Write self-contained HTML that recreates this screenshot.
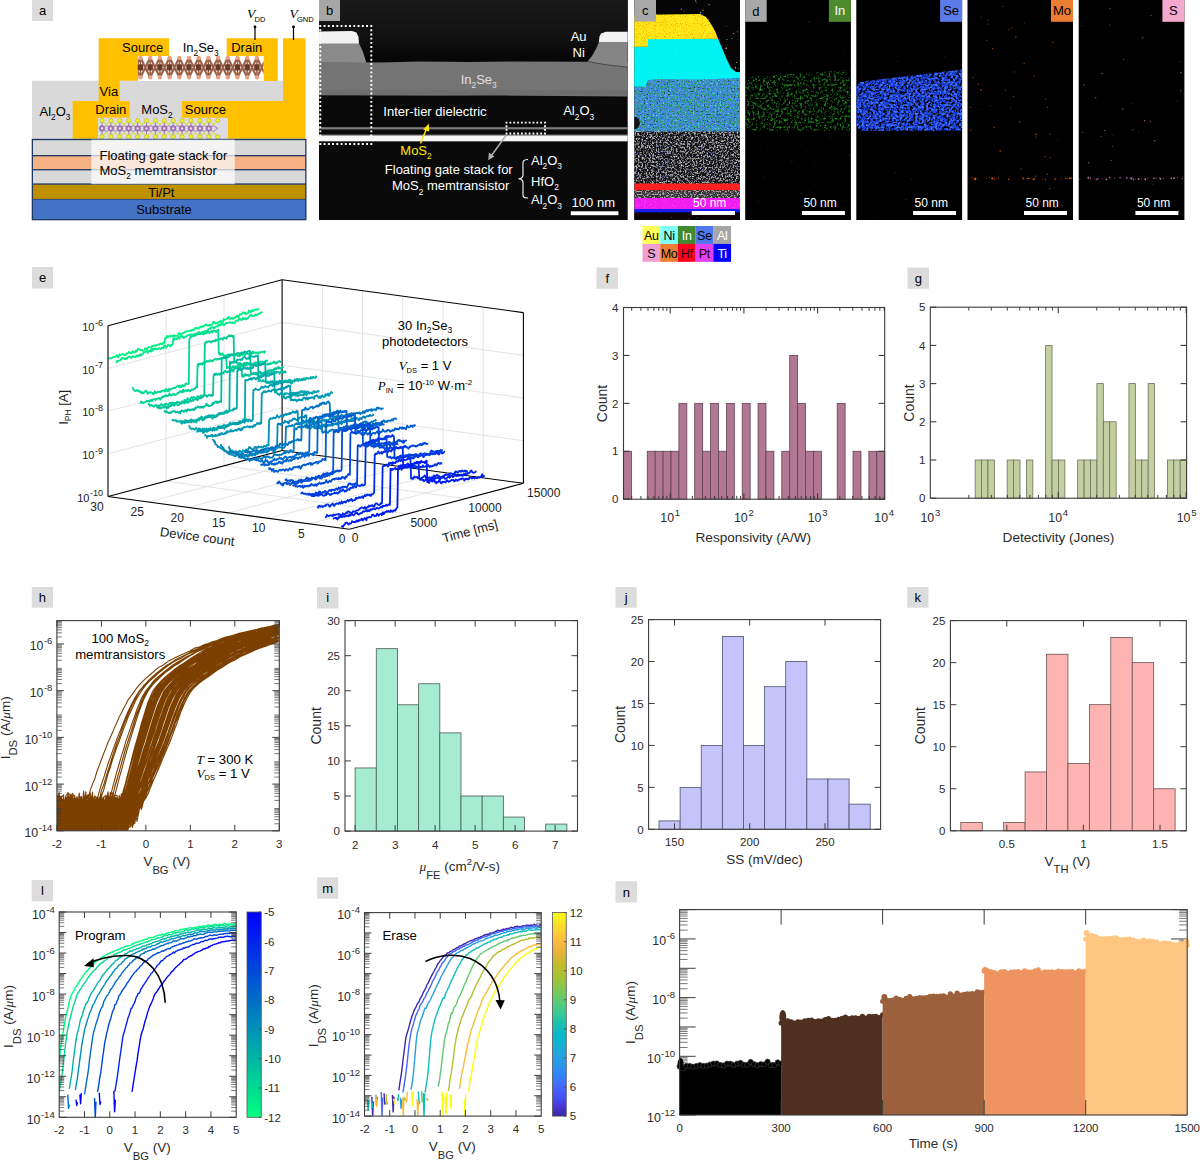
<!DOCTYPE html>
<html><head><meta charset="utf-8"><style>
html,body{margin:0;padding:0;background:#fff;width:1200px;height:1160px;overflow:hidden}
svg{display:block}
</style></head><body>
<svg width="1200" height="1160" viewBox="0 0 1200 1160" font-family="Liberation Sans, sans-serif">
<defs><filter id="nf1" x="0" y="0" width="1" height="1" color-interpolation-filters="sRGB"><feTurbulence type="fractalNoise" baseFrequency="0.5" numOctaves="1" seed="12"/><feColorMatrix type="matrix" values="0 0 0 0 0.533 0 0 0 0 0.533 0 0 0 0 0.533 2.5 0 0 0 -1.3"/></filter><filter id="nf2" x="0" y="0" width="1" height="1" color-interpolation-filters="sRGB"><feTurbulence type="fractalNoise" baseFrequency="0.6" numOctaves="1" seed="21"/><feColorMatrix type="matrix" values="0 0 0 0 0.188 0 0 0 0 0.627 0 0 0 0 0.314 5 0 0 0 -2.2"/><feGaussianBlur stdDeviation="0.3"/></filter><filter id="nf3" x="0" y="0" width="1" height="1" color-interpolation-filters="sRGB"><feTurbulence type="fractalNoise" baseFrequency="0.6" numOctaves="1" seed="22"/><feColorMatrix type="matrix" values="0 0 0 0 0.353 0 0 0 0 0.565 0 0 0 0 1.000 5 0 0 0 -2.5"/><feGaussianBlur stdDeviation="0.3"/></filter><filter id="nf4" x="0" y="0" width="1" height="1" color-interpolation-filters="sRGB"><feTurbulence type="fractalNoise" baseFrequency="0.6" numOctaves="1" seed="23"/><feColorMatrix type="matrix" values="0 0 0 0 0.314 0 0 0 0 0.847 0 0 0 0 0.878 5 0 0 0 -2.9"/><feGaussianBlur stdDeviation="0.3"/></filter><filter id="nf5" x="0" y="0" width="1" height="1" color-interpolation-filters="sRGB"><feTurbulence type="fractalNoise" baseFrequency="0.8" numOctaves="1" seed="24"/><feColorMatrix type="matrix" values="0 0 0 0 1.000 0 0 0 0 0.251 0 0 0 0 0.439 6 0 0 0 -4.3"/><feGaussianBlur stdDeviation="0.3"/></filter><filter id="nf6" x="0" y="0" width="1" height="1" color-interpolation-filters="sRGB"><feTurbulence type="fractalNoise" baseFrequency="0.7" numOctaves="1" seed="25"/><feColorMatrix type="matrix" values="0 0 0 0 0.094 0 0 0 0 0.188 0 0 0 0 0.282 5 0 0 0 -3.0"/><feGaussianBlur stdDeviation="0.3"/></filter><filter id="nf7" x="0" y="0" width="1" height="1" color-interpolation-filters="sRGB"><feTurbulence type="fractalNoise" baseFrequency="0.9" numOctaves="1" seed="26"/><feColorMatrix type="matrix" values="0 0 0 0 0.502 0 0 0 0 1.000 0 0 0 0 1.000 5 0 0 0 -3.5"/></filter><filter id="nf8" x="0" y="0" width="1" height="1" color-interpolation-filters="sRGB"><feTurbulence type="fractalNoise" baseFrequency="0.9" numOctaves="1" seed="27"/><feColorMatrix type="matrix" values="0 0 0 0 1.000 0 0 0 0 0.604 0 0 0 0 0.000 5 0 0 0 -2.8"/></filter><filter id="nf9" x="0" y="0" width="1" height="1" color-interpolation-filters="sRGB"><feTurbulence type="fractalNoise" baseFrequency="0.55" numOctaves="2" seed="31"/><feColorMatrix type="matrix" values="0 0 0 0 0.627 0 0 0 0 0.627 0 0 0 0 0.627 5 0 0 0 -2.35"/><feGaussianBlur stdDeviation="0.4"/></filter><filter id="nf10" x="0" y="0" width="1" height="1" color-interpolation-filters="sRGB"><feTurbulence type="fractalNoise" baseFrequency="0.8" numOctaves="1" seed="36"/><feColorMatrix type="matrix" values="0 0 0 0 0.816 0 0 0 0 0.816 0 0 0 0 0.816 6 0 0 0 -3.6"/><feGaussianBlur stdDeviation="0.3"/></filter><filter id="nf11" x="0" y="0" width="1" height="1" color-interpolation-filters="sRGB"><feTurbulence type="fractalNoise" baseFrequency="0.8" numOctaves="1" seed="32"/><feColorMatrix type="matrix" values="0 0 0 0 0.188 0 0 0 0 0.251 0 0 0 0 0.816 6 0 0 0 -3.9"/><feGaussianBlur stdDeviation="0.3"/></filter><filter id="nf12" x="0" y="0" width="1" height="1" color-interpolation-filters="sRGB"><feTurbulence type="fractalNoise" baseFrequency="1.0" numOctaves="1" seed="33"/><feColorMatrix type="matrix" values="0 0 0 0 0.502 0 0 0 0 0.125 0 0 0 0 0.125 5 0 0 0 -3.2"/></filter><filter id="nf13" x="0" y="0" width="1" height="1" color-interpolation-filters="sRGB"><feTurbulence type="fractalNoise" baseFrequency="0.7" numOctaves="1" seed="34"/><feColorMatrix type="matrix" values="0 0 0 0 0.690 0 0 0 0 0.690 0 0 0 0 0.690 5 0 0 0 -2.3"/><feGaussianBlur stdDeviation="0.35"/></filter><filter id="nf14" x="0" y="0" width="1" height="1" color-interpolation-filters="sRGB"><feTurbulence type="fractalNoise" baseFrequency="0.9" numOctaves="1" seed="35"/><feColorMatrix type="matrix" values="0 0 0 0 1.000 0 0 0 0 0.376 0 0 0 0 1.000 5 0 0 0 -3"/></filter><filter id="nf15" x="0" y="0" width="1" height="1" color-interpolation-filters="sRGB"><feTurbulence type="fractalNoise" baseFrequency="0.38" numOctaves="2" seed="41"/><feColorMatrix type="matrix" values="0 0 0 0 0.086 0 0 0 0 0.408 0 0 0 0 0.086 5 0 0 0 -2.6"/><feGaussianBlur stdDeviation="0.4"/></filter><filter id="nf16" x="0" y="0" width="1" height="1" color-interpolation-filters="sRGB"><feTurbulence type="fractalNoise" baseFrequency="0.45" numOctaves="1" seed="42"/><feColorMatrix type="matrix" values="0 0 0 0 0.165 0 0 0 0 0.604 0 0 0 0 0.165 6 0 0 0 -3.7"/><feGaussianBlur stdDeviation="0.4"/></filter><filter id="nf17" x="0" y="0" width="1" height="1" color-interpolation-filters="sRGB"><feTurbulence type="fractalNoise" baseFrequency="0.38" numOctaves="2" seed="51"/><feColorMatrix type="matrix" values="0 0 0 0 0.110 0 0 0 0 0.251 0 0 0 0 0.878 5 0 0 0 -1.8"/><feGaussianBlur stdDeviation="0.4"/></filter><filter id="nf18" x="0" y="0" width="1" height="1" color-interpolation-filters="sRGB"><feTurbulence type="fractalNoise" baseFrequency="0.45" numOctaves="1" seed="52"/><feColorMatrix type="matrix" values="0 0 0 0 0.235 0 0 0 0 0.439 0 0 0 0 1.000 6 0 0 0 -3.0"/><feGaussianBlur stdDeviation="0.4"/></filter></defs>
<rect x="32" y="0" width="21" height="21" fill="#dcdcdc" />
<text x="42.5" y="15.18" font-size="13" fill="#000" text-anchor="middle" font-family='"Liberation Sans", sans-serif' >a</text>
<rect x="32" y="80.7" width="251" height="58.1" fill="#D9D9D9" />
<polygon points="98.7,38.2 169,38.2 169,56 138,56 138,80.7 119.7,80.7 119.7,101.2 98.7,101.2" fill="#FFC000" />
<polygon points="72.7,101 129.7,101 129.7,117.8 98.2,117.8 98.2,138.8 72.7,138.8" fill="#FFC000" />
<polygon points="226.7,38.2 277.7,38.2 277.7,81 263.5,81 263.5,56 226.7,56" fill="#FFC000" />
<polygon points="283,38.2 305.6,38.2 305.6,138.8 228,138.8 228,118 181.9,118 181.9,101 283,101" fill="#FFC000" />
<rect x="138" y="56" width="125.5" height="25" fill="#ffffff" />
<clipPath id="clipIn"><rect x="138" y="56" width="125.5" height="25"/></clipPath>
<path d="M130.8 57.5L140.5 77.5M140.5 57.5L130.8 77.5 M140.5 57.5L150.2 77.5M150.2 57.5L140.5 77.5 M150.2 57.5L159.9 77.5M159.9 57.5L150.2 77.5 M159.9 57.5L169.6 77.5M169.6 57.5L159.9 77.5 M169.6 57.5L179.3 77.5M179.3 57.5L169.6 77.5 M179.3 57.5L189 77.5M189 57.5L179.3 77.5 M189 57.5L198.7 77.5M198.7 57.5L189 77.5 M198.7 57.5L208.4 77.5M208.4 57.5L198.7 77.5 M208.4 57.5L218.1 77.5M218.1 57.5L208.4 77.5 M218.1 57.5L227.8 77.5M227.8 57.5L218.1 77.5 M227.8 57.5L237.5 77.5M237.5 57.5L227.8 77.5 M237.5 57.5L247.2 77.5M247.2 57.5L237.5 77.5 M247.2 57.5L256.9 77.5M256.9 57.5L247.2 77.5 M256.9 57.5L266.6 77.5M266.6 57.5L256.9 77.5" stroke="#C08068" stroke-width="2.4" fill="none" clip-path="url(#clipIn)"/>
<path d="M130.8 57.5L140.5 77.5M140.5 57.5L130.8 77.5 M140.5 57.5L150.2 77.5M150.2 57.5L140.5 77.5 M150.2 57.5L159.9 77.5M159.9 57.5L150.2 77.5 M159.9 57.5L169.6 77.5M169.6 57.5L159.9 77.5 M169.6 57.5L179.3 77.5M179.3 57.5L169.6 77.5 M179.3 57.5L189 77.5M189 57.5L179.3 77.5 M189 57.5L198.7 77.5M198.7 57.5L189 77.5 M198.7 57.5L208.4 77.5M208.4 57.5L198.7 77.5 M208.4 57.5L218.1 77.5M218.1 57.5L208.4 77.5 M218.1 57.5L227.8 77.5M227.8 57.5L218.1 77.5 M227.8 57.5L237.5 77.5M237.5 57.5L227.8 77.5 M237.5 57.5L247.2 77.5M247.2 57.5L237.5 77.5 M247.2 57.5L256.9 77.5M256.9 57.5L247.2 77.5 M256.9 57.5L266.6 77.5M266.6 57.5L256.9 77.5" stroke="#8E5A44" stroke-width="1.2" fill="none" clip-path="url(#clipIn)"/>
<path d="M140.5 57.5L140.5 77.5 M150.2 57.5L150.2 77.5 M159.9 57.5L159.9 77.5 M169.6 57.5L169.6 77.5 M179.3 57.5L179.3 77.5 M189 57.5L189 77.5 M198.7 57.5L198.7 77.5 M208.4 57.5L208.4 77.5 M218.1 57.5L218.1 77.5 M227.8 57.5L227.8 77.5 M237.5 57.5L237.5 77.5 M247.2 57.5L247.2 77.5 M256.9 57.5L256.9 77.5" stroke="#6a5040" stroke-width="1.2" fill="none"/>
<rect x="137.8" y="64.3" width="5.4" height="6.2" rx="1" fill="#6A3A28"/>
<circle cx="140.5" cy="57.9" r="2.2" fill="#E8A080"/>
<circle cx="140.5" cy="77.2" r="2.2" fill="#E8A080"/>
<circle cx="140.5" cy="62" r="1.1" fill="#b07050"/>
<circle cx="140.5" cy="72.5" r="1.1" fill="#b07050"/>
<rect x="147.5" y="64.3" width="5.4" height="6.2" rx="1" fill="#6A3A28"/>
<circle cx="150.2" cy="57.9" r="2.2" fill="#E8A080"/>
<circle cx="150.2" cy="77.2" r="2.2" fill="#E8A080"/>
<circle cx="150.2" cy="62" r="1.1" fill="#b07050"/>
<circle cx="150.2" cy="72.5" r="1.1" fill="#b07050"/>
<rect x="157.2" y="64.3" width="5.4" height="6.2" rx="1" fill="#6A3A28"/>
<circle cx="159.9" cy="57.9" r="2.2" fill="#E8A080"/>
<circle cx="159.9" cy="77.2" r="2.2" fill="#E8A080"/>
<circle cx="159.9" cy="62" r="1.1" fill="#b07050"/>
<circle cx="159.9" cy="72.5" r="1.1" fill="#b07050"/>
<rect x="166.9" y="64.3" width="5.4" height="6.2" rx="1" fill="#6A3A28"/>
<circle cx="169.6" cy="57.9" r="2.2" fill="#E8A080"/>
<circle cx="169.6" cy="77.2" r="2.2" fill="#E8A080"/>
<circle cx="169.6" cy="62" r="1.1" fill="#b07050"/>
<circle cx="169.6" cy="72.5" r="1.1" fill="#b07050"/>
<rect x="176.6" y="64.3" width="5.4" height="6.2" rx="1" fill="#6A3A28"/>
<circle cx="179.3" cy="57.9" r="2.2" fill="#E8A080"/>
<circle cx="179.3" cy="77.2" r="2.2" fill="#E8A080"/>
<circle cx="179.3" cy="62" r="1.1" fill="#b07050"/>
<circle cx="179.3" cy="72.5" r="1.1" fill="#b07050"/>
<rect x="186.3" y="64.3" width="5.4" height="6.2" rx="1" fill="#6A3A28"/>
<circle cx="189" cy="57.9" r="2.2" fill="#E8A080"/>
<circle cx="189" cy="77.2" r="2.2" fill="#E8A080"/>
<circle cx="189" cy="62" r="1.1" fill="#b07050"/>
<circle cx="189" cy="72.5" r="1.1" fill="#b07050"/>
<rect x="196" y="64.3" width="5.4" height="6.2" rx="1" fill="#6A3A28"/>
<circle cx="198.7" cy="57.9" r="2.2" fill="#E8A080"/>
<circle cx="198.7" cy="77.2" r="2.2" fill="#E8A080"/>
<circle cx="198.7" cy="62" r="1.1" fill="#b07050"/>
<circle cx="198.7" cy="72.5" r="1.1" fill="#b07050"/>
<rect x="205.7" y="64.3" width="5.4" height="6.2" rx="1" fill="#6A3A28"/>
<circle cx="208.4" cy="57.9" r="2.2" fill="#E8A080"/>
<circle cx="208.4" cy="77.2" r="2.2" fill="#E8A080"/>
<circle cx="208.4" cy="62" r="1.1" fill="#b07050"/>
<circle cx="208.4" cy="72.5" r="1.1" fill="#b07050"/>
<rect x="215.4" y="64.3" width="5.4" height="6.2" rx="1" fill="#6A3A28"/>
<circle cx="218.1" cy="57.9" r="2.2" fill="#E8A080"/>
<circle cx="218.1" cy="77.2" r="2.2" fill="#E8A080"/>
<circle cx="218.1" cy="62" r="1.1" fill="#b07050"/>
<circle cx="218.1" cy="72.5" r="1.1" fill="#b07050"/>
<rect x="225.1" y="64.3" width="5.4" height="6.2" rx="1" fill="#6A3A28"/>
<circle cx="227.8" cy="57.9" r="2.2" fill="#E8A080"/>
<circle cx="227.8" cy="77.2" r="2.2" fill="#E8A080"/>
<circle cx="227.8" cy="62" r="1.1" fill="#b07050"/>
<circle cx="227.8" cy="72.5" r="1.1" fill="#b07050"/>
<rect x="234.8" y="64.3" width="5.4" height="6.2" rx="1" fill="#6A3A28"/>
<circle cx="237.5" cy="57.9" r="2.2" fill="#E8A080"/>
<circle cx="237.5" cy="77.2" r="2.2" fill="#E8A080"/>
<circle cx="237.5" cy="62" r="1.1" fill="#b07050"/>
<circle cx="237.5" cy="72.5" r="1.1" fill="#b07050"/>
<rect x="244.5" y="64.3" width="5.4" height="6.2" rx="1" fill="#6A3A28"/>
<circle cx="247.2" cy="57.9" r="2.2" fill="#E8A080"/>
<circle cx="247.2" cy="77.2" r="2.2" fill="#E8A080"/>
<circle cx="247.2" cy="62" r="1.1" fill="#b07050"/>
<circle cx="247.2" cy="72.5" r="1.1" fill="#b07050"/>
<rect x="254.2" y="64.3" width="5.4" height="6.2" rx="1" fill="#6A3A28"/>
<circle cx="256.9" cy="57.9" r="2.2" fill="#E8A080"/>
<circle cx="256.9" cy="77.2" r="2.2" fill="#E8A080"/>
<circle cx="256.9" cy="62" r="1.1" fill="#b07050"/>
<circle cx="256.9" cy="72.5" r="1.1" fill="#b07050"/>
<rect x="98.2" y="117.8" width="129.8" height="21" fill="#dcdce2" />
<path d="M102 120.5L106.45 124.5L110.9 120.5 M102 136.7L106.45 132.5L110.9 136.7 M110.9 120.5L115.35 124.5L119.8 120.5 M110.9 136.7L115.35 132.5L119.8 136.7 M119.8 120.5L124.25 124.5L128.7 120.5 M119.8 136.7L124.25 132.5L128.7 136.7 M128.7 120.5L133.15 124.5L137.6 120.5 M128.7 136.7L133.15 132.5L137.6 136.7 M137.6 120.5L142.05 124.5L146.5 120.5 M137.6 136.7L142.05 132.5L146.5 136.7 M146.5 120.5L150.95 124.5L155.4 120.5 M146.5 136.7L150.95 132.5L155.4 136.7 M155.4 120.5L159.85 124.5L164.3 120.5 M155.4 136.7L159.85 132.5L164.3 136.7 M164.3 120.5L168.75 124.5L173.2 120.5 M164.3 136.7L168.75 132.5L173.2 136.7 M173.2 120.5L177.65 124.5L182.1 120.5 M173.2 136.7L177.65 132.5L182.1 136.7 M182.1 120.5L186.55 124.5L191 120.5 M182.1 136.7L186.55 132.5L191 136.7 M191 120.5L195.45 124.5L199.9 120.5 M191 136.7L195.45 132.5L199.9 136.7 M199.9 120.5L204.35 124.5L208.8 120.5 M199.9 136.7L204.35 132.5L208.8 136.7 M208.8 120.5L213.25 124.5L217.7 120.5 M208.8 136.7L213.25 132.5L217.7 136.7" stroke="#E0E040" stroke-width="1.1" fill="none"/>
<path d="M102 120.5L102 136.7M102 128.4L106.45 125.5M102 128.4L106.45 131.5M110.9 128.4L106.45 125.5M110.9 128.4L106.45 131.5 M110.9 120.5L110.9 136.7M110.9 128.4L115.35 125.5M110.9 128.4L115.35 131.5M119.8 128.4L115.35 125.5M119.8 128.4L115.35 131.5 M119.8 120.5L119.8 136.7M119.8 128.4L124.25 125.5M119.8 128.4L124.25 131.5M128.7 128.4L124.25 125.5M128.7 128.4L124.25 131.5 M128.7 120.5L128.7 136.7M128.7 128.4L133.15 125.5M128.7 128.4L133.15 131.5M137.6 128.4L133.15 125.5M137.6 128.4L133.15 131.5 M137.6 120.5L137.6 136.7M137.6 128.4L142.05 125.5M137.6 128.4L142.05 131.5M146.5 128.4L142.05 125.5M146.5 128.4L142.05 131.5 M146.5 120.5L146.5 136.7M146.5 128.4L150.95 125.5M146.5 128.4L150.95 131.5M155.4 128.4L150.95 125.5M155.4 128.4L150.95 131.5 M155.4 120.5L155.4 136.7M155.4 128.4L159.85 125.5M155.4 128.4L159.85 131.5M164.3 128.4L159.85 125.5M164.3 128.4L159.85 131.5 M164.3 120.5L164.3 136.7M164.3 128.4L168.75 125.5M164.3 128.4L168.75 131.5M173.2 128.4L168.75 125.5M173.2 128.4L168.75 131.5 M173.2 120.5L173.2 136.7M173.2 128.4L177.65 125.5M173.2 128.4L177.65 131.5M182.1 128.4L177.65 125.5M182.1 128.4L177.65 131.5 M182.1 120.5L182.1 136.7M182.1 128.4L186.55 125.5M182.1 128.4L186.55 131.5M191 128.4L186.55 125.5M191 128.4L186.55 131.5 M191 120.5L191 136.7M191 128.4L195.45 125.5M191 128.4L195.45 131.5M199.9 128.4L195.45 125.5M199.9 128.4L195.45 131.5 M199.9 120.5L199.9 136.7M199.9 128.4L204.35 125.5M199.9 128.4L204.35 131.5M208.8 128.4L204.35 125.5M208.8 128.4L204.35 131.5 M208.8 120.5L208.8 136.7M208.8 128.4L213.25 125.5M208.8 128.4L213.25 131.5M217.7 128.4L213.25 125.5M217.7 128.4L213.25 131.5" stroke="#9870a8" stroke-width="0.9" fill="none"/>
<circle cx="102" cy="120.5" r="2.1" fill="#F0F030" stroke="#a8a820" stroke-width="0.5"/>
<circle cx="102" cy="136.7" r="2.1" fill="#F0F030" stroke="#a8a820" stroke-width="0.5"/>
<circle cx="110.9" cy="120.5" r="2.1" fill="#F0F030" stroke="#a8a820" stroke-width="0.5"/>
<circle cx="110.9" cy="136.7" r="2.1" fill="#F0F030" stroke="#a8a820" stroke-width="0.5"/>
<circle cx="119.8" cy="120.5" r="2.1" fill="#F0F030" stroke="#a8a820" stroke-width="0.5"/>
<circle cx="119.8" cy="136.7" r="2.1" fill="#F0F030" stroke="#a8a820" stroke-width="0.5"/>
<circle cx="128.7" cy="120.5" r="2.1" fill="#F0F030" stroke="#a8a820" stroke-width="0.5"/>
<circle cx="128.7" cy="136.7" r="2.1" fill="#F0F030" stroke="#a8a820" stroke-width="0.5"/>
<circle cx="137.6" cy="120.5" r="2.1" fill="#F0F030" stroke="#a8a820" stroke-width="0.5"/>
<circle cx="137.6" cy="136.7" r="2.1" fill="#F0F030" stroke="#a8a820" stroke-width="0.5"/>
<circle cx="146.5" cy="120.5" r="2.1" fill="#F0F030" stroke="#a8a820" stroke-width="0.5"/>
<circle cx="146.5" cy="136.7" r="2.1" fill="#F0F030" stroke="#a8a820" stroke-width="0.5"/>
<circle cx="155.4" cy="120.5" r="2.1" fill="#F0F030" stroke="#a8a820" stroke-width="0.5"/>
<circle cx="155.4" cy="136.7" r="2.1" fill="#F0F030" stroke="#a8a820" stroke-width="0.5"/>
<circle cx="164.3" cy="120.5" r="2.1" fill="#F0F030" stroke="#a8a820" stroke-width="0.5"/>
<circle cx="164.3" cy="136.7" r="2.1" fill="#F0F030" stroke="#a8a820" stroke-width="0.5"/>
<circle cx="173.2" cy="120.5" r="2.1" fill="#F0F030" stroke="#a8a820" stroke-width="0.5"/>
<circle cx="173.2" cy="136.7" r="2.1" fill="#F0F030" stroke="#a8a820" stroke-width="0.5"/>
<circle cx="182.1" cy="120.5" r="2.1" fill="#F0F030" stroke="#a8a820" stroke-width="0.5"/>
<circle cx="182.1" cy="136.7" r="2.1" fill="#F0F030" stroke="#a8a820" stroke-width="0.5"/>
<circle cx="191" cy="120.5" r="2.1" fill="#F0F030" stroke="#a8a820" stroke-width="0.5"/>
<circle cx="191" cy="136.7" r="2.1" fill="#F0F030" stroke="#a8a820" stroke-width="0.5"/>
<circle cx="199.9" cy="120.5" r="2.1" fill="#F0F030" stroke="#a8a820" stroke-width="0.5"/>
<circle cx="199.9" cy="136.7" r="2.1" fill="#F0F030" stroke="#a8a820" stroke-width="0.5"/>
<circle cx="208.8" cy="120.5" r="2.1" fill="#F0F030" stroke="#a8a820" stroke-width="0.5"/>
<circle cx="208.8" cy="136.7" r="2.1" fill="#F0F030" stroke="#a8a820" stroke-width="0.5"/>
<circle cx="217.7" cy="120.5" r="2.1" fill="#F0F030" stroke="#a8a820" stroke-width="0.5"/>
<circle cx="217.7" cy="136.7" r="2.1" fill="#F0F030" stroke="#a8a820" stroke-width="0.5"/>
<circle cx="102" cy="128.4" r="2.8" fill="#A878B8" stroke="#8a5a9a" stroke-width="0.5"/>
<circle cx="102" cy="128.4" r="1.1" fill="#f4e4f4"/>
<circle cx="110.9" cy="128.4" r="2.8" fill="#A878B8" stroke="#8a5a9a" stroke-width="0.5"/>
<circle cx="110.9" cy="128.4" r="1.1" fill="#f4e4f4"/>
<circle cx="119.8" cy="128.4" r="2.8" fill="#A878B8" stroke="#8a5a9a" stroke-width="0.5"/>
<circle cx="119.8" cy="128.4" r="1.1" fill="#f4e4f4"/>
<circle cx="128.7" cy="128.4" r="2.8" fill="#A878B8" stroke="#8a5a9a" stroke-width="0.5"/>
<circle cx="128.7" cy="128.4" r="1.1" fill="#f4e4f4"/>
<circle cx="137.6" cy="128.4" r="2.8" fill="#A878B8" stroke="#8a5a9a" stroke-width="0.5"/>
<circle cx="137.6" cy="128.4" r="1.1" fill="#f4e4f4"/>
<circle cx="146.5" cy="128.4" r="2.8" fill="#A878B8" stroke="#8a5a9a" stroke-width="0.5"/>
<circle cx="146.5" cy="128.4" r="1.1" fill="#f4e4f4"/>
<circle cx="155.4" cy="128.4" r="2.8" fill="#A878B8" stroke="#8a5a9a" stroke-width="0.5"/>
<circle cx="155.4" cy="128.4" r="1.1" fill="#f4e4f4"/>
<circle cx="164.3" cy="128.4" r="2.8" fill="#A878B8" stroke="#8a5a9a" stroke-width="0.5"/>
<circle cx="164.3" cy="128.4" r="1.1" fill="#f4e4f4"/>
<circle cx="173.2" cy="128.4" r="2.8" fill="#A878B8" stroke="#8a5a9a" stroke-width="0.5"/>
<circle cx="173.2" cy="128.4" r="1.1" fill="#f4e4f4"/>
<circle cx="182.1" cy="128.4" r="2.8" fill="#A878B8" stroke="#8a5a9a" stroke-width="0.5"/>
<circle cx="182.1" cy="128.4" r="1.1" fill="#f4e4f4"/>
<circle cx="191" cy="128.4" r="2.8" fill="#A878B8" stroke="#8a5a9a" stroke-width="0.5"/>
<circle cx="191" cy="128.4" r="1.1" fill="#f4e4f4"/>
<circle cx="199.9" cy="128.4" r="2.8" fill="#A878B8" stroke="#8a5a9a" stroke-width="0.5"/>
<circle cx="199.9" cy="128.4" r="1.1" fill="#f4e4f4"/>
<circle cx="208.8" cy="128.4" r="2.8" fill="#A878B8" stroke="#8a5a9a" stroke-width="0.5"/>
<circle cx="208.8" cy="128.4" r="1.1" fill="#f4e4f4"/>
<rect x="31.7" y="138.8" width="274.8" height="81.5" fill="#1F3864" />
<rect x="33" y="140.2" width="272.2" height="14.8" fill="#D9D9D9" />
<rect x="33" y="156.3" width="272.2" height="12.8" fill="#F4B183" />
<rect x="33" y="170.4" width="272.2" height="13" fill="#D9D9D9" />
<rect x="33" y="184.7" width="272.2" height="14.2" fill="#BF9000" />
<rect x="33" y="199.6" width="272.2" height="19.4" fill="#4472C4" />
<rect x="91.3" y="139.6" width="143.45" height="44.6" fill="#ffffff" opacity="0.7"/>
<text x="122" y="51.75" font-size="13" fill="#000" text-anchor="start" font-family='"Liberation Sans", sans-serif' >Source</text>
<text x="182.7" y="51.5" font-size="13" fill="#000" text-anchor="start" font-family='"Liberation Sans", sans-serif' >In<tspan font-size="8.3" dy="4.3">2</tspan><tspan dy="-4.3">Se</tspan><tspan font-size="8.3" dy="4.3">3</tspan></text>
<text x="231.2" y="51.75" font-size="13" fill="#000" text-anchor="start" font-family='"Liberation Sans", sans-serif' >Drain</text>
<text x="99.6" y="95.7" font-size="13" fill="#000" text-anchor="start" font-family='"Liberation Sans", sans-serif' >Via</text>
<text x="39.5" y="115.5" font-size="13" fill="#000" text-anchor="start" font-family='"Liberation Sans", sans-serif' >Al<tspan font-size="8.3" dy="4.3">2</tspan><tspan dy="-4.3">O</tspan><tspan font-size="8.3" dy="4.3">3</tspan></text>
<text x="95.25" y="113.75" font-size="13" fill="#000" text-anchor="start" font-family='"Liberation Sans", sans-serif' >Drain</text>
<text x="141.3" y="113.75" font-size="13" fill="#000" text-anchor="start" font-family='"Liberation Sans", sans-serif' >MoS<tspan font-size="8.3" dy="4.3">2</tspan></text>
<text x="184.8" y="113.75" font-size="13" fill="#000" text-anchor="start" font-family='"Liberation Sans", sans-serif' >Source</text>
<text x="99.5" y="159.6" font-size="13" fill="#000" text-anchor="start" font-family='"Liberation Sans", sans-serif' >Floating gate stack for</text>
<text x="99.5" y="175" font-size="13" fill="#000" text-anchor="start" font-family='"Liberation Sans", sans-serif' >MoS<tspan font-size="8.3" dy="4.3">2</tspan><tspan dy="-4.3"> memtransistor</tspan></text>
<text x="161.3" y="197" font-size="13" fill="#000" text-anchor="middle" font-family='"Liberation Sans", sans-serif' >Ti/Pt</text>
<text x="164" y="214.3" font-size="13" fill="#000" text-anchor="middle" font-family='"Liberation Sans", sans-serif' >Substrate</text>
<line x1="255" y1="27" x2="255" y2="40" stroke="#000" stroke-width="1.2" />
<circle cx="255" cy="27" r="1.4" fill="#000"/>
<line x1="293.5" y1="27" x2="293.5" y2="40" stroke="#000" stroke-width="1.2" />
<circle cx="293.5" cy="27" r="1.4" fill="#000"/>
<text x="247" y="17.5" font-size="13.5" fill="#000" text-anchor="start" font-family='"Liberation Serif", serif' font-style="italic">V</text>
<text x="254.5" y="21.5" font-size="7.5" fill="#000" text-anchor="start" font-family='"Liberation Sans", sans-serif' >DD</text>
<text x="289.5" y="17.5" font-size="13.5" fill="#000" text-anchor="start" font-family='"Liberation Serif", serif' font-style="italic">V</text>
<text x="297" y="21.5" font-size="7.5" fill="#000" text-anchor="start" font-family='"Liberation Sans", sans-serif' >GND</text>
<rect x="319" y="0" width="308.7" height="220" fill="#0a0a0a" />
<linearGradient id="gbtop" x1="0" y1="0" x2="0" y2="1"><stop offset="0" stop-color="#1a1a1a"/><stop offset="0.6" stop-color="#111"/><stop offset="1" stop-color="#050505"/></linearGradient>
<rect x="319" y="0" width="308.7" height="62" fill="url(#gbtop)" />
<path d="M319 31.5L352 31L356.5 32.5L358.5 37L359 44L319 44Z" fill="#f2f2f2"/>
<path d="M319 43.5L359 43.5L363 52L365.5 60L366.5 63L319 63Z" fill="#8a8a8a"/>
<path d="M627.7 31.8L606 31.8L601 33.5L599.5 36.5L598.8 42.5L627.7 42.5Z" fill="#f2f2f2"/>
<path d="M319 62L380 62.5L420 61.5L470 62L520 61.5L590 61.8L627.7 62.5L627.7 96.5L560 96L500 95.3L440 95.5L380 95.3L319 95Z" fill="#747474"/>
<rect x="319" y="62" width="308.7" height="34" fill="#000" filter="url(#nf1)"  opacity="0.35"/>
<rect x="319" y="90" width="308.7" height="5.5" fill="#6a6a6a" opacity="0.6"/>
<path d="M598.8 42.3L627.7 42.3L627.7 67.5L605 65L590 62L587.5 61.5L592 56L596.5 48Z" fill="#858585"/>
<path d="M588 61.6L605 64.6L627.7 67.2" fill="none" stroke="#3a3a3a" stroke-width="0.8"/>
<rect x="319" y="127.2" width="308.7" height="2.2" fill="#7e7e7e" />
<rect x="319" y="135.3" width="308.7" height="5.7" fill="#f6f6f6" />
<rect x="319" y="134.6" width="308.7" height="0.7" fill="#888" />
<rect x="319" y="141" width="308.7" height="0.7" fill="#777" />
<path d="M319.35 25.05h1.9v1.9h-1.9ZM319.35 29.26h1.9v1.9h-1.9ZM319.35 33.48h1.9v1.9h-1.9ZM319.35 37.69h1.9v1.9h-1.9ZM319.35 41.91h1.9v1.9h-1.9ZM319.35 46.12h1.9v1.9h-1.9ZM319.35 50.34h1.9v1.9h-1.9ZM319.35 54.55h1.9v1.9h-1.9ZM319.35 58.76h1.9v1.9h-1.9ZM319.35 62.98h1.9v1.9h-1.9ZM319.35 67.19h1.9v1.9h-1.9ZM319.35 71.41h1.9v1.9h-1.9ZM319.35 75.62h1.9v1.9h-1.9ZM319.35 79.84h1.9v1.9h-1.9ZM319.35 84.05h1.9v1.9h-1.9ZM319.35 88.26h1.9v1.9h-1.9ZM319.35 92.48h1.9v1.9h-1.9ZM319.35 96.69h1.9v1.9h-1.9ZM319.35 100.91h1.9v1.9h-1.9ZM319.35 105.12h1.9v1.9h-1.9ZM319.35 109.34h1.9v1.9h-1.9ZM319.35 113.55h1.9v1.9h-1.9ZM319.35 117.76h1.9v1.9h-1.9ZM319.35 121.98h1.9v1.9h-1.9ZM319.35 126.19h1.9v1.9h-1.9ZM319.35 130.41h1.9v1.9h-1.9ZM319.35 134.62h1.9v1.9h-1.9ZM319.35 138.84h1.9v1.9h-1.9ZM319.35 143.05h1.9v1.9h-1.9ZM323.6 25.05h1.9v1.9h-1.9ZM323.6 143.05h1.9v1.9h-1.9ZM327.85 25.05h1.9v1.9h-1.9ZM327.85 143.05h1.9v1.9h-1.9ZM332.1 25.05h1.9v1.9h-1.9ZM332.1 143.05h1.9v1.9h-1.9ZM336.35 25.05h1.9v1.9h-1.9ZM336.35 143.05h1.9v1.9h-1.9ZM340.6 25.05h1.9v1.9h-1.9ZM340.6 143.05h1.9v1.9h-1.9ZM344.85 25.05h1.9v1.9h-1.9ZM344.85 143.05h1.9v1.9h-1.9ZM349.1 25.05h1.9v1.9h-1.9ZM349.1 143.05h1.9v1.9h-1.9ZM353.35 25.05h1.9v1.9h-1.9ZM353.35 143.05h1.9v1.9h-1.9ZM357.6 25.05h1.9v1.9h-1.9ZM357.6 143.05h1.9v1.9h-1.9ZM361.85 25.05h1.9v1.9h-1.9ZM361.85 143.05h1.9v1.9h-1.9ZM366.1 25.05h1.9v1.9h-1.9ZM366.1 143.05h1.9v1.9h-1.9ZM370.35 25.05h1.9v1.9h-1.9ZM370.35 29.26h1.9v1.9h-1.9ZM370.35 33.48h1.9v1.9h-1.9ZM370.35 37.69h1.9v1.9h-1.9ZM370.35 41.91h1.9v1.9h-1.9ZM370.35 46.12h1.9v1.9h-1.9ZM370.35 50.34h1.9v1.9h-1.9ZM370.35 54.55h1.9v1.9h-1.9ZM370.35 58.76h1.9v1.9h-1.9ZM370.35 62.98h1.9v1.9h-1.9ZM370.35 67.19h1.9v1.9h-1.9ZM370.35 71.41h1.9v1.9h-1.9ZM370.35 75.62h1.9v1.9h-1.9ZM370.35 79.84h1.9v1.9h-1.9ZM370.35 84.05h1.9v1.9h-1.9ZM370.35 88.26h1.9v1.9h-1.9ZM370.35 92.48h1.9v1.9h-1.9ZM370.35 96.69h1.9v1.9h-1.9ZM370.35 100.91h1.9v1.9h-1.9ZM370.35 105.12h1.9v1.9h-1.9ZM370.35 109.34h1.9v1.9h-1.9ZM370.35 113.55h1.9v1.9h-1.9ZM370.35 117.76h1.9v1.9h-1.9ZM370.35 121.98h1.9v1.9h-1.9ZM370.35 126.19h1.9v1.9h-1.9ZM370.35 130.41h1.9v1.9h-1.9ZM370.35 134.62h1.9v1.9h-1.9ZM370.35 138.84h1.9v1.9h-1.9ZM370.35 143.05h1.9v1.9h-1.9Z" fill="#fff"/>
<path d="M505.6 121.7h1.8v1.8h-1.8ZM505.6 125.33h1.8v1.8h-1.8ZM505.6 128.97h1.8v1.8h-1.8ZM505.6 132.6h1.8v1.8h-1.8ZM509.45 121.7h1.8v1.8h-1.8ZM509.45 132.6h1.8v1.8h-1.8ZM513.3 121.7h1.8v1.8h-1.8ZM513.3 132.6h1.8v1.8h-1.8ZM517.15 121.7h1.8v1.8h-1.8ZM517.15 132.6h1.8v1.8h-1.8ZM521 121.7h1.8v1.8h-1.8ZM521 132.6h1.8v1.8h-1.8ZM524.85 121.7h1.8v1.8h-1.8ZM524.85 132.6h1.8v1.8h-1.8ZM528.7 121.7h1.8v1.8h-1.8ZM528.7 132.6h1.8v1.8h-1.8ZM532.55 121.7h1.8v1.8h-1.8ZM532.55 132.6h1.8v1.8h-1.8ZM536.4 121.7h1.8v1.8h-1.8ZM536.4 132.6h1.8v1.8h-1.8ZM540.25 121.7h1.8v1.8h-1.8ZM540.25 132.6h1.8v1.8h-1.8ZM544.1 121.7h1.8v1.8h-1.8ZM544.1 125.33h1.8v1.8h-1.8ZM544.1 128.97h1.8v1.8h-1.8ZM544.1 132.6h1.8v1.8h-1.8Z" fill="#fff"/>
<text x="460.7" y="83.9" font-size="13" fill="#e0e0e0" text-anchor="start" font-family='"Liberation Sans", sans-serif' >In<tspan font-size="8.3" dy="4.3">2</tspan><tspan dy="-4.3">Se</tspan><tspan font-size="8.3" dy="4.3">3</tspan></text>
<text x="383.3" y="116" font-size="13" fill="#ffffff" text-anchor="start" font-family='"Liberation Sans", sans-serif' >Inter-tier dielectric</text>
<text x="563.2" y="115.3" font-size="13" fill="#ffffff" text-anchor="start" font-family='"Liberation Sans", sans-serif' >Al<tspan font-size="8.3" dy="4.3">2</tspan><tspan dy="-4.3">O</tspan><tspan font-size="8.3" dy="4.3">3</tspan></text>
<text x="570.7" y="40.7" font-size="13" fill="#ffffff" text-anchor="start" font-family='"Liberation Sans", sans-serif' >Au</text>
<text x="572.6" y="56.6" font-size="13" fill="#ffffff" text-anchor="start" font-family='"Liberation Sans", sans-serif' >Ni</text>
<text x="400.3" y="154.7" font-size="13" fill="#FFE800" text-anchor="start" font-family='"Liberation Sans", sans-serif' >MoS<tspan font-size="8.3" dy="4.3">2</tspan></text>
<line x1="420.5" y1="143.5" x2="426.2" y2="129.5" stroke="#FFE800" stroke-width="1.5" />
<polygon points="428.8,123.5 423.2,129.8 429.2,131.6" fill="#FFE800" />
<line x1="506" y1="135.5" x2="491.5" y2="155.5" stroke="#b0b0b0" stroke-width="1.4" />
<polygon points="488.3,160.2 488.9,152.6 494.4,156.6" fill="#b0b0b0" />
<text x="384.8" y="174" font-size="13" fill="#ffffff" text-anchor="start" font-family='"Liberation Sans", sans-serif' >Floating gate stack for</text>
<text x="392" y="190.4" font-size="13" fill="#ffffff" text-anchor="start" font-family='"Liberation Sans", sans-serif' >MoS<tspan font-size="8.3" dy="4.3">2</tspan><tspan dy="-4.3"> memtransistor</tspan></text>
<path d="M528 159.5C522 159.5 523 162 523 166L523 175C523 177.5 522 178.5 518.5 178.8C522 179.1 523 180 523 182.5L523 191.5C523 196 522 198 528 198" fill="none" stroke="#fff" stroke-width="1.1"/>
<text x="531" y="164.6" font-size="13" fill="#ffffff" text-anchor="start" font-family='"Liberation Sans", sans-serif' >Al<tspan font-size="8.3" dy="4.3">2</tspan><tspan dy="-4.3">O</tspan><tspan font-size="8.3" dy="4.3">3</tspan></text>
<text x="531" y="185.5" font-size="13" fill="#ffffff" text-anchor="start" font-family='"Liberation Sans", sans-serif' >HfO<tspan font-size="8.3" dy="4.3">2</tspan></text>
<text x="531" y="204.3" font-size="13" fill="#ffffff" text-anchor="start" font-family='"Liberation Sans", sans-serif' >Al<tspan font-size="8.3" dy="4.3">2</tspan><tspan dy="-4.3">O</tspan><tspan font-size="8.3" dy="4.3">3</tspan></text>
<text x="571.6" y="207.3" font-size="13" fill="#ffffff" text-anchor="start" font-family='"Liberation Sans", sans-serif' >100 nm</text>
<rect x="570.8" y="211.3" width="47.6" height="3.9" fill="#ffffff" />
<rect x="319" y="0" width="21" height="21" fill="#a6a6a6" />
<text x="329.5" y="15.18" font-size="13" fill="#000" text-anchor="middle" font-family='"Liberation Sans", sans-serif' >b</text>
<clipPath id="clipC"><rect x="634.3" y="0" width="105.70000000000005" height="220"/></clipPath>
<rect x="634.3" y="0" width="105.7" height="220" fill="#050505" />
<circle cx="700.14" cy="51.93" r="0.72" fill="#ff8040" opacity="0.8"/>
<circle cx="703.22" cy="37.1" r="0.74" fill="#40ffff" opacity="0.8"/>
<circle cx="702.9" cy="63.06" r="0.45" fill="#ff4040" opacity="0.8"/>
<circle cx="726.09" cy="26.65" r="0.44" fill="#40ffff" opacity="0.8"/>
<circle cx="635.69" cy="15.17" r="0.51" fill="#ff4040" opacity="0.8"/>
<circle cx="651.17" cy="55.8" r="0.46" fill="#4060ff" opacity="0.8"/>
<circle cx="681.32" cy="9.26" r="0.79" fill="#ff40ff" opacity="0.8"/>
<circle cx="656.44" cy="15.08" r="0.79" fill="#40ffff" opacity="0.8"/>
<circle cx="664.88" cy="67.3" r="0.62" fill="#ff8040" opacity="0.8"/>
<circle cx="700.44" cy="12.72" r="0.79" fill="#40ffff" opacity="0.8"/>
<circle cx="736.47" cy="62.56" r="0.52" fill="#ffff40" opacity="0.8"/>
<circle cx="678.16" cy="65.51" r="0.51" fill="#ffff40" opacity="0.8"/>
<circle cx="666.15" cy="42.22" r="0.4" fill="#ff8040" opacity="0.8"/>
<circle cx="709.1" cy="4.62" r="0.54" fill="#ffff40" opacity="0.8"/>
<circle cx="685.11" cy="22.11" r="0.59" fill="#ff8040" opacity="0.8"/>
<circle cx="652.92" cy="17.93" r="0.78" fill="#ff8040" opacity="0.8"/>
<circle cx="672.1" cy="28.3" r="0.62" fill="#ff4040" opacity="0.8"/>
<circle cx="673.01" cy="40.5" r="0.4" fill="#ff40ff" opacity="0.8"/>
<circle cx="709.11" cy="43.66" r="0.78" fill="#ff40ff" opacity="0.8"/>
<circle cx="714.18" cy="65.08" r="0.78" fill="#ffff40" opacity="0.8"/>
<circle cx="688.47" cy="62.49" r="0.5" fill="#ff4040" opacity="0.8"/>
<circle cx="645.72" cy="52.39" r="0.72" fill="#ffff40" opacity="0.8"/>
<circle cx="638.17" cy="66.21" r="0.44" fill="#ffff40" opacity="0.8"/>
<circle cx="688.51" cy="25.38" r="0.46" fill="#ffff40" opacity="0.8"/>
<circle cx="731.99" cy="38.16" r="0.52" fill="#ffff40" opacity="0.8"/>
<circle cx="666.66" cy="55.91" r="0.65" fill="#ff8040" opacity="0.8"/>
<circle cx="707.15" cy="69.77" r="0.46" fill="#ff40ff" opacity="0.8"/>
<circle cx="642.86" cy="42.05" r="0.77" fill="#ff40ff" opacity="0.8"/>
<circle cx="659.39" cy="41.58" r="0.73" fill="#ff4040" opacity="0.8"/>
<circle cx="703.11" cy="10.19" r="0.79" fill="#ff8040" opacity="0.8"/>
<circle cx="637.76" cy="34.55" r="0.74" fill="#40ffff" opacity="0.8"/>
<circle cx="738.02" cy="39.48" r="0.45" fill="#ff4040" opacity="0.8"/>
<circle cx="645.57" cy="30.42" r="0.46" fill="#ff4040" opacity="0.8"/>
<circle cx="665.46" cy="31.72" r="0.8" fill="#40ffff" opacity="0.8"/>
<circle cx="737.46" cy="31.75" r="0.6" fill="#ff8040" opacity="0.8"/>
<circle cx="667.88" cy="19.18" r="0.59" fill="#40ffff" opacity="0.8"/>
<circle cx="646.2" cy="57.54" r="0.61" fill="#40ffff" opacity="0.8"/>
<circle cx="700.57" cy="34.95" r="0.54" fill="#ff40ff" opacity="0.8"/>
<circle cx="686.29" cy="36.06" r="0.62" fill="#4060ff" opacity="0.8"/>
<circle cx="672.49" cy="55.02" r="0.71" fill="#ff8040" opacity="0.8"/>
<circle cx="696.4" cy="2.4" r="0.52" fill="#4060ff" opacity="0.8"/>
<circle cx="708.76" cy="19.66" r="0.59" fill="#ff8040" opacity="0.8"/>
<circle cx="709.98" cy="66.98" r="0.54" fill="#40ffff" opacity="0.8"/>
<circle cx="695.68" cy="0.81" r="0.62" fill="#ffff40" opacity="0.8"/>
<circle cx="668.75" cy="19.16" r="0.52" fill="#4060ff" opacity="0.8"/>
<circle cx="702.73" cy="55.83" r="0.54" fill="#ff8040" opacity="0.8"/>
<circle cx="670.83" cy="65.63" r="0.56" fill="#40ffff" opacity="0.8"/>
<circle cx="726.25" cy="48.18" r="0.79" fill="#ffff40" opacity="0.8"/>
<circle cx="689.07" cy="37.05" r="0.47" fill="#ffff40" opacity="0.8"/>
<circle cx="733.38" cy="33.41" r="0.68" fill="#ff8040" opacity="0.8"/>
<circle cx="705.21" cy="29.16" r="0.65" fill="#4060ff" opacity="0.8"/>
<circle cx="688.89" cy="65.55" r="0.52" fill="#4060ff" opacity="0.8"/>
<circle cx="716.19" cy="44.58" r="0.69" fill="#ff40ff" opacity="0.8"/>
<circle cx="654.97" cy="41.05" r="0.65" fill="#40ffff" opacity="0.8"/>
<circle cx="657.45" cy="48.02" r="0.65" fill="#ff40ff" opacity="0.8"/>
<circle cx="738.57" cy="68.58" r="0.47" fill="#40ffff" opacity="0.8"/>
<circle cx="646.01" cy="67.76" r="0.59" fill="#4060ff" opacity="0.8"/>
<circle cx="638.07" cy="32.57" r="0.55" fill="#4060ff" opacity="0.8"/>
<circle cx="641.91" cy="14.31" r="0.69" fill="#ffff40" opacity="0.8"/>
<circle cx="634.37" cy="28.38" r="0.51" fill="#ff4040" opacity="0.8"/>
<circle cx="725.88" cy="48.22" r="0.62" fill="#ff40ff" opacity="0.8"/>
<circle cx="692.43" cy="21.1" r="0.52" fill="#4060ff" opacity="0.8"/>
<circle cx="670.17" cy="40.66" r="0.78" fill="#40ffff" opacity="0.8"/>
<circle cx="678.6" cy="56.91" r="0.66" fill="#ffff40" opacity="0.8"/>
<circle cx="683.71" cy="10.97" r="0.55" fill="#ff4040" opacity="0.8"/>
<circle cx="735.48" cy="67.76" r="0.64" fill="#ffff40" opacity="0.8"/>
<circle cx="721.1" cy="46.32" r="0.55" fill="#ffff40" opacity="0.8"/>
<circle cx="694.11" cy="43.06" r="0.46" fill="#ff8040" opacity="0.8"/>
<circle cx="726.95" cy="39.5" r="0.57" fill="#40ffff" opacity="0.8"/>
<circle cx="686.45" cy="33.57" r="0.68" fill="#ff4040" opacity="0.8"/>
<g clip-path="url(#clipC)">
<rect x="634.3" y="72" width="105.7" height="60" fill="#3c86e8" />
<rect x="634.3" y="72" width="105.7" height="60" fill="#000" filter="url(#nf2)"  />
<rect x="634.3" y="72" width="105.7" height="60" fill="#000" filter="url(#nf3)"  />
<rect x="634.3" y="72" width="105.7" height="60" fill="#000" filter="url(#nf4)"  />
<rect x="634.3" y="72" width="105.7" height="60" fill="#000" filter="url(#nf5)"  />
<rect x="634.3" y="72" width="105.7" height="60" fill="#000" filter="url(#nf6)"  />
</g>
<path d="M634.3 117L636.5 117L639 119.5L640 123.5L638.5 127L636 129L634.3 129Z" fill="#141414"/>
<path d="M634.3 46.5L648 46.5L648 39L718 38.5L722 48L727 60L731 68L736 72L740 72L740 78L700 79.5L660 79L648 80L645 86.5L634.3 86.5Z" fill="#00f2f2"/>
<rect x="634.3" y="40" width="105.7" height="46" fill="#000" filter="url(#nf7)" clip-path="url(#clipNi)" />
<clipPath id="clipNi"><path d="M634.3 46.5L648 46.5L648 39L718 38.5L722 48L727 60L731 68L736 72L740 72L740 78L700 79.5L660 79L648 80L645 86.5L634.3 86.5Z"/></clipPath>
<clipPath id="clipAu"><path d="M634.3 15L700 14L706 17L711 24L715 31L718 38.8L648 39.2L648 46.8L634.3 46.8Z"/></clipPath>
<path d="M634.3 15L700 14L706 17L711 24L715 31L718 38.8L648 39.2L648 46.8L634.3 46.8Z" fill="#ffe818"/>
<rect x="634.3" y="14" width="83.7" height="33" fill="#000" filter="url(#nf8)" clip-path="url(#clipAu)" />
<g clip-path="url(#clipC)">
<rect x="634.3" y="131.5" width="105.7" height="52" fill="#101014" />
<rect x="634.3" y="131.5" width="105.7" height="52" fill="#000" filter="url(#nf9)"  />
<rect x="634.3" y="131.5" width="105.7" height="52" fill="#000" filter="url(#nf10)"  />
<rect x="634.3" y="131.5" width="105.7" height="52" fill="#000" filter="url(#nf11)"  />
<rect x="634.3" y="183.5" width="105.7" height="7" fill="#ff2020" />
<rect x="634.3" y="183" width="105.7" height="8" fill="#000" filter="url(#nf12)"  />
<rect x="634.3" y="190.5" width="105.7" height="7.5" fill="#303034" />
<rect x="634.3" y="190.5" width="105.7" height="7.5" fill="#000" filter="url(#nf13)"  />
<rect x="634.3" y="198" width="105.7" height="11" fill="#f01cf0" />
<rect x="634.3" y="198" width="105.7" height="11" fill="#000" filter="url(#nf14)"  />
<rect x="634.3" y="209" width="105.7" height="3.5" fill="#1a1aff" />
<rect x="634.3" y="212.5" width="105.7" height="7.5" fill="#0a0406" />
<circle cx="735.89" cy="219.31" r="0.48" fill="#2020ff" opacity="0.8"/>
<circle cx="712.63" cy="214.41" r="0.38" fill="#ff2020" opacity="0.8"/>
<circle cx="668.03" cy="219.87" r="0.45" fill="#2020ff" opacity="0.8"/>
<circle cx="649.45" cy="212.19" r="0.5" fill="#2020ff" opacity="0.8"/>
<circle cx="660.25" cy="212.32" r="0.34" fill="#2020ff" opacity="0.8"/>
<circle cx="635.7" cy="216.26" r="0.38" fill="#2020ff" opacity="0.8"/>
<circle cx="716.95" cy="213.97" r="0.38" fill="#ff2020" opacity="0.8"/>
<circle cx="710.56" cy="214.29" r="0.45" fill="#2020ff" opacity="0.8"/>
<circle cx="689.08" cy="218.91" r="0.56" fill="#ff2020" opacity="0.8"/>
<circle cx="636.01" cy="213.01" r="0.38" fill="#20a020" opacity="0.8"/>
<circle cx="669.83" cy="214.37" r="0.46" fill="#2020ff" opacity="0.8"/>
<circle cx="671.27" cy="217.45" r="0.54" fill="#ff2020" opacity="0.8"/>
<circle cx="638.15" cy="214.02" r="0.44" fill="#ff2020" opacity="0.8"/>
<circle cx="728.16" cy="216.36" r="0.3" fill="#2020ff" opacity="0.8"/>
<circle cx="697.18" cy="217.51" r="0.59" fill="#20a020" opacity="0.8"/>
</g>
<rect x="691.7" y="211" width="43.3" height="4" fill="#ffffff" />
<text x="693" y="206.8" font-size="12" fill="#ffffff" text-anchor="start" font-family='"Liberation Sans", sans-serif' >50 nm</text>
<rect x="634.3" y="0" width="21.7" height="21.6" fill="#a8a8a8" />
<text x="645.15" y="15.48" font-size="13" fill="#000" text-anchor="middle" font-family='"Liberation Sans", sans-serif' >c</text>
<rect x="642.5" y="226" width="17.75" height="17.95" fill="#FFFF55" />
<rect x="660.2" y="226" width="17.75" height="17.95" fill="#80FFFF" />
<rect x="677.9" y="226" width="17.75" height="17.95" fill="#3F8A2F" />
<rect x="695.6" y="226" width="17.75" height="17.95" fill="#4F78F0" />
<rect x="713.3" y="226" width="17.75" height="17.95" fill="#A6A6A6" />
<rect x="642.5" y="243.9" width="17.75" height="17.95" fill="#F0A0D0" />
<rect x="660.2" y="243.9" width="17.75" height="17.95" fill="#ED7D31" />
<rect x="677.9" y="243.9" width="17.75" height="17.95" fill="#FF0020" />
<rect x="695.6" y="243.9" width="17.75" height="17.95" fill="#E040F0" />
<rect x="713.3" y="243.9" width="17.75" height="17.95" fill="#0000FF" />
<text x="651.35" y="239.6" font-size="12.5" fill="#000" text-anchor="middle" font-family='"Liberation Sans", sans-serif' letter-spacing="-0.3">Au</text>
<text x="669.05" y="239.6" font-size="12.5" fill="#000" text-anchor="middle" font-family='"Liberation Sans", sans-serif' letter-spacing="-0.3">Ni</text>
<text x="686.75" y="239.6" font-size="12.5" fill="#fff" text-anchor="middle" font-family='"Liberation Sans", sans-serif' letter-spacing="-0.3">In</text>
<text x="704.45" y="239.6" font-size="12.5" fill="#000" text-anchor="middle" font-family='"Liberation Sans", sans-serif' letter-spacing="-0.3">Se</text>
<text x="722.15" y="239.6" font-size="12.5" fill="#fff" text-anchor="middle" font-family='"Liberation Sans", sans-serif' letter-spacing="-0.3">Al</text>
<text x="651.35" y="257.5" font-size="12.5" fill="#000" text-anchor="middle" font-family='"Liberation Sans", sans-serif' letter-spacing="-0.3">S</text>
<text x="669.05" y="257.5" font-size="12.5" fill="#000" text-anchor="middle" font-family='"Liberation Sans", sans-serif' letter-spacing="-0.3">Mo</text>
<text x="686.75" y="257.5" font-size="12.5" fill="#300" text-anchor="middle" font-family='"Liberation Sans", sans-serif' letter-spacing="-0.3">Hf</text>
<text x="704.45" y="257.5" font-size="12.5" fill="#200" text-anchor="middle" font-family='"Liberation Sans", sans-serif' letter-spacing="-0.3">Pt</text>
<text x="722.15" y="257.5" font-size="12.5" fill="#fff" text-anchor="middle" font-family='"Liberation Sans", sans-serif' letter-spacing="-0.3">Ti</text>
<rect x="745.2" y="0" width="105.7" height="220" fill="#000000" />
<clipPath id="clipband41"><path d="M745.2 84.5Q745.2 76.5 755.2 76.5L850.9 70L850.9 130.8L753.2 131.3Q745.2 130.8 745.2 122.80000000000001Z"/></clipPath>
<rect x="745.2" y="68" width="105.7" height="64.8" fill="#000" filter="url(#nf15)" clip-path="url(#clipband41)" />
<rect x="745.2" y="68" width="105.7" height="64.8" fill="#000" filter="url(#nf16)" clip-path="url(#clipband41)" />
<circle cx="785.47" cy="50.76" r="0.35" fill="#2a9a2a" opacity="0.5"/>
<circle cx="806.29" cy="151.83" r="0.47" fill="#2a9a2a" opacity="0.5"/>
<circle cx="835.25" cy="167.92" r="0.3" fill="#2a9a2a" opacity="0.5"/>
<circle cx="815.13" cy="184.65" r="0.43" fill="#2a9a2a" opacity="0.5"/>
<circle cx="849.49" cy="215.59" r="0.4" fill="#2a9a2a" opacity="0.5"/>
<circle cx="814.4" cy="136.57" r="0.32" fill="#2a9a2a" opacity="0.5"/>
<circle cx="790.93" cy="62" r="0.52" fill="#2a9a2a" opacity="0.5"/>
<circle cx="821.96" cy="161.11" r="0.34" fill="#2a9a2a" opacity="0.5"/>
<circle cx="758.28" cy="200.91" r="0.51" fill="#2a9a2a" opacity="0.5"/>
<circle cx="750.86" cy="69.92" r="0.49" fill="#2a9a2a" opacity="0.5"/>
<circle cx="791.17" cy="175.25" r="0.32" fill="#2a9a2a" opacity="0.5"/>
<circle cx="760.62" cy="146.89" r="0.42" fill="#2a9a2a" opacity="0.5"/>
<circle cx="836.05" cy="50.69" r="0.33" fill="#2a9a2a" opacity="0.5"/>
<circle cx="793.65" cy="160.21" r="0.43" fill="#2a9a2a" opacity="0.5"/>
<circle cx="802.26" cy="193.68" r="0.5" fill="#2a9a2a" opacity="0.5"/>
<circle cx="763.84" cy="177.57" r="0.51" fill="#2a9a2a" opacity="0.5"/>
<circle cx="849.48" cy="155.14" r="0.57" fill="#2a9a2a" opacity="0.5"/>
<circle cx="814.48" cy="164.92" r="0.48" fill="#2a9a2a" opacity="0.5"/>
<circle cx="808.75" cy="21.89" r="0.58" fill="#2a9a2a" opacity="0.5"/>
<circle cx="791.43" cy="161.35" r="0.5" fill="#2a9a2a" opacity="0.5"/>
<circle cx="828.59" cy="18.26" r="0.5" fill="#2a9a2a" opacity="0.5"/>
<circle cx="843.4" cy="54.75" r="0.41" fill="#2a9a2a" opacity="0.5"/>
<circle cx="830.6" cy="136.99" r="0.54" fill="#2a9a2a" opacity="0.5"/>
<circle cx="824.59" cy="161.04" r="0.36" fill="#2a9a2a" opacity="0.5"/>
<circle cx="767.8" cy="49.62" r="0.44" fill="#2a9a2a" opacity="0.5"/>
<rect x="801.9" y="211" width="43" height="4" fill="#ffffff" />
<text x="803.4" y="207" font-size="12" fill="#ffffff" text-anchor="start" font-family='"Liberation Sans", sans-serif' >50 nm</text>
<rect x="828.9" y="0" width="22" height="21.8" fill="#4E8B2E"/>
<text x="839.9" y="15.3" font-size="13" fill="#fff" text-anchor="middle" font-family='"Liberation Sans", sans-serif' >In</text>
<rect x="745.2" y="0" width="21.5" height="21.8" fill="#a8a8a8" />
<text x="755.95" y="15.58" font-size="13" fill="#000" text-anchor="middle" font-family='"Liberation Sans", sans-serif' >d</text>
<rect x="856.3" y="0" width="105.8" height="220" fill="#000000" />
<clipPath id="clipband51"><path d="M856.3 89Q856.3 81 866.3 81L962.1 69.5L962.1 130.5L864.3 131.0Q856.3 130.5 856.3 122.5Z"/></clipPath>
<rect x="856.3" y="67.5" width="105.8" height="65" fill="#000" filter="url(#nf17)" clip-path="url(#clipband51)" />
<rect x="856.3" y="67.5" width="105.8" height="65" fill="#000" filter="url(#nf18)" clip-path="url(#clipband51)" />
<circle cx="882.06" cy="110.49" r="0.35" fill="#3050ff" opacity="0.5"/>
<circle cx="944.39" cy="56.28" r="0.56" fill="#3050ff" opacity="0.5"/>
<circle cx="933.69" cy="120.59" r="0.49" fill="#3050ff" opacity="0.5"/>
<circle cx="897.22" cy="61.09" r="0.51" fill="#3050ff" opacity="0.5"/>
<circle cx="946.5" cy="6.24" r="0.38" fill="#3050ff" opacity="0.5"/>
<circle cx="927.82" cy="207.56" r="0.4" fill="#3050ff" opacity="0.5"/>
<circle cx="895.15" cy="172.85" r="0.58" fill="#3050ff" opacity="0.5"/>
<circle cx="937.16" cy="6.48" r="0.59" fill="#3050ff" opacity="0.5"/>
<circle cx="906.04" cy="199.46" r="0.6" fill="#3050ff" opacity="0.5"/>
<circle cx="874.8" cy="216.96" r="0.44" fill="#3050ff" opacity="0.5"/>
<circle cx="928.6" cy="205.08" r="0.57" fill="#3050ff" opacity="0.5"/>
<circle cx="868.15" cy="198.91" r="0.46" fill="#3050ff" opacity="0.5"/>
<circle cx="918.66" cy="217.77" r="0.45" fill="#3050ff" opacity="0.5"/>
<circle cx="925.24" cy="216.11" r="0.55" fill="#3050ff" opacity="0.5"/>
<circle cx="961.77" cy="205.02" r="0.49" fill="#3050ff" opacity="0.5"/>
<circle cx="911.71" cy="179.05" r="0.58" fill="#3050ff" opacity="0.5"/>
<circle cx="945.08" cy="6.02" r="0.43" fill="#3050ff" opacity="0.5"/>
<circle cx="949.33" cy="189.88" r="0.42" fill="#3050ff" opacity="0.5"/>
<circle cx="880.1" cy="160.35" r="0.48" fill="#3050ff" opacity="0.5"/>
<circle cx="942.09" cy="118.88" r="0.4" fill="#3050ff" opacity="0.5"/>
<circle cx="912.96" cy="131.02" r="0.59" fill="#3050ff" opacity="0.5"/>
<circle cx="950.1" cy="64.78" r="0.44" fill="#3050ff" opacity="0.5"/>
<circle cx="914.49" cy="194.55" r="0.57" fill="#3050ff" opacity="0.5"/>
<circle cx="868.2" cy="102.15" r="0.59" fill="#3050ff" opacity="0.5"/>
<circle cx="927.1" cy="34.49" r="0.43" fill="#3050ff" opacity="0.5"/>
<rect x="913.1" y="211" width="43" height="4" fill="#ffffff" />
<text x="914.6" y="207" font-size="12" fill="#ffffff" text-anchor="start" font-family='"Liberation Sans", sans-serif' >50 nm</text>
<rect x="940.1" y="0" width="22" height="21.8" fill="#5B7CE8"/>
<text x="951.1" y="15.3" font-size="13" fill="#000" text-anchor="middle" font-family='"Liberation Sans", sans-serif' >Se</text>
<rect x="967.5" y="0" width="105.5" height="220" fill="#000000" />
<circle cx="1019.67" cy="121.91" r="0.8" fill="#ff6a10" opacity="0.55"/>
<circle cx="998.45" cy="173.84" r="0.41" fill="#ff6a10" opacity="0.55"/>
<circle cx="1005.41" cy="90.16" r="0.56" fill="#ff6a10" opacity="0.55"/>
<circle cx="1002.81" cy="6.33" r="0.65" fill="#ff6a10" opacity="0.55"/>
<circle cx="1034.47" cy="75.88" r="0.62" fill="#ff6a10" opacity="0.55"/>
<circle cx="980.99" cy="89.66" r="0.85" fill="#ff6a10" opacity="0.55"/>
<circle cx="1013.99" cy="71.88" r="0.59" fill="#ff6a10" opacity="0.55"/>
<circle cx="1049.99" cy="134.14" r="0.61" fill="#ff6a10" opacity="0.55"/>
<circle cx="981.26" cy="17.27" r="0.58" fill="#ff6a10" opacity="0.55"/>
<circle cx="1024.41" cy="23.01" r="0.55" fill="#ff6a10" opacity="0.55"/>
<circle cx="1012.12" cy="27.66" r="0.57" fill="#ff6a10" opacity="0.55"/>
<circle cx="1009.03" cy="29.13" r="0.58" fill="#ff6a10" opacity="0.55"/>
<circle cx="970.81" cy="107.39" r="0.61" fill="#ff6a10" opacity="0.55"/>
<circle cx="988.07" cy="20.04" r="0.65" fill="#ff6a10" opacity="0.55"/>
<circle cx="1036.02" cy="137.04" r="0.6" fill="#ff6a10" opacity="0.55"/>
<circle cx="1045.23" cy="156.55" r="0.81" fill="#ff6a10" opacity="0.55"/>
<circle cx="1055.66" cy="207.01" r="0.89" fill="#ff6a10" opacity="0.55"/>
<circle cx="1067.13" cy="21.08" r="0.45" fill="#ff6a10" opacity="0.55"/>
<circle cx="1052.62" cy="42.45" r="0.7" fill="#ff6a10" opacity="0.55"/>
<circle cx="992.63" cy="48.54" r="0.82" fill="#ff6a10" opacity="0.55"/>
<circle cx="1010.73" cy="107.04" r="0.53" fill="#ff6a10" opacity="0.55"/>
<circle cx="986.72" cy="40.29" r="0.63" fill="#ff6a10" opacity="0.55"/>
<circle cx="1062.11" cy="205.74" r="0.7" fill="#ff6a10" opacity="0.55"/>
<circle cx="1057.26" cy="140.74" r="0.47" fill="#ff6a10" opacity="0.55"/>
<circle cx="981.01" cy="109.46" r="0.44" fill="#ff6a10" opacity="0.55"/>
<circle cx="1013.42" cy="96.54" r="0.72" fill="#ff6a10" opacity="0.55"/>
<circle cx="1050.05" cy="157.32" r="0.67" fill="#ff6a10" opacity="0.55"/>
<circle cx="1047.06" cy="174.28" r="0.83" fill="#ff6a10" opacity="0.55"/>
<circle cx="1047.61" cy="107.36" r="0.65" fill="#ff6a10" opacity="0.55"/>
<circle cx="973.1" cy="77.27" r="0.62" fill="#ff6a10" opacity="0.55"/>
<circle cx="1049.69" cy="188.43" r="0.67" fill="#ff6a10" opacity="0.55"/>
<circle cx="1040.45" cy="201.32" r="0.68" fill="#ff6a10" opacity="0.55"/>
<circle cx="1036.11" cy="134.48" r="0.89" fill="#ff6a10" opacity="0.55"/>
<circle cx="1000.23" cy="150.93" r="0.86" fill="#ff6a10" opacity="0.55"/>
<circle cx="994.13" cy="127.22" r="0.78" fill="#ff6a10" opacity="0.55"/>
<circle cx="1021.1" cy="168.99" r="0.65" fill="#ff6a10" opacity="0.55"/>
<circle cx="1045.62" cy="99.11" r="0.68" fill="#ff6a10" opacity="0.55"/>
<circle cx="978.48" cy="84.47" r="0.64" fill="#ff6a10" opacity="0.55"/>
<circle cx="989.17" cy="177.3" r="0.63" fill="#ff6a10" opacity="0.55"/>
<circle cx="1035.64" cy="176.29" r="0.82" fill="#ff6a10" opacity="0.55"/>
<circle cx="1015.85" cy="36.97" r="0.78" fill="#ff6a10" opacity="0.55"/>
<circle cx="987.56" cy="24.12" r="0.67" fill="#ff6a10" opacity="0.55"/>
<circle cx="1024.17" cy="63.5" r="0.63" fill="#ff6a10" opacity="0.55"/>
<circle cx="970.76" cy="129.73" r="0.79" fill="#ff6a10" opacity="0.55"/>
<circle cx="990.12" cy="105.69" r="0.56" fill="#ff6a10" opacity="0.55"/>
<circle cx="967.84" cy="178.5" r="0.5" fill="#ff6a10" opacity="0.81"/>
<circle cx="1028.97" cy="178.38" r="0.77" fill="#ff6a10" opacity="0.66"/>
<circle cx="989.39" cy="179.33" r="0.43" fill="#ff6a10" opacity="0.42"/>
<circle cx="998.48" cy="177.78" r="0.62" fill="#ff6a10" opacity="0.71"/>
<circle cx="1008.67" cy="179.44" r="0.6" fill="#ff6a10" opacity="0.87"/>
<circle cx="1070.92" cy="178.6" r="0.88" fill="#ff6a10" opacity="0.44"/>
<circle cx="1065.99" cy="178.38" r="0.6" fill="#ff6a10" opacity="0.86"/>
<circle cx="1009.82" cy="177.68" r="0.42" fill="#ff6a10" opacity="0.8"/>
<circle cx="986.51" cy="178.77" r="0.45" fill="#ff6a10" opacity="0.81"/>
<circle cx="1069.76" cy="178.24" r="0.88" fill="#ff6a10" opacity="0.85"/>
<circle cx="992.14" cy="178.45" r="1" fill="#ff6a10" opacity="0.88"/>
<circle cx="1026.92" cy="178.6" r="0.41" fill="#ff6a10" opacity="0.82"/>
<circle cx="1067.36" cy="178.63" r="0.54" fill="#ff6a10" opacity="0.46"/>
<circle cx="1034.49" cy="178.89" r="0.76" fill="#ff6a10" opacity="0.82"/>
<circle cx="971.23" cy="177.51" r="0.46" fill="#ff6a10" opacity="0.56"/>
<circle cx="972.69" cy="177.98" r="0.52" fill="#ff6a10" opacity="0.81"/>
<circle cx="1023.12" cy="177.9" r="0.7" fill="#ff6a10" opacity="0.48"/>
<circle cx="1071.72" cy="177.68" r="0.54" fill="#ff6a10" opacity="0.69"/>
<circle cx="1061.81" cy="178.81" r="0.48" fill="#ff6a10" opacity="0.7"/>
<circle cx="1045.51" cy="179.37" r="0.78" fill="#ff6a10" opacity="0.53"/>
<circle cx="1054.85" cy="178.9" r="0.94" fill="#ff6a10" opacity="0.5"/>
<circle cx="1055.81" cy="178.46" r="0.53" fill="#ff6a10" opacity="0.53"/>
<circle cx="977.97" cy="179.29" r="0.49" fill="#ff6a10" opacity="0.72"/>
<circle cx="994.1" cy="178" r="0.61" fill="#ff6a10" opacity="0.82"/>
<circle cx="974.5" cy="178.28" r="0.6" fill="#ff6a10" opacity="0.64"/>
<circle cx="1033.27" cy="179.23" r="0.78" fill="#ff6a10" opacity="0.83"/>
<circle cx="1060.57" cy="179.13" r="0.42" fill="#ff6a10" opacity="0.43"/>
<circle cx="1022.76" cy="177.89" r="0.62" fill="#ff6a10" opacity="0.66"/>
<circle cx="1023.57" cy="179.03" r="0.86" fill="#ff6a10" opacity="0.51"/>
<circle cx="1027.88" cy="178.45" r="0.67" fill="#ff6a10" opacity="0.76"/>
<circle cx="1042.87" cy="178.91" r="0.63" fill="#ff6a10" opacity="0.44"/>
<circle cx="1029.18" cy="178.01" r="0.59" fill="#ff6a10" opacity="0.45"/>
<circle cx="975.46" cy="178.39" r="0.98" fill="#ff6a10" opacity="0.71"/>
<circle cx="994.25" cy="179.4" r="0.52" fill="#ff6a10" opacity="0.74"/>
<circle cx="975.04" cy="179.41" r="0.95" fill="#ff6a10" opacity="0.82"/>
<rect x="1024" y="211" width="43" height="4" fill="#ffffff" />
<text x="1025.5" y="207" font-size="12" fill="#ffffff" text-anchor="start" font-family='"Liberation Sans", sans-serif' >50 nm</text>
<rect x="1051" y="0" width="22" height="21.8" fill="#ED7D31"/>
<text x="1062" y="15.3" font-size="13" fill="#000" text-anchor="middle" font-family='"Liberation Sans", sans-serif' >Mo</text>
<rect x="1078.7" y="0" width="105.7" height="220" fill="#000000" />
<circle cx="1112.92" cy="135.21" r="0.4" fill="#f090d0" opacity="0.55"/>
<circle cx="1165.6" cy="214.79" r="0.53" fill="#f090d0" opacity="0.55"/>
<circle cx="1132.84" cy="129.84" r="0.65" fill="#f090d0" opacity="0.55"/>
<circle cx="1177.11" cy="100.99" r="0.47" fill="#f090d0" opacity="0.55"/>
<circle cx="1082.6" cy="132.36" r="0.59" fill="#f090d0" opacity="0.55"/>
<circle cx="1180.77" cy="72.47" r="0.82" fill="#f090d0" opacity="0.55"/>
<circle cx="1178.7" cy="210.86" r="0.73" fill="#f090d0" opacity="0.55"/>
<circle cx="1142.55" cy="37.76" r="0.8" fill="#f090d0" opacity="0.55"/>
<circle cx="1110.19" cy="8.66" r="0.58" fill="#f090d0" opacity="0.55"/>
<circle cx="1081.79" cy="25.49" r="0.45" fill="#f090d0" opacity="0.55"/>
<circle cx="1122.67" cy="108.72" r="0.68" fill="#f090d0" opacity="0.55"/>
<circle cx="1109.87" cy="24.93" r="0.55" fill="#f090d0" opacity="0.55"/>
<circle cx="1095.68" cy="97.68" r="0.67" fill="#f090d0" opacity="0.55"/>
<circle cx="1088.72" cy="162.72" r="0.71" fill="#f090d0" opacity="0.55"/>
<circle cx="1153" cy="184.53" r="0.42" fill="#f090d0" opacity="0.55"/>
<circle cx="1102.09" cy="73.46" r="0.82" fill="#f090d0" opacity="0.55"/>
<circle cx="1179.31" cy="61.69" r="0.47" fill="#f090d0" opacity="0.55"/>
<circle cx="1131.52" cy="103.16" r="0.46" fill="#f090d0" opacity="0.55"/>
<circle cx="1101.08" cy="136.36" r="0.54" fill="#f090d0" opacity="0.55"/>
<circle cx="1123.65" cy="59.33" r="0.59" fill="#f090d0" opacity="0.55"/>
<circle cx="1144.59" cy="120.59" r="0.85" fill="#f090d0" opacity="0.55"/>
<circle cx="1180.66" cy="90.65" r="0.63" fill="#f090d0" opacity="0.55"/>
<circle cx="1151.06" cy="15.54" r="0.61" fill="#f090d0" opacity="0.55"/>
<circle cx="1104.93" cy="130.56" r="0.75" fill="#f090d0" opacity="0.55"/>
<circle cx="1150.41" cy="121.61" r="0.57" fill="#f090d0" opacity="0.55"/>
<circle cx="1083.94" cy="85.02" r="0.68" fill="#f090d0" opacity="0.55"/>
<circle cx="1111.19" cy="160.34" r="0.66" fill="#f090d0" opacity="0.55"/>
<circle cx="1154.69" cy="140.7" r="0.81" fill="#f090d0" opacity="0.55"/>
<circle cx="1112.63" cy="146.28" r="0.53" fill="#f090d0" opacity="0.55"/>
<circle cx="1138.46" cy="132.32" r="0.44" fill="#f090d0" opacity="0.55"/>
<circle cx="1131.3" cy="178.46" r="0.95" fill="#f090d0" opacity="0.74"/>
<circle cx="1163.39" cy="178.37" r="0.51" fill="#f090d0" opacity="0.73"/>
<circle cx="1126.37" cy="178.73" r="0.48" fill="#f090d0" opacity="0.68"/>
<circle cx="1135.21" cy="178.98" r="0.54" fill="#f090d0" opacity="0.72"/>
<circle cx="1096.65" cy="179.46" r="0.85" fill="#f090d0" opacity="0.58"/>
<circle cx="1079.86" cy="179.3" r="0.48" fill="#f090d0" opacity="0.76"/>
<circle cx="1095.03" cy="179" r="0.41" fill="#f090d0" opacity="0.89"/>
<circle cx="1131.96" cy="177.55" r="0.62" fill="#f090d0" opacity="0.6"/>
<circle cx="1145.27" cy="179.25" r="0.92" fill="#f090d0" opacity="0.88"/>
<circle cx="1106.45" cy="179.37" r="0.89" fill="#f090d0" opacity="0.79"/>
<circle cx="1153.66" cy="178.23" r="0.57" fill="#f090d0" opacity="0.84"/>
<circle cx="1160.48" cy="179.03" r="0.92" fill="#f090d0" opacity="0.67"/>
<circle cx="1109.51" cy="177.63" r="0.91" fill="#f090d0" opacity="0.59"/>
<circle cx="1138.28" cy="178.79" r="0.81" fill="#f090d0" opacity="0.69"/>
<circle cx="1159.78" cy="177.61" r="0.56" fill="#f090d0" opacity="0.75"/>
<circle cx="1114.59" cy="178.36" r="0.58" fill="#f090d0" opacity="0.57"/>
<circle cx="1141.67" cy="178.78" r="0.56" fill="#f090d0" opacity="0.52"/>
<circle cx="1126.82" cy="177.93" r="0.81" fill="#f090d0" opacity="0.68"/>
<circle cx="1090.44" cy="178.08" r="0.67" fill="#f090d0" opacity="0.84"/>
<circle cx="1138.85" cy="179.22" r="0.78" fill="#f090d0" opacity="0.64"/>
<circle cx="1133.37" cy="179.39" r="0.84" fill="#f090d0" opacity="0.61"/>
<circle cx="1154.65" cy="178.05" r="0.84" fill="#f090d0" opacity="0.48"/>
<circle cx="1120.05" cy="177.67" r="0.91" fill="#f090d0" opacity="0.5"/>
<circle cx="1088.36" cy="177.73" r="0.96" fill="#f090d0" opacity="0.74"/>
<circle cx="1177.5" cy="177.77" r="0.5" fill="#f090d0" opacity="0.79"/>
<circle cx="1097.98" cy="178.71" r="0.77" fill="#f090d0" opacity="0.5"/>
<circle cx="1130.42" cy="177.92" r="0.78" fill="#f090d0" opacity="0.42"/>
<circle cx="1098.29" cy="179.08" r="0.44" fill="#f090d0" opacity="0.6"/>
<circle cx="1102.69" cy="178.7" r="0.55" fill="#f090d0" opacity="0.51"/>
<circle cx="1156.36" cy="178.46" r="0.58" fill="#f090d0" opacity="0.5"/>
<circle cx="1147.91" cy="177.9" r="0.5" fill="#f090d0" opacity="0.74"/>
<circle cx="1182.1" cy="178.79" r="0.82" fill="#f090d0" opacity="0.55"/>
<circle cx="1174.16" cy="178.16" r="0.89" fill="#f090d0" opacity="0.82"/>
<circle cx="1171.38" cy="178.52" r="0.7" fill="#f090d0" opacity="0.88"/>
<circle cx="1171.15" cy="177.83" r="0.56" fill="#f090d0" opacity="0.56"/>
<rect x="1135.4" y="211" width="43" height="4" fill="#ffffff" />
<text x="1136.9" y="207" font-size="12" fill="#ffffff" text-anchor="start" font-family='"Liberation Sans", sans-serif' >50 nm</text>
<rect x="1162.4" y="0" width="22" height="21.8" fill="#F4A7CF"/>
<text x="1173.4" y="15.3" font-size="13" fill="#000" text-anchor="middle" font-family='"Liberation Sans", sans-serif' >S</text>
<rect x="32" y="267" width="21" height="21.5" fill="#dcdcdc" />
<text x="42.5" y="282.43" font-size="13" fill="#000" text-anchor="middle" font-family='"Liberation Sans", sans-serif' >e</text>
<line x1="166.03" y1="481.17" x2="166.03" y2="310.47" stroke="#d9d9d9" stroke-width="0.7" />
<line x1="224.07" y1="465.83" x2="224.07" y2="295.13" stroke="#d9d9d9" stroke-width="0.7" />
<line x1="108" y1="453.82" x2="282.1" y2="407.82" stroke="#d9d9d9" stroke-width="0.7" />
<line x1="108" y1="411.15" x2="282.1" y2="365.15" stroke="#d9d9d9" stroke-width="0.7" />
<line x1="108" y1="368.48" x2="282.1" y2="322.48" stroke="#d9d9d9" stroke-width="0.7" />
<line x1="483.18" y1="477.83" x2="483.18" y2="307.13" stroke="#d9d9d9" stroke-width="0.7" />
<line x1="442.97" y1="472.37" x2="442.97" y2="301.67" stroke="#d9d9d9" stroke-width="0.7" />
<line x1="402.75" y1="466.9" x2="402.75" y2="296.2" stroke="#d9d9d9" stroke-width="0.7" />
<line x1="362.53" y1="461.43" x2="362.53" y2="290.73" stroke="#d9d9d9" stroke-width="0.7" />
<line x1="322.32" y1="455.97" x2="322.32" y2="285.27" stroke="#d9d9d9" stroke-width="0.7" />
<line x1="282.1" y1="407.82" x2="523.4" y2="440.62" stroke="#d9d9d9" stroke-width="0.7" />
<line x1="282.1" y1="365.15" x2="523.4" y2="397.95" stroke="#d9d9d9" stroke-width="0.7" />
<line x1="282.1" y1="322.48" x2="523.4" y2="355.27" stroke="#d9d9d9" stroke-width="0.7" />
<line x1="309.08" y1="523.83" x2="483.18" y2="477.83" stroke="#d9d9d9" stroke-width="0.7" />
<line x1="268.87" y1="518.37" x2="442.97" y2="472.37" stroke="#d9d9d9" stroke-width="0.7" />
<line x1="228.65" y1="512.9" x2="402.75" y2="466.9" stroke="#d9d9d9" stroke-width="0.7" />
<line x1="188.43" y1="507.43" x2="362.53" y2="461.43" stroke="#d9d9d9" stroke-width="0.7" />
<line x1="148.22" y1="501.97" x2="322.32" y2="455.97" stroke="#d9d9d9" stroke-width="0.7" />
<line x1="166.03" y1="481.17" x2="407.33" y2="513.97" stroke="#d9d9d9" stroke-width="0.7" />
<line x1="224.07" y1="465.83" x2="465.37" y2="498.63" stroke="#d9d9d9" stroke-width="0.7" />
<line x1="108" y1="325.8" x2="282.1" y2="279.8" stroke="#000" stroke-width="1.1" />
<line x1="282.1" y1="279.8" x2="523.4" y2="312.6" stroke="#000" stroke-width="1.1" />
<line x1="282.1" y1="450.5" x2="282.1" y2="279.8" stroke="#000" stroke-width="1.1" />
<line x1="523.4" y1="483.3" x2="523.4" y2="312.6" stroke="#000" stroke-width="1.1" />
<line x1="108" y1="496.5" x2="282.1" y2="450.5" stroke="#000" stroke-width="1.1" />
<line x1="282.1" y1="450.5" x2="523.4" y2="483.3" stroke="#000" stroke-width="1.1" />
<path d="M108 358.33L108.63 358.15L109.26 358.51L109.89 358.26L110.51 358.41L111.14 358.22L111.77 358.26L112.4 357.85L113.03 357.05L113.66 356.78L114.29 356.78L114.92 357.17L115.54 356.8L116.17 355.74L116.8 355.21L117.43 356L118.06 357.5L118.69 355.54L119.32 354.31L119.95 354.51L120.57 355L121.2 354.7L121.83 354.39L122.46 354.18L123.09 354.21L123.72 354.7L124.35 355.31L124.97 355.16L125.6 355.11L126.23 353.78L126.86 353.42L127.49 353.28L128.12 352.93L128.75 351.96L129.38 352.91L130 352.5L130.63 353.11L131.26 353.06L131.89 352.94L132.52 351.26L133.15 351.64L133.78 352.07L134.41 352.45L135.03 352.19L135.66 350.81L136.29 351.59L136.92 351.56L137.55 349.14L138.18 349.18L138.81 349.15L139.43 349.51L140.06 350.01L140.69 349.97L141.32 349.66L141.95 349.99L142.58 350.51L143.21 350.92L143.84 350.4L144.46 349.84L145.09 348.1L145.72 348.85L146.35 348.89L146.98 349.58L147.61 348.22L148.24 347.07L148.87 347.4L149.49 347.34L150.12 347.3L150.75 347.28L151.38 347.82L152.01 345.8L152.64 346.02L153.27 346.13L153.89 345.29L154.52 345.51L155.15 345.59L155.78 345.81L156.41 345.33L157.04 344.92L157.67 344.65L158.3 344.54L158.92 344.79L159.55 344.46L160.18 343.53L160.81 343.47L161.44 343.74L162.07 344.4L162.7 343.55L163.33 342.37L163.95 343.48L164.58 342.73L165.21 337.91L165.84 338.13L166.47 337.27L167.1 335.81L167.73 337.41L168.35 336.75L168.98 336.23L169.61 336.18L170.24 335.63L170.87 336.68L171.5 336.12L172.13 335.85L172.76 335.57L173.38 335.98L174.01 335.21L174.64 336.6L175.27 336.36L175.9 335.77L176.53 335.86L177.16 335.81L177.79 335.64L178.41 333.39L179.04 333.08L179.67 333.07L180.3 334.61L180.93 333.73L181.56 334.06L182.19 333.74L182.81 333.06L183.44 332.99L184.07 332.89L184.7 332.14L185.33 331.92L185.96 331.6L186.59 331.15L187.22 331.35L187.84 331.38L188.47 331.14L189.1 330.86L189.73 330.99L190.36 330.76L190.99 330.01L191.62 330.89L192.25 330.26L192.87 329.76L193.5 330.21L194.13 329.41L194.76 328.49L195.39 327.95L196.02 327.75L196.65 328.34L197.27 328.78L197.9 328.59L198.53 327.92L199.16 327.6L199.79 327.84L200.42 326.46L201.05 326.86L201.68 326.92L202.3 326.17L202.93 326.75L203.56 326.16L204.19 325.6L204.82 325.08L205.45 325.39L206.08 324.24L206.71 325.1L207.33 325.42L207.96 325.8L208.59 325.66L209.22 324.91L209.85 324.62L210.48 325.32L211.11 324.63L211.73 324.89L212.36 324.11L212.99 322.59L213.62 321.63L214.25 322.51L214.88 322.28L215.51 323.68L216.14 323.13L216.76 323.21L217.39 323.29L218.02 322.67L218.65 322.02L219.28 321.73L219.91 321.61L220.54 320.82L221.17 321.46L221.79 322.66L222.42 323.09L223.05 321.15L223.68 318.91L224.31 319.51L224.94 319.9L225.57 319.31L226.19 319.21L226.82 318.68L227.45 318.48L228.08 317.64L228.71 316.97L229.34 318.36L229.97 319.17L230.6 318.36L231.22 317.9L231.85 317.92L232.48 318.36L233.11 318.94L233.74 317.63L234.37 318.22L235 317.72L235.62 316.89L236.25 316.28L236.88 316.62L237.51 315.51L238.14 317.16L238.77 316.71L239.4 315.4L240.03 314.04L240.65 314.65L241.28 314.32L241.91 313.91L242.54 313.05L243.17 312.18L243.8 312.71L244.43 313.37L245.06 312.35L245.68 314.32L246.31 313.86L246.94 313.7L247.57 313.34L248.2 312.82L248.83 310.54L249.46 310.94L250.08 311.7L250.71 312.15L251.34 310.94L251.97 311.19L252.6 310.03L253.23 311.16L253.86 310.57L254.49 309.8L255.11 309.95L255.74 309.3L256.37 309.81L257 309.79L257.63 309.71L258.26 309.08L258.89 308.3" fill="none" stroke="#00f285" stroke-width="1.8" stroke-linejoin="round"/>
<path d="M116.04 361.38L116.65 362.37L117.26 360.71L117.87 361.36L118.48 360.77L119.09 360.51L119.7 360.18L120.31 360.31L120.92 359.73L121.53 358.29L122.14 358.67L122.75 358.44L123.36 357.92L123.96 358.39L124.57 359.26L125.18 359.13L125.79 357.87L126.4 359L127.01 358.77L127.62 357.47L128.23 356.88L128.84 357.03L129.45 356.48L130.06 356.55L130.67 357.42L131.28 358.02L131.89 357.61L132.5 356.25L133.11 356.5L133.71 356.77L134.32 356.72L134.93 357.13L135.54 356.28L136.15 356.5L136.76 355.46L137.37 356.72L137.98 355.43L138.59 355.35L139.2 356.12L139.81 354.59L140.42 354.42L141.03 355.59L141.64 355.16L142.25 354.06L142.85 353.93L143.46 352.94L144.07 352.38L144.68 352.06L145.29 352.05L145.9 351.27L146.51 351.25L147.12 351.3L147.73 352.97L148.34 351.68L148.95 350.66L149.56 351.17L150.17 351.45L150.78 349.86L151.39 351.5L151.99 350.71L152.6 348.9L153.21 350.19L153.82 349.65L154.43 348.47L155.04 349.16L155.65 348.96L156.26 348.54L156.87 349.47L157.48 349.3L158.09 348.86L158.7 348.19L159.31 348.36L159.92 348.46L160.53 348.99L161.14 348.71L161.74 347.64L162.35 347.55L162.96 348.07L163.57 348.24L164.18 345.84L164.79 345.59L165.4 345.73L166.01 347.91L166.62 346.72L167.23 346.14L167.84 344.93L168.45 345.1L169.06 345.44L169.67 345.12L170.28 346.55L170.88 345.15L171.49 344.85L172.1 345.31L172.71 344.07L173.32 337.89L173.93 339.49L174.54 339.71L175.15 339.08L175.76 338.76L176.37 338.92L176.98 339.31L177.59 337.31L178.2 336.97L178.81 338.25L179.42 338.9L180.03 337.07L180.63 336.56L181.24 335.66L181.85 335.82L182.46 336.97L183.07 336.69L183.68 338.12L184.29 337.79L184.9 337.07L185.51 336.24L186.12 336.59L186.73 336.28L187.34 335.64L187.95 335.3L188.56 334.87L189.17 334.87L189.77 335.15L190.38 334.45L190.99 334.53L191.6 335.08L192.21 335.14L192.82 334.66L193.43 334.42L194.04 334.03L194.65 333.87L195.26 333.58L195.87 333.57L196.48 334.26L197.09 333.37L197.7 332.41L198.31 332.28L198.91 332.56L199.52 332.18L200.13 332.88L200.74 333.78L201.35 332.81L201.96 332.92L202.57 331.72L203.18 332.26L203.79 333.49L204.4 332.92L205.01 330.75L205.62 330.9L206.23 331.55L206.84 331.37L207.45 330.3L208.06 329.68L208.66 329.49L209.27 328.4L209.88 328.29L210.49 328.64L211.1 328.29L211.71 327.29L212.32 327.16L212.93 326.96L213.54 328.2L214.15 328.08L214.76 327.32L215.37 327.54L215.98 326.62L216.59 326.39L217.2 325.96L217.8 326.41L218.41 324.65L219.02 324.56L219.63 325.42L220.24 325.53L220.85 323.78L221.46 324.81L222.07 324.4L222.68 324.02L223.29 324.4L223.9 325.29L224.51 324.71L225.12 324.2L225.73 323.33L226.34 323.02L226.95 323.29L227.55 322.76L228.16 322.61L228.77 322.66L229.38 322.69L229.99 322.81L230.6 322.14L231.21 322.89L231.82 322.88L232.43 322.34L233.04 322.97L233.65 322.49L234.26 323.22L234.87 322.59L235.48 321.31L236.09 320.58L236.69 320.54L237.3 320.54L237.91 321.25L238.52 319.29L239.13 319.1L239.74 318.52L240.35 319.48L240.96 319.38L241.57 320.35L242.18 318.96L242.79 318.06L243.4 319.44L244.01 318.78L244.62 317.88L245.23 318.96L245.83 319.45L246.44 319.08L247.05 318.49L247.66 318.63L248.27 317.62L248.88 316.87L249.49 316.13L250.1 315.61L250.71 314.71L251.32 314.39L251.93 315.82L252.54 315.89L253.15 316.2L253.76 316.27L254.37 315.52L254.98 314.99L255.58 314.3L256.19 315.27L256.8 315.42L257.41 314.56L258.02 314.16L258.63 313.93L259.24 313.55L259.85 313.73L260.46 312.73L261.07 312.37L261.68 312.39L262.29 312.7" fill="none" stroke="#00ea89" stroke-width="1.8" stroke-linejoin="round"/>
<path d="M132.13 388.12L132.69 387.81L133.24 388.87L133.8 390.2L134.35 390.71L134.91 391.07L135.46 390.41L136.02 390.39L136.57 390.73L137.13 389.87L137.68 390.97L138.24 390.5L138.79 390.95L139.35 391.49L139.9 391.97L140.46 391.15L141.01 392.17L141.57 393.34L142.12 393.22L142.68 392.19L143.24 393.26L143.79 392.9L144.35 391.85L144.9 391.43L145.46 391.62L146.01 390.52L146.57 391.65L147.12 392.38L147.68 393.92L148.23 393.13L148.79 392.32L149.34 392.77L149.9 392.89L150.45 392.4L151.01 392.16L151.56 392.61L152.12 392.97L152.68 392.98L153.23 394.43L153.79 393.7L154.34 392.19L154.9 391.31L155.45 393.19L156.01 392.73L156.56 392.52L157.12 392.7L157.67 391.63L158.23 392.15L158.78 391.82L159.34 391.66L159.89 392.27L160.45 391.73L161 391.57L161.56 390.95L162.11 391.26L162.67 390.54L163.23 390.58L163.78 390.6L164.34 390.5L164.89 391.7L165.45 389.79L166 388.84L166.56 389.7L167.11 391.15L167.67 390.55L168.22 389.37L168.78 391.31L169.33 388.69L169.89 389.42L170.44 389.51L171 389.63L171.55 388.89L172.11 388.38L172.67 388.26L173.22 387.94L173.78 388.47L174.33 387.71L174.89 387.93L175.44 387.85L176 386.83L176.55 386.82L177.11 386.37L177.66 385.32L178.22 386.47L178.77 386.22L179.33 387.27L179.88 385.44L180.44 386.68L180.99 387.42L181.55 387.01L182.1 385.34L182.66 385.14L183.22 386.4L183.77 385.51L184.33 385.68L184.88 385.79L185.44 383.83L185.99 383.79L186.55 383.63L187.1 383.46L187.66 384.16L188.21 383.64L188.77 383.91L189.32 339.22L189.88 338.25L190.43 336.63L190.99 337.01L191.54 336.03L192.1 336.62L192.65 336.26L193.21 336.02L193.77 335.67L194.32 335.16L194.88 335.94L195.43 335.53L195.99 334.07L196.54 333.98L197.1 334.63L197.65 334.57L198.21 334.42L198.76 334.08L199.32 334.03L199.87 333.84L200.43 333.83L200.98 334.07L201.54 333.18L202.09 332.69L202.65 333.97L203.21 334.4L203.76 333.57L204.32 334.11L204.87 333.75L205.43 333.52L205.98 333L206.54 333.18L207.09 331.13L207.65 331.22L208.2 331.19L208.76 332.61L209.31 333.3L209.87 332.47L210.42 331.56L210.98 331.56L211.53 330.8L212.09 332.64L212.64 331.32L213.2 330.35L213.76 331.72L214.31 331.03L214.87 330.76L215.42 330.95L215.98 332L216.53 331.95L217.09 330.8L217.64 329.63L218.2 329.64L218.75 352.78L219.31 354.03L219.86 352.99L220.42 355.07L220.97 354.7L221.53 354.21L222.08 353.86L222.64 353.49L223.2 354.68L223.75 356.11L224.31 355.53L224.86 356.06L225.42 355.3L225.97 355.76L226.53 355.43L227.08 355.16L227.64 354.87L228.19 355.33L228.75 354.21L229.3 355L229.86 355.04L230.41 354.62L230.97 354.75L231.52 353.84L232.08 354.46L232.63 354.98L233.19 354.17L233.75 354.16L234.3 355.1L234.86 355.31L235.41 354.92L235.97 353.95L236.52 353.8L237.08 354.25L237.63 356.18L238.19 355.04L238.74 355.75L239.3 356.33L239.85 355.99L240.41 355.23L240.96 354.88L241.52 352.98L242.07 353.91L242.63 354.76L243.18 353.8L243.74 353.99L244.3 354.49L244.85 355.03L245.41 354.69L245.96 353.43L246.52 353.36L247.07 353.95L247.63 353.39L248.18 353.56L248.74 354.65L249.29 353.76L249.85 353.39L250.4 352.41L250.96 353.1L251.51 354.16L252.07 353.35L252.62 351.68L253.18 353.02L253.74 352L254.29 352.57L254.85 352.4L255.4 352.71L255.96 353.44L256.51 352.43L257.07 352.89L257.62 352.65L258.18 352.23L258.73 353.3L259.29 352.41L259.84 352.07L260.4 352.33L260.95 352.67L261.51 352.13L262.06 351.74L262.62 351.93L263.17 351.68L263.73 351.67L264.29 352.83L264.84 351.31L265.4 350.59" fill="none" stroke="#00db91" stroke-width="1.8" stroke-linejoin="round"/>
<path d="M140.17 403.89L140.7 402.78L141.24 401.32L141.77 402.02L142.3 402.47L142.83 402.81L143.36 403.15L143.89 403.11L144.42 402.17L144.96 402.04L145.49 401.9L146.02 401.92L146.55 401.13L147.08 400.95L147.61 401.24L148.14 400.76L148.68 401.01L149.21 401.75L149.74 400.28L150.27 400.15L150.8 400.98L151.33 399.94L151.86 399.86L152.4 401.05L152.93 399.4L153.46 399.38L153.99 398.92L154.52 399.09L155.05 399.35L155.58 400.36L156.11 399.07L156.65 399L157.18 399.11L157.71 398.65L158.24 398.54L158.77 398L159.3 398.38L159.83 398.26L160.37 399.57L160.9 398.97L161.43 397.86L161.96 396.77L162.49 397.32L163.02 397.35L163.55 396.13L164.09 396.75L164.62 396.26L165.15 395.3L165.68 395.86L166.21 395.26L166.74 396.2L167.27 395.97L167.81 395.98L168.34 395.78L168.87 394.91L169.4 393.54L169.93 394.87L170.46 395.39L170.99 394.85L171.52 395.56L172.06 394.78L172.59 394.27L173.12 394.51L173.65 394.01L174.18 395.1L174.71 394L175.24 394.94L175.78 394.76L176.31 394.5L176.84 394.19L177.37 393.1L177.9 393.01L178.43 393.21L178.96 392.6L179.5 391.51L180.03 391.96L180.56 391.87L181.09 391.15L181.62 391.37L182.15 392.47L182.68 390.37L183.22 389.43L183.75 391.75L184.28 391.51L184.81 391L185.34 390.29L185.87 390.07L186.4 390.52L186.93 391.21L187.47 390.68L188 389.71L188.53 390.6L189.06 390.92L189.59 390.33L190.12 391.26L190.65 390.5L191.19 390.17L191.72 389.32L192.25 389.61L192.78 389.8L193.31 389.48L193.84 389.02L194.37 389.13L194.91 388.64L195.44 387.82L195.97 387.04L196.5 386.21L197.03 387.43L197.56 364.65L198.09 366.14L198.62 363.82L199.16 364.38L199.69 364.12L200.22 363.54L200.75 364.46L201.28 363.61L201.81 363.45L202.34 364.53L202.88 363.55L203.41 362.37L203.94 363.81L204.47 362.63L205 362.37L205.53 362L206.06 361.76L206.6 360.98L207.13 361.57L207.66 361.04L208.19 361.58L208.72 361.01L209.25 361.7L209.78 361.5L210.32 360.07L210.85 360.16L211.38 360.55L211.91 361.35L212.44 361.43L212.97 360.74L213.5 359.81L214.03 359.62L214.57 359.39L215.1 359.6L215.63 358.67L216.16 359.33L216.69 359.7L217.22 358.83L217.75 358.89L218.29 359.08L218.82 359.31L219.35 359.14L219.88 358.38L220.41 358.12L220.94 358.98L221.47 358.23L222.01 357.95L222.54 358.54L223.07 357.56L223.6 357.72L224.13 357.76L224.66 356.95L225.19 356.11L225.73 356.99L226.26 356.59L226.79 368.53L227.32 366.67L227.85 367.62L228.38 366.91L228.91 367.78L229.44 367.17L229.98 365.88L230.51 368.44L231.04 368.24L231.57 367.47L232.1 367.44L232.63 367.78L233.16 365.99L233.7 366.46L234.23 367.84L234.76 366.77L235.29 367.96L235.82 366.54L236.35 366.97L236.88 366.65L237.42 365.68L237.95 365.93L238.48 367.04L239.01 367.75L239.54 366.1L240.07 365.52L240.6 366.25L241.14 365.42L241.67 365.21L242.2 364.94L242.73 366.75L243.26 366.26L243.79 365.15L244.32 364.65L244.85 364.25L245.39 366.28L245.92 365.45L246.45 364.76L246.98 362.95L247.51 364.39L248.04 364.62L248.57 364.44L249.11 363.71L249.64 364.2L250.17 363.3L250.7 364.11L251.23 363.75L251.76 364.05L252.29 363.67L252.83 364L253.36 364.73L253.89 363.2L254.42 362.91L254.95 363.3L255.48 362.92L256.01 362.12L256.55 363.01L257.08 362.8L257.61 362.19L258.14 361.84L258.67 362.19L259.2 363.51L259.73 361.82L260.26 361.54L260.8 361.55L261.33 361.69L261.86 361.33L262.39 361.55L262.92 362.01L263.45 361.98L263.98 361.81L264.52 361.66L265.05 361.9L265.58 360.73L266.11 361.4L266.64 360.33L267.17 360.87L267.7 360.14" fill="none" stroke="#00d494" stroke-width="1.8" stroke-linejoin="round"/>
<path d="M148.22 404.99L148.77 404.06L149.33 404.68L149.88 405.93L150.44 405.54L150.99 405.02L151.54 405.22L152.1 405.41L152.65 406.03L153.21 405.97L153.76 406.84L154.32 406.24L154.87 405.29L155.43 405.52L155.98 404.91L156.54 405.02L157.09 405.47L157.65 406.63L158.2 405.63L158.75 405.6L159.31 407.04L159.86 405.37L160.42 404.78L160.97 404.32L161.53 403.97L162.08 404.89L162.64 405.11L163.19 405.77L163.75 404.86L164.3 405.24L164.86 403.83L165.41 404.95L165.96 404.44L166.52 403.71L167.07 404.1L167.63 404.57L168.18 405.33L168.74 404.05L169.29 403.48L169.85 402.71L170.4 403.68L170.96 402.67L171.51 402.84L172.07 402.74L172.62 402.84L173.18 403.46L173.73 403.55L174.28 402.65L174.84 403.03L175.39 402.9L175.95 402.77L176.5 402.43L177.06 401.62L177.61 402.49L178.17 402.12L178.72 402.45L179.28 402.22L179.83 402.44L180.39 403.1L180.94 402.59L181.49 402.96L182.05 401.12L182.6 402.04L183.16 401.88L183.71 401.19L184.27 401.22L184.82 399.99L185.38 400.3L185.93 401.3L186.49 400.01L187.04 400.24L187.6 398.01L188.15 399.46L188.7 399.84L189.26 399.59L189.81 400.19L190.37 399.17L190.92 398.08L191.48 397.26L192.03 397.6L192.59 398.1L193.14 397.27L193.7 396.85L194.25 397.56L194.81 398.05L195.36 398.42L195.91 397.84L196.47 397.65L197.02 396.92L197.58 396.27L198.13 397.38L198.69 396.77L199.24 396.44L199.8 396.71L200.35 396.4L200.91 395.32L201.46 395.64L202.02 395.76L202.57 395.95L203.13 395.51L203.68 395.77L204.23 395.14L204.79 343.42L205.34 343.41L205.9 342.6L206.45 341.48L207.01 342.13L207.56 341.95L208.12 341.38L208.67 341.69L209.23 341.39L209.78 341.11L210.34 342.03L210.89 342.58L211.44 341.59L212 341.84L212.55 341.22L213.11 340.72L213.66 341.04L214.22 341.28L214.77 341.22L215.33 339.74L215.88 341.23L216.44 339.83L216.99 339.67L217.55 339.98L218.1 339.38L218.65 339.29L219.21 339.74L219.76 339.34L220.32 338.92L220.87 338.41L221.43 338.3L221.98 338.3L222.54 339.66L223.09 339.24L223.65 338.16L224.2 337.48L224.76 338.05L225.31 338.14L225.86 338.39L226.42 338.62L226.97 337.43L227.53 336.5L228.08 336.56L228.64 336.24L229.19 335.29L229.75 336.43L230.3 336.18L230.86 336.04L231.41 335.19L231.97 336.25L232.52 336.88L233.08 335.77L233.63 335.86L234.18 362.72L234.74 362.34L235.29 362.28L235.85 362.01L236.4 362.37L236.96 362.75L237.51 364.03L238.07 363.05L238.62 364.1L239.18 363.86L239.73 362.83L240.29 364.32L240.84 363.51L241.39 364.15L241.95 364.04L242.5 365.05L243.06 365.84L243.61 364.6L244.17 362.92L244.72 362.94L245.28 363.46L245.83 363.68L246.39 362.79L246.94 362.42L247.5 363.7L248.05 364.62L248.6 363.19L249.16 363.97L249.71 363.69L250.27 363.19L250.82 364.29L251.38 364.66L251.93 365.45L252.49 364.14L253.04 364.34L253.6 363.78L254.15 364.96L254.71 364.19L255.26 364.84L255.81 364.72L256.37 365.4L256.92 365.02L257.48 364.21L258.03 364.44L258.59 364.54L259.14 364.06L259.7 364.33L260.25 363.94L260.81 363.99L261.36 363.49L261.92 364.06L262.47 363.95L263.03 363.86L263.58 362.9L264.13 363.15L264.69 364.23L265.24 364.83L265.8 364.34L266.35 364.3L266.91 364.55L267.46 364.45L268.02 363.51L268.57 364.68L269.13 363.89L269.68 363.83L270.24 362.58L270.79 364.07L271.34 363.36L271.9 363.39L272.45 363.17L273.01 362.79L273.56 361.6L274.12 361.98L274.67 362.05L275.23 363.31L275.78 362.57L276.34 363.46L276.89 363.08L277.45 362.47L278 361.49L278.55 361.24L279.11 361.57L279.66 361.28L280.22 361.8L280.77 361.82L281.33 361.88" fill="none" stroke="#00cc98" stroke-width="1.8" stroke-linejoin="round"/>
<path d="M156.26 407.34L156.79 406.83L157.32 407.53L157.85 407.12L158.38 408.23L158.91 407.31L159.44 407.38L159.97 408.62L160.5 407.67L161.03 408.23L161.56 406.99L162.09 407.68L162.62 407.64L163.15 407.27L163.68 407.47L164.21 407.12L164.74 407.46L165.27 406.75L165.8 406.8L166.33 406.64L166.86 408.53L167.39 406.76L167.92 406.59L168.45 407.69L168.98 406.91L169.51 406.2L170.04 405.38L170.57 406.39L171.1 405.04L171.63 405.47L172.16 403.88L172.69 404.76L173.23 404.57L173.76 405.13L174.29 405.86L174.82 404.65L175.35 404.11L175.88 403.35L176.41 403.36L176.94 404.28L177.47 405.42L178 405.23L178.53 405.09L179.06 405.04L179.59 404L180.12 403.58L180.65 403.71L181.18 403.41L181.71 403.4L182.24 403.08L182.77 402.49L183.3 401.98L183.83 402.77L184.36 403.66L184.89 402.03L185.42 402.04L185.95 401.3L186.48 402.73L187.01 402.48L187.54 402.04L188.07 402.75L188.6 402.4L189.13 401.3L189.66 400.44L190.19 399.59L190.72 400.76L191.25 401.65L191.78 400.7L192.31 399.87L192.84 399.89L193.37 400.85L193.9 399.83L194.43 399.24L194.96 399.03L195.49 399.56L196.02 399.22L196.55 398.64L197.08 399.19L197.61 400.27L198.14 399.26L198.67 398.57L199.2 398.47L199.73 397.75L200.26 398.32L200.79 398.19L201.32 398.2L201.85 397.53L202.38 396.42L202.91 397.05L203.44 395.72L203.97 395.34L204.5 395.57L205.03 395.76L205.56 394.96L206.09 395.83L206.63 396.13L207.16 396.86L207.69 396.1L208.22 395.05L208.75 395.01L209.28 394.98L209.81 395.32L210.34 395.16L210.87 396.09L211.4 394.8L211.93 395.07L212.46 395.6L212.99 395.55L213.52 375.87L214.05 374.63L214.58 373.8L215.11 374.97L215.64 373.92L216.17 373.36L216.7 374.01L217.23 374.88L217.76 374.74L218.29 374.52L218.82 373.68L219.35 373.66L219.88 374.73L220.41 373.65L220.94 374.24L221.47 372.8L222 373.46L222.53 373.36L223.06 373.36L223.59 373.07L224.12 371.6L224.65 371.1L225.18 370.95L225.71 371L226.24 372.23L226.77 372.07L227.3 371.94L227.83 372.1L228.36 371.09L228.89 371.37L229.42 371.42L229.95 371.6L230.48 372.32L231.01 370.79L231.54 369.46L232.07 369.51L232.6 370.25L233.13 371.73L233.66 370.44L234.19 369.01L234.72 368.85L235.25 368.27L235.78 367.54L236.31 367.34L236.84 368.24L237.37 367.6L237.9 367.4L238.43 368.81L238.96 368.67L239.49 369.23L240.02 368.54L240.56 367.65L241.09 368.27L241.62 369.18L242.15 376.67L242.68 376.33L243.21 375.37L243.74 376.75L244.27 375.77L244.8 374.54L245.33 373.92L245.86 375.08L246.39 375.29L246.92 375.63L247.45 374.97L247.98 374.56L248.51 374.96L249.04 376.09L249.57 375.18L250.1 375.49L250.63 374.85L251.16 374.73L251.69 373.69L252.22 373.44L252.75 374.35L253.28 374.21L253.81 373.12L254.34 374.09L254.87 373.86L255.4 373.17L255.93 372.73L256.46 372.95L256.99 374.27L257.52 374.83L258.05 374.02L258.58 373.46L259.11 371.65L259.64 373.02L260.17 372.28L260.7 372.1L261.23 373.62L261.76 373.74L262.29 373.06L262.82 373.12L263.35 372.85L263.88 372.23L264.41 372.74L264.94 372.06L265.47 372.41L266 372.46L266.53 371.68L267.06 371.99L267.59 371.5L268.12 370.29L268.65 370.7L269.18 370.95L269.71 370.42L270.24 370.84L270.77 369.99L271.3 371.12L271.83 370.33L272.36 370.63L272.89 370.92L273.42 369.24L273.96 370.12L274.49 368.72L275.02 368.7L275.55 368.08L276.08 369.37L276.61 368.46L277.14 367.76L277.67 368.42L278.2 368.69L278.73 366.99L279.26 367.63L279.79 368.29L280.32 368.69L280.85 368.09L281.38 367.8L281.91 367.69L282.44 366.51L282.97 367.25L283.5 367" fill="none" stroke="#00c59c" stroke-width="1.8" stroke-linejoin="round"/>
<path d="M164.3 410.4L164.81 411.51L165.32 411.34L165.83 412.51L166.34 411.2L166.84 412.29L167.35 411.88L167.86 412.34L168.37 412.51L168.88 413.11L169.38 412.69L169.89 413.18L170.4 412.07L170.91 412.75L171.41 412.55L171.92 411.91L172.43 411.57L172.94 411.3L173.45 411.05L173.95 411.35L174.46 411.27L174.97 411.08L175.48 412.43L175.99 412.23L176.49 412.06L177 412.06L177.51 411.56L178.02 412.33L178.53 412.97L179.03 412.71L179.54 411.8L180.05 412.22L180.56 413.35L181.07 411.5L181.57 410.52L182.08 410.41L182.59 410.85L183.1 411.05L183.61 411.77L184.11 411.94L184.62 410.76L185.13 410.93L185.64 409.89L186.15 410.23L186.65 411.7L187.16 410.78L187.67 409.35L188.18 409.41L188.69 410.05L189.19 410.31L189.7 409.52L190.21 409.98L190.72 410.48L191.23 409.71L191.73 409.34L192.24 409.61L192.75 409.88L193.26 409.01L193.77 410L194.27 409.65L194.78 409.33L195.29 407.53L195.8 408.46L196.31 407.74L196.81 407.88L197.32 406.97L197.83 406.27L198.34 406.99L198.85 406.97L199.35 407.64L199.86 407.55L200.37 406.68L200.88 407.53L201.39 407.56L201.89 406.96L202.4 406.83L202.91 406.74L203.42 407.79L203.93 407.05L204.43 406.47L204.94 406.07L205.45 405.7L205.96 404.95L206.47 403.65L206.97 405.13L207.48 405.66L207.99 404.85L208.5 406.2L209 406.07L209.51 405.82L210.02 405.76L210.53 405.67L211.04 405.65L211.54 405.3L212.05 404.24L212.56 402.89L213.07 404.24L213.58 403.43L214.08 402.9L214.59 402.66L215.1 401.58L215.61 401.84L216.12 401.32L216.62 402.35L217.13 403.15L217.64 401.68L218.15 401.6L218.66 402.55L219.16 402.12L219.67 401.23L220.18 401.82L220.69 401.23L221.2 402.04L221.7 358.4L222.21 358.06L222.72 358.12L223.23 358.17L223.74 358.03L224.24 356.9L224.75 356.33L225.26 358.19L225.77 358.39L226.28 357.83L226.78 357.34L227.29 357.76L227.8 356.61L228.31 354.79L228.82 356.32L229.32 356.98L229.83 356.44L230.34 355.43L230.85 355.05L231.36 355.29L231.86 355.06L232.37 355.19L232.88 355.24L233.39 355.35L233.9 355.52L234.4 354.93L234.91 354.91L235.42 354.53L235.93 354.78L236.44 353.5L236.94 353.75L237.45 353.87L237.96 352.81L238.47 353.24L238.98 353.27L239.48 353.26L239.99 354.41L240.5 353.18L241.01 354.04L241.52 352.71L242.02 352.32L242.53 352.73L243.04 353.42L243.55 352.48L244.06 352.64L244.56 351.37L245.07 351.98L245.58 351.85L246.09 351.83L246.59 352.5L247.1 353.05L247.61 351.72L248.12 351.22L248.63 351.24L249.13 351.54L249.64 350.71L250.15 351.33L250.66 372.54L251.17 372.54L251.67 373.45L252.18 373.6L252.69 373.53L253.2 373.69L253.71 373.25L254.21 373.85L254.72 374.13L255.23 374.46L255.74 374.46L256.25 373.54L256.75 373.06L257.26 374.79L257.77 373.88L258.28 374.47L258.79 373.98L259.29 373.44L259.8 372.35L260.31 373.03L260.82 372.91L261.33 373.68L261.83 375L262.34 375.33L262.85 373.88L263.36 374.41L263.87 374.12L264.37 373.04L264.88 372.65L265.39 373.39L265.9 373.69L266.41 374.3L266.91 372.77L267.42 373.72L267.93 373.44L268.44 373.24L268.95 373.22L269.45 372.43L269.96 373.8L270.47 374.04L270.98 373.34L271.49 373.26L271.99 372.44L272.5 373.72L273.01 372.65L273.52 373.36L274.03 373.23L274.53 371.62L275.04 371.75L275.55 373.12L276.06 372.27L276.57 372.68L277.07 371.79L277.58 371.62L278.09 371.82L278.6 372.45L279.11 372.31L279.61 373.78L280.12 372.82L280.63 371.47L281.14 372.02L281.64 372.62L282.15 372.06L282.66 371.38L283.17 371.5L283.68 372.74L284.18 372.4L284.69 371.84L285.2 371.19L285.71 372.33L286.22 371.67" fill="none" stroke="#00bda0" stroke-width="1.8" stroke-linejoin="round"/>
<path d="M172.35 419L172.91 420.61L173.47 420.49L174.02 420.5L174.58 420.35L175.14 420.32L175.7 419.86L176.26 421.23L176.82 420.73L177.38 421.88L177.94 421.34L178.5 421.47L179.06 421.51L179.62 421.07L180.18 421.54L180.74 421.01L181.3 420.92L181.86 421.39L182.41 422.1L182.97 422.58L183.53 422.66L184.09 422.46L184.65 422.23L185.21 420.04L185.77 420.53L186.33 420.65L186.89 421.8L187.45 422.25L188.01 422.17L188.57 421.74L189.13 422.33L189.69 420.78L190.25 421.44L190.8 420.61L191.36 422.48L191.92 421.78L192.48 421.18L193.04 420.89L193.6 420.41L194.16 420.34L194.72 420.33L195.28 421.67L195.84 421.48L196.4 422.44L196.96 420.82L197.52 420.18L198.08 420.14L198.63 420.48L199.19 420.42L199.75 418.67L200.31 417.81L200.87 418.53L201.43 417.91L201.99 419.49L202.55 420.45L203.11 419.87L203.67 419.78L204.23 419.45L204.79 418.7L205.35 416.32L205.91 417.58L206.47 417.65L207.02 417.46L207.58 417.5L208.14 416.79L208.7 415.78L209.26 417.27L209.82 416.98L210.38 417.05L210.94 416.58L211.5 417.57L212.06 418.14L212.62 418.73L213.18 417.01L213.74 416.3L214.3 415.95L214.86 417.36L215.41 416.63L215.97 416.45L216.53 416.73L217.09 416.46L217.65 415.14L218.21 414.51L218.77 414.5L219.33 414.05L219.89 414.52L220.45 414.21L221.01 414L221.57 413.46L222.13 413.54L222.69 413.56L223.25 413.48L223.8 413.71L224.36 411.78L224.92 411.91L225.48 411.96L226.04 410.63L226.6 410.49L227.16 412.36L227.72 411.68L228.28 411.17L228.84 410.12L229.4 409.9L229.96 361.46L230.52 362.81L231.08 363.21L231.64 362.55L232.19 361.99L232.75 362.67L233.31 362.51L233.87 362.36L234.43 361.9L234.99 361.41L235.55 361.51L236.11 362.14L236.67 360.69L237.23 359.65L237.79 360.21L238.35 359.65L238.91 359.69L239.47 359.49L240.02 359.44L240.58 360.19L241.14 359.58L241.7 358.9L242.26 359.79L242.82 358.21L243.38 357.26L243.94 356.89L244.5 356.52L245.06 357.11L245.62 358.07L246.18 358.65L246.74 359.02L247.3 358.49L247.86 358.26L248.41 357.59L248.97 359.01L249.53 356.69L250.09 355.49L250.65 356.38L251.21 356.27L251.77 356.28L252.33 356.35L252.89 356.64L253.45 356.65L254.01 357.07L254.57 356.51L255.13 356.3L255.69 355.89L256.25 356.41L256.8 355.98L257.36 355.69L257.92 355.09L258.48 381.21L259.04 380.74L259.6 380.16L260.16 380.17L260.72 380.88L261.28 381.35L261.84 381.44L262.4 380.86L262.96 380.04L263.52 380.82L264.08 381.57L264.64 381.28L265.19 381.27L265.75 382.05L266.31 382.34L266.87 382.07L267.43 381.42L267.99 382.39L268.55 382.77L269.11 381.94L269.67 382.71L270.23 382.19L270.79 381.78L271.35 381.9L271.91 382.58L272.47 382.27L273.03 382.31L273.58 381.87L274.14 382.46L274.7 381.43L275.26 382.81L275.82 382.47L276.38 382.17L276.94 381.36L277.5 382.03L278.06 381.56L278.62 382.08L279.18 381.44L279.74 380.43L280.3 381.37L280.86 381.25L281.41 382.12L281.97 381.23L282.53 380.62L283.09 381.09L283.65 382.11L284.21 381.55L284.77 380.75L285.33 380.36L285.89 380.34L286.45 382.11L287.01 382.18L287.57 380.76L288.13 381.83L288.69 380.73L289.25 379.64L289.8 379.84L290.36 379.66L290.92 380.53L291.48 381.55L292.04 381.26L292.6 381.15L293.16 380.96L293.72 380.32L294.28 380.54L294.84 380.39L295.4 380.12L295.96 380.24L296.52 379L297.08 379.3L297.64 379.65L298.19 379.99L298.75 380.4L299.31 379.23L299.87 379.41L300.43 380.3L300.99 380.35L301.55 380.04L302.11 380.05L302.67 378.97L303.23 379.92L303.79 379.22L304.35 379.06L304.91 379.83L305.47 379.34L306.03 379.14L306.58 378.58" fill="none" stroke="#00b6a3" stroke-width="1.8" stroke-linejoin="round"/>
<path d="M180.39 422.45L180.96 422.82L181.53 423.69L182.1 423.58L182.67 422.33L183.24 421.23L183.81 421.11L184.38 421.89L184.95 423.12L185.52 421.92L186.08 422.57L186.65 422.28L187.22 420.87L187.79 421.64L188.36 421.81L188.93 421.14L189.5 421.55L190.07 420.7L190.64 419.61L191.21 420.38L191.78 419.48L192.35 420.7L192.92 420.46L193.49 420.58L194.06 422.11L194.63 421.28L195.2 420.14L195.77 420.18L196.34 420.77L196.9 419.7L197.47 420.09L198.04 419.04L198.61 418.41L199.18 418.37L199.75 418.73L200.32 418.7L200.89 417.45L201.46 416.52L202.03 417.1L202.6 419.17L203.17 419.38L203.74 419.5L204.31 417.5L204.88 418.42L205.45 416.91L206.02 416.83L206.59 417.02L207.16 415.91L207.72 416.43L208.29 415.64L208.86 415.17L209.43 416.13L210 416.11L210.57 415.18L211.14 417L211.71 415.62L212.28 415.67L212.85 414.91L213.42 415.23L213.99 415.37L214.56 416.51L215.13 416.53L215.7 416.05L216.27 415.24L216.84 415.53L217.41 414.59L217.98 414.01L218.54 413.57L219.11 413.17L219.68 412.85L220.25 413.5L220.82 412.96L221.39 412.91L221.96 412.53L222.53 413.8L223.1 413.48L223.67 413.55L224.24 413.38L224.81 412.92L225.38 412.71L225.95 412.34L226.52 412.63L227.09 412.85L227.66 412.26L228.23 412.18L228.8 411.37L229.36 410.98L229.93 410.24L230.5 410.94L231.07 410.59L231.64 410.38L232.21 410.15L232.78 410.72L233.35 409.02L233.92 409.11L234.49 408.27L235.06 409.2L235.63 408.99L236.2 408.27L236.77 408.44L237.34 370.35L237.91 370.68L238.48 369.11L239.05 368.95L239.62 369.59L240.18 369.52L240.75 370.05L241.32 369.21L241.89 369.22L242.46 369.45L243.03 368.89L243.6 367.1L244.17 367.86L244.74 368.53L245.31 368.73L245.88 367.88L246.45 368.35L247.02 368.93L247.59 367.55L248.16 368.56L248.73 369.07L249.3 368.27L249.87 367.71L250.44 368.46L251 368.8L251.57 367.52L252.14 367.38L252.71 368.31L253.28 366.27L253.85 365.15L254.42 364.34L254.99 364.99L255.56 365.96L256.13 366.1L256.7 364.81L257.27 365.17L257.84 366.1L258.41 364.86L258.98 364.11L259.55 364.98L260.12 365.21L260.69 364.19L261.26 365.18L261.82 364.25L262.39 364.18L262.96 363.24L263.53 363.98L264.1 363.87L264.67 364.03L265.24 362.44L265.81 381.65L266.38 382.73L266.95 383.04L267.52 382.65L268.09 382.73L268.66 382.29L269.23 383.23L269.8 383.32L270.37 381.64L270.94 381.3L271.51 382.52L272.08 381.37L272.64 381.05L273.21 383.26L273.78 382.69L274.35 381.91L274.92 382.12L275.49 382.35L276.06 381.56L276.63 381.73L277.2 383.6L277.77 382.96L278.34 382.52L278.91 383.25L279.48 381.93L280.05 382.09L280.62 383.17L281.19 382.77L281.76 382.93L282.33 382.08L282.9 382.57L283.46 382.62L284.03 381.29L284.6 381.9L285.17 382.16L285.74 382L286.31 382.33L286.88 381.48L287.45 382.35L288.02 382.26L288.59 380.56L289.16 382.17L289.73 382.46L290.3 381.78L290.87 383.08L291.44 383.68L292.01 382.81L292.58 381.17L293.15 380.84L293.72 381.19L294.28 381.72L294.85 379.44L295.42 379.61L295.99 380.75L296.56 379.44L297.13 378.93L297.7 380.02L298.27 381.23L298.84 379.19L299.41 379.63L299.98 380.07L300.55 379.7L301.12 379.86L301.69 378.9L302.26 379.6L302.83 379.47L303.4 378.95L303.97 378.16L304.54 379.09L305.1 379.39L305.67 378.13L306.24 378.45L306.81 377.84L307.38 377.98L307.95 378.04L308.52 378.72L309.09 378.46L309.66 378.3L310.23 378.56L310.8 376.95L311.37 378.19L311.94 378.41L312.51 377.67L313.08 376.75L313.65 377.5L314.22 377.48L314.79 377.74L315.36 377.97L315.92 376.46L316.49 376.56L317.06 376.82" fill="none" stroke="#00aea7" stroke-width="1.8" stroke-linejoin="round"/>
<path d="M188.43 425.74L188.93 425.85L189.43 426.15L189.93 427.95L190.43 427.9L190.93 428.76L191.43 429.18L191.93 428.58L192.43 428.44L192.93 428.42L193.42 429.17L193.92 429.16L194.42 429.71L194.92 429.17L195.42 428.74L195.92 427.85L196.42 427.78L196.92 429.2L197.42 429.7L197.92 430.31L198.42 429.79L198.91 428.41L199.41 428.6L199.91 430.69L200.41 431.1L200.91 431.34L201.41 430.22L201.91 430.01L202.41 429.69L202.91 428.51L203.41 429.69L203.9 430.28L204.4 428.64L204.9 428.9L205.4 429.78L205.9 431.05L206.4 431.31L206.9 432.04L207.4 430.66L207.9 429.95L208.4 428.91L208.9 429.13L209.39 429.58L209.89 429.8L210.39 428.06L210.89 429.66L211.39 429.09L211.89 428.86L212.39 428.29L212.89 428.66L213.39 428.18L213.89 427.67L214.39 428.02L214.88 428.36L215.38 428.29L215.88 428.73L216.38 428.38L216.88 428.22L217.38 427.73L217.88 426.66L218.38 426.09L218.88 426.94L219.38 426.59L219.88 426.57L220.37 426.18L220.87 426.43L221.37 426.33L221.87 426.72L222.37 427.06L222.87 426.04L223.37 425.18L223.87 425.12L224.37 425.18L224.87 425.26L225.37 425.73L225.86 426.81L226.36 425.61L226.86 425.27L227.36 425.54L227.86 425.89L228.36 424.47L228.86 425.8L229.36 423.96L229.86 423.74L230.36 422.39L230.86 423.75L231.35 423.89L231.85 424.22L232.35 423.87L232.85 423.87L233.35 424.17L233.85 423.01L234.35 423.63L234.85 423.68L235.35 422.92L235.85 423.21L236.35 423.22L236.84 422.61L237.34 422.73L237.84 423.33L238.34 422.77L238.84 422.5L239.34 420.99L239.84 422.07L240.34 421.13L240.84 421.79L241.34 421.76L241.84 421.65L242.33 421.12L242.83 420.38L243.33 419.34L243.83 420.37L244.33 419.48L244.83 419.19L245.33 379.86L245.83 380.83L246.33 380.11L246.83 380.37L247.33 380.13L247.82 380.36L248.32 379.77L248.82 379.11L249.32 378.7L249.82 379.34L250.32 378.77L250.82 378.11L251.32 379.35L251.82 378.26L252.32 379.56L252.82 378.86L253.31 378.41L253.81 377.52L254.31 377.83L254.81 378.43L255.31 378.88L255.81 379.36L256.31 378.15L256.81 378.16L257.31 378.43L257.81 377.65L258.31 378.08L258.8 378L259.3 377.91L259.8 376.36L260.3 375.65L260.8 376.33L261.3 377.57L261.8 376.86L262.3 376.59L262.8 376.19L263.3 375.78L263.79 376.11L264.29 375.36L264.79 374.98L265.29 375.15L265.79 375.59L266.29 375.8L266.79 375.04L267.29 375.81L267.79 375.49L268.29 375.67L268.79 376.13L269.28 374.93L269.78 374.7L270.28 374.47L270.78 373.72L271.28 374.89L271.78 374.44L272.28 373.91L272.78 373.2L273.28 374.09L273.78 373.24L274.28 373.09L274.77 392.46L275.27 392.24L275.77 392.54L276.27 391.61L276.77 392.62L277.27 393.42L277.77 393.77L278.27 394.36L278.77 394.04L279.27 395.14L279.77 394.47L280.26 393.79L280.76 393.06L281.26 393.61L281.76 392.7L282.26 393.63L282.76 393.74L283.26 394.98L283.76 394.83L284.26 394.77L284.76 393.2L285.26 393.05L285.75 394.05L286.25 393.45L286.75 393.17L287.25 393.5L287.75 393.48L288.25 393.67L288.75 393.92L289.25 394.84L289.75 394.17L290.25 392.9L290.75 392.15L291.24 392.89L291.74 393.56L292.24 393.52L292.74 392.73L293.24 392.69L293.74 393.26L294.24 392.9L294.74 393.07L295.24 392.66L295.74 393.04L296.24 393.91L296.73 393.3L297.23 392.5L297.73 393.32L298.23 393.04L298.73 392.21L299.23 392.6L299.73 392.95L300.23 391.31L300.73 391.26L301.23 391.07L301.73 392.26L302.22 391.1L302.72 392.68L303.22 392.68L303.72 391.8L304.22 390.94L304.72 391.97L305.22 392.28L305.72 391.82L306.22 392.97L306.72 391.8L307.22 391.23L307.71 391.57L308.21 391.05" fill="none" stroke="#00a7ab" stroke-width="1.8" stroke-linejoin="round"/>
<path d="M196.48 431.08L196.99 431.74L197.5 430.92L198.01 430.58L198.53 431.46L199.04 431.14L199.55 430.98L200.06 430.8L200.57 428.81L201.09 429.79L201.6 430.41L202.11 430.99L202.62 431.37L203.14 433.02L203.65 432.26L204.16 431.67L204.67 431.96L205.18 431.29L205.7 430.66L206.21 429.83L206.72 428.65L207.23 429.47L207.75 430.51L208.26 431.16L208.77 429.77L209.28 430.34L209.79 430.19L210.31 429.55L210.82 429.6L211.33 429.55L211.84 429.4L212.36 430.76L212.87 430.23L213.38 429.36L213.89 430.15L214.4 430.64L214.92 429.45L215.43 429.36L215.94 428.79L216.45 429.98L216.97 429.29L217.48 429.46L217.99 428.37L218.5 427.11L219.01 427.86L219.53 427.31L220.04 428.18L220.55 428.14L221.06 427.6L221.57 427.95L222.09 426.77L222.6 426.74L223.11 427.77L223.62 428.25L224.14 427.92L224.65 428.7L225.16 426.86L225.67 426.89L226.18 426.96L226.7 426.53L227.21 426.53L227.72 425.32L228.23 424.59L228.75 424.57L229.26 424.61L229.77 424.31L230.28 424.44L230.79 424.78L231.31 424.11L231.82 424.23L232.33 424.01L232.84 423.21L233.36 422.45L233.87 423.28L234.38 422.91L234.89 424.34L235.4 424.54L235.92 423.81L236.43 424.07L236.94 424.39L237.45 424.32L237.97 423.38L238.48 424.07L238.99 423.02L239.5 422.13L240.01 423.6L240.53 422.66L241.04 421.92L241.55 422.8L242.06 422.03L242.58 422.14L243.09 421.5L243.6 420.95L244.11 420.82L244.62 422.75L245.14 421.43L245.65 420L246.16 421.1L246.67 419.12L247.19 420.05L247.7 421.08L248.21 421.46L248.72 419.78L249.23 419.43L249.75 420.01L250.26 420.15L250.77 421.3L251.28 421.01L251.8 421.05L252.31 419.89L252.82 419.55L253.33 389.92L253.84 389.82L254.36 389.93L254.87 389.42L255.38 388.54L255.89 389.25L256.41 389.17L256.92 389.51L257.43 389.82L257.94 389.97L258.45 389.7L258.97 390.02L259.48 389.41L259.99 389.14L260.5 388.47L261.01 387.66L261.53 386.5L262.04 387.46L262.55 387.66L263.06 387.25L263.58 387.72L264.09 386.79L264.6 386.48L265.11 386.74L265.62 386L266.14 386.82L266.65 386.86L267.16 386.95L267.67 386.78L268.19 387.38L268.7 386.78L269.21 385.73L269.72 385.41L270.23 384.86L270.75 384.85L271.26 384.54L271.77 385.54L272.28 385.57L272.8 386.38L273.31 384.03L273.82 382.98L274.33 383.82L274.84 384.43L275.36 384.02L275.87 384.68L276.38 383.52L276.89 382.17L277.41 384.04L277.92 384.28L278.43 383.1L278.94 382.32L279.45 382.29L279.97 382.49L280.48 382.79L280.99 382.7L281.5 383.07L282.02 397.36L282.53 397.45L283.04 396.14L283.55 397.75L284.06 396.62L284.58 397.68L285.09 398.14L285.6 398.8L286.11 398.29L286.63 397.14L287.14 397.12L287.65 396.81L288.16 397.23L288.67 396.71L289.19 397.53L289.7 396.73L290.21 396.77L290.72 397.23L291.24 395.85L291.75 394.9L292.26 395.77L292.77 394.94L293.28 395.13L293.8 394.75L294.31 394.71L294.82 395.06L295.33 395.62L295.85 394.64L296.36 395.49L296.87 395.43L297.38 394.9L297.89 396.27L298.41 395.27L298.92 395.44L299.43 395.36L299.94 394.79L300.46 394.75L300.97 394.6L301.48 395.03L301.99 395.32L302.5 395.08L303.02 394.99L303.53 395.26L304.04 393.87L304.55 392.9L305.06 394.48L305.58 394.46L306.09 393.56L306.6 395.21L307.11 393.81L307.63 393.64L308.14 393.08L308.65 392.58L309.16 392.07L309.67 393.51L310.19 392.87L310.7 392.83L311.21 392.43L311.72 393.55L312.24 393.72L312.75 392.67L313.26 391.85L313.77 391.01L314.28 392.73L314.8 391.59L315.31 392.03L315.82 392.17L316.33 392.23L316.85 391.57L317.36 390.88L317.87 391.76L318.38 391.19L318.89 391.13L319.41 391.65" fill="none" stroke="#00a0ae" stroke-width="1.8" stroke-linejoin="round"/>
<path d="M204.52 435.63L205.05 435.02L205.59 435.57L206.12 435.94L206.66 435.92L207.19 437.94L207.73 436.49L208.26 435.88L208.8 435.81L209.33 436.11L209.87 436.45L210.4 436.22L210.94 435.16L211.47 435.45L212.01 434.6L212.54 436.71L213.08 436.33L213.61 435.62L214.15 435.4L214.68 436.33L215.22 436.09L215.75 434.66L216.29 435.56L216.82 435.76L217.36 435.87L217.89 435.52L218.43 434.5L218.96 433.96L219.5 435.36L220.03 433.71L220.57 434.17L221.1 434.33L221.64 432.87L222.17 433.23L222.71 434.1L223.24 434.08L223.78 434.06L224.31 434.17L224.85 433.72L225.38 432.63L225.92 432.37L226.45 433.3L226.99 430.97L227.52 432.21L228.06 432.04L228.59 431.94L229.13 431.34L229.66 431.69L230.2 431.27L230.73 429.92L231.27 430.48L231.8 431.47L232.34 430.97L232.87 431.38L233.41 431.24L233.94 430.73L234.48 430.3L235.01 430.42L235.55 429.67L236.08 429.9L236.62 430.67L237.15 429.55L237.69 429.74L238.22 428.72L238.76 429.36L239.29 428.8L239.83 428.62L240.36 430.43L240.89 430.47L241.43 430.17L241.96 428.29L242.5 429.44L243.03 428.1L243.57 427.24L244.1 427.12L244.64 426.87L245.17 427.44L245.71 427.33L246.24 427.05L246.78 426.7L247.31 426.26L247.85 426.57L248.38 426.97L248.92 427.01L249.45 426.31L249.99 427.24L250.52 427.37L251.06 426.8L251.59 426.54L252.13 426.14L252.66 427.44L253.2 426.49L253.73 425.88L254.27 424.82L254.8 426.03L255.34 425.46L255.87 424.58L256.41 424.06L256.94 423.26L257.48 422.88L258.01 423.99L258.55 423.36L259.08 423.61L259.62 423.96L260.15 422.53L260.69 423.16L261.22 423.54L261.76 393.49L262.29 393.63L262.83 392.41L263.36 392.14L263.9 391.26L264.43 391.4L264.97 392.08L265.5 391.25L266.04 391.88L266.57 392L267.11 391.8L267.64 391.49L268.18 390.51L268.71 391.13L269.25 390.74L269.78 390.72L270.32 391.45L270.85 391.64L271.39 391.09L271.92 390.33L272.46 389.94L272.99 389.56L273.53 389.59L274.06 389.86L274.6 389.35L275.13 389.96L275.66 390.42L276.2 389.92L276.73 390.31L277.27 389.84L277.8 389.69L278.34 389.41L278.87 388.87L279.41 389.02L279.94 388.78L280.48 389.44L281.01 388.47L281.55 388.6L282.08 387.74L282.62 389.37L283.15 388.78L283.69 387.73L284.22 388.9L284.76 388.04L285.29 387.24L285.83 386.77L286.36 387.51L286.9 386.68L287.43 386.24L287.97 386.69L288.5 385.72L289.04 385.68L289.57 385.55L290.11 385.72L290.64 400.19L291.18 400.21L291.71 399.51L292.25 399.6L292.78 400.33L293.32 400.42L293.85 399.69L294.39 400.15L294.92 399.87L295.46 399.61L295.99 399.93L296.53 401.47L297.06 400.6L297.6 400.09L298.13 399.85L298.67 400.3L299.2 399.2L299.74 399.5L300.27 399.95L300.81 400.21L301.34 399.59L301.88 400.21L302.41 400.43L302.95 398.53L303.48 397.99L304.02 397.86L304.55 397.56L305.09 397.88L305.62 399.51L306.16 398.39L306.69 397.76L307.23 397.9L307.76 399.55L308.3 398.22L308.83 397.43L309.37 398.23L309.9 398.17L310.44 397.68L310.97 397.96L311.5 397.27L312.04 397.56L312.57 397.25L313.11 397.46L313.64 398.55L314.18 398.73L314.71 396.02L315.25 396.53L315.78 396.05L316.32 395.88L316.85 395.37L317.39 395.83L317.92 396.77L318.46 396.79L318.99 398.03L319.53 397.45L320.06 396.39L320.6 397.84L321.13 396.95L321.67 396.04L322.2 395.19L322.74 396.21L323.27 396.49L323.81 397.38L324.34 397.2L324.88 396.03L325.41 394.38L325.95 395.62L326.48 394.52L327.02 394.54L327.55 395.1L328.09 393.54L328.62 395.83L329.16 395.29L329.69 394.78L330.23 393.19L330.76 392.56L331.3 391.88L331.83 392.89L332.37 392.77L332.9 392.4" fill="none" stroke="#0098b2" stroke-width="1.8" stroke-linejoin="round"/>
<path d="M212.56 438.92L213.15 439.84L213.73 440.12L214.31 442.14L214.89 441.6L215.48 444.37L216.06 444.31L216.64 444.97L217.22 445.42L217.81 447.19L218.39 446.52L218.97 447.02L219.56 447.58L220.14 447.43L220.72 448.14L221.3 448.69L221.89 448.6L222.47 449.33L223.05 449.54L223.63 450.25L224.22 450.84L224.8 450.83L225.38 451.33L225.96 451.08L226.55 451.36L227.13 451.77L227.71 451.72L228.3 452.49L228.88 451.62L229.46 451.29L230.04 453.1L230.63 452.45L231.21 452.46L231.79 451.8L232.37 450.48L232.96 451.49L233.54 451.76L234.12 452.37L234.7 451.88L235.29 451.37L235.87 451.39L236.45 451.48L237.04 452.28L237.62 451.99L238.2 452.37L238.78 452.15L239.37 450.73L239.95 450.96L240.53 451.58L241.11 452.06L241.7 452.55L242.28 452.06L242.86 450.07L243.44 450.55L244.03 450.72L244.61 451.29L245.19 451.14L245.78 450.06L246.36 449.44L246.94 449.85L247.52 450.4L248.11 449.62L248.69 448.11L249.27 446.9L249.85 447.2L250.44 448.19L251.02 448.18L251.6 448.8L252.18 449.32L252.77 449.43L253.35 448.95L253.93 448.22L254.52 447.25L255.1 446.8L255.68 447.06L256.26 448.89L256.85 447.27L257.43 447.06L258.01 447.65L258.59 446.54L259.18 447.36L259.76 447.3L260.34 446.99L260.92 446.79L261.51 446.64L262.09 447.79L262.67 447.86L263.26 446.96L263.84 445.88L264.42 445.77L265 446.39L265.59 446.67L266.17 446.69L266.75 445.1L267.33 445.62L267.92 444.63L268.5 445.35L269.08 419.97L269.66 419.74L270.25 418.26L270.83 418.77L271.41 418.61L272 418.73L272.58 418.66L273.16 417.55L273.74 417.98L274.33 417.85L274.91 418.38L275.49 418.23L276.07 417.52L276.66 416.19L277.24 415.2L277.82 416.67L278.4 416.66L278.99 417.66L279.57 417.06L280.15 416.45L280.74 415.67L281.32 415.29L281.9 416.04L282.48 416.47L283.07 416.78L283.65 414.79L284.23 415.65L284.81 414.51L285.4 414.32L285.98 413.71L286.56 415.05L287.15 414.26L287.73 413.8L288.31 413.77L288.89 413.35L289.48 414.15L290.06 412.75L290.64 413.67L291.22 413.42L291.81 412.53L292.39 412.23L292.97 411.31L293.55 411.85L294.14 412.76L294.72 412.15L295.3 411.68L295.89 412.8L296.47 411.58L297.05 410.67L297.63 411.52L298.22 423.4L298.8 423.57L299.38 423.02L299.96 423.73L300.55 423.13L301.13 422.91L301.71 423.17L302.29 423.52L302.88 423.56L303.46 422.96L304.04 422.12L304.63 422.74L305.21 422.31L305.79 422.59L306.37 421.47L306.96 421.34L307.54 421.52L308.12 421.81L308.7 422.55L309.29 423.6L309.87 422.44L310.45 422.87L311.03 422.99L311.62 421.85L312.2 421.75L312.78 422.57L313.37 421.41L313.95 421.77L314.53 421.04L315.11 422.04L315.7 422.74L316.28 422.45L316.86 421.3L317.44 422.58L318.03 422.54L318.61 421.08L319.19 419.24L319.77 420.13L320.36 421L320.94 421.04L321.52 421.23L322.11 419.7L322.69 419.42L323.27 420.32L323.85 419.54L324.44 421.13L325.02 420.36L325.6 419.94L326.18 419.83L326.77 420.2L327.35 420.1L327.93 420.85L328.51 419.58L329.1 419.85L329.68 418.87L330.26 418.14L330.85 418.74L331.43 419.33L332.01 418.7L332.59 417.9L333.18 418.8L333.76 418.32L334.34 418.67L334.92 417.08L335.51 416.96L336.09 418.19L336.67 418.03L337.25 417.45L337.84 417.47L338.42 417.02L339 416.51L339.59 416.32L340.17 416.58L340.75 415.38L341.33 415.07L341.92 415.66L342.5 415.77L343.08 416.11L343.66 416.73L344.25 416.22L344.83 415.64L345.41 415.56L345.99 415.85L346.58 417.35L347.16 417.15L347.74 415.2L348.33 415.98L348.91 414.65L349.49 413.8L350.07 413.87L350.66 413.76L351.24 413.07L351.82 413.24L352.4 413.25" fill="none" stroke="#0091b6" stroke-width="1.8" stroke-linejoin="round"/>
<path d="M220.61 444.22L221.17 446.09L221.74 446.75L222.3 446.84L222.86 447.58L223.43 447.62L223.99 449.67L224.56 449.73L225.12 450.75L225.68 451.02L226.25 451.23L226.81 452.39L227.38 452.67L227.94 453.6L228.51 453.28L229.07 454.01L229.63 454.27L230.2 454.05L230.76 454.64L231.33 453.84L231.89 454.72L232.46 454.26L233.02 454.48L233.58 455.53L234.15 455.57L234.71 456.06L235.28 456.03L235.84 456L236.41 454.63L236.97 455.45L237.53 454.57L238.1 454.88L238.66 456.22L239.23 457.55L239.79 456.24L240.35 457.35L240.92 456.1L241.48 455.26L242.05 455.25L242.61 455.63L243.18 455.82L243.74 455.55L244.3 455.76L244.87 455.99L245.43 455.96L246 454.9L246.56 455.51L247.13 455.11L247.69 455.89L248.25 455.94L248.82 456.35L249.38 455.74L249.95 454.8L250.51 454.52L251.08 454.86L251.64 454.25L252.2 454.52L252.77 454.12L253.33 453.93L253.9 453.6L254.46 455.37L255.02 455.41L255.59 454L256.15 453.81L256.72 452.1L257.28 452.82L257.85 453.32L258.41 452.15L258.97 452.12L259.54 451.15L260.1 451.51L260.67 452.09L261.23 451.7L261.8 452.43L262.36 452.5L262.92 452.54L263.49 452.26L264.05 451.39L264.62 451.71L265.18 451.27L265.75 451.52L266.31 450.66L266.87 452.55L267.44 451.74L268 451.01L268.57 451.4L269.13 450.13L269.69 449.95L270.26 449.08L270.82 448.78L271.39 448.76L271.95 449.2L272.52 449.96L273.08 449.69L273.64 449.64L274.21 449.06L274.77 449.17L275.34 446.82L275.9 448.64L276.47 447.64L277.03 448.15L277.59 424.34L278.16 423.51L278.72 423.63L279.29 424.42L279.85 423.66L280.42 423.61L280.98 424.74L281.54 423.75L282.11 424L282.67 423.85L283.24 422.89L283.8 422.45L284.36 422.55L284.93 420.9L285.49 421.16L286.06 421.89L286.62 421.62L287.19 421.65L287.75 422.96L288.31 423.13L288.88 423.02L289.44 420.61L290.01 420.81L290.57 420.9L291.14 421.06L291.7 420.05L292.26 420.09L292.83 418.94L293.39 418.89L293.96 418.22L294.52 418.98L295.09 418.96L295.65 419.41L296.21 419.38L296.78 420.32L297.34 419.96L297.91 419.95L298.47 419.67L299.04 418.23L299.6 418.06L300.16 417.27L300.73 417.04L301.29 416.81L301.86 416.56L302.42 417.43L302.98 416.86L303.55 417.24L304.11 417.49L304.68 416.41L305.24 415.15L305.81 416.52L306.37 415.34L306.93 427.03L307.5 428.11L308.06 427.88L308.63 427.66L309.19 427.52L309.76 427.89L310.32 428.65L310.88 428.12L311.45 427.27L312.01 426.86L312.58 426.69L313.14 426.28L313.71 427.41L314.27 427.31L314.83 426.96L315.4 426.31L315.96 426.5L316.53 426.31L317.09 426.42L317.65 425.13L318.22 427.26L318.78 426.86L319.35 424.97L319.91 425.44L320.48 426.99L321.04 426.43L321.6 427.12L322.17 426.92L322.73 426.18L323.3 424.77L323.86 424.84L324.43 424.69L324.99 424.33L325.55 424.63L326.12 425.42L326.68 425.27L327.25 424.85L327.81 424.98L328.38 425.25L328.94 425.13L329.5 425.76L330.07 425.7L330.63 425L331.2 424.77L331.76 424.34L332.32 423.16L332.89 423.24L333.45 423.43L334.02 424.22L334.58 424.49L335.15 423.61L335.71 423.93L336.27 423.17L336.84 423.71L337.4 423.13L337.97 422.91L338.53 422.03L339.1 422.44L339.66 422.57L340.22 422.16L340.79 422.02L341.35 420.81L341.92 421.42L342.48 421.84L343.05 421.84L343.61 421.25L344.17 421.05L344.74 420.58L345.3 421.64L345.87 419.56L346.43 418.88L346.99 419.69L347.56 420.81L348.12 420.4L348.69 419.95L349.25 421.4L349.82 420.58L350.38 421.08L350.94 419.98L351.51 418.76L352.07 418.3L352.64 419.67L353.2 418.39L353.77 417.99L354.33 418.55L354.89 418.19L355.46 417.27L356.02 417.95" fill="none" stroke="#0089ba" stroke-width="1.8" stroke-linejoin="round"/>
<path d="M228.65 446.24L229.25 448.16L229.86 448.88L230.46 450.75L231.07 450.35L231.67 451.53L232.27 452.64L232.88 451.71L233.48 451.63L234.08 453.4L234.69 453.61L235.29 451.66L235.9 454.09L236.5 454.12L237.1 452.57L237.71 452.03L238.31 452.91L238.91 454.05L239.52 453.91L240.12 454.58L240.73 454.29L241.33 453.71L241.93 454.11L242.54 453.6L243.14 453.29L243.75 454.58L244.35 454.83L244.95 455.45L245.56 454.84L246.16 455.97L246.76 456.01L247.37 456.82L247.97 455.41L248.58 455.61L249.18 454.22L249.78 453.83L250.39 453.79L250.99 454.59L251.59 455.49L252.2 455.55L252.8 454.79L253.41 454.44L254.01 454.28L254.61 454.02L255.22 452.88L255.82 452.41L256.42 453.74L257.03 453.07L257.63 453.73L258.24 453.24L258.84 452.95L259.44 452.26L260.05 451.94L260.65 453.03L261.26 452.8L261.86 452.26L262.46 452.34L263.07 451.12L263.67 452.42L264.27 451.71L264.88 451.51L265.48 451.79L266.09 451.61L266.69 451.54L267.29 451.06L267.9 451.32L268.5 451.22L269.1 449.16L269.71 450.06L270.31 449.75L270.92 449.17L271.52 450.12L272.12 449.37L272.73 449.88L273.33 451.34L273.94 450.28L274.54 451.71L275.14 450.39L275.75 449.08L276.35 447.63L276.95 447.58L277.56 447.2L278.16 447.21L278.77 447.56L279.37 446.94L279.97 447.51L280.58 447.27L281.18 447.74L281.78 447.59L282.39 447L282.99 448.15L283.6 447.8L284.2 447.76L284.8 447.05L285.41 445.25L286.01 426.62L286.62 426.52L287.22 426.5L287.82 426.69L288.43 426.71L289.03 425.49L289.63 425.59L290.24 425.91L290.84 426.29L291.45 426.18L292.05 424.87L292.65 425.38L293.26 426.22L293.86 425.88L294.46 424.98L295.07 424.22L295.67 424.03L296.28 423.29L296.88 424.26L297.48 424.47L298.09 424.06L298.69 423.5L299.29 424.59L299.9 423.77L300.5 424.26L301.11 422.7L301.71 422.3L302.31 421.06L302.92 420.17L303.52 420.64L304.13 421.32L304.73 422.11L305.33 422.13L305.94 420.94L306.54 420.72L307.14 420.74L307.75 421.64L308.35 421.25L308.96 419.62L309.56 420.07L310.16 419.18L310.77 421.14L311.37 419.47L311.97 420.2L312.58 420.74L313.18 420.24L313.79 420.21L314.39 427.87L314.99 428.28L315.6 428.38L316.2 428.69L316.81 427.81L317.41 427.03L318.01 426.79L318.62 428.25L319.22 428.06L319.82 427.39L320.43 428.7L321.03 428.05L321.64 426.93L322.24 425.96L322.84 426.08L323.45 425.84L324.05 425.64L324.65 425.84L325.26 427.38L325.86 425.58L326.47 425.38L327.07 425.75L327.67 426.37L328.28 424.49L328.88 424.82L329.48 424.55L330.09 425.22L330.69 425.06L331.3 425.08L331.9 424.3L332.5 425.85L333.11 424.08L333.71 424.33L334.32 423.88L334.92 423.42L335.52 424.16L336.13 423.54L336.73 424.5L337.33 423.98L337.94 424.33L338.54 423.2L339.15 422.28L339.75 423.55L340.35 423.09L340.96 423.5L341.56 424.08L342.16 423.4L342.77 422.25L343.37 421.51L343.98 422.21L344.58 422.3L345.18 421.11L345.79 421.44L346.39 420.29L347 419.58L347.6 420.05L348.2 421.12L348.81 421.26L349.41 420.49L350.01 420.73L350.62 420.56L351.22 420.15L351.83 421.22L352.43 420.93L353.03 420.67L353.64 420.79L354.24 420.01L354.84 419.98L355.45 419.91L356.05 418.54L356.66 417.74L357.26 418.41L357.86 418.89L358.47 419.72L359.07 420.24L359.68 418.14L360.28 418.04L360.88 418.5L361.49 418.99L362.09 417.41L362.69 417.57L363.3 416.96L363.9 416.34L364.51 417.14L365.11 417.86L365.71 417.26L366.32 416.44L366.92 416.46L367.52 416.31L368.13 415.8L368.73 416.37L369.34 415.46L369.94 414.73L370.54 415.7L371.15 415.9L371.75 415.63L372.35 415.57L372.96 415.22L373.56 414.03" fill="none" stroke="#0082bd" stroke-width="1.8" stroke-linejoin="round"/>
<path d="M236.69 453.11L237.27 453.23L237.86 454.4L238.44 453.26L239.02 454.97L239.6 455.24L240.18 456.78L240.76 457.31L241.34 458.05L241.92 456.73L242.5 456.15L243.08 457.06L243.67 458.26L244.25 458.11L244.83 457.85L245.41 459.08L245.99 459.53L246.57 459.13L247.15 458.45L247.73 458.59L248.31 458.46L248.9 459.57L249.48 460.98L250.06 459.85L250.64 460.13L251.22 459.76L251.8 459.75L252.38 459.18L252.96 459.74L253.54 458.53L254.12 458.87L254.71 458.69L255.29 458.52L255.87 458.14L256.45 458.35L257.03 459.87L257.61 459.85L258.19 458.15L258.77 458.19L259.35 458.12L259.94 458.1L260.52 458.79L261.1 459.12L261.68 459.21L262.26 458.01L262.84 457.88L263.42 456.83L264 457.1L264.58 456.25L265.16 456.72L265.75 458L266.33 456.62L266.91 456.81L267.49 456.28L268.07 456.6L268.65 457.05L269.23 456.89L269.81 457.6L270.39 457.94L270.97 457.83L271.56 457.47L272.14 457.77L272.72 457.02L273.3 456.3L273.88 454.71L274.46 453.97L275.04 454.79L275.62 454.5L276.2 455.03L276.79 454.8L277.37 454.9L277.95 455.21L278.53 454.88L279.11 455.68L279.69 454.72L280.27 454.65L280.85 455.07L281.43 454.72L282.01 453.85L282.6 454.17L283.18 453.47L283.76 452.98L284.34 451.99L284.92 453.2L285.5 453.06L286.08 452.5L286.66 451.47L287.24 451.71L287.83 451.42L288.41 452.69L288.99 452.65L289.57 451.04L290.15 451.46L290.73 449.94L291.31 451.05L291.89 451.22L292.47 452.1L293.05 450.97L293.64 450.57L294.22 427.82L294.8 428.26L295.38 428.69L295.96 429.6L296.54 429.09L297.12 428.06L297.7 427.61L298.28 426.98L298.86 426.84L299.45 427.3L300.03 427.01L300.61 427.09L301.19 428.06L301.77 426.42L302.35 426.42L302.93 427.31L303.51 426.71L304.09 426.4L304.68 425.68L305.26 424.95L305.84 427.53L306.42 426.32L307 424.98L307.58 425.9L308.16 426.9L308.74 425.89L309.32 425.26L309.9 424.86L310.49 425.57L311.07 425.42L311.65 424.81L312.23 424.06L312.81 422.64L313.39 423.13L313.97 423.9L314.55 425.4L315.13 423.75L315.72 423.66L316.3 423.53L316.88 423.98L317.46 422.96L318.04 424.09L318.62 423.29L319.2 422.8L319.78 422.36L320.36 421.38L320.94 421.77L321.53 421.75L322.11 431.46L322.69 432.78L323.27 432.55L323.85 432.15L324.43 431.3L325.01 432.02L325.59 431.24L326.17 431.1L326.75 432.24L327.34 432.76L327.92 432.94L328.5 431.92L329.08 431.31L329.66 430.61L330.24 430.14L330.82 430.78L331.4 429.95L331.98 429.65L332.57 429.69L333.15 429.64L333.73 430.77L334.31 430.15L334.89 430.74L335.47 431.08L336.05 430.63L336.63 430.01L337.21 429.78L337.79 429.79L338.38 430.19L338.96 429.53L339.54 429.76L340.12 430.28L340.7 429.45L341.28 428.06L341.86 428.56L342.44 429.19L343.02 427.79L343.61 426.8L344.19 427.61L344.77 427.89L345.35 427.68L345.93 425.65L346.51 426.48L347.09 426.25L347.67 426.44L348.25 428.01L348.83 428.24L349.42 428.38L350 427.25L350.58 426.83L351.16 425.42L351.74 426.04L352.32 425.89L352.9 425.9L353.48 425.8L354.06 424.2L354.64 424.71L355.23 424.08L355.81 423.82L356.39 424.91L356.97 424.51L357.55 424.96L358.13 424.78L358.71 424.59L359.29 424.51L359.87 424.73L360.46 423.39L361.04 423.89L361.62 423.41L362.2 422.43L362.78 422.58L363.36 422.31L363.94 421.85L364.52 421.75L365.1 421.2L365.68 422.99L366.27 421.5L366.85 422L367.43 423.38L368.01 423.24L368.59 423.61L369.17 422.78L369.75 423.29L370.33 423.14L370.91 422.09L371.5 421.59L372.08 421.91L372.66 421.61L373.24 421.29L373.82 420.93L374.4 420.73L374.98 420.7L375.56 419.85L376.14 421.04" fill="none" stroke="#007ac1" stroke-width="1.8" stroke-linejoin="round"/>
<path d="M244.74 453.02L245.31 452.36L245.89 451.27L246.47 450.93L247.05 452.52L247.63 452.86L248.2 451.88L248.78 451.65L249.36 451.33L249.94 452.97L250.52 452.14L251.09 451.81L251.67 452.36L252.25 451.11L252.83 450.96L253.41 450.64L253.98 450.01L254.56 450.95L255.14 450.93L255.72 451.12L256.3 450.37L256.87 450.03L257.45 451.16L258.03 451.46L258.61 451.74L259.18 450.95L259.76 451.43L260.34 451.48L260.92 449.84L261.5 450.46L262.07 449.71L262.65 451.14L263.23 449.78L263.81 450.51L264.39 448.86L264.96 448.78L265.54 448.44L266.12 449.2L266.7 448.61L267.28 448.85L267.85 447.9L268.43 448.3L269.01 448.31L269.59 448.59L270.17 448.35L270.74 447.36L271.32 447.52L271.9 447.11L272.48 448.9L273.05 447.24L273.63 447.91L274.21 448.57L274.79 447.41L275.37 448.15L275.94 446.01L276.52 446.03L277.1 446.01L277.68 445.32L278.26 445.53L278.83 445.36L279.41 445.1L279.99 443.64L280.57 443.71L281.15 444.49L281.72 444.36L282.3 445.53L282.88 443.93L283.46 444.76L284.04 444.64L284.61 444.24L285.19 443.63L285.77 444.04L286.35 444.09L286.93 444.04L287.5 445.2L288.08 444.38L288.66 443.03L289.24 442.01L289.81 442.62L290.39 443.04L290.97 441.83L291.55 442.06L292.13 440.93L292.7 441.71L293.28 441.2L293.86 441.21L294.44 440.94L295.02 440.3L295.59 440.36L296.17 440.46L296.75 440.44L297.33 439.19L297.91 439.14L298.48 439.49L299.06 440.51L299.64 439.59L300.22 439.85L300.8 440.54L301.37 439.73L301.95 410.75L302.53 410.19L303.11 409.67L303.68 409.66L304.26 409.85L304.84 409.53L305.42 407.44L306 408.64L306.57 409.31L307.15 409.37L307.73 409.57L308.31 409.03L308.89 409.03L309.46 408.18L310.04 407.81L310.62 407L311.2 407.11L311.78 406.93L312.35 406.72L312.93 408.6L313.51 407.59L314.09 407.29L314.67 407.35L315.24 406.76L315.82 406.86L316.4 405.94L316.98 405.53L317.56 406.47L318.13 405.42L318.71 406.42L319.29 405.43L319.87 403.92L320.44 403.52L321.02 404.83L321.6 403.63L322.18 402.77L322.76 403.28L323.33 403.5L323.91 402.41L324.49 402.78L325.07 404.19L325.65 403.87L326.22 403.52L326.8 402.82L327.38 401.56L327.96 401.68L328.54 401.38L329.11 402.84L329.69 403.17L330.27 417.13L330.85 416.69L331.43 415.2L332 414.92L332.58 416.6L333.16 416.02L333.74 416.81L334.31 416.95L334.89 416.68L335.47 416.58L336.05 416.33L336.63 416.68L337.2 415.91L337.78 416.28L338.36 416.34L338.94 416.65L339.52 416.28L340.09 416.68L340.67 416.9L341.25 415.81L341.83 415.44L342.41 415.29L342.98 415.35L343.56 416.03L344.14 416.65L344.72 415.28L345.3 415.27L345.87 414.86L346.45 414.92L347.03 414.38L347.61 415.37L348.19 414.45L348.76 416.03L349.34 415.17L349.92 413.98L350.5 413.98L351.07 413.99L351.65 414.64L352.23 413.76L352.81 413.86L353.39 413.43L353.96 413.22L354.54 413.65L355.12 414.03L355.7 413.3L356.28 412.93L356.85 412.99L357.43 412.75L358.01 413.34L358.59 413.13L359.17 412.51L359.74 412.47L360.32 414.23L360.9 413.17L361.48 413.14L362.06 412.91L362.63 412.45L363.21 411.24L363.79 412.97L364.37 413.03L364.94 411.15L365.52 411.78L366.1 410.46L366.68 409.95L367.26 411.18L367.83 411.31L368.41 410.58L368.99 409.61L369.57 410.19L370.15 410.21L370.72 410.58L371.3 409L371.88 410.77L372.46 410.24L373.04 409.51L373.61 409.41L374.19 409.83L374.77 409.35L375.35 409.8L375.93 410.18L376.5 408.31L377.08 407.4L377.66 408.65L378.24 408.72L378.81 407.75L379.39 408.12L379.97 408.45L380.55 408.41L381.13 409.4L381.7 408.52L382.28 408.7L382.86 408.35L383.44 408.92" fill="none" stroke="#0073c5" stroke-width="1.8" stroke-linejoin="round"/>
<path d="M252.78 458.56L253.38 457.86L253.98 459.09L254.58 459.05L255.18 460.08L255.78 459.83L256.38 460.41L256.98 460.41L257.58 459.71L258.18 460.11L258.78 460.77L259.38 460.95L259.98 460.94L260.58 461.5L261.18 461.32L261.78 460.99L262.38 460.19L262.98 462.27L263.58 462.72L264.18 462.98L264.78 461.67L265.38 459.94L265.98 460.6L266.58 460.95L267.18 460.42L267.79 462.56L268.39 462.07L268.99 463.79L269.59 462.39L270.19 462.11L270.79 461.91L271.39 461.21L271.99 461.44L272.59 460.36L273.19 460.53L273.79 460.3L274.39 458.67L274.99 459.83L275.59 459.42L276.19 460.34L276.79 459.34L277.39 458.97L277.99 459.28L278.59 458.79L279.19 458.07L279.79 457.79L280.39 458.52L280.99 458.86L281.59 458.17L282.19 459.5L282.79 459.5L283.39 458.7L283.99 458.17L284.59 456.95L285.19 456.34L285.79 456.93L286.39 457.07L286.99 458.26L287.59 458.01L288.19 457.5L288.79 457.5L289.39 457.23L289.99 456.64L290.59 457.33L291.19 457.33L291.79 458.07L292.39 456.38L292.99 456.95L293.59 457.59L294.19 456.15L294.79 456.02L295.39 455.08L295.99 455.42L296.59 453.83L297.2 453.9L297.8 454.24L298.4 454.35L299 454.54L299.6 453.86L300.2 452.64L300.8 453.58L301.4 454.42L302 453.61L302.6 452.81L303.2 454.05L303.8 454.05L304.4 454.17L305 453.09L305.6 452.51L306.2 452.97L306.8 453.38L307.4 452.28L308 453.49L308.6 452.19L309.2 452L309.8 418L310.4 417.76L311 418.62L311.6 418.77L312.2 418.76L312.8 418.99L313.4 418.47L314 417.54L314.6 418.66L315.2 418.28L315.8 416.85L316.4 416.56L317 417.39L317.6 417.72L318.2 417.83L318.8 418.32L319.4 416.63L320 416.43L320.6 416.77L321.2 417.35L321.8 416.86L322.4 416.62L323 414.92L323.6 415.45L324.2 415.26L324.8 414.44L325.4 414.22L326.01 414.6L326.61 416.06L327.21 414.3L327.81 413.88L328.41 414.28L329.01 414.17L329.61 414.62L330.21 414.73L330.81 415.1L331.41 413.87L332.01 413.16L332.61 412.96L333.21 412.37L333.81 412.17L334.41 412.26L335.01 412.9L335.61 412.15L336.21 411.3L336.81 411.17L337.41 410.61L338.01 411.41L338.61 428.58L339.21 427.48L339.81 428.15L340.41 427.92L341.01 428.08L341.61 428L342.21 428.15L342.81 428.38L343.41 429.32L344.01 427.29L344.61 427.4L345.21 428.86L345.81 428.89L346.41 429.03L347.01 428.81L347.61 429.89L348.21 428.31L348.81 426.78L349.41 427.25L350.01 426.79L350.61 426.63L351.21 427.76L351.81 426.64L352.41 427.99L353.01 427.89L353.61 427.66L354.21 426.42L354.81 426.53L355.42 426.71L356.02 427.22L356.62 426.83L357.22 426.63L357.82 426.03L358.42 425.25L359.02 425.25L359.62 425.69L360.22 425.98L360.82 424.91L361.42 425.26L362.02 425.54L362.62 424.42L363.22 423.96L363.82 424.36L364.42 424.96L365.02 425.56L365.62 424.67L366.22 425.19L366.82 424.46L367.42 425.2L368.02 424.93L368.62 424.54L369.22 424.46L369.82 424.31L370.42 424.08L371.02 424.91L371.62 425.26L372.22 424.74L372.82 423.12L373.42 423.53L374.02 424.22L374.62 424.32L375.22 423.85L375.82 422.79L376.42 423.37L377.02 422.84L377.62 422.76L378.22 423.03L378.82 423.49L379.42 423.13L380.02 423.26L380.62 422.42L381.22 423.47L381.82 422.01L382.42 421.45L383.02 421.23L383.62 420.44L384.22 420.57L384.83 422.11L385.43 421.64L386.03 421.07L386.63 421.48L387.23 421.91L387.83 421.01L388.43 420.44L389.03 420.71L389.63 420.65L390.23 420.73L390.83 420.73L391.43 420.32L392.03 419.29L392.63 420.49L393.23 420.18L393.83 418.64L394.43 418.66L395.03 418.71L395.63 418.21L396.23 419.1L396.83 419.62" fill="none" stroke="#006bc9" stroke-width="1.8" stroke-linejoin="round"/>
<path d="M260.82 465.59L261.34 464.48L261.85 464.89L262.36 464.67L262.88 464.77L263.39 463.83L263.9 464L264.42 465.53L264.93 464.15L265.44 464.92L265.96 465.19L266.47 464.53L266.98 464.76L267.5 465.04L268.01 465.14L268.52 465.12L269.04 464.1L269.55 464.09L270.06 463.37L270.58 462.6L271.09 462.92L271.6 464.11L272.12 464.01L272.63 463.71L273.14 464.66L273.66 464.29L274.17 464.73L274.68 463.37L275.2 464.61L275.71 464.24L276.22 463.58L276.74 463.24L277.25 463.76L277.76 462.86L278.28 462.88L278.79 461.8L279.3 462.11L279.82 461.73L280.33 463.13L280.84 462.54L281.36 462.26L281.87 462.79L282.38 463.82L282.9 462.28L283.41 461.09L283.92 461.68L284.44 460.94L284.95 460.63L285.46 461.23L285.98 461.53L286.49 459.32L287 459.57L287.51 459.77L288.03 460.3L288.54 461.24L289.05 460.5L289.57 460.35L290.08 459.88L290.59 459.82L291.11 460.9L291.62 460.46L292.13 459.79L292.65 459.74L293.16 459.22L293.67 458.86L294.19 458.88L294.7 459.04L295.21 457.64L295.73 457.79L296.24 457.77L296.75 457.56L297.27 457.58L297.78 458.96L298.29 458.56L298.81 457.84L299.32 457.24L299.83 457.17L300.35 457.84L300.86 457.58L301.37 456.89L301.89 456.69L302.4 454.78L302.91 455.18L303.43 455.35L303.94 455.8L304.45 457.31L304.97 455.91L305.48 456.22L305.99 454.97L306.51 455.41L307.02 455.5L307.53 454.54L308.05 454.97L308.56 455.96L309.07 454.99L309.59 454.41L310.1 454.06L310.61 454.21L311.13 453.89L311.64 454.47L312.15 454.11L312.67 453.34L313.18 455.45L313.69 453.98L314.21 452.78L314.72 451.83L315.23 452.54L315.75 452.26L316.26 452.44L316.77 453.07L317.29 452.41L317.8 417.48L318.31 417.08L318.83 418.64L319.34 418.21L319.85 417.89L320.37 417.53L320.88 418.3L321.39 416.32L321.91 417.62L322.42 417.82L322.93 416.07L323.45 416.07L323.96 416.72L324.47 416.92L324.99 416.03L325.5 416.4L326.01 415.59L326.53 415.27L327.04 415.11L327.55 414.68L328.07 415.37L328.58 416.21L329.09 416.69L329.61 415.78L330.12 415.78L330.63 414.12L331.15 414.9L331.66 413.53L332.17 413.94L332.69 413.97L333.2 415.21L333.71 414.53L334.23 413.1L334.74 414.28L335.25 412.95L335.77 412.54L336.28 412.2L336.79 413.25L337.31 411.97L337.82 413.09L338.33 411.75L338.85 411.29L339.36 412.95L339.87 411.53L340.38 410.55L340.9 411.27L341.41 412.55L341.92 412.22L342.44 412.04L342.95 411.11L343.46 411.8L343.98 412.05L344.49 411.33L345 410.83L345.52 411.93L346.03 410.92L346.54 411.01L347.06 428.31L347.57 427.62L348.08 427.22L348.6 427.14L349.11 426.26L349.62 426.81L350.14 427.25L350.65 427.23L351.16 426.45L351.68 426.61L352.19 426.9L352.7 426.56L353.22 428.1L353.73 427.14L354.24 426.79L354.76 427.34L355.27 428.4L355.78 429.01L356.3 429.67L356.81 428.27L357.32 427.88L357.84 428.19L358.35 427.12L358.86 427.82L359.38 426.8L359.89 426.42L360.4 426.37L360.92 427.44L361.43 427.93L361.94 427.37L362.46 426.4L362.97 427.32L363.48 426.89L364 426.19L364.51 427.56L365.02 425.79L365.54 426.29L366.05 426.73L366.56 426.42L367.08 426.49L367.59 427.01L368.1 427.01L368.62 426.74L369.13 427.13L369.64 425.88L370.16 425.46L370.67 425.16L371.18 426.57L371.7 426.45L372.21 425.67L372.72 425.66L373.24 426.81L373.75 425.84L374.26 424.2L374.78 424L375.29 424.62L375.8 425.64L376.32 424.59L376.83 424.34L377.34 424.78L377.86 424.95L378.37 424.23L378.88 424.44L379.4 424.89L379.91 425.41L380.42 425.08L380.94 424.82L381.45 424.79L381.96 421.44L382.48 423.5L382.99 424.78L383.5 424.7L384.02 423.55" fill="none" stroke="#0064cc" stroke-width="1.8" stroke-linejoin="round"/>
<path d="M268.87 467.49L269.48 469.39L270.09 468.24L270.7 468.88L271.31 469.17L271.91 470.97L272.52 470.48L273.13 468.88L273.74 470.48L274.35 471.9L274.96 471.15L275.57 471.04L276.18 470.78L276.79 471.35L277.4 471.7L278.01 471.78L278.62 470.57L279.23 470.4L279.84 469.72L280.45 470.62L281.06 469.93L281.67 470.24L282.28 470.01L282.89 469.3L283.5 469.5L284.11 469.82L284.72 470.8L285.33 470.1L285.94 469.22L286.55 469.67L287.16 469.46L287.76 470.44L288.37 470.58L288.98 469.43L289.59 468.2L290.2 468.6L290.81 469.64L291.42 469.23L292.03 469.75L292.64 469.09L293.25 467.21L293.86 467.29L294.47 467.57L295.08 466.83L295.69 467.34L296.3 467.05L296.91 466.92L297.52 466.61L298.13 467.66L298.74 466.66L299.35 465.96L299.96 467.65L300.57 468.71L301.18 467.94L301.79 465.88L302.4 465.76L303 465.17L303.61 464.89L304.22 464.44L304.83 465.15L305.44 465.4L306.05 464.79L306.66 464.25L307.27 463.92L307.88 463.83L308.49 464.25L309.1 463.32L309.71 463.19L310.32 462.65L310.93 464.71L311.54 463.27L312.15 464.79L312.76 463.68L313.37 463.63L313.98 462.99L314.59 462.99L315.2 462.79L315.81 462.27L316.42 461.82L317.03 462.28L317.64 463.59L318.25 462.98L318.85 461.7L319.46 461.91L320.07 461.07L320.68 461.1L321.29 461.42L321.9 460.07L322.51 458.98L323.12 459.53L323.73 459.69L324.34 459L324.95 460.11L325.56 460.27L326.17 421.8L326.78 421.2L327.39 421.77L328 422.16L328.61 421.51L329.22 422.29L329.83 421.99L330.44 421.58L331.05 422.8L331.66 421.27L332.27 420.3L332.88 419.54L333.49 420.76L334.1 421.19L334.7 421.01L335.31 421.17L335.92 418.9L336.53 419.73L337.14 419.62L337.75 419.13L338.36 418.64L338.97 417.64L339.58 418.77L340.19 417.93L340.8 417.92L341.41 418.73L342.02 418.16L342.63 418.85L343.24 417.06L343.85 417.68L344.46 416.73L345.07 415.98L345.68 416.82L346.29 417.35L346.9 416.84L347.51 417.3L348.12 416.13L348.73 415.96L349.34 416.43L349.95 416.53L350.55 415.54L351.16 416.44L351.77 414.69L352.38 415.4L352.99 415.28L353.6 415.64L354.21 414L354.82 413.65L355.43 432.24L356.04 432.48L356.65 432.99L357.26 432.16L357.87 432.44L358.48 432.74L359.09 432.79L359.7 432.71L360.31 432.97L360.92 433.4L361.53 434.58L362.14 432.67L362.75 434L363.36 435.23L363.97 434.85L364.58 432.85L365.19 432.32L365.79 433.27L366.4 433.15L367.01 433.26L367.62 434.63L368.23 434.17L368.84 433.5L369.45 432.54L370.06 433.65L370.67 434.9L371.28 435.03L371.89 433.77L372.5 433.28L373.11 432.96L373.72 432.78L374.33 433L374.94 433.76L375.55 432.87L376.16 432.43L376.77 432.05L377.38 431.37L377.99 432.68L378.6 434.05L379.21 434.32L379.82 431.74L380.43 432.49L381.04 431.93L381.64 431.88L382.25 431.31L382.86 429.29L383.47 430.78L384.08 431.24L384.69 431.72L385.3 431.33L385.91 430.9L386.52 431.66L387.13 430.43L387.74 429.88L388.35 430.03L388.96 430.43L389.57 430.67L390.18 431.69L390.79 430.58L391.4 431.09L392.01 430.96L392.62 429.82L393.23 430.5L393.84 430.52L394.45 429.52L395.06 428.29L395.67 429.35L396.28 428.6L396.89 429.36L397.49 428.97L398.1 428.65L398.71 429.54L399.32 428.44L399.93 427.3L400.54 427.86L401.15 427.93L401.76 428.89L402.37 427.28L402.98 427.59L403.59 428.59L404.2 427.63L404.81 428.61L405.42 428.5L406.03 429.36L406.64 427.34L407.25 425.68L407.86 426.73L408.47 427.2L409.08 427.31L409.69 427.29L410.3 426.44L410.91 425.33L411.52 426.39L412.13 425.86L412.74 427.05L413.34 425.31L413.95 425.46L414.56 425.88L415.17 424.5" fill="none" stroke="#005cd0" stroke-width="1.8" stroke-linejoin="round"/>
<path d="M276.91 482.26L277.42 483.31L277.92 483.53L278.43 481.94L278.94 481.36L279.44 481.71L279.95 482.7L280.46 483.64L280.96 483.7L281.47 484.71L281.98 483.6L282.48 484.32L282.99 485.62L283.5 484.16L284 483.13L284.51 483.02L285.02 483.14L285.52 483.3L286.03 482.67L286.54 482.48L287.04 484.31L287.55 483.79L288.06 483.95L288.56 482.86L289.07 483.58L289.58 483.98L290.08 485L290.59 484.35L291.09 483.81L291.6 482.76L292.11 483.28L292.61 482.75L293.12 481.65L293.63 483.29L294.13 482.56L294.64 482.88L295.15 484.1L295.65 484.09L296.16 483.46L296.67 483.88L297.17 482.84L297.68 483.25L298.19 482.14L298.69 482.51L299.2 481.57L299.71 481.11L300.21 480.96L300.72 480.65L301.23 479.33L301.73 479.86L302.24 481.82L302.75 481.95L303.25 481L303.76 480.42L304.27 481.15L304.77 480.72L305.28 480.73L305.79 480.91L306.29 481.07L306.8 480.75L307.31 479.71L307.81 481.15L308.32 479.89L308.83 479.78L309.33 480.89L309.84 480.11L310.35 479.94L310.85 480.33L311.36 479.43L311.87 479.5L312.37 478.47L312.88 477.75L313.39 477.96L313.89 478.01L314.4 478.89L314.91 478.64L315.41 477.64L315.92 476.53L316.42 478.44L316.93 477.95L317.44 477.83L317.94 476.19L318.45 476.54L318.96 475.45L319.46 477.68L319.97 478.53L320.48 477.57L320.98 478.11L321.49 478.66L322 477.83L322.5 477.36L323.01 476.66L323.52 475.28L324.02 476.22L324.53 476.45L325.04 477.05L325.54 476.17L326.05 474.99L326.56 474.31L327.06 476.24L327.57 475.2L328.08 475.16L328.58 475.23L329.09 475.64L329.6 475.32L330.1 474.52L330.61 473.77L331.12 473.25L331.62 474.03L332.13 473.79L332.64 474.21L333.14 473.12L333.65 431.68L334.16 432.58L334.66 431.3L335.17 430.13L335.68 431.86L336.18 430.21L336.69 430.22L337.2 430.58L337.7 432.2L338.21 432.27L338.72 432L339.22 430.59L339.73 430.45L340.24 430.1L340.74 429.91L341.25 429.51L341.75 429.78L342.26 428.71L342.77 430.58L343.27 430.55L343.78 430.09L344.29 430.13L344.79 428.56L345.3 428.94L345.81 430.07L346.31 429.62L346.82 429.27L347.33 429.29L347.83 429.12L348.34 428.87L348.85 427.82L349.35 427.83L349.86 427.42L350.37 427.44L350.87 426.47L351.38 426.73L351.89 426.63L352.39 425.95L352.9 425.37L353.41 425.09L353.91 426.27L354.42 427.19L354.93 424.77L355.43 426.35L355.94 426.59L356.45 427.15L356.95 426.17L357.46 425.83L357.97 427.21L358.47 425.42L358.98 425.6L359.49 424.46L359.99 423.94L360.5 424.28L361.01 423.67L361.51 424.57L362.02 424.38L362.53 424.37L363.03 445.51L363.54 445.18L364.05 445.29L364.55 445.79L365.06 445.29L365.57 445.76L366.07 445.19L366.58 446.07L367.08 446.76L367.59 444.72L368.1 446.18L368.6 445.44L369.11 444.5L369.62 444.68L370.12 444.97L370.63 445.49L371.14 445.72L371.64 446.36L372.15 445.75L372.66 445.32L373.16 446.5L373.67 447.64L374.18 444.6L374.68 445.32L375.19 446.31L375.7 446.77L376.2 445.72L376.71 444.84L377.22 445.93L377.72 446.05L378.23 445.48L378.74 445.91L379.24 445.55L379.75 445.29L380.26 444.92L380.76 444.53L381.27 444.92L381.78 445.61L382.28 446.44L382.79 445.96L383.3 446.34L383.8 446.12L384.31 445.83L384.82 445.59L385.32 444.74L385.83 444.71L386.34 444.83L386.84 443.81L387.35 444.36L387.86 443.4L388.36 444.14L388.87 444.21L389.38 445.18L389.88 444.87L390.39 445.37L390.9 444L391.4 444.11L391.91 443.31L392.41 443.49L392.92 444.58L393.43 445.99L393.93 445.14L394.44 445L394.95 444.81L395.45 444.16L395.96 443.94L396.47 444.05L396.97 443.67L397.48 444.12L397.99 444.46L398.49 444.31" fill="none" stroke="#0055d4" stroke-width="1.8" stroke-linejoin="round"/>
<path d="M284.95 479.25L285.46 479.99L285.97 479.66L286.47 479.21L286.98 480.52L287.48 481.01L287.99 480.75L288.5 480.5L289 480.64L289.51 480.27L290.01 481.48L290.52 480.76L291.03 480.15L291.53 479.89L292.04 480.23L292.54 480.85L293.05 480.73L293.56 480.98L294.06 482.13L294.57 482.03L295.07 481.57L295.58 481.65L296.09 481.96L296.59 481.61L297.1 481.5L297.6 481.12L298.11 480.98L298.62 480.73L299.12 480.01L299.63 480.2L300.13 480.07L300.64 481.08L301.15 482.72L301.65 481.76L302.16 480.51L302.67 480.53L303.17 480.68L303.68 481.14L304.18 479.86L304.69 480.14L305.2 479.7L305.7 478.83L306.21 478.74L306.71 477.48L307.22 478.42L307.73 478.09L308.23 478.04L308.74 478.89L309.24 478.77L309.75 479.07L310.26 479.48L310.76 478.72L311.27 479.01L311.77 477.42L312.28 478.22L312.79 478.42L313.29 478.02L313.8 478.18L314.3 477.8L314.81 478L315.32 478.59L315.82 479.5L316.33 479.12L316.83 476.95L317.34 476.53L317.85 476.46L318.35 476.77L318.86 476.65L319.37 476.22L319.87 477.09L320.38 477.05L320.88 477.03L321.39 475.48L321.9 476.22L322.4 475L322.91 475.44L323.41 473.41L323.92 474.24L324.43 474.51L324.93 473.68L325.44 473.52L325.94 473.33L326.45 474.53L326.96 473.56L327.46 472.63L327.97 473.31L328.47 473.84L328.98 474.45L329.49 473.25L329.99 473.07L330.5 473.11L331 473.9L331.51 472.28L332.02 471.91L332.52 472.26L333.03 471.34L333.53 472.47L334.04 471.71L334.55 472.55L335.05 471.25L335.56 471.68L336.06 470.8L336.57 471.41L337.08 471.08L337.58 470.34L338.09 471.3L338.6 471.02L339.1 471.45L339.61 470.44L340.11 470.85L340.62 470.83L341.13 470.63L341.63 469.53L342.14 431.16L342.64 430.84L343.15 430.83L343.66 430.9L344.16 431.04L344.67 430.61L345.17 430.08L345.68 430.95L346.19 430.09L346.69 430.57L347.2 429.92L347.7 427.98L348.21 429.16L348.72 429.07L349.22 429.09L349.73 428.19L350.23 428.66L350.74 429.73L351.25 430.08L351.75 428.96L352.26 428.29L352.76 427.32L353.27 427.87L353.78 427.26L354.28 428.07L354.79 426.79L355.3 427.02L355.8 427.48L356.31 427.06L356.81 425.72L357.32 426.75L357.83 427.46L358.33 427.6L358.84 427.7L359.34 426.92L359.85 426.2L360.36 426.12L360.86 425.77L361.37 424.85L361.87 425.33L362.38 426.16L362.89 427.21L363.39 425.95L363.9 425.88L364.4 425.48L364.91 424.77L365.42 424.31L365.92 425.4L366.43 425.46L366.93 424.72L367.44 424.43L367.95 423.34L368.45 423.85L368.96 425.11L369.46 423.46L369.97 424.48L370.48 444.65L370.98 443.81L371.49 444.4L371.99 442.27L372.5 442.76L373.01 442.81L373.51 443.5L374.02 442.04L374.53 442.46L375.03 443.53L375.54 442.72L376.04 444.33L376.55 444.38L377.06 443.81L377.56 443.63L378.07 444.28L378.57 442.87L379.08 442.23L379.59 443.55L380.09 443.31L380.6 443.87L381.1 444.01L381.61 443.1L382.12 443.22L382.62 443.43L383.13 443.38L383.63 444.21L384.14 442.98L384.65 443.7L385.15 442.64L385.66 443.29L386.16 443.61L386.67 442.42L387.18 442.69L387.68 443.37L388.19 443.62L388.69 442.95L389.2 441.73L389.71 441.95L390.21 442.73L390.72 443.59L391.22 443.69L391.73 443.34L392.24 442.89L392.74 443.25L393.25 442.09L393.76 443L394.26 443.27L394.77 442.54L395.27 442.16L395.78 442.54L396.29 441.77L396.79 442.97L397.3 441.47L397.8 440.3L398.31 439.85L398.82 440.84L399.32 440.04L399.83 440.91L400.33 440.44L400.84 441.21L401.35 441.29L401.85 441.07L402.36 442.47L402.86 442.08L403.37 440.53L403.88 442.89L404.38 441.77L404.89 440.8L405.39 440.68L405.9 440.67L406.41 439.81" fill="none" stroke="#004dd8" stroke-width="1.8" stroke-linejoin="round"/>
<path d="M293 486.3L293.56 485.22L294.12 485.12L294.69 485.23L295.25 485.65L295.81 486.65L296.38 486.16L296.94 486.26L297.5 486.79L298.07 486.5L298.63 486.19L299.19 486.34L299.75 485.87L300.32 485.84L300.88 486.92L301.44 486.38L302.01 486.69L302.57 485.54L303.13 487.9L303.7 487.34L304.26 486.44L304.82 485.64L305.39 486.59L305.95 486.35L306.51 485.91L307.08 486.32L307.64 485.67L308.2 486.2L308.77 486.47L309.33 485.26L309.89 485.93L310.45 485.92L311.02 484.18L311.58 483.87L312.14 484.74L312.71 484.65L313.27 485.26L313.83 485.74L314.4 485.51L314.96 484.51L315.52 484.14L316.09 484.75L316.65 485.97L317.21 484.18L317.78 484.51L318.34 483.64L318.9 483.13L319.47 482.49L320.03 483.33L320.59 483.95L321.16 483.96L321.72 483.2L322.28 482.85L322.84 483.51L323.41 482.72L323.97 483.15L324.53 482.74L325.1 482.6L325.66 481.97L326.22 480.21L326.79 481.38L327.35 482.4L327.91 482.67L328.48 481.95L329.04 481.39L329.6 480.77L330.17 481.43L330.73 481.87L331.29 481.24L331.86 479.81L332.42 479.38L332.98 479L333.54 479.05L334.11 478.67L334.67 479.46L335.23 478.64L335.8 478.43L336.36 478.18L336.92 478.84L337.49 479.06L338.05 479.22L338.61 477.89L339.18 479.01L339.74 478.86L340.3 478.26L340.87 478.93L341.43 478.18L341.99 477.13L342.56 476.82L343.12 477.79L343.68 477.41L344.24 477.8L344.81 478.98L345.37 477.21L345.93 476.38L346.5 477.21L347.06 475.92L347.62 475.35L348.19 474.01L348.75 474.49L349.31 473.89L349.88 474.79L350.44 433.73L351 432.36L351.57 432.35L352.13 431.69L352.69 432.56L353.26 432.81L353.82 432.28L354.38 432.97L354.95 432.27L355.51 433.27L356.07 434.11L356.63 433.4L357.2 432.27L357.76 430.66L358.32 431.26L358.89 431.27L359.45 431.46L360.01 431.14L360.58 430.26L361.14 430.18L361.7 430.2L362.27 430.15L362.83 430.47L363.39 429.88L363.96 428.74L364.52 430.11L365.08 428.59L365.65 430.68L366.21 431.28L366.77 429.92L367.33 429.92L367.9 428.01L368.46 428.1L369.02 429.51L369.59 429.07L370.15 428.52L370.71 427.7L371.28 428.37L371.84 429.28L372.4 429.51L372.97 428.01L373.53 427.01L374.09 428.44L374.66 427.64L375.22 427.87L375.78 427.35L376.35 426.6L376.91 426.84L377.47 426.78L378.03 427.92L378.6 427.11L379.16 446.98L379.72 447.78L380.29 447.51L380.85 447.35L381.41 445.96L381.98 447.5L382.54 447.13L383.1 447.71L383.67 447.85L384.23 447.91L384.79 449.1L385.36 448.11L385.92 448.53L386.48 448.13L387.05 447.48L387.61 447.88L388.17 448.96L388.74 449.2L389.3 448.16L389.86 447.23L390.42 446.37L390.99 447.99L391.55 447.85L392.11 447.81L392.68 448.32L393.24 448.24L393.8 448.7L394.37 448.18L394.93 448.3L395.49 448.22L396.06 447.05L396.62 448.06L397.18 447.81L397.75 448.17L398.31 448.13L398.87 447.9L399.44 447.71L400 447.45L400.56 447.95L401.12 447.26L401.69 448.06L402.25 448.45L402.81 448.42L403.38 446.97L403.94 446.21L404.5 446.99L405.07 445.68L405.63 446.08L406.19 447.48L406.76 446.85L407.32 447.47L407.88 447.85L408.45 448.72L409.01 447.5L409.57 446.68L410.14 447.22L410.7 446.33L411.26 445.99L411.83 445.67L412.39 445.41L412.95 446.19L413.51 445.78L414.08 445.44L414.64 445.97L415.2 446.01L415.77 446.61L416.33 445.89L416.89 446.38L417.46 445.52L418.02 445.28L418.58 445.28L419.15 444.72L419.71 444.99L420.27 443.75L420.84 443.94L421.4 445.02L421.96 445.11L422.53 444.5L423.09 443.22L423.65 444.07L424.21 443.03L424.78 443.37L425.34 442.72L425.9 443.62L426.47 444.15L427.03 444.07L427.59 443.7L428.16 444.14" fill="none" stroke="#0046db" stroke-width="1.8" stroke-linejoin="round"/>
<path d="M301.04 494.11L301.63 492.81L302.22 492.5L302.81 493.02L303.4 493.64L303.99 493.82L304.58 493.66L305.17 493.9L305.76 493.74L306.35 494.49L306.94 494.31L307.53 494.5L308.12 493.64L308.71 494.75L309.3 493.6L309.89 493.93L310.48 494.36L311.07 494.2L311.66 494.03L312.25 494.15L312.84 493.74L313.43 494.18L314.02 495.09L314.61 493.92L315.2 493.77L315.79 492.52L316.38 492.7L316.97 494.35L317.56 492.95L318.15 493.49L318.74 492.88L319.33 491.39L319.92 491.35L320.51 492.74L321.1 492.69L321.69 493.63L322.28 492.51L322.87 491.95L323.46 492.67L324.05 491.97L324.64 491.24L325.23 490.89L325.82 491.63L326.41 491.95L327 492.31L327.59 492.55L328.18 491.52L328.77 491.11L329.36 490L329.95 490.05L330.54 490.39L331.13 491.24L331.72 489.6L332.31 489.62L332.9 489.68L333.49 490.29L334.08 490.54L334.67 489.47L335.26 489.92L335.85 489.04L336.44 488.48L337.03 488.81L337.62 489.7L338.21 488.73L338.8 487.49L339.39 488.29L339.98 488.89L340.57 487.54L341.16 487.42L341.75 487.79L342.34 486.66L342.93 487.02L343.52 486.63L344.11 486.92L344.7 487.21L345.29 486.63L345.88 486.97L346.47 487.69L347.06 487.13L347.65 485.58L348.24 484.82L348.83 483.63L349.42 483.75L350.01 483.31L350.6 483.91L351.19 484.6L351.78 484.25L352.37 484.94L352.96 484.08L353.55 484.35L354.14 483.93L354.73 484.39L355.32 484.04L355.91 483.04L356.5 483.26L357.09 483.59L357.68 445.9L358.27 445.15L358.86 445.41L359.45 446.12L360.04 446.65L360.63 446.7L361.22 445.04L361.81 444.9L362.4 444.38L362.99 443.64L363.58 443.71L364.17 443.55L364.76 444.04L365.35 444.95L365.94 443.83L366.53 443.68L367.12 443.08L367.71 443.8L368.3 443.45L368.89 441.77L369.48 442.74L370.07 442.54L370.66 441.55L371.25 442.01L371.84 441.91L372.43 443.31L373.02 441.98L373.61 442.05L374.2 440.86L374.79 441.1L375.38 441.32L375.97 440.82L376.56 440.94L377.15 441.11L377.74 439.75L378.33 439.36L378.92 439.66L379.51 439.28L380.1 439L380.69 438.94L381.28 439.18L381.87 439.22L382.46 438.93L383.05 438.61L383.64 438.5L384.23 438.98L384.82 438.82L385.41 438.31L386 438.92L386.59 438.52L387.18 456.83L387.77 456.92L388.36 457.26L388.95 457.27L389.54 457.57L390.13 456.76L390.71 457.25L391.3 458.36L391.89 458.59L392.48 457.71L393.07 457.32L393.66 457.58L394.25 458.24L394.84 457.81L395.43 458.02L396.02 458.01L396.61 457.55L397.2 457.82L397.79 457.22L398.38 457.61L398.97 457.59L399.56 457.41L400.15 456.19L400.74 455.46L401.33 455.51L401.92 456.63L402.51 456.66L403.1 456.05L403.69 455.79L404.28 457.26L404.87 456.91L405.46 457.17L406.05 456.27L406.64 455.87L407.23 456.4L407.82 454.86L408.41 455.66L409 454.23L409.59 455.2L410.18 455.61L410.77 454.47L411.36 455.47L411.95 455.87L412.54 454.75L413.13 455.15L413.72 454.98L414.31 455.98L414.9 454.43L415.49 454.15L416.08 454.39L416.67 454.23L417.26 454.9L417.85 455.16L418.44 456L419.03 455.06L419.62 453.97L420.21 453.64L420.8 453.37L421.39 453.33L421.98 454.35L422.57 455.03L423.16 454.05L423.75 453.82L424.34 453.11L424.93 453.53L425.52 454.11L426.11 453.45L426.7 453.74L427.29 454.51L427.88 454.19L428.47 454.13L429.06 454.22L429.65 453.81L430.24 452.57L430.83 450.98L431.42 450.51L432.01 451.63L432.6 451.11L433.19 451.58L433.78 451.45L434.37 452.03L434.96 451.87L435.55 452.76L436.14 450.86L436.73 451.53L437.32 450.93L437.91 451.32L438.5 450.9L439.09 451.56L439.68 451.32L440.27 450.28L440.86 449.9L441.45 451.29L442.04 450.1L442.63 450.84" fill="none" stroke="#003edf" stroke-width="1.8" stroke-linejoin="round"/>
<path d="M309.08 495.09L309.65 494.68L310.22 494.79L310.78 494.96L311.35 495.41L311.91 496.03L312.48 495.53L313.05 496.14L313.61 495.62L314.18 496.17L314.74 496.04L315.31 495.22L315.88 494.75L316.44 495.17L317.01 495.5L317.57 495.49L318.14 495.1L318.71 495.82L319.27 493.9L319.84 494.64L320.4 494.91L320.97 494.56L321.54 494.56L322.1 494.77L322.67 495.11L323.23 495.88L323.8 495.85L324.37 495.29L324.93 495.36L325.5 493.17L326.06 495.21L326.63 493.26L327.2 493.44L327.76 493.97L328.33 493.87L328.89 493.95L329.46 494.12L330.03 495.04L330.59 494.52L331.16 494.72L331.72 493.79L332.29 493.78L332.86 493.86L333.42 493.44L333.99 493.39L334.55 492.68L335.12 492.74L335.69 493.33L336.25 492.52L336.82 493.17L337.38 493.72L337.95 493.58L338.52 492.19L339.08 492.58L339.65 492.61L340.21 490.43L340.78 490.88L341.35 490.58L341.91 491.12L342.48 489.86L343.04 489.18L343.61 490.07L344.18 490.87L344.74 491.72L345.31 490.57L345.87 490.78L346.44 491.19L347.01 489.93L347.57 489.63L348.14 488.97L348.7 489.77L349.27 490.03L349.84 489.22L350.4 487.71L350.97 487.64L351.53 488.02L352.1 487.39L352.67 486.92L353.23 488.05L353.8 486.25L354.36 485.97L354.93 486.51L355.5 486.42L356.06 487.49L356.63 486.17L357.19 484.66L357.76 485.31L358.33 485.45L358.89 485.8L359.46 485.73L360.02 486.35L360.59 485.8L361.16 484.85L361.72 485.18L362.29 484.36L362.85 485.53L363.42 485.51L363.99 485.24L364.55 485.04L365.12 483.84L365.69 443.28L366.25 442.25L366.82 442.87L367.38 442.52L367.95 444.05L368.52 444.37L369.08 442.85L369.65 441.6L370.21 441.19L370.78 441.19L371.35 440.47L371.91 440.46L372.48 440.08L373.04 441.26L373.61 439.6L374.18 440.25L374.74 440.99L375.31 440.98L375.87 439.76L376.44 439.7L377.01 439.72L377.57 438.63L378.14 438.18L378.7 438.32L379.27 439.22L379.84 438.47L380.4 438.84L380.97 438.52L381.53 438.6L382.1 439.64L382.67 439.14L383.23 438.74L383.8 439.39L384.36 439.33L384.93 437.26L385.5 437.4L386.06 435.96L386.63 436.11L387.19 436.78L387.76 437.24L388.33 435.8L388.89 436.74L389.46 436.11L390.02 436.45L390.59 436.82L391.16 436.64L391.72 436.5L392.29 434.92L392.85 435.62L393.42 435.85L393.99 436.99L394.55 457.75L395.12 458.53L395.68 458.18L396.25 459.35L396.82 458.86L397.38 457.03L397.95 456.73L398.51 457.77L399.08 457.62L399.65 456.26L400.21 456.71L400.78 457.71L401.34 457.12L401.91 458.01L402.48 457.63L403.04 457.11L403.61 457L404.17 457.5L404.74 455.89L405.31 455.22L405.87 455.56L406.44 455.19L407 455.78L407.57 456.1L408.14 456.88L408.7 457.15L409.27 456.57L409.83 456.84L410.4 457.53L410.97 457.53L411.53 457.41L412.1 458.41L412.66 458.32L413.23 457.07L413.8 458.38L414.36 457.35L414.93 456L415.49 456.6L416.06 455.99L416.63 455.93L417.19 456.42L417.76 457.33L418.32 457.09L418.89 456.39L419.46 456.18L420.02 456.1L420.59 455.14L421.15 455.04L421.72 455.49L422.29 455.15L422.85 455.89L423.42 457.15L423.98 456.71L424.55 455.43L425.12 455.07L425.68 454.89L426.25 454.66L426.81 455.16L427.38 454.02L427.95 454.71L428.51 454.88L429.08 454.49L429.65 455.29L430.21 454.08L430.78 453.23L431.34 453.55L431.91 454.29L432.48 453.03L433.04 453.98L433.61 453.93L434.17 453.84L434.74 452.91L435.31 454.2L435.87 452.9L436.44 452.48L437 452.75L437.57 453.93L438.14 452.54L438.7 454.48L439.27 454.29L439.83 452.39L440.4 452.01L440.97 452.57L441.53 452.93L442.1 453.58L442.66 452.39L443.23 452.97L443.8 452.57L444.36 451.71L444.93 452.09" fill="none" stroke="#0037e3" stroke-width="1.8" stroke-linejoin="round"/>
<path d="M317.13 506.67L317.65 506.97L318.16 507.76L318.68 506.33L319.2 505.64L319.72 506.04L320.24 506.88L320.76 506.24L321.28 506.04L321.8 506.13L322.31 507.02L322.83 506.51L323.35 506.76L323.87 505.99L324.39 505.68L324.91 505.58L325.43 506.07L325.95 504.97L326.46 504.9L326.98 504.48L327.5 504.52L328.02 504.61L328.54 504.79L329.06 505.81L329.58 506.74L330.1 506.59L330.61 505.44L331.13 504.6L331.65 504.62L332.17 504.63L332.69 503.44L333.21 504.26L333.73 505.51L334.25 505.95L334.76 505.28L335.28 504.21L335.8 503.6L336.32 503.86L336.84 503.25L337.36 503.45L337.88 503.93L338.4 503.88L338.91 503.05L339.43 502.42L339.95 503.42L340.47 503.78L340.99 503.15L341.51 501.42L342.03 502.68L342.55 503.32L343.06 502.46L343.58 501.89L344.1 502.28L344.62 502.03L345.14 501.5L345.66 502.65L346.18 502L346.7 501.19L347.21 500.51L347.73 499.93L348.25 500.39L348.77 501.48L349.29 500.1L349.81 499.71L350.33 500.37L350.85 499.52L351.36 499.04L351.88 499.5L352.4 501.11L352.92 500.61L353.44 500.47L353.96 500.4L354.48 499.78L355 500.07L355.52 499.17L356.03 497.63L356.55 498.83L357.07 497.89L357.59 498.39L358.11 497.85L358.63 497.96L359.15 497L359.67 497.77L360.18 497.12L360.7 497.73L361.22 497.3L361.74 497.17L362.26 496.3L362.78 497.55L363.3 497.97L363.82 496.29L364.33 496.03L364.85 494.98L365.37 496.18L365.89 495.88L366.41 495.39L366.93 494.32L367.45 494.9L367.97 495.37L368.48 494.77L369 494.93L369.52 495.38L370.04 494.53L370.56 495.8L371.08 495.75L371.6 494.08L372.12 494.41L372.63 494.39L373.15 493.84L373.67 492.99L374.19 492.9L374.71 454.51L375.23 454.61L375.75 453.51L376.27 453.68L376.78 454.03L377.3 453.15L377.82 452.45L378.34 451.37L378.86 452.9L379.38 453.35L379.9 453.5L380.42 452.81L380.93 452.95L381.45 451.9L381.97 453.84L382.49 452.31L383.01 452.54L383.53 452.33L384.05 451.6L384.57 451.41L385.08 452.06L385.6 450.66L386.12 450.49L386.64 451.04L387.16 450.78L387.68 451.45L388.2 451.81L388.72 451.3L389.23 450.54L389.75 450.26L390.27 450.64L390.79 451.15L391.31 451.55L391.83 449.52L392.35 449.23L392.87 449.79L393.38 448.69L393.9 448.5L394.42 448.97L394.94 449.26L395.46 448.18L395.98 448.11L396.5 447.14L397.02 447.43L397.53 448.14L398.05 448.43L398.57 448.58L399.09 447.95L399.61 447.57L400.13 447.08L400.65 446.86L401.17 447.67L401.68 447.46L402.2 447.76L402.72 446.91L403.24 467.77L403.76 467.74L404.28 467.91L404.8 467.85L405.32 467.59L405.84 466.29L406.35 466.82L406.87 467.88L407.39 467.66L407.91 466.85L408.43 466.59L408.95 466.66L409.47 465.55L409.99 465.56L410.5 466.24L411.02 465.83L411.54 467.31L412.06 467.28L412.58 467.71L413.1 467.24L413.62 466.05L414.14 466.84L414.65 465.85L415.17 467.06L415.69 466.05L416.21 467.58L416.73 467.77L417.25 466.63L417.77 466.77L418.29 466.67L418.8 466.7L419.32 466.57L419.84 466.73L420.36 467.32L420.88 467.13L421.4 466.76L421.92 467.21L422.44 466.51L422.95 465.3L423.47 466.91L423.99 466.96L424.51 466.79L425.03 466.48L425.55 466.24L426.07 466.64L426.59 466.35L427.1 466.16L427.62 466.09L428.14 464.96L428.66 465.28L429.18 466.47L429.7 467.1L430.22 465.96L430.74 465.97L431.25 466.11L431.77 466.65L432.29 466.18L432.81 465.77L433.33 465.92L433.85 465.74L434.37 464.8L434.89 464.35L435.4 464.24L435.92 464.63L436.44 465.55L436.96 464.57L437.48 463.57L438 463.17L438.52 463.01L439.04 463.46L439.55 463.58L440.07 463.85L440.59 463.12L441.11 463.7L441.63 462.36" fill="none" stroke="#002fe7" stroke-width="1.8" stroke-linejoin="round"/>
<path d="M325.17 516.5L325.76 517.2L326.35 516.77L326.95 514.83L327.54 515.41L328.13 515.83L328.72 516.28L329.32 515.66L329.91 515.63L330.5 515.12L331.09 515.41L331.69 515.72L332.28 515.45L332.87 516.08L333.46 514.39L334.06 514.84L334.65 515.2L335.24 514.81L335.83 514.54L336.43 514.4L337.02 514.4L337.61 514.36L338.2 514.58L338.8 513.73L339.39 514.69L339.98 514.37L340.57 515.5L341.17 515.03L341.76 514.64L342.35 514.89L342.94 513.28L343.53 514.06L344.13 514.49L344.72 514.22L345.31 513.89L345.9 513.16L346.5 512.34L347.09 513.18L347.68 511.64L348.27 511.16L348.87 511.61L349.46 512.01L350.05 512.17L350.64 512.5L351.24 513.38L351.83 512.76L352.42 512.56L353.01 511.26L353.61 511.4L354.2 511.56L354.79 511.67L355.38 511.66L355.98 510.62L356.57 510.51L357.16 510.37L357.75 510.37L358.34 510.14L358.94 509.56L359.53 509.03L360.12 508.51L360.71 508.28L361.31 507.56L361.9 507.42L362.49 507.5L363.08 507.78L363.68 508.33L364.27 508.02L364.86 506.88L365.45 508.92L366.05 508.01L366.64 508.12L367.23 507.15L367.82 506.56L368.42 506.96L369.01 505.5L369.6 506.39L370.19 506.19L370.79 505.45L371.38 505.5L371.97 505.88L372.56 505.18L373.16 506.39L373.75 505.95L374.34 506.57L374.93 504.48L375.52 503.73L376.12 503.33L376.71 503.28L377.3 503.99L377.89 504.75L378.49 504.74L379.08 505.01L379.67 504.42L380.26 504.24L380.86 503.25L381.45 503.56L382.04 503.1L382.63 466.65L383.23 465.96L383.82 466.29L384.41 466L385 465.66L385.6 465.65L386.19 465.27L386.78 464.37L387.37 465.29L387.97 466.52L388.56 464.58L389.15 462.75L389.74 463.93L390.33 462.96L390.93 462.79L391.52 463.29L392.11 464.25L392.7 462.19L393.3 462.47L393.89 463.53L394.48 462.79L395.07 462.47L395.67 462.95L396.26 461.09L396.85 461.32L397.44 461.67L398.04 461.54L398.63 460.14L399.22 459.14L399.81 460.27L400.41 461.19L401 460.22L401.59 459.38L402.18 460.5L402.78 461.3L403.37 460.37L403.96 459.79L404.55 459.88L405.15 459.92L405.74 460.05L406.33 459.72L406.92 459.26L407.51 459.29L408.11 457.96L408.7 458.85L409.29 458.86L409.88 458.97L410.48 459.01L411.07 478.54L411.66 478.48L412.25 478.05L412.85 479.08L413.44 478.47L414.03 477.13L414.62 476.37L415.22 477.49L415.81 477.32L416.4 477.43L416.99 476.78L417.59 477.74L418.18 478.38L418.77 477.35L419.36 477.98L419.96 479.8L420.55 478.82L421.14 478.13L421.73 477.67L422.33 477.82L422.92 477.08L423.51 476.71L424.1 476.51L424.69 475.38L425.29 475.97L425.88 477.97L426.47 477.41L427.06 477.6L427.66 478.35L428.25 477.63L428.84 477.84L429.43 477.41L430.03 477.56L430.62 478.01L431.21 477.64L431.8 477.05L432.4 477.2L432.99 477.54L433.58 475.9L434.17 475.47L434.77 477.63L435.36 476.55L435.95 476L436.54 475.14L437.14 474.85L437.73 475.37L438.32 476.55L438.91 475.96L439.5 476.58L440.1 477.46L440.69 477.02L441.28 476.76L441.87 476.79L442.47 476.63L443.06 476.25L443.65 475.55L444.24 476.08L444.84 474.91L445.43 474.25L446.02 475.03L446.61 474.38L447.21 474.95L447.8 474.82L448.39 475.02L448.98 474.05L449.58 475.23L450.17 473.18L450.76 473.32L451.35 473.37L451.95 473.52L452.54 474.1L453.13 474.52L453.72 473.51L454.32 473.58L454.91 472.84L455.5 471.4L456.09 471.87L456.68 471.66L457.28 472.22L457.87 472.82L458.46 472.33L459.05 470.81L459.65 470.82L460.24 471.01L460.83 471.74L461.42 471.64L462.02 470.43L462.61 470.6L463.2 471.57L463.79 471.64L464.39 470.9L464.98 470.38L465.57 471.76L466.16 470.87L466.76 470.83L467.35 472.13" fill="none" stroke="#0028ea" stroke-width="1.8" stroke-linejoin="round"/>
<path d="M333.21 519.25L333.81 518.53L334.41 518.1L335.01 518.08L335.6 518.26L336.2 517.7L336.8 518.7L337.39 519.63L337.99 518.4L338.59 517.12L339.19 517.68L339.78 516.79L340.38 516.5L340.98 517.29L341.57 516.93L342.17 515.95L342.77 516.87L343.37 516.44L343.96 516.18L344.56 516.82L345.16 515.84L345.76 516.37L346.35 515.58L346.95 515.6L347.55 516.11L348.14 516.02L348.74 516.38L349.34 514.32L349.94 515.37L350.53 515.68L351.13 514.51L351.73 514.13L352.33 513.96L352.92 514.94L353.52 515.34L354.12 514.89L354.71 514.33L355.31 513.51L355.91 513.02L356.51 513.04L357.1 512.74L357.7 514.1L358.3 514.61L358.9 514.32L359.49 513.62L360.09 513.61L360.69 513.34L361.28 512.76L361.88 512.86L362.48 512.49L363.08 511.44L363.67 511.22L364.27 511.6L364.87 511.35L365.47 510.94L366.06 510.85L366.66 510.26L367.26 511.39L367.85 510.26L368.45 510.95L369.05 510.14L369.65 511.02L370.24 509.73L370.84 509.13L371.44 509.74L372.04 509.1L372.63 509.4L373.23 508.39L373.83 508.74L374.42 509L375.02 509.37L375.62 508.92L376.22 508.19L376.81 507.62L377.41 508.16L378.01 508.16L378.61 508.56L379.2 508.41L379.8 507.87L380.4 507.17L380.99 506.45L381.59 506.91L382.19 507.48L382.79 505.83L383.38 505.98L383.98 506.22L384.58 505.91L385.17 505.81L385.77 505.17L386.37 504.86L386.97 505.77L387.56 505.61L388.16 504.75L388.76 504.83L389.36 504.11L389.95 504.88L390.55 468.94L391.15 468.91L391.74 470.1L392.34 468.85L392.94 469.55L393.54 469L394.13 468.67L394.73 468.29L395.33 467.84L395.93 469.24L396.52 468.83L397.12 468.95L397.72 468.68L398.31 468L398.91 465.74L399.51 466.45L400.11 467.37L400.7 465.27L401.3 465.44L401.9 466.05L402.5 464.9L403.09 464.84L403.69 464.79L404.29 466.25L404.88 464.89L405.48 465.34L406.08 465.1L406.68 464.81L407.27 463.8L407.87 463.42L408.47 464.25L409.07 464.69L409.66 465.11L410.26 464.77L410.86 464.19L411.45 463.91L412.05 463.91L412.65 464.3L413.25 464.34L413.84 463.59L414.44 462.74L415.04 462.45L415.64 462.91L416.23 462.35L416.83 461.65L417.43 462.51L418.02 463.08L418.62 462.02L419.22 478.41L419.82 478.79L420.41 479.02L421.01 479.37L421.61 478.76L422.21 480.12L422.8 479.81L423.4 479.98L424 481.28L424.59 480.68L425.19 480.13L425.79 479.82L426.39 479.83L426.98 479.85L427.58 479.35L428.18 480.38L428.77 480.63L429.37 479.63L429.97 479.08L430.57 478.58L431.16 479.77L431.76 478.69L432.36 478.27L432.96 478.5L433.55 479.45L434.15 478.66L434.75 477.97L435.34 478.57L435.94 478.36L436.54 478.2L437.14 477.84L437.73 477.75L438.33 477.66L438.93 478.88L439.53 478.9L440.12 479.61L440.72 478.22L441.32 477.66L441.91 477.54L442.51 476.51L443.11 477.76L443.71 476.76L444.3 477.8L444.9 478.88L445.5 478.48L446.1 478.27L446.69 477.96L447.29 477.62L447.89 477.08L448.48 476.65L449.08 477.23L449.68 477.75L450.28 476.79L450.87 475.86L451.47 475.57L452.07 475.67L452.67 477.17L453.26 476.26L453.86 476.6L454.46 475.6L455.05 474.83L455.65 475.54L456.25 476.22L456.85 476.11L457.44 475.44L458.04 475.01L458.64 475.77L459.24 475.19L459.83 475.65L460.43 475.6L461.03 474.42L461.62 474.54L462.22 475.92L462.82 475.77L463.42 474.15L464.01 475.24L464.61 473.83L465.21 473.77L465.8 474.6L466.4 474.44L467 473.52L467.6 472.49L468.19 473.64L468.79 473.44L469.39 472.9L469.99 472.23L470.58 470.77L471.18 470.42L471.78 471.08L472.37 472.5L472.97 472.44L473.57 472.87L474.17 472.5L474.76 472.35L475.36 472.03L475.96 471.42L476.56 471.47" fill="none" stroke="#0020ee" stroke-width="1.8" stroke-linejoin="round"/>
<path d="M341.26 526L341.85 526.4L342.45 526.11L343.05 526.8L343.65 525.49L344.24 524.81L344.84 524.32L345.44 522.9L346.03 522.81L346.63 522.47L347.23 522.85L347.83 523.41L348.42 524.65L349.02 523.99L349.62 523.33L350.22 523.6L350.81 523.5L351.41 522.75L352.01 521.2L352.6 521.79L353.2 521.96L353.8 522.23L354.4 521.85L354.99 522.27L355.59 521.41L356.19 521.71L356.79 520.39L357.38 521.12L357.98 521.52L358.58 520.54L359.17 519.95L359.77 520.64L360.37 520.03L360.97 519.74L361.56 518.62L362.16 519.49L362.76 520.52L363.36 519.53L363.95 518.67L364.55 518.03L365.15 518.4L365.74 519.46L366.34 520.19L366.94 517.38L367.54 517.57L368.13 517.63L368.73 517.21L369.33 516.92L369.93 517.43L370.52 517.3L371.12 516.95L371.72 515.9L372.31 514.71L372.91 514.64L373.51 514.77L374.11 515.95L374.7 516.26L375.3 515.58L375.9 515.86L376.49 515.79L377.09 513.6L377.69 514.37L378.29 514.6L378.88 515.7L379.48 514.59L380.08 514.1L380.68 514.13L381.27 513.57L381.87 515.26L382.47 513.32L383.06 512.33L383.66 514.11L384.26 513.34L384.86 512.48L385.45 511.9L386.05 511.98L386.65 511.23L387.25 511.27L387.84 511.81L388.44 510.7L389.04 511.89L389.63 511.89L390.23 511.8L390.83 510.27L391.43 510.88L392.02 511.7L392.62 511.77L393.22 510.84L393.82 510.46L394.41 509.96L395.01 510.73L395.61 509.91L396.2 509.09L396.8 507.87L397.4 507.45L398 468.91L398.59 468.39L399.19 469.1L399.79 468.41L400.39 467.74L400.98 467.97L401.58 469.81L402.18 468.63L402.77 467.97L403.37 468L403.97 467.04L404.57 467.26L405.16 467.21L405.76 466.57L406.36 467.04L406.96 466.16L407.55 466.49L408.15 466.38L408.75 465.71L409.34 464.8L409.94 465.36L410.54 465.25L411.14 465.44L411.73 466.31L412.33 465.9L412.93 463.72L413.53 464.31L414.12 463.84L414.72 463.65L415.32 463.03L415.91 463.49L416.51 463.13L417.11 463.52L417.71 461.86L418.3 462.32L418.9 462.81L419.5 462.03L420.09 463.01L420.69 462.15L421.29 460.82L421.89 462.26L422.48 461.86L423.08 462.32L423.68 462.05L424.28 462.01L424.87 463.21L425.47 461.49L426.07 461.39L426.66 460.59L427.26 481.88L427.86 482.11L428.46 482.25L429.05 483.04L429.65 481.22L430.25 480.72L430.85 480.4L431.44 480.73L432.04 481.58L432.64 481.48L433.23 479.64L433.83 479.71L434.43 480.63L435.03 482.04L435.62 481.52L436.22 483.49L436.82 481.99L437.42 482.35L438.01 482.28L438.61 481.29L439.21 480.51L439.8 481.33L440.4 482.23L441 483.18L441.6 483.23L442.19 482.03L442.79 481.62L443.39 482.03L443.99 481.75L444.58 481.8L445.18 482.56L445.78 482.25L446.37 480.93L446.97 479.95L447.57 481.07L448.17 481.03L448.76 481.92L449.36 481.08L449.96 481.16L450.56 481.1L451.15 480.15L451.75 479.96L452.35 480.07L452.94 480.05L453.54 479.92L454.14 481.56L454.74 480.77L455.33 480.93L455.93 479.54L456.53 479.91L457.13 480.62L457.72 480.79L458.32 479.73L458.92 479.79L459.51 479.79L460.11 478.91L460.71 478.87L461.31 479.32L461.9 478.51L462.5 478.51L463.1 478.56L463.69 478.62L464.29 480.75L464.89 479.17L465.49 479.34L466.08 478.57L466.68 479.07L467.28 478.8L467.88 479.55L468.47 478.38L469.07 478.91L469.67 477.48L470.26 477.67L470.86 477.55L471.46 478.24L472.06 478.54L472.65 477.82L473.25 477.84L473.85 477.65L474.45 478.49L475.04 478.08L475.64 477.31L476.24 478L476.83 478.15L477.43 478.18L478.03 477.24L478.63 477.2L479.22 477.62L479.82 477.29L480.42 476.46L481.02 477.03L481.61 476.22L482.21 474.17L482.81 476.19L483.4 476.36L484 476.02L484.6 475.41" fill="none" stroke="#0019f2" stroke-width="1.8" stroke-linejoin="round"/>
<line x1="108" y1="496.5" x2="108" y2="325.8" stroke="#000" stroke-width="1.1" />
<line x1="108" y1="496.5" x2="349.3" y2="529.3" stroke="#000" stroke-width="1.1" />
<line x1="349.3" y1="529.3" x2="523.4" y2="483.3" stroke="#000" stroke-width="1.1" />
<text x="103" y="331.1" font-size="11" fill="#222" text-anchor="end">10<tspan font-size="9" dy="-5.5" dx="0.5">-6</tspan></text>
<text x="103" y="373.78" font-size="11" fill="#222" text-anchor="end">10<tspan font-size="9" dy="-5.5" dx="0.5">-7</tspan></text>
<text x="103" y="416.45" font-size="11" fill="#222" text-anchor="end">10<tspan font-size="9" dy="-5.5" dx="0.5">-8</tspan></text>
<text x="103" y="459.12" font-size="11" fill="#222" text-anchor="end">10<tspan font-size="9" dy="-5.5" dx="0.5">-9</tspan></text>
<text x="103" y="501.8" font-size="11" fill="#222" text-anchor="end">10<tspan font-size="9" dy="-5.5" dx="0.5">-10</tspan></text>
<text x="97" y="511" font-size="12" fill="#222" text-anchor="middle" font-family='"Liberation Sans", sans-serif' >30</text>
<text x="137.3" y="515.8" font-size="12" fill="#222" text-anchor="middle" font-family='"Liberation Sans", sans-serif' >25</text>
<text x="177.3" y="521.6" font-size="12" fill="#222" text-anchor="middle" font-family='"Liberation Sans", sans-serif' >20</text>
<text x="218.7" y="527" font-size="12" fill="#222" text-anchor="middle" font-family='"Liberation Sans", sans-serif' >15</text>
<text x="258.7" y="532.3" font-size="12" fill="#222" text-anchor="middle" font-family='"Liberation Sans", sans-serif' >10</text>
<text x="301.3" y="537.6" font-size="12" fill="#222" text-anchor="middle" font-family='"Liberation Sans", sans-serif' >5</text>
<text x="342" y="543" font-size="12" fill="#222" text-anchor="middle" font-family='"Liberation Sans", sans-serif' >0</text>
<text x="355" y="541.8" font-size="12" fill="#222" text-anchor="middle" font-family='"Liberation Sans", sans-serif' >0</text>
<text x="423.75" y="526.8" font-size="12" fill="#222" text-anchor="middle" font-family='"Liberation Sans", sans-serif' >5000</text>
<text x="485" y="511.8" font-size="12" fill="#222" text-anchor="middle" font-family='"Liberation Sans", sans-serif' >10000</text>
<text x="543.75" y="496.8" font-size="12" fill="#222" text-anchor="middle" font-family='"Liberation Sans", sans-serif' >15000</text>
<text x="197.3" y="541" font-size="13" fill="#222" text-anchor="middle" transform="rotate(7.7 197.3 536.5)">Device count</text>
<text x="470" y="535.5" font-size="13" fill="#222" text-anchor="middle" transform="rotate(-15 470 531)">Time [ms]</text>
<text x="0" y="0" font-size="13" fill="#222" text-anchor="middle" transform="translate(67.5 407.4) rotate(-90)">I<tspan font-size="8.5" dy="3">PH</tspan><tspan dy="-3"> [A]</tspan></text>
<text x="425" y="330" font-size="13" fill="#000" text-anchor="middle" font-family='"Liberation Sans", sans-serif' >30 In<tspan font-size="8.5" dy="3">2</tspan><tspan dy="-3">Se</tspan><tspan font-size="8.5" dy="3">3</tspan></text>
<text x="425" y="345.5" font-size="13" fill="#000" text-anchor="middle" font-family='"Liberation Sans", sans-serif' >photodetectors</text>
<text x="425" y="370" font-size="13" fill="#000" text-anchor="middle"><tspan font-family='"Liberation Serif", serif' font-style="italic">V</tspan><tspan font-size="7.5" dy="2.5">DS</tspan><tspan dy="-2.5"> = 1 V</tspan></text>
<text x="425" y="390" font-size="13" fill="#000" text-anchor="middle"><tspan font-family='"Liberation Serif", serif' font-style="italic">P</tspan><tspan font-size="7.5" dy="2.5">IN</tspan><tspan dy="-2.5"> = 10</tspan><tspan font-size="8" dy="-5">-10</tspan><tspan dy="5"> W·m</tspan><tspan font-size="8" dy="-5">-2</tspan></text>
<rect x="596.5" y="267.5" width="21.5" height="21.3" fill="#dcdcdc" />
<text x="607.25" y="282.83" font-size="13" fill="#000" text-anchor="middle" font-family='"Liberation Sans", sans-serif' >f</text>
<rect x="623.5" y="451.27" width="7.92" height="47.92" fill="#B27792" stroke="#5e4250" stroke-width="0.8"/>
<rect x="647.25" y="451.27" width="7.92" height="47.92" fill="#B27792" stroke="#5e4250" stroke-width="0.8"/>
<rect x="655.16" y="451.27" width="7.92" height="47.92" fill="#B27792" stroke="#5e4250" stroke-width="0.8"/>
<rect x="663.08" y="451.27" width="7.92" height="47.92" fill="#B27792" stroke="#5e4250" stroke-width="0.8"/>
<rect x="670.99" y="451.27" width="7.92" height="47.92" fill="#B27792" stroke="#5e4250" stroke-width="0.8"/>
<rect x="678.91" y="403.35" width="7.92" height="95.85" fill="#B27792" stroke="#5e4250" stroke-width="0.8"/>
<rect x="694.74" y="403.35" width="7.92" height="95.85" fill="#B27792" stroke="#5e4250" stroke-width="0.8"/>
<rect x="702.65" y="451.27" width="7.92" height="47.92" fill="#B27792" stroke="#5e4250" stroke-width="0.8"/>
<rect x="710.57" y="403.35" width="7.92" height="95.85" fill="#B27792" stroke="#5e4250" stroke-width="0.8"/>
<rect x="718.48" y="451.27" width="7.92" height="47.92" fill="#B27792" stroke="#5e4250" stroke-width="0.8"/>
<rect x="726.4" y="403.35" width="7.92" height="95.85" fill="#B27792" stroke="#5e4250" stroke-width="0.8"/>
<rect x="742.23" y="403.35" width="7.92" height="95.85" fill="#B27792" stroke="#5e4250" stroke-width="0.8"/>
<rect x="758.06" y="403.35" width="7.92" height="95.85" fill="#B27792" stroke="#5e4250" stroke-width="0.8"/>
<rect x="765.97" y="451.27" width="7.92" height="47.92" fill="#B27792" stroke="#5e4250" stroke-width="0.8"/>
<rect x="781.8" y="451.27" width="7.92" height="47.92" fill="#B27792" stroke="#5e4250" stroke-width="0.8"/>
<rect x="789.72" y="355.43" width="7.92" height="143.77" fill="#B27792" stroke="#5e4250" stroke-width="0.8"/>
<rect x="797.63" y="403.35" width="7.92" height="95.85" fill="#B27792" stroke="#5e4250" stroke-width="0.8"/>
<rect x="805.55" y="451.27" width="7.92" height="47.92" fill="#B27792" stroke="#5e4250" stroke-width="0.8"/>
<rect x="813.46" y="451.27" width="7.92" height="47.92" fill="#B27792" stroke="#5e4250" stroke-width="0.8"/>
<rect x="837.21" y="403.35" width="7.92" height="95.85" fill="#B27792" stroke="#5e4250" stroke-width="0.8"/>
<rect x="853.04" y="451.27" width="7.92" height="47.92" fill="#B27792" stroke="#5e4250" stroke-width="0.8"/>
<rect x="868.87" y="451.27" width="7.92" height="47.92" fill="#B27792" stroke="#5e4250" stroke-width="0.8"/>
<rect x="876.78" y="451.27" width="7.92" height="47.92" fill="#B27792" stroke="#5e4250" stroke-width="0.8"/>
<line x1="623.5" y1="499.2" x2="629.5" y2="499.2" stroke="#3c3c3c" stroke-width="1.1" />
<line x1="884.7" y1="499.2" x2="878.7" y2="499.2" stroke="#3c3c3c" stroke-width="1.1" />
<text x="618.5" y="503.4" font-size="11.5" fill="#2a2a2a" text-anchor="end" font-family='"Liberation Sans", sans-serif' >0</text>
<line x1="623.5" y1="451.27" x2="629.5" y2="451.27" stroke="#3c3c3c" stroke-width="1.1" />
<line x1="884.7" y1="451.27" x2="878.7" y2="451.27" stroke="#3c3c3c" stroke-width="1.1" />
<text x="618.5" y="455.47" font-size="11.5" fill="#2a2a2a" text-anchor="end" font-family='"Liberation Sans", sans-serif' >1</text>
<line x1="623.5" y1="403.35" x2="629.5" y2="403.35" stroke="#3c3c3c" stroke-width="1.1" />
<line x1="884.7" y1="403.35" x2="878.7" y2="403.35" stroke="#3c3c3c" stroke-width="1.1" />
<text x="618.5" y="407.55" font-size="11.5" fill="#2a2a2a" text-anchor="end" font-family='"Liberation Sans", sans-serif' >2</text>
<line x1="623.5" y1="355.43" x2="629.5" y2="355.43" stroke="#3c3c3c" stroke-width="1.1" />
<line x1="884.7" y1="355.43" x2="878.7" y2="355.43" stroke="#3c3c3c" stroke-width="1.1" />
<text x="618.5" y="359.62" font-size="11.5" fill="#2a2a2a" text-anchor="end" font-family='"Liberation Sans", sans-serif' >3</text>
<line x1="623.5" y1="307.5" x2="629.5" y2="307.5" stroke="#3c3c3c" stroke-width="1.1" />
<line x1="884.7" y1="307.5" x2="878.7" y2="307.5" stroke="#3c3c3c" stroke-width="1.1" />
<text x="618.5" y="311.7" font-size="11.5" fill="#2a2a2a" text-anchor="end" font-family='"Liberation Sans", sans-serif' >4</text>
<line x1="670.2" y1="307.5" x2="670.2" y2="313.5" stroke="#3c3c3c" stroke-width="1.1" />
<line x1="670.2" y1="499.2" x2="670.2" y2="493.2" stroke="#3c3c3c" stroke-width="1.1" />
<line x1="743.9" y1="307.5" x2="743.9" y2="313.5" stroke="#3c3c3c" stroke-width="1.1" />
<line x1="743.9" y1="499.2" x2="743.9" y2="493.2" stroke="#3c3c3c" stroke-width="1.1" />
<line x1="817.6" y1="307.5" x2="817.6" y2="313.5" stroke="#3c3c3c" stroke-width="1.1" />
<line x1="817.6" y1="499.2" x2="817.6" y2="493.2" stroke="#3c3c3c" stroke-width="1.1" />
<line x1="631.66" y1="307.5" x2="631.66" y2="310.8" stroke="#3c3c3c" stroke-width="0.99" />
<line x1="631.66" y1="499.2" x2="631.66" y2="495.9" stroke="#3c3c3c" stroke-width="0.99" />
<line x1="640.87" y1="307.5" x2="640.87" y2="310.8" stroke="#3c3c3c" stroke-width="0.99" />
<line x1="640.87" y1="499.2" x2="640.87" y2="495.9" stroke="#3c3c3c" stroke-width="0.99" />
<line x1="648.01" y1="307.5" x2="648.01" y2="310.8" stroke="#3c3c3c" stroke-width="0.99" />
<line x1="648.01" y1="499.2" x2="648.01" y2="495.9" stroke="#3c3c3c" stroke-width="0.99" />
<line x1="653.85" y1="307.5" x2="653.85" y2="310.8" stroke="#3c3c3c" stroke-width="0.99" />
<line x1="653.85" y1="499.2" x2="653.85" y2="495.9" stroke="#3c3c3c" stroke-width="0.99" />
<line x1="658.78" y1="307.5" x2="658.78" y2="310.8" stroke="#3c3c3c" stroke-width="0.99" />
<line x1="658.78" y1="499.2" x2="658.78" y2="495.9" stroke="#3c3c3c" stroke-width="0.99" />
<line x1="663.06" y1="307.5" x2="663.06" y2="310.8" stroke="#3c3c3c" stroke-width="0.99" />
<line x1="663.06" y1="499.2" x2="663.06" y2="495.9" stroke="#3c3c3c" stroke-width="0.99" />
<line x1="666.83" y1="307.5" x2="666.83" y2="310.8" stroke="#3c3c3c" stroke-width="0.99" />
<line x1="666.83" y1="499.2" x2="666.83" y2="495.9" stroke="#3c3c3c" stroke-width="0.99" />
<line x1="692.39" y1="307.5" x2="692.39" y2="310.8" stroke="#3c3c3c" stroke-width="0.99" />
<line x1="692.39" y1="499.2" x2="692.39" y2="495.9" stroke="#3c3c3c" stroke-width="0.99" />
<line x1="705.36" y1="307.5" x2="705.36" y2="310.8" stroke="#3c3c3c" stroke-width="0.99" />
<line x1="705.36" y1="499.2" x2="705.36" y2="495.9" stroke="#3c3c3c" stroke-width="0.99" />
<line x1="714.57" y1="307.5" x2="714.57" y2="310.8" stroke="#3c3c3c" stroke-width="0.99" />
<line x1="714.57" y1="499.2" x2="714.57" y2="495.9" stroke="#3c3c3c" stroke-width="0.99" />
<line x1="721.71" y1="307.5" x2="721.71" y2="310.8" stroke="#3c3c3c" stroke-width="0.99" />
<line x1="721.71" y1="499.2" x2="721.71" y2="495.9" stroke="#3c3c3c" stroke-width="0.99" />
<line x1="727.55" y1="307.5" x2="727.55" y2="310.8" stroke="#3c3c3c" stroke-width="0.99" />
<line x1="727.55" y1="499.2" x2="727.55" y2="495.9" stroke="#3c3c3c" stroke-width="0.99" />
<line x1="732.48" y1="307.5" x2="732.48" y2="310.8" stroke="#3c3c3c" stroke-width="0.99" />
<line x1="732.48" y1="499.2" x2="732.48" y2="495.9" stroke="#3c3c3c" stroke-width="0.99" />
<line x1="736.76" y1="307.5" x2="736.76" y2="310.8" stroke="#3c3c3c" stroke-width="0.99" />
<line x1="736.76" y1="499.2" x2="736.76" y2="495.9" stroke="#3c3c3c" stroke-width="0.99" />
<line x1="740.53" y1="307.5" x2="740.53" y2="310.8" stroke="#3c3c3c" stroke-width="0.99" />
<line x1="740.53" y1="499.2" x2="740.53" y2="495.9" stroke="#3c3c3c" stroke-width="0.99" />
<line x1="766.09" y1="307.5" x2="766.09" y2="310.8" stroke="#3c3c3c" stroke-width="0.99" />
<line x1="766.09" y1="499.2" x2="766.09" y2="495.9" stroke="#3c3c3c" stroke-width="0.99" />
<line x1="779.06" y1="307.5" x2="779.06" y2="310.8" stroke="#3c3c3c" stroke-width="0.99" />
<line x1="779.06" y1="499.2" x2="779.06" y2="495.9" stroke="#3c3c3c" stroke-width="0.99" />
<line x1="788.27" y1="307.5" x2="788.27" y2="310.8" stroke="#3c3c3c" stroke-width="0.99" />
<line x1="788.27" y1="499.2" x2="788.27" y2="495.9" stroke="#3c3c3c" stroke-width="0.99" />
<line x1="795.41" y1="307.5" x2="795.41" y2="310.8" stroke="#3c3c3c" stroke-width="0.99" />
<line x1="795.41" y1="499.2" x2="795.41" y2="495.9" stroke="#3c3c3c" stroke-width="0.99" />
<line x1="801.25" y1="307.5" x2="801.25" y2="310.8" stroke="#3c3c3c" stroke-width="0.99" />
<line x1="801.25" y1="499.2" x2="801.25" y2="495.9" stroke="#3c3c3c" stroke-width="0.99" />
<line x1="806.18" y1="307.5" x2="806.18" y2="310.8" stroke="#3c3c3c" stroke-width="0.99" />
<line x1="806.18" y1="499.2" x2="806.18" y2="495.9" stroke="#3c3c3c" stroke-width="0.99" />
<line x1="810.46" y1="307.5" x2="810.46" y2="310.8" stroke="#3c3c3c" stroke-width="0.99" />
<line x1="810.46" y1="499.2" x2="810.46" y2="495.9" stroke="#3c3c3c" stroke-width="0.99" />
<line x1="814.23" y1="307.5" x2="814.23" y2="310.8" stroke="#3c3c3c" stroke-width="0.99" />
<line x1="814.23" y1="499.2" x2="814.23" y2="495.9" stroke="#3c3c3c" stroke-width="0.99" />
<line x1="839.79" y1="307.5" x2="839.79" y2="310.8" stroke="#3c3c3c" stroke-width="0.99" />
<line x1="839.79" y1="499.2" x2="839.79" y2="495.9" stroke="#3c3c3c" stroke-width="0.99" />
<line x1="852.76" y1="307.5" x2="852.76" y2="310.8" stroke="#3c3c3c" stroke-width="0.99" />
<line x1="852.76" y1="499.2" x2="852.76" y2="495.9" stroke="#3c3c3c" stroke-width="0.99" />
<line x1="861.97" y1="307.5" x2="861.97" y2="310.8" stroke="#3c3c3c" stroke-width="0.99" />
<line x1="861.97" y1="499.2" x2="861.97" y2="495.9" stroke="#3c3c3c" stroke-width="0.99" />
<line x1="869.11" y1="307.5" x2="869.11" y2="310.8" stroke="#3c3c3c" stroke-width="0.99" />
<line x1="869.11" y1="499.2" x2="869.11" y2="495.9" stroke="#3c3c3c" stroke-width="0.99" />
<line x1="874.95" y1="307.5" x2="874.95" y2="310.8" stroke="#3c3c3c" stroke-width="0.99" />
<line x1="874.95" y1="499.2" x2="874.95" y2="495.9" stroke="#3c3c3c" stroke-width="0.99" />
<line x1="879.88" y1="307.5" x2="879.88" y2="310.8" stroke="#3c3c3c" stroke-width="0.99" />
<line x1="879.88" y1="499.2" x2="879.88" y2="495.9" stroke="#3c3c3c" stroke-width="0.99" />
<line x1="884.16" y1="307.5" x2="884.16" y2="310.8" stroke="#3c3c3c" stroke-width="0.99" />
<line x1="884.16" y1="499.2" x2="884.16" y2="495.9" stroke="#3c3c3c" stroke-width="0.99" />
<rect x="623.5" y="307.5" width="261.2" height="191.7" fill="none" stroke="#3c3c3c" stroke-width="1.1"/>
<text x="670.2" y="521.5" font-size="12.3" fill="#2a2a2a" text-anchor="middle">10<tspan font-size="9.5" dy="-6" dx="0.8">1</tspan></text>
<text x="743.9" y="521.5" font-size="12.3" fill="#2a2a2a" text-anchor="middle">10<tspan font-size="9.5" dy="-6" dx="0.8">2</tspan></text>
<text x="817.6" y="521.5" font-size="12.3" fill="#2a2a2a" text-anchor="middle">10<tspan font-size="9.5" dy="-6" dx="0.8">3</tspan></text>
<text x="884.2" y="521.5" font-size="12.3" fill="#2a2a2a" text-anchor="middle">10<tspan font-size="9.5" dy="-6" dx="0.8">4</tspan></text>
<text x="753.3" y="541.5" font-size="13.6" fill="#2a2a2a" text-anchor="middle" font-family='"Liberation Sans", sans-serif' >Responsivity (A/W)</text>
<text font-size="14" fill="#2a2a2a" text-anchor="middle" transform="translate(607 403.5) rotate(-90)">Count</text>
<rect x="907.5" y="267.5" width="21.5" height="21.3" fill="#dcdcdc" />
<text x="918.25" y="282.83" font-size="13" fill="#000" text-anchor="middle" font-family='"Liberation Sans", sans-serif' >g</text>
<rect x="975.15" y="460" width="6.41" height="38.2" fill="#C5D0A2" stroke="#6a7058" stroke-width="0.8"/>
<rect x="981.56" y="460" width="6.41" height="38.2" fill="#C5D0A2" stroke="#6a7058" stroke-width="0.8"/>
<rect x="987.97" y="460" width="6.41" height="38.2" fill="#C5D0A2" stroke="#6a7058" stroke-width="0.8"/>
<rect x="1007.19" y="460" width="6.41" height="38.2" fill="#C5D0A2" stroke="#6a7058" stroke-width="0.8"/>
<rect x="1013.6" y="460" width="6.41" height="38.2" fill="#C5D0A2" stroke="#6a7058" stroke-width="0.8"/>
<rect x="1026.41" y="460" width="6.41" height="38.2" fill="#C5D0A2" stroke="#6a7058" stroke-width="0.8"/>
<rect x="1045.63" y="345.4" width="6.41" height="152.8" fill="#C5D0A2" stroke="#6a7058" stroke-width="0.8"/>
<rect x="1052.04" y="460" width="6.41" height="38.2" fill="#C5D0A2" stroke="#6a7058" stroke-width="0.8"/>
<rect x="1058.45" y="460" width="6.41" height="38.2" fill="#C5D0A2" stroke="#6a7058" stroke-width="0.8"/>
<rect x="1077.67" y="460" width="6.41" height="38.2" fill="#C5D0A2" stroke="#6a7058" stroke-width="0.8"/>
<rect x="1084.08" y="460" width="6.41" height="38.2" fill="#C5D0A2" stroke="#6a7058" stroke-width="0.8"/>
<rect x="1090.49" y="460" width="6.41" height="38.2" fill="#C5D0A2" stroke="#6a7058" stroke-width="0.8"/>
<rect x="1096.89" y="383.6" width="6.41" height="114.6" fill="#C5D0A2" stroke="#6a7058" stroke-width="0.8"/>
<rect x="1103.3" y="421.8" width="6.41" height="76.4" fill="#C5D0A2" stroke="#6a7058" stroke-width="0.8"/>
<rect x="1109.71" y="421.8" width="6.41" height="76.4" fill="#C5D0A2" stroke="#6a7058" stroke-width="0.8"/>
<rect x="1128.93" y="383.6" width="6.41" height="114.6" fill="#C5D0A2" stroke="#6a7058" stroke-width="0.8"/>
<rect x="1135.34" y="460" width="6.41" height="38.2" fill="#C5D0A2" stroke="#6a7058" stroke-width="0.8"/>
<rect x="1141.75" y="460" width="6.41" height="38.2" fill="#C5D0A2" stroke="#6a7058" stroke-width="0.8"/>
<rect x="1148.15" y="383.6" width="6.41" height="114.6" fill="#C5D0A2" stroke="#6a7058" stroke-width="0.8"/>
<rect x="1167.38" y="460" width="6.41" height="38.2" fill="#C5D0A2" stroke="#6a7058" stroke-width="0.8"/>
<rect x="1173.78" y="460" width="6.41" height="38.2" fill="#C5D0A2" stroke="#6a7058" stroke-width="0.8"/>
<rect x="1180.19" y="460" width="6.41" height="38.2" fill="#C5D0A2" stroke="#6a7058" stroke-width="0.8"/>
<line x1="930.3" y1="498.2" x2="936.3" y2="498.2" stroke="#3c3c3c" stroke-width="1.1" />
<line x1="1186.6" y1="498.2" x2="1180.6" y2="498.2" stroke="#3c3c3c" stroke-width="1.1" />
<text x="925.3" y="502.4" font-size="11.5" fill="#2a2a2a" text-anchor="end" font-family='"Liberation Sans", sans-serif' >0</text>
<line x1="930.3" y1="460" x2="936.3" y2="460" stroke="#3c3c3c" stroke-width="1.1" />
<line x1="1186.6" y1="460" x2="1180.6" y2="460" stroke="#3c3c3c" stroke-width="1.1" />
<text x="925.3" y="464.2" font-size="11.5" fill="#2a2a2a" text-anchor="end" font-family='"Liberation Sans", sans-serif' >1</text>
<line x1="930.3" y1="421.8" x2="936.3" y2="421.8" stroke="#3c3c3c" stroke-width="1.1" />
<line x1="1186.6" y1="421.8" x2="1180.6" y2="421.8" stroke="#3c3c3c" stroke-width="1.1" />
<text x="925.3" y="426" font-size="11.5" fill="#2a2a2a" text-anchor="end" font-family='"Liberation Sans", sans-serif' >2</text>
<line x1="930.3" y1="383.6" x2="936.3" y2="383.6" stroke="#3c3c3c" stroke-width="1.1" />
<line x1="1186.6" y1="383.6" x2="1180.6" y2="383.6" stroke="#3c3c3c" stroke-width="1.1" />
<text x="925.3" y="387.8" font-size="11.5" fill="#2a2a2a" text-anchor="end" font-family='"Liberation Sans", sans-serif' >3</text>
<line x1="930.3" y1="345.4" x2="936.3" y2="345.4" stroke="#3c3c3c" stroke-width="1.1" />
<line x1="1186.6" y1="345.4" x2="1180.6" y2="345.4" stroke="#3c3c3c" stroke-width="1.1" />
<text x="925.3" y="349.6" font-size="11.5" fill="#2a2a2a" text-anchor="end" font-family='"Liberation Sans", sans-serif' >4</text>
<line x1="930.3" y1="307.2" x2="936.3" y2="307.2" stroke="#3c3c3c" stroke-width="1.1" />
<line x1="1186.6" y1="307.2" x2="1180.6" y2="307.2" stroke="#3c3c3c" stroke-width="1.1" />
<text x="925.3" y="311.4" font-size="11.5" fill="#2a2a2a" text-anchor="end" font-family='"Liberation Sans", sans-serif' >5</text>
<line x1="1058.25" y1="307.2" x2="1058.25" y2="313.2" stroke="#3c3c3c" stroke-width="1.1" />
<line x1="1058.25" y1="498.2" x2="1058.25" y2="492.2" stroke="#3c3c3c" stroke-width="1.1" />
<line x1="1186.2" y1="307.2" x2="1186.2" y2="313.2" stroke="#3c3c3c" stroke-width="1.1" />
<line x1="1186.2" y1="498.2" x2="1186.2" y2="492.2" stroke="#3c3c3c" stroke-width="1.1" />
<line x1="968.82" y1="307.2" x2="968.82" y2="310.5" stroke="#3c3c3c" stroke-width="0.99" />
<line x1="968.82" y1="498.2" x2="968.82" y2="494.9" stroke="#3c3c3c" stroke-width="0.99" />
<line x1="991.35" y1="307.2" x2="991.35" y2="310.5" stroke="#3c3c3c" stroke-width="0.99" />
<line x1="991.35" y1="498.2" x2="991.35" y2="494.9" stroke="#3c3c3c" stroke-width="0.99" />
<line x1="1007.33" y1="307.2" x2="1007.33" y2="310.5" stroke="#3c3c3c" stroke-width="0.99" />
<line x1="1007.33" y1="498.2" x2="1007.33" y2="494.9" stroke="#3c3c3c" stroke-width="0.99" />
<line x1="1019.73" y1="307.2" x2="1019.73" y2="310.5" stroke="#3c3c3c" stroke-width="0.99" />
<line x1="1019.73" y1="498.2" x2="1019.73" y2="494.9" stroke="#3c3c3c" stroke-width="0.99" />
<line x1="1029.86" y1="307.2" x2="1029.86" y2="310.5" stroke="#3c3c3c" stroke-width="0.99" />
<line x1="1029.86" y1="498.2" x2="1029.86" y2="494.9" stroke="#3c3c3c" stroke-width="0.99" />
<line x1="1038.43" y1="307.2" x2="1038.43" y2="310.5" stroke="#3c3c3c" stroke-width="0.99" />
<line x1="1038.43" y1="498.2" x2="1038.43" y2="494.9" stroke="#3c3c3c" stroke-width="0.99" />
<line x1="1045.85" y1="307.2" x2="1045.85" y2="310.5" stroke="#3c3c3c" stroke-width="0.99" />
<line x1="1045.85" y1="498.2" x2="1045.85" y2="494.9" stroke="#3c3c3c" stroke-width="0.99" />
<line x1="1052.4" y1="307.2" x2="1052.4" y2="310.5" stroke="#3c3c3c" stroke-width="0.99" />
<line x1="1052.4" y1="498.2" x2="1052.4" y2="494.9" stroke="#3c3c3c" stroke-width="0.99" />
<line x1="1096.77" y1="307.2" x2="1096.77" y2="310.5" stroke="#3c3c3c" stroke-width="0.99" />
<line x1="1096.77" y1="498.2" x2="1096.77" y2="494.9" stroke="#3c3c3c" stroke-width="0.99" />
<line x1="1119.3" y1="307.2" x2="1119.3" y2="310.5" stroke="#3c3c3c" stroke-width="0.99" />
<line x1="1119.3" y1="498.2" x2="1119.3" y2="494.9" stroke="#3c3c3c" stroke-width="0.99" />
<line x1="1135.28" y1="307.2" x2="1135.28" y2="310.5" stroke="#3c3c3c" stroke-width="0.99" />
<line x1="1135.28" y1="498.2" x2="1135.28" y2="494.9" stroke="#3c3c3c" stroke-width="0.99" />
<line x1="1147.68" y1="307.2" x2="1147.68" y2="310.5" stroke="#3c3c3c" stroke-width="0.99" />
<line x1="1147.68" y1="498.2" x2="1147.68" y2="494.9" stroke="#3c3c3c" stroke-width="0.99" />
<line x1="1157.81" y1="307.2" x2="1157.81" y2="310.5" stroke="#3c3c3c" stroke-width="0.99" />
<line x1="1157.81" y1="498.2" x2="1157.81" y2="494.9" stroke="#3c3c3c" stroke-width="0.99" />
<line x1="1166.38" y1="307.2" x2="1166.38" y2="310.5" stroke="#3c3c3c" stroke-width="0.99" />
<line x1="1166.38" y1="498.2" x2="1166.38" y2="494.9" stroke="#3c3c3c" stroke-width="0.99" />
<line x1="1173.8" y1="307.2" x2="1173.8" y2="310.5" stroke="#3c3c3c" stroke-width="0.99" />
<line x1="1173.8" y1="498.2" x2="1173.8" y2="494.9" stroke="#3c3c3c" stroke-width="0.99" />
<line x1="1180.35" y1="307.2" x2="1180.35" y2="310.5" stroke="#3c3c3c" stroke-width="0.99" />
<line x1="1180.35" y1="498.2" x2="1180.35" y2="494.9" stroke="#3c3c3c" stroke-width="0.99" />
<rect x="930.3" y="307.2" width="256.3" height="191" fill="none" stroke="#3c3c3c" stroke-width="1.1"/>
<text x="930.3" y="521.5" font-size="12.3" fill="#2a2a2a" text-anchor="middle">10<tspan font-size="9.5" dy="-6" dx="0.8">3</tspan></text>
<text x="1058.25" y="521.5" font-size="12.3" fill="#2a2a2a" text-anchor="middle">10<tspan font-size="9.5" dy="-6" dx="0.8">4</tspan></text>
<text x="1186.6" y="521.5" font-size="12.3" fill="#2a2a2a" text-anchor="middle">10<tspan font-size="9.5" dy="-6" dx="0.8">5</tspan></text>
<text x="1058.5" y="541.5" font-size="13.6" fill="#2a2a2a" text-anchor="middle" font-family='"Liberation Sans", sans-serif' >Detectivity (Jones)</text>
<text font-size="14" fill="#2a2a2a" text-anchor="middle" transform="translate(914 403) rotate(-90)">Count</text>
<rect x="31.8" y="587" width="21.2" height="20.7" fill="#dcdcdc" />
<text x="42.4" y="602.03" font-size="13" fill="#000" text-anchor="middle" font-family='"Liberation Sans", sans-serif' >h</text>
<clipPath id="cliph"><rect x="56.9" y="620.6" width="222.4" height="210.19999999999993"/></clipPath>
<path d="M56.9 807.71L59.12 827.31L61.35 820.52L63.57 821.38L65.8 800.32L68.02 812.89L70.24 807.33L72.47 799.18L74.69 805.96L76.92 825.33L79.14 816.9L81.36 819.72L83.59 801.72L85.81 795.59L88.04 798.86L90.26 790.1L92.48 784.15L94.71 779.07L96.93 771.48L99.16 765.78L101.38 759.76L103.6 753.78L105.83 748.11L108.05 742.27L110.28 737.5L112.5 732.6L114.72 727.13L116.95 722.25L119.17 717.11L121.4 712.94L123.62 708.22L125.84 704.47L128.07 699.86L132.52 693.85L136.96 687.62L141.41 682.6L145.86 678.38L150.31 674.48L154.76 670.56L159.2 667.13L163.65 664.77L168.1 661.33L172.55 658.97L177 656.75L181.44 654.73L185.89 652.68L190.34 650.81L194.79 648.09L199.24 647.04L203.68 644.9L208.13 643.57L212.58 641.78L217.03 640.48L221.48 638.51L225.92 636.98L230.37 635.95L234.82 634.89L239.27 633.27L243.72 632.36L248.16 631.3L252.61 630.29L257.06 629.36L261.51 628.08L265.96 627.17L270.4 626.23L274.85 625.05L279.3 624.55M56.9 806.93L59.12 808.23L61.35 823.12L63.57 825.62L65.8 827.41L68.02 830.4L70.24 822.69L72.47 818.61L74.69 804.01L76.92 811.18L79.14 802.97L81.36 829.32L83.59 815.24L85.81 804.49L88.04 825.64L90.26 810.67L92.48 804.67L94.71 815.07L96.93 801.91L99.16 803L101.38 796.35L103.6 790.29L105.83 782.1L108.05 773.6L110.28 767.55L112.5 759.74L114.72 753.52L116.95 746.76L119.17 741.21L121.4 735.05L123.62 728.92L125.84 723.39L128.07 717.29L130.29 712.53L132.52 707.77L134.74 702.57L136.96 698.21L141.41 690.99L145.86 684.94L150.31 680.33L154.76 676.66L159.2 672.44L163.65 669.16L168.1 665.59L172.55 662.52L177 659.98L181.44 658.14L185.89 654.96L190.34 653.05L194.79 650.94L199.24 648.65L203.68 647.24L208.13 644.89L212.58 643.09L217.03 641.43L221.48 639.88L225.92 638.51L230.37 637.08L234.82 635.42L239.27 634.43L243.72 633.01L248.16 632.35L252.61 631.05L257.06 629.76L261.51 628.62L265.96 628.11L270.4 626.53L274.85 626.05L279.3 624.74M56.9 830.12L59.12 817.74L61.35 799.82L63.57 819.51L65.8 823.43L68.02 816.36L70.24 809.42L72.47 801.53L74.69 806.91L76.92 812.85L79.14 832.17L81.36 827.29L83.59 828.77L85.81 828.08L88.04 829.45L90.26 802.82L92.48 807.53L94.71 801.25L96.93 799.69L99.16 800.72L101.38 790.83L103.6 785.25L105.83 777.38L108.05 770.48L110.28 763.24L112.5 756.18L114.72 749.47L116.95 743.03L119.17 737.49L121.4 731.18L123.62 725.24L125.84 719.64L128.07 714.28L130.29 709.19L132.52 704.28L134.74 699.87L139.19 691.84L143.64 686.17L148.08 681.07L152.53 677.31L156.98 673.15L161.43 669.35L165.88 666.25L170.32 663.08L174.77 660.63L179.22 657.65L183.67 655.79L188.12 653.47L192.56 651.43L197.01 649.08L201.46 647.28L205.91 644.83L210.36 643.71L214.8 641.68L219.25 640L223.7 638.87L228.15 637L232.6 635.95L237.04 634.63L241.49 633.21L245.94 632.4L250.39 631.59L254.84 629.95L259.28 628.81L263.73 627.66L268.18 627.39L272.63 626.14L277.08 624.91M56.9 811.48L59.12 834.9L61.35 818.12L63.57 827.78L65.8 821.44L68.02 816.07L70.24 811.83L72.47 831.09L74.69 831.53L76.92 802.15L79.14 808.55L81.36 824.17L83.59 806.72L85.81 823.83L88.04 810.37L90.26 812.76L92.48 811.93L94.71 802.12L96.93 800.41L99.16 792.2L101.38 784.4L103.6 778.21L105.83 770.77L108.05 763.7L110.28 757.34L112.5 751.14L114.72 745L116.95 738.98L119.17 733.39L121.4 728.05L123.62 722.3L125.84 716.72L128.07 711.5L130.29 706.87L132.52 702.55L134.74 698.08L139.19 691.08L143.64 685.74L148.08 680.89L152.53 676.66L156.98 672.85L161.43 669.26L165.88 665.81L170.32 663.34L174.77 660.14L179.22 657.65L183.67 655.69L188.12 653.43L192.56 650.83L197.01 649.11L201.46 647.43L205.91 645.13L210.36 643.2L214.8 641.93L219.25 640.62L223.7 638.77L228.15 637.3L232.6 636.31L237.04 634.81L241.49 633.41L245.94 632.65L250.39 631.23L254.84 629.69L259.28 629.25L263.73 628.16L268.18 627.17L272.63 625.9L277.08 625.09M56.9 802.08L59.12 809.47L61.35 806.29L63.57 801.91L65.8 808.04L68.02 817.56L70.24 831.82L72.47 827.53L74.69 810.05L76.92 815.72L79.14 823.87L81.36 818.28L83.59 828.21L85.81 803.04L88.04 821.53L90.26 815.98L92.48 834.14L94.71 826.95L96.93 818.23L99.16 826.82L101.38 819.62L103.6 825.51L105.83 822.4L108.05 812.29L110.28 808.56L112.5 802.68L114.72 795.33L116.95 787.3L119.17 778.29L121.4 770.3L123.62 762.15L125.84 754.05L128.07 746.47L130.29 739.35L132.52 732.13L134.74 725.29L136.96 718.06L139.19 711.23L141.41 705.28L143.64 699.57L148.08 690.91L152.53 684.93L156.98 680.17L161.43 676.1L165.88 672.18L170.32 668.95L174.77 665.52L179.22 663.16L183.67 659.88L188.12 656.71L192.56 654.53L197.01 651.54L201.46 649.87L205.91 647.21L210.36 645.48L214.8 643.91L219.25 641.56L223.7 640.2L228.15 638.47L232.6 637.27L237.04 635.65L241.49 634.58L245.94 633.18L250.39 631.91L254.84 631.21L259.28 629.68L263.73 628.68L268.18 627.24L272.63 626.53L277.08 625.93M56.9 828.67L59.12 812.42L61.35 809.6L63.57 823.91L65.8 809.76L68.02 811.83L70.24 798.46L72.47 824.63L74.69 804.98L76.92 811.17L79.14 825.74L81.36 826.1L83.59 828.35L85.81 831.37L88.04 801.04L90.26 829.02L92.48 803.24L94.71 810.62L96.93 801.69L99.16 818.89L101.38 822.67L103.6 801.66L105.83 810.95L108.05 801.5L110.28 796.63L112.5 787.79L114.72 779.67L116.95 771.43L119.17 763.97L121.4 755.92L123.62 749.25L125.84 741.35L128.07 735.06L130.29 728.36L132.52 721.89L134.74 715.9L136.96 709.1L139.19 703.87L141.41 698.2L145.86 690.9L150.31 685.45L154.76 679.68L159.2 675.94L163.65 672.28L168.1 668.8L172.55 665.27L177 662.57L181.44 659.94L185.89 657.11L190.34 654.96L194.79 652.28L199.24 649.74L203.68 647.79L208.13 646.15L212.58 643.72L217.03 642.26L221.48 640.73L225.92 638.81L230.37 637.25L234.82 636.09L239.27 634.53L243.72 633.54L248.16 632.09L252.61 631.12L257.06 630.03L261.51 628.95L265.96 628.63L270.4 626.86L274.85 625.89L279.3 625.08M56.9 823.36L59.12 803.92L61.35 830.48L63.57 816.97L65.8 800.05L68.02 803.69L70.24 805.45L72.47 804.36L74.69 812.69L76.92 822.22L79.14 809.49L81.36 800.59L83.59 808.7L85.81 799.48L88.04 817.44L90.26 813.79L92.48 807.99L94.71 797.22L96.93 819.02L99.16 815.21L101.38 798.09L103.6 819.41L105.83 811.16L108.05 798.65L110.28 799.39L112.5 796.21L114.72 787.59L116.95 779.76L119.17 771.57L121.4 763.68L123.62 755.5L125.84 747.77L128.07 741.28L130.29 734.56L132.52 728.02L134.74 720.79L136.96 714.18L139.19 708.87L141.41 703.15L143.64 698L148.08 690.05L152.53 684.4L156.98 680.26L161.43 675.91L165.88 671.99L170.32 668.55L174.77 665.19L179.22 662.32L183.67 659.66L188.12 656.95L192.56 654.11L197.01 651.67L201.46 649.99L205.91 648L210.36 645.66L214.8 643.91L219.25 641.95L223.7 640.41L228.15 638.87L232.6 637.21L237.04 635.9L241.49 634.42L245.94 633.61L250.39 631.73L254.84 630.31L259.28 630.26L263.73 629.25L268.18 627.41L272.63 626.88L277.08 625.84M56.9 815.73L59.12 805.27L61.35 801.77L63.57 804.73L65.8 805.02L68.02 828.57L70.24 832.59L72.47 800.17L74.69 830.43L76.92 833.95L79.14 799.71L81.36 810.43L83.59 831.18L85.81 815.51L88.04 813.4L90.26 823.06L92.48 823.18L94.71 821.69L96.93 801.61L99.16 804.14L101.38 800.1L103.6 821.93L105.83 806.98L108.05 811.53L110.28 796.17L112.5 796.59L114.72 787L116.95 778.81L119.17 771.82L121.4 763.59L123.62 756.03L125.84 748.01L128.07 740.95L130.29 734.18L132.52 726.83L134.74 719.65L136.96 713.01L139.19 707.27L141.41 701.53L145.86 692.08L150.31 685.6L154.76 681.16L159.2 677.04L163.65 672.7L168.1 669.49L172.55 666.03L177 662.91L181.44 660.39L185.89 657.21L190.34 655.31L194.79 652.07L199.24 649.79L203.68 647.78L208.13 645.98L212.58 643.99L217.03 642.17L221.48 640L225.92 638.82L230.37 637.53L234.82 635.7L239.27 634.67L243.72 633.5L248.16 632.19L252.61 631.17L257.06 629.92L261.51 628.97L265.96 628.39L270.4 626.73L274.85 626.27L279.3 624.93M56.9 800.79L59.12 830.56L61.35 825.41L63.57 814.66L65.8 823.57L68.02 815.04L70.24 826.46L72.47 828.89L74.69 814.92L76.92 806.62L79.14 801.67L81.36 826.41L83.59 831.45L85.81 826.75L88.04 803.02L90.26 800.7L92.48 829.35L94.71 826.12L96.93 827L99.16 820.07L101.38 803.71L103.6 819.46L105.83 819.86L108.05 824.18L110.28 809.17L112.5 825.32L114.72 817.63L116.95 808.73L119.17 822.95L121.4 820.82L123.62 804.75L125.84 805.33L128.07 799.94L130.29 793.06L132.52 786.57L134.74 781.41L136.96 773.27L139.19 766.5L141.41 759.53L143.64 753.08L145.86 745.27L148.08 739.18L150.31 732.33L152.53 724.77L154.76 717.78L156.98 711.65L159.2 705.02L161.43 699.65L165.88 690.94L170.32 685.17L174.77 681.16L179.22 676.96L183.67 673.81L188.12 670.26L192.56 667.37L197.01 664.27L201.46 661.61L205.91 658.62L210.36 655.63L214.8 653.3L219.25 651.08L223.7 649.02L228.15 646.9L232.6 645.3L237.04 643.47L241.49 641.66L245.94 639.9L250.39 639.17L254.84 637.33L259.28 635.9L263.73 634.49L268.18 633.22L272.63 632.25L277.08 631.3M56.9 821.97L59.12 795.26L61.35 798.15L63.57 826.33L65.8 821.88L68.02 813.77L70.24 803.07L72.47 823.99L74.69 811.95L76.92 816.73L79.14 812.12L81.36 805.7L83.59 820.76L85.81 810.71L88.04 828.15L90.26 823.82L92.48 803.22L94.71 812.09L96.93 804.3L99.16 816.73L101.38 803.65L103.6 797.51L105.83 795.43L108.05 803.87L110.28 824.46L112.5 810.68L114.72 823.89L116.95 824.53L119.17 824.15L121.4 827.45L123.62 814.78L125.84 811.6L128.07 813.23L130.29 801.18L132.52 797.96L134.74 796.82L136.96 789.56L139.19 780.82L141.41 776.21L143.64 769.42L145.86 763.87L148.08 757.05L150.31 751.24L152.53 744.47L154.76 738.27L156.98 731.42L159.2 724.96L161.43 718L163.65 711.2L165.88 705.28L168.1 699.86L172.55 690.93L177 685.91L181.44 681.91L185.89 677.66L190.34 674.48L194.79 671L199.24 668.32L203.68 664.64L208.13 661.83L212.58 659.65L217.03 657.17L221.48 654.71L225.92 651.91L230.37 650.35L234.82 648.32L239.27 646.37L243.72 644.68L248.16 643.15L252.61 641.33L257.06 639.92L261.51 638.47L265.96 636.86L270.4 635.72L274.85 634.82L279.3 633.32M56.9 840.07L59.12 807.84L61.35 825.51L63.57 826.59L65.8 823.98L68.02 829.58L70.24 814.43L72.47 831.29L74.69 827.76L76.92 806.77L79.14 823.58L81.36 838.24L83.59 831.9L85.81 831.83L88.04 833.93L90.26 822.72L92.48 831.35L94.71 828.37L96.93 825.19L99.16 813.97L101.38 827.55L103.6 832.59L105.83 832.28L108.05 817.79L110.28 814.79L112.5 823.51L114.72 826.97L116.95 833.09L119.17 826.28L121.4 808.18L123.62 832.47L125.84 814.98L128.07 805.75L130.29 808.15L132.52 824.49L134.74 817.69L136.96 804.74L139.19 805.09L141.41 798.7L143.64 791.97L145.86 786.02L148.08 779.75L150.31 773.72L152.53 768.1L154.76 762.34L156.98 756.5L159.2 751.04L161.43 745.46L163.65 739.85L165.88 733.67L168.1 727.1L170.32 721.08L172.55 714.42L174.77 708.25L177 703.21L179.22 698.1L183.67 690.45L188.12 685.24L192.56 682.03L197.01 678.46L201.46 675.17L205.91 672.09L210.36 668.35L214.8 666.18L219.25 663.02L223.7 660.9L228.15 658.08L232.6 655.82L237.04 653.46L241.49 651.36L245.94 649.72L250.39 647.56L254.84 645.83L259.28 644.4L263.73 642.56L268.18 641.6L272.63 639.63L277.08 638.18M56.9 818.2L59.12 818.04L61.35 814.08L63.57 813.49L65.8 805.8L68.02 824.34L70.24 800.51L72.47 824.73L74.69 828.12L76.92 811.92L79.14 800.14L81.36 796.54L83.59 827.12L85.81 804.41L88.04 802.99L90.26 795.87L92.48 811.65L94.71 828.04L96.93 827.86L99.16 801.77L101.38 829.86L103.6 823.48L105.83 812.97L108.05 798.02L110.28 804.8L112.5 809.14L114.72 830.32L116.95 824.11L119.17 823.2L121.4 810.27L123.62 815.18L125.84 812.45L128.07 805.23L130.29 802.7L132.52 820.6L134.74 819.28L136.96 810.33L139.19 803.51L141.41 799.2L143.64 790.67L145.86 786.94L148.08 779.56L150.31 775.28L152.53 769.62L154.76 764.88L156.98 759.5L159.2 754.48L161.43 749.3L163.65 744.08L165.88 737.89L168.1 732.19L170.32 725.67L172.55 719.3L174.77 712.98L177 707.34L179.22 702.12L183.67 693.43L188.12 687.66L192.56 683.6L197.01 680.11L201.46 676.73L205.91 673.88L210.36 670.91L214.8 668.11L219.25 665.25L223.7 662.28L228.15 659.92L232.6 657.24L237.04 655.58L241.49 652.97L245.94 650.72L250.39 649L254.84 647.35L259.28 645.62L263.73 643.66L268.18 642.25L272.63 641.12L277.08 639.95M56.9 822.96L59.12 811.39L61.35 826.47L63.57 829.66L65.8 799.43L68.02 807.22L70.24 810.05L72.47 820.99L74.69 827.38L76.92 828.35L79.14 805.62L81.36 805.08L83.59 807.63L85.81 822.39L88.04 818.78L90.26 800.89L92.48 805.76L94.71 819.2L96.93 813.9L99.16 818.73L101.38 819.24L103.6 800.76L105.83 831.65L108.05 824.82L110.28 811.7L112.5 800.69L114.72 811.09L116.95 825.49L119.17 802.63L121.4 804.91L123.62 817.01L125.84 821.3L128.07 804.24L130.29 814.23L132.52 812.2L134.74 807.11L136.96 801.21L139.19 797.15L141.41 792.01L143.64 784.28L145.86 779.42L148.08 772.18L150.31 765.61L152.53 759.34L154.76 752.58L156.98 746.81L159.2 740.49L161.43 733.7L163.65 727.09L165.88 720.52L168.1 714.05L170.32 707.49L172.55 702.19L177 692.82L181.44 687L185.89 682.12L190.34 679.03L194.79 675.7L199.24 671.91L203.68 668.92L208.13 666.42L212.58 662.92L217.03 660.48L221.48 658.32L225.92 655.18L230.37 653.01L234.82 651.16L239.27 648.39L243.72 646.74L248.16 645.21L252.61 643.64L257.06 642.1L261.51 640.51L265.96 639.22L270.4 637.69L274.85 635.58L279.3 634.96M56.9 805.78L59.12 816.66L61.35 801.13L63.57 805.09L65.8 818.08L68.02 807.98L70.24 812.96L72.47 825.71L74.69 817.03L76.92 801.62L79.14 815.09L81.36 810.04L83.59 822.88L85.81 802.17L88.04 810.83L90.26 830.19L92.48 826.58L94.71 828.75L96.93 805.21L99.16 803.28L101.38 813.17L103.6 813.08L105.83 817.69L108.05 823.82L110.28 816.43L112.5 812.37L114.72 806.63L116.95 801.52L119.17 798.98L121.4 804.37L123.62 801.13L125.84 809.94L128.07 818.33L130.29 803.08L132.52 807.38L134.74 793.13L136.96 794.63L139.19 785.19L141.41 781.53L143.64 774.16L145.86 768.09L148.08 761.03L150.31 754.8L152.53 748.32L154.76 741.89L156.98 735.44L159.2 728.23L161.43 721.51L163.65 715.43L165.88 708.73L168.1 702.72L170.32 697.68L174.77 690.2L179.22 684.94L183.67 680.87L188.12 677.19L192.56 673.5L197.01 670.22L201.46 667.56L205.91 664.61L210.36 662.18L214.8 659.36L219.25 656.69L223.7 654.02L228.15 652.32L232.6 650.2L237.04 648.24L241.49 645.75L245.94 644.24L250.39 642.74L254.84 640.82L259.28 639.87L263.73 638.12L268.18 636.96L272.63 635.59L277.08 633.8M56.9 807.94L59.12 802.51L61.35 819.56L63.57 815.49L65.8 807.03L68.02 812.39L70.24 830.27L72.47 812.11L74.69 816.1L76.92 814.64L79.14 800.29L81.36 805.38L83.59 799.2L85.81 818.45L88.04 808.33L90.26 826.67L92.48 820.51L94.71 809.96L96.93 810.84L99.16 810.93L101.38 810.11L103.6 812.28L105.83 825.61L108.05 807.83L110.28 823.8L112.5 798.29L114.72 812.27L116.95 828.25L119.17 802.76L121.4 817.73L123.62 815.24L125.84 806.82L128.07 801.16L130.29 793.51L132.52 785.87L134.74 778.57L136.96 771.98L139.19 764.36L141.41 757.91L143.64 750.92L145.86 744.3L148.08 737.32L150.31 730.6L152.53 723.8L154.76 716.45L156.98 710.14L159.2 703.72L161.43 697.85L165.88 690.37L170.32 684.99L174.77 680.4L179.22 676.51L183.67 673.37L188.12 669.52L192.56 667.28L197.01 664.37L201.46 661.07L205.91 658.48L210.36 655.74L214.8 653.78L219.25 651.18L223.7 649.01L228.15 646.78L232.6 645.05L237.04 643.48L241.49 641.3L245.94 639.83L250.39 638.97L254.84 637.28L259.28 636.08L263.73 634.56L268.18 633.16L272.63 631.68L277.08 630.72M56.9 826.17L59.12 804.34L61.35 829.49L63.57 830.56L65.8 817.46L68.02 828.18L70.24 824.89L72.47 832.93L74.69 821.18L76.92 826.8L79.14 800.83L81.36 835.17L83.59 820.38L85.81 825.76L88.04 807.8L90.26 812.52L92.48 832.67L94.71 814.68L96.93 805.94L99.16 813.92L101.38 811.23L103.6 822.53L105.83 818L108.05 826.64L110.28 804.03L112.5 832.07L114.72 829.91L116.95 820.22L119.17 818.48L121.4 807.6L123.62 816.99L125.84 811.13L128.07 803.89L130.29 795.21L132.52 789.5L134.74 782.89L136.96 775.38L139.19 768L141.41 761.31L143.64 754.05L145.86 747.74L148.08 741.19L150.31 733.92L152.53 727.07L154.76 719.93L156.98 713.12L159.2 706.16L161.43 700.77L165.88 691.59L170.32 685.58L174.77 681.56L179.22 677.64L183.67 673.94L188.12 670.99L192.56 667.62L197.01 664.95L201.46 661.64L205.91 659.1L210.36 656.46L214.8 653.84L219.25 651.46L223.7 649.41L228.15 647.26L232.6 645.64L237.04 643.55L241.49 642.11L245.94 640.5L250.39 638.37L254.84 637.53L259.28 636.14L263.73 634.68L268.18 633.47L272.63 632.73L277.08 631.48M56.9 814.35L59.12 822.64L61.35 810.95L63.57 816.26L65.8 806.72L68.02 830.55L70.24 825.3L72.47 828.34L74.69 810.61L76.92 831.58L79.14 819.6L81.36 809.14L83.59 824.76L85.81 818.69L88.04 806.08L90.26 830.79L92.48 821.91L94.71 816.44L96.93 823.81L99.16 808.02L101.38 824.01L103.6 813.02L105.83 821.49L108.05 813.62L110.28 807.53L112.5 824.44L114.72 820.95L116.95 817.74L119.17 811.41L121.4 799.79L123.62 794.24L125.84 788.97L128.07 780.35L130.29 772.31L132.52 763.77L134.74 755.65L136.96 747.32L139.19 739.98L141.41 732.17L143.64 725.06L145.86 716.89L148.08 710.34L150.31 703.74L152.53 698.26L156.98 689.28L161.43 683.8L165.88 679.58L170.32 675.67L174.77 672.04L179.22 668.35L183.67 665.33L188.12 662.39L192.56 659.74L197.01 656.93L201.46 653.85L205.91 651.7L210.36 649.3L214.8 647.33L219.25 645.13L223.7 643.45L228.15 641.65L232.6 639.9L237.04 638.5L241.49 637.08L245.94 635.09L250.39 634.15L254.84 632.82L259.28 632.19L263.73 630.74L268.18 629.59L272.63 628.42L277.08 627.18M56.9 803.08L59.12 805.41L61.35 820.68L63.57 826.81L65.8 833.82L68.02 832.33L70.24 831.66L72.47 808.2L74.69 827.18L76.92 821.61L79.14 803.89L81.36 810.49L83.59 819.66L85.81 807.5L88.04 814.72L90.26 823.49L92.48 831.28L94.71 830.36L96.93 799.46L99.16 806.87L101.38 824.26L103.6 799.51L105.83 805.61L108.05 806.4L110.28 804.97L112.5 804.78L114.72 800.34L116.95 825.18L119.17 810.06L121.4 809.36L123.62 805.82L125.84 802.7L128.07 795.23L130.29 794.11L132.52 785.18L134.74 780.17L136.96 772.52L139.19 765.47L141.41 757.88L143.64 750.88L145.86 744.34L148.08 737.28L150.31 730.77L152.53 723.38L154.76 716.27L156.98 709.68L159.2 703.14L161.43 697.83L165.88 690.11L170.32 684.45L174.77 680.13L179.22 676.3L183.67 672.87L188.12 669.44L192.56 666.6L197.01 664.01L201.46 660.53L205.91 658.01L210.36 655.65L214.8 652.69L219.25 650.82L223.7 648.24L228.15 646.81L232.6 644.83L237.04 642.62L241.49 641.39L245.94 639.43L250.39 638.61L254.84 636.89L259.28 635.9L263.73 634.64L268.18 633.34L272.63 631.93L277.08 630.75M56.9 803.12L59.12 795.66L61.35 817.18L63.57 796.95L65.8 827.94L68.02 796.58L70.24 826.76L72.47 799.24L74.69 798.25L76.92 810.31L79.14 819.57L81.36 824.96L83.59 828.78L85.81 798.77L88.04 817.88L90.26 814.43L92.48 819.58L94.71 812.26L96.93 817.97L99.16 830.1L101.38 824.08L103.6 808.27L105.83 808.32L108.05 826.6L110.28 816.61L112.5 803.72L114.72 803.55L116.95 803.72L119.17 810.28L121.4 804.25L123.62 807.33L125.84 805.15L128.07 818.12L130.29 809.72L132.52 816.93L134.74 803.33L136.96 803.54L139.19 795.82L141.41 792.88L143.64 784.78L145.86 781.26L148.08 774.16L150.31 769.04L152.53 763.15L154.76 757.65L156.98 751.75L159.2 746.14L161.43 740.88L163.65 734.26L165.88 728.04L168.1 721.09L170.32 714.53L172.55 708.88L174.77 703.3L177 698.1L181.44 690.64L185.89 685.42L190.34 681.41L194.79 678.1L199.24 675.03L203.68 671.61L208.13 669.33L212.58 665.61L217.03 663.37L221.48 660.74L225.92 657.92L230.37 655.73L234.82 653.5L239.27 651.37L243.72 649.67L248.16 647.47L252.61 645.98L257.06 644.14L261.51 642.36L265.96 640.98L270.4 639.74L274.85 638.35L279.3 636.96M56.9 795.2L59.12 824.63L61.35 797.83L63.57 801.45L65.8 817.12L68.02 818.18L70.24 814.8L72.47 810.09L74.69 809.84L76.92 814.99L79.14 810.26L81.36 825.96L83.59 823.49L85.81 799.99L88.04 808.71L90.26 800.94L92.48 819.45L94.71 821.69L96.93 808.83L99.16 804.43L101.38 820.79L103.6 822.94L105.83 798.14L108.05 811.07L110.28 812.59L112.5 796.32L114.72 822.04L116.95 810.9L119.17 809.35L121.4 820.59L123.62 819.72L125.84 821.67L128.07 820.71L130.29 801.46L132.52 806.47L134.74 808.46L136.96 821.39L139.19 810.42L141.41 801.24L143.64 800.02L145.86 797.04L148.08 794.23L150.31 787.93L152.53 782.61L154.76 777.18L156.98 772.07L159.2 766.41L161.43 760.97L163.65 756.59L165.88 751.27L168.1 746.15L170.32 740.61L172.55 735.11L174.77 728.5L177 722.94L179.22 716.06L181.44 710.56L183.67 705.3L185.89 700.49L190.34 691.67L194.79 687.08L199.24 683.11L203.68 679.77L208.13 676.72L212.58 673.48L217.03 670.22L221.48 667.68L225.92 664.85L230.37 662.1L234.82 659.92L239.27 657.25L243.72 654.88L248.16 653.28L252.61 651.28L257.06 649.07L261.51 647.73L265.96 645.92L270.4 644.41L274.85 642.87L279.3 641.31M56.9 820.26L59.12 808.52L61.35 824.84L63.57 826.53L65.8 799L68.02 823.26L70.24 816.15L72.47 815.3L74.69 814.35L76.92 831.51L79.14 825.15L81.36 827.29L83.59 822.3L85.81 824.36L88.04 808.43L90.26 829.17L92.48 808.49L94.71 828.56L96.93 808.3L99.16 822.1L101.38 811.04L103.6 798.94L105.83 828.55L108.05 825.68L110.28 814.14L112.5 816.22L114.72 817.18L116.95 807.02L119.17 802.2L121.4 799.4L123.62 800.91L125.84 791.05L128.07 785.98L130.29 777.08L132.52 770.11L134.74 762.69L136.96 755.38L139.19 748.56L141.41 741.88L143.64 734.12L145.86 727.01L148.08 719.83L150.31 712.31L152.53 706.06L154.76 700.3L159.2 691.29L163.65 685.31L168.1 680.78L172.55 677.02L177 672.94L181.44 669.57L185.89 666.8L190.34 663.89L194.79 661.49L199.24 657.95L203.68 655.68L208.13 652.53L212.58 650.64L217.03 648.65L221.48 646.63L225.92 644.68L230.37 643.06L234.82 641.16L239.27 639.59L243.72 638.12L248.16 637.2L252.61 635.25L257.06 634.12L261.51 633.04L265.96 631.64L270.4 630.89L274.85 629.5L279.3 628.58M56.9 815.77L59.12 817.22L61.35 820.64L63.57 796.93L65.8 807.07L68.02 829.97L70.24 801.45L72.47 819.54L74.69 829.75L76.92 815.5L79.14 817.68L81.36 821.69L83.59 825.06L85.81 798.64L88.04 820.47L90.26 806.81L92.48 796.67L94.71 820.18L96.93 813.91L99.16 797.53L101.38 797.77L103.6 809.06L105.83 811.41L108.05 818.25L110.28 818.72L112.5 798.48L114.72 815.3L116.95 801.19L119.17 821.19L121.4 811.57L123.62 828.9L125.84 827.83L128.07 820.15L130.29 807.75L132.52 806.91L134.74 802.56L136.96 798.4L139.19 802.35L141.41 790.92L143.64 790.91L145.86 784.77L148.08 778.66L150.31 772.83L152.53 766.73L154.76 760.85L156.98 755.51L159.2 749.56L161.43 743.79L163.65 737.64L165.88 731.37L168.1 725.14L170.32 718.67L172.55 712.26L174.77 706.54L177 701.01L181.44 692.5L185.89 686.84L190.34 682.45L194.79 679.5L199.24 675.91L203.68 672.98L208.13 669.35L212.58 666.89L217.03 664.27L221.48 660.59L225.92 658.51L230.37 656.26L234.82 654.27L239.27 651.95L243.72 650.05L248.16 648.01L252.61 646.65L257.06 644.51L261.51 642.51L265.96 641.24L270.4 640.13L274.85 638.97L279.3 637.19M56.9 809.11L59.12 829.37L61.35 801.8L63.57 802.45L65.8 802.97L68.02 829.49L70.24 797.43L72.47 817.59L74.69 816.5L76.92 804.63L79.14 811.37L81.36 828.65L83.59 802.04L85.81 811.27L88.04 819.97L90.26 820.29L92.48 816.92L94.71 809.66L96.93 820.16L99.16 800.43L101.38 819.64L103.6 821.77L105.83 823.81L108.05 821.86L110.28 815.52L112.5 827.6L114.72 818.2L116.95 827.38L119.17 803.04L121.4 824.63L123.62 802.55L125.84 812.2L128.07 800.07L130.29 811.23L132.52 802.63L134.74 798.47L136.96 793.78L139.19 784.75L141.41 780.48L143.64 774.03L145.86 767.77L148.08 762.52L150.31 755.72L152.53 750.31L154.76 744.26L156.98 738.38L159.2 732.1L161.43 725.76L163.65 718.78L165.88 712.11L168.1 706.59L170.32 700.72L174.77 692.3L179.22 686.4L183.67 682.21L188.12 678.74L192.56 675.47L197.01 672.31L201.46 668.46L205.91 665.73L210.36 662.9L214.8 660.58L219.25 658.02L223.7 655.79L228.15 653.24L232.6 651.45L237.04 649.02L241.49 647.23L245.94 645.16L250.39 643.76L254.84 642.54L259.28 640.61L263.73 639.33L268.18 637.72L272.63 636.68L277.08 635.45M56.9 827.73L59.12 835.91L61.35 813.51L63.57 807.3L65.8 823.86L68.02 819.99L70.24 825.7L72.47 832.77L74.69 819.56L76.92 834.09L79.14 805.77L81.36 813.99L83.59 815.93L85.81 824.24L88.04 831.63L90.26 835.13L92.48 831.12L94.71 834.98L96.93 806.57L99.16 805.36L101.38 803.61L103.6 814.82L105.83 825.45L108.05 823.43L110.28 832.76L112.5 834.44L114.72 803.43L116.95 833.49L119.17 814.68L121.4 806.74L123.62 801.83L125.84 803.89L128.07 807.15L130.29 803.08L132.52 795.6L134.74 788.52L136.96 781.19L139.19 774.27L141.41 767.64L143.64 760.28L145.86 754.26L148.08 747.49L150.31 740.89L152.53 733.19L154.76 726.67L156.98 719.88L159.2 713.19L161.43 706.52L163.65 700.84L168.1 691.63L172.55 685.85L177 681.11L181.44 678.01L185.89 674.42L190.34 670.9L194.79 667.9L199.24 664.63L203.68 662.07L208.13 659.12L212.58 657.12L217.03 654.37L221.48 652.16L225.92 650.01L230.37 647.7L234.82 645.77L239.27 643.57L243.72 642.55L248.16 640.66L252.61 639.17L257.06 637.53L261.51 636.49L265.96 635.37L270.4 633.73L274.85 632.66L279.3 631.37M56.9 825.05L59.12 829.16L61.35 822.22L63.57 832.63L65.8 811.33L68.02 822.9L70.24 833.8L72.47 804.67L74.69 837.38L76.92 829.81L79.14 833.52L81.36 835.38L83.59 829.6L85.81 811.14L88.04 804.99L90.26 803.52L92.48 813.2L94.71 830.95L96.93 813.92L99.16 805.78L101.38 814.41L103.6 823.09L105.83 826.53L108.05 809.02L110.28 825.63L112.5 806.14L114.72 818.02L116.95 831.78L119.17 812.18L121.4 823.84L123.62 812.43L125.84 809.62L128.07 801.11L130.29 790.34L132.52 785.41L134.74 777.87L136.96 771.7L139.19 764.92L141.41 758.64L143.64 752.16L145.86 745.66L148.08 738.44L150.31 731.81L152.53 724.74L154.76 717.98L156.98 711.38L159.2 704.87L161.43 698.97L165.88 690.78L170.32 685.48L174.77 681.5L179.22 677.59L183.67 674.01L188.12 670.45L192.56 667.15L197.01 664.7L201.46 661.63L205.91 658.92L210.36 656.01L214.8 653.89L219.25 651.55L223.7 649.46L228.15 647.35L232.6 645.41L237.04 643.49L241.49 641.77L245.94 640.58L250.39 638.63L254.84 637.4L259.28 636.29L263.73 634.65L268.18 633.47L272.63 632.73L277.08 631.47M56.9 808.18L59.12 822.79L61.35 809.36L63.57 824.24L65.8 832.42L68.02 806.67L70.24 808.6L72.47 804.46L74.69 813.14L76.92 831.41L79.14 826.68L81.36 813.01L83.59 801.12L85.81 834.39L88.04 810.37L90.26 822.51L92.48 812.19L94.71 819.54L96.93 805.85L99.16 817.18L101.38 810.02L103.6 802.03L105.83 817.31L108.05 803.07L110.28 813.06L112.5 805.12L114.72 807.35L116.95 826L119.17 817.63L121.4 831.77L123.62 826.12L125.84 804.75L128.07 801.65L130.29 817.85L132.52 809.11L134.74 801.83L136.96 793.04L139.19 786.71L141.41 781.83L143.64 775.47L145.86 768.93L148.08 763.13L150.31 757.53L152.53 751.54L154.76 746.02L156.98 739.6L159.2 733.53L161.43 726.57L163.65 720.09L165.88 713.56L168.1 707.66L170.32 702.34L174.77 693.25L179.22 687.01L183.67 682.53L188.12 679.15L192.56 675.36L197.01 673.03L201.46 669.43L205.91 666.08L210.36 663.89L214.8 661.12L219.25 658.62L223.7 655.75L228.15 653.29L232.6 651.39L237.04 649.62L241.49 647.9L245.94 645.85L250.39 643.84L254.84 642.72L259.28 640.93L263.73 639.29L268.18 638.18L272.63 636.77L277.08 635.59M56.9 801.92L59.12 812.74L61.35 796.37L63.57 820.53L65.8 798.01L68.02 796.71L70.24 803.02L72.47 816.64L74.69 830.88L76.92 829.98L79.14 815.75L81.36 811.74L83.59 828.38L85.81 809.18L88.04 802.72L90.26 814.55L92.48 807.03L94.71 799.26L96.93 807.03L99.16 814.22L101.38 797.71L103.6 808.69L105.83 804.79L108.05 829.58L110.28 813.52L112.5 806.35L114.72 814.48L116.95 809.11L119.17 796.6L121.4 802.94L123.62 799.17L125.84 798.41L128.07 811.95L130.29 808.67L132.52 799.75L134.74 791.18L136.96 787.39L139.19 779.84L141.41 774.09L143.64 767.63L145.86 760.81L148.08 755.37L150.31 749L152.53 742.61L154.76 736.35L156.98 728.95L159.2 722.32L161.43 715.28L163.65 709.81L165.88 703.71L168.1 698.29L172.55 690.52L177 685.14L181.44 680.97L185.89 677.68L190.34 674.23L194.79 670.76L199.24 667.75L203.68 665.13L208.13 662.21L212.58 659.13L217.03 656.62L221.48 654.6L225.92 652.08L230.37 649.7L234.82 647.88L239.27 646.18L243.72 643.96L248.16 643.29L252.61 641.16L257.06 639.8L261.51 638.18L265.96 636.7L270.4 635.35L274.85 634.72L279.3 633.39M56.9 816.01L59.12 822.67L61.35 821.75L63.57 815.22L65.8 809.68L68.02 805.1L70.24 827.63L72.47 822.73L74.69 830.35L76.92 804.26L79.14 811.98L81.36 805.08L83.59 821.73L85.81 809.79L88.04 825.07L90.26 801.6L92.48 802.73L94.71 818.27L96.93 813.49L99.16 817.62L101.38 819.56L103.6 826.72L105.83 815.07L108.05 820.72L110.28 820.43L112.5 811.93L114.72 812.64L116.95 801.84L119.17 822.24L121.4 812.71L123.62 813.32L125.84 815.05L128.07 805.79L130.29 793.95L132.52 792.45L134.74 784.07L136.96 779.21L139.19 772.32L141.41 765.08L143.64 759.01L145.86 753.11L148.08 746.8L150.31 740.08L152.53 733.42L154.76 726.29L156.98 719.17L159.2 713.06L161.43 706.54L163.65 700.96L168.1 692.73L172.55 686.4L177 681.79L181.44 678.34L185.89 674.43L190.34 671.12L194.79 667.98L199.24 664.99L203.68 662.63L208.13 659.6L212.58 656.82L217.03 654.59L221.48 652.18L225.92 650.25L230.37 647.96L234.82 646.4L239.27 644.35L243.72 642.87L248.16 640.57L252.61 640.02L257.06 638.09L261.51 636.84L265.96 635.37L270.4 634.11L274.85 633.18L279.3 632.3M56.9 800.68L59.12 819.35L61.35 815.77L63.57 800.26L65.8 816.81L68.02 807.35L70.24 814.44L72.47 810.54L74.69 827.29L76.92 813.02L79.14 802.27L81.36 829.07L83.59 808.02L85.81 828.38L88.04 809.46L90.26 799.81L92.48 823.95L94.71 825.76L96.93 831.04L99.16 805.88L101.38 804.24L103.6 816.73L105.83 831.6L108.05 816.54L110.28 801.53L112.5 819.2L114.72 802.19L116.95 816.83L119.17 799.55L121.4 815.6L123.62 826.4L125.84 811.41L128.07 818.22L130.29 816.65L132.52 801.23L134.74 807.57L136.96 800.1L139.19 788.97L141.41 785.21L143.64 778.73L145.86 772.69L148.08 767.43L150.31 762.6L152.53 756.7L154.76 750.91L156.98 746.03L159.2 740.3L161.43 733.77L163.65 727.49L165.88 721.35L168.1 715.29L170.32 708.86L172.55 703.38L174.77 698.09L179.22 690.83L183.67 685.73L188.12 681.52L192.56 678.68L197.01 674.88L201.46 671.95L205.91 668.63L210.36 665.66L214.8 662.95L219.25 660.87L223.7 658.11L228.15 656.11L232.6 654.2L237.04 651.19L241.49 649.4L245.94 647.77L250.39 645.78L254.84 643.82L259.28 642.71L263.73 641.1L268.18 639.89L272.63 638.35L277.08 637.3M56.9 832.71L59.12 825.91L61.35 827.15L63.57 799.31L65.8 830.51L68.02 819.57L70.24 806.76L72.47 831.64L74.69 800.65L76.92 823.77L79.14 810.4L81.36 825.47L83.59 814.1L85.81 799.57L88.04 831.25L90.26 798.04L92.48 808.43L94.71 827.1L96.93 814.48L99.16 830.94L101.38 803.52L103.6 816.46L105.83 826.15L108.05 823.75L110.28 801.5L112.5 798.82L114.72 828.95L116.95 824.19L119.17 818.81L121.4 817.79L123.62 817.27L125.84 825.51L128.07 811.91L130.29 809.35L132.52 794.76L134.74 793.44L136.96 786.2L139.19 779.91L141.41 774.17L143.64 767.58L145.86 761.88L148.08 756.39L150.31 750.38L152.53 744.99L154.76 739.02L156.98 732.21L159.2 725.57L161.43 719.19L163.65 712.18L165.88 706.2L168.1 701.3L172.55 692.07L177 686.63L181.44 682.71L185.89 678.85L190.34 675.73L194.79 671.89L199.24 668.77L203.68 665.98L208.13 663.15L212.58 660.77L217.03 658.42L221.48 655.65L225.92 653.28L230.37 651.06L234.82 649.72L239.27 647.76L243.72 645.51L248.16 644.11L252.61 642.16L257.06 640.85L261.51 638.94L265.96 637.72L270.4 636.63L274.85 635.13L279.3 633.7M56.9 823.06L59.12 798.72L61.35 805.02L63.57 819.91L65.8 796.71L68.02 801.65L70.24 816.91L72.47 812.72L74.69 808.77L76.92 827.56L79.14 814.37L81.36 796.41L83.59 809.01L85.81 796.5L88.04 802.79L90.26 806.18L92.48 812.61L94.71 797.63L96.93 809.08L99.16 816.94L101.38 804.76L103.6 828.27L105.83 824.12L108.05 802.52L110.28 795.4L112.5 804.28L114.72 828.49L116.95 825.29L119.17 795.26L121.4 819.32L123.62 796.31L125.84 807.46L128.07 802.85L130.29 800.42L132.52 789.38L134.74 782.9L136.96 777.56L139.19 771.25L141.41 765.97L143.64 759.37L145.86 753.38L148.08 747.88L150.31 741.73L152.53 735.39L154.76 728.28L156.98 721.8L159.2 715.29L161.43 708.85L163.65 702.9L165.88 697.87L170.32 689.9L174.77 684.87L179.22 681.03L183.67 677.34L188.12 673.86L192.56 670.72L197.01 668.1L201.46 664.89L205.91 661.85L210.36 659.19L214.8 656.71L219.25 654.53L223.7 652.08L228.15 649.53L232.6 647.82L237.04 646.34L241.49 644.19L245.94 642.77L250.39 641.42L254.84 639.53L259.28 638.36L263.73 636.86L268.18 635.79L272.63 634.32L277.08 633.26M56.9 822.73L59.12 823.91L61.35 818.93L63.57 804.19L65.8 826.82L68.02 825.14L70.24 806.45L72.47 816.83L74.69 801.75L76.92 809.51L79.14 804.18L81.36 821.75L83.59 799.32L85.81 809.16L88.04 804.99L90.26 811.3L92.48 808.35L94.71 800.08L96.93 811.59L99.16 820.29L101.38 811.79L103.6 822.64L105.83 800.64L108.05 822.33L110.28 805.66L112.5 802.33L114.72 828.6L116.95 815.57L119.17 818.88L121.4 807.49L123.62 804.19L125.84 800.04L128.07 802.99L130.29 791.49L132.52 789.56L134.74 782.84L136.96 774.69L139.19 768.35L141.41 761.89L143.64 755.12L145.86 748.85L148.08 742.49L150.31 735.28L152.53 728.89L154.76 721.42L156.98 715.16L159.2 708.49L161.43 702.63L163.65 697.06L168.1 689.71L172.55 684.16L177 680.26L181.44 676.39L185.89 673.4L190.34 670.1L194.79 666.59L199.24 663.55L203.68 660.94L208.13 658.31L212.58 656.07L217.03 653.3L221.48 651.11L225.92 649.44L230.37 647.29L234.82 645.04L239.27 643.37L243.72 641.9L248.16 640.41L252.61 638.79L257.06 637.24L261.51 636.09L265.96 634.57L270.4 633.3L274.85 632.77L279.3 631.13M56.9 824.52L59.12 821.44L61.35 829.17L63.57 827.36L65.8 808.62L68.02 800.42L70.24 803.75L72.47 812.51L74.69 807.39L76.92 805.8L79.14 823.95L81.36 827.47L83.59 817.68L85.81 822.48L88.04 821.44L90.26 828.79L92.48 806.07L94.71 807.26L96.93 826.95L99.16 814.75L101.38 825.74L103.6 809.29L105.83 809.4L108.05 819.17L110.28 797.63L112.5 814.87L114.72 807.03L116.95 826.98L119.17 818.41L121.4 815.66L123.62 813.53L125.84 809.22L128.07 800.61L130.29 798.79L132.52 791.72L134.74 785L136.96 777.97L139.19 770.6L141.41 764.81L143.64 758.17L145.86 751.34L148.08 745.18L150.31 738.92L152.53 732.14L154.76 725L156.98 718.08L159.2 711.46L161.43 705.44L163.65 699.82L168.1 691.1L172.55 685.79L177 682.08L181.44 678.26L185.89 674.74L190.34 671.13L194.79 667.65L199.24 665.22L203.68 661.79L208.13 659.28L212.58 656.57L217.03 654.09L221.48 651.72L225.92 649.99L230.37 648.12L234.82 646.16L239.27 644.09L243.72 642.19L248.16 640.75L252.61 639.24L257.06 637.87L261.51 636.8L265.96 635.04L270.4 634.15L274.85 632.71L279.3 632.08M56.9 809.41L59.12 810.3L61.35 825.76L63.57 829.57L65.8 799.81L68.02 801.79L70.24 812.23L72.47 801.75L74.69 799L76.92 824.43L79.14 810.9L81.36 803.45L83.59 804.68L85.81 811.24L88.04 820.7L90.26 828.96L92.48 822.69L94.71 817.49L96.93 820.7L99.16 822.03L101.38 808.34L103.6 811.13L105.83 805.65L108.05 816L110.28 803.43L112.5 822.95L114.72 807.31L116.95 803.89L119.17 818.16L121.4 814.99L123.62 798.94L125.84 801.53L128.07 795.22L130.29 784.44L132.52 779.13L134.74 770.98L136.96 762.89L139.19 754.78L141.41 747.4L143.64 740.35L145.86 732.5L148.08 725.51L150.31 718.32L152.53 711.28L154.76 704.58L156.98 698.73L161.43 690.35L165.88 684.31L170.32 680.29L174.77 676.39L179.22 672.33L183.67 669.74L188.12 666.25L192.56 663.42L197.01 660.26L201.46 657.41L205.91 654.73L210.36 652.81L214.8 650.1L219.25 647.71L223.7 645.87L228.15 643.86L232.6 642L237.04 640.53L241.49 638.76L245.94 637.47L250.39 635.94L254.84 634.76L259.28 633.62L263.73 632.14L268.18 631.33L272.63 630.19L277.08 628.84M56.9 820.26L59.12 821.47L61.35 816.61L63.57 806.96L65.8 812.16L68.02 808.9L70.24 807.8L72.47 814.77L74.69 824.33L76.92 813.6L79.14 816.92L81.36 804.57L83.59 824.79L85.81 821.31L88.04 809.35L90.26 806.51L92.48 834.07L94.71 827.25L96.93 802.98L99.16 826.96L101.38 809.38L103.6 827.28L105.83 805.79L108.05 819.41L110.28 822.49L112.5 808.11L114.72 816.55L116.95 835.64L119.17 829.76L121.4 818.93L123.62 812.2L125.84 833.52L128.07 819.21L130.29 819.14L132.52 822.98L134.74 810.98L136.96 816.1L139.19 803.82L141.41 805.62L143.64 799.28L145.86 792.91L148.08 784.59L150.31 780.27L152.53 774.99L154.76 770.24L156.98 765.19L159.2 760.02L161.43 755.21L163.65 750.07L165.88 745.06L168.1 739.41L170.32 733.72L172.55 727.59L174.77 721.34L177 715.42L179.22 709.49L181.44 704.48L183.67 699.12L188.12 691.58L192.56 686.83L197.01 682.38L201.46 679.61L205.91 676.76L210.36 672.92L214.8 670L219.25 667.12L223.7 664.15L228.15 662.01L232.6 659.62L237.04 657.19L241.49 654.63L245.94 652.94L250.39 651.05L254.84 648.78L259.28 647.67L263.73 645.73L268.18 644.14L272.63 642.38L277.08 640.95M56.9 814.08L59.12 817.66L61.35 821.69L63.57 804.98L65.8 824.55L68.02 810.55L70.24 805.01L72.47 813.91L74.69 820.05L76.92 830.78L79.14 800.39L81.36 828.6L83.59 821.13L85.81 828.82L88.04 815.95L90.26 817.75L92.48 809.24L94.71 824.51L96.93 805.93L99.16 805.72L101.38 803.88L103.6 805.52L105.83 816.22L108.05 813.39L110.28 821.5L112.5 818.06L114.72 798.98L116.95 802.74L119.17 813.87L121.4 810.88L123.62 819.21L125.84 810.87L128.07 808.59L130.29 795.77L132.52 794.07L134.74 788.68L136.96 780.7L139.19 774.53L141.41 768.6L143.64 762.07L145.86 756.13L148.08 750.02L150.31 743.52L152.53 736.96L154.76 730.6L156.98 723.43L159.2 716.9L161.43 710.29L163.65 703.97L165.88 698.82L170.32 690.52L174.77 685.52L179.22 681.44L183.67 677.52L188.12 674.37L192.56 670.77L197.01 667.84L201.46 665.06L205.91 662.02L210.36 659.68L214.8 656.96L219.25 654.51L223.7 652.42L228.15 649.62L232.6 648.1L237.04 646.07L241.49 644.32L245.94 642.5L250.39 641.3L254.84 639.75L259.28 637.99L263.73 637.11L268.18 635.61L272.63 634.1L277.08 632.89M56.9 795.75L59.12 810.68L61.35 808.92L63.57 817L65.8 821.65L68.02 815.5L70.24 795.36L72.47 803.89L74.69 821.37L76.92 818.06L79.14 812.67L81.36 816.83L83.59 816.96L85.81 805.98L88.04 829.54L90.26 814.5L92.48 820.98L94.71 809.02L96.93 797.9L99.16 799.64L101.38 808.26L103.6 809.94L105.83 802.61L108.05 819.35L110.28 795.38L112.5 818.7L114.72 796.76L116.95 801.82L119.17 802.07L121.4 829.54L123.62 817.31L125.84 828.18L128.07 813.81L130.29 799.16L132.52 812.21L134.74 813.54L136.96 809.13L139.19 798.44L141.41 791.71L143.64 789.35L145.86 783.62L148.08 775.92L150.31 770.79L152.53 765.85L154.76 760.67L156.98 754.64L159.2 749L161.43 742.69L163.65 736.74L165.88 730.93L168.1 724.19L170.32 718.14L172.55 711.76L174.77 705.92L177 700.84L181.44 692.1L185.89 687.13L190.34 682.52L194.79 679.09L199.24 675.75L203.68 672.29L208.13 669.7L212.58 666.83L217.03 663.77L221.48 660.98L225.92 658.73L230.37 655.99L234.82 654.16L239.27 651.74L243.72 650.03L248.16 648.3L252.61 646.31L257.06 644.11L261.51 642.9L265.96 641.78L270.4 640.39L274.85 638.84L279.3 637.24M56.9 824.79L59.12 821.94L61.35 806.77L63.57 815.87L65.8 823.57L68.02 823.95L70.24 817.65L72.47 833.34L74.69 808.81L76.92 807.17L79.14 816.92L81.36 834.92L83.59 815.13L85.81 822.98L88.04 803.87L90.26 817.91L92.48 803.08L94.71 804.38L96.93 832.44L99.16 805.56L101.38 814.51L103.6 804.48L105.83 812.99L108.05 804.67L110.28 810.83L112.5 802.07L114.72 831.48L116.95 808.25L119.17 825.96L121.4 811.85L123.62 808.61L125.84 814.1L128.07 806.11L130.29 797.87L132.52 791.97L134.74 785.4L136.96 778.05L139.19 770.69L141.41 763.8L143.64 757.21L145.86 749.82L148.08 743.62L150.31 736.7L152.53 729.38L154.76 722.23L156.98 715.78L159.2 709.43L161.43 703.07L163.65 697.51L168.1 689.8L172.55 684.59L177 680.15L181.44 676.72L185.89 673.23L190.34 669.63L194.79 666.86L199.24 663.96L203.68 661.43L208.13 658.15L212.58 656.06L217.03 653.28L221.48 651.14L225.92 649.48L230.37 646.92L234.82 645.33L239.27 643.07L243.72 641.35L248.16 640.27L252.61 638.61L257.06 637.28L261.51 635.5L265.96 634.12L270.4 633.65L274.85 632.19L279.3 630.93M56.9 813.71L59.12 816L61.35 810.88L63.57 820.57L65.8 815.61L68.02 809.29L70.24 802.79L72.47 820.56L74.69 813.96L76.92 796.45L79.14 805.35L81.36 809.58L83.59 801.57L85.81 825.83L88.04 820.92L90.26 818.72L92.48 810.85L94.71 818.38L96.93 804.67L99.16 810.19L101.38 807.55L103.6 797.42L105.83 806.02L108.05 813.03L110.28 809.96L112.5 808.1L114.72 796.03L116.95 801.99L119.17 801.06L121.4 796.24L123.62 809.09L125.84 805.3L128.07 810.68L130.29 802.23L132.52 795.9L134.74 802.25L136.96 804.22L139.19 799L141.41 805.21L143.64 798.95L145.86 792.26L148.08 783.61L150.31 779.84L152.53 775.58L154.76 769.96L156.98 765.48L159.2 760.1L161.43 755.45L163.65 750.69L165.88 745.18L168.1 739.45L170.32 734.16L172.55 727.73L174.77 721.77L177 715.25L179.22 709.93L181.44 704.05L183.67 699.39L188.12 691.82L192.56 686.83L197.01 682.48L201.46 679.33L205.91 676.81L210.36 673.29L214.8 670.43L219.25 667.24L223.7 664.68L228.15 662.39L232.6 659.9L237.04 657.03L241.49 655.09L245.94 653.03L250.39 650.48L254.84 649.08L259.28 647.25L263.73 645.94L268.18 644.15L272.63 642.16L277.08 640.98M56.9 820.81L59.12 812.89L61.35 797.83L63.57 794.79L65.8 822.47L68.02 792.42L70.24 803.82L72.47 811.03L74.69 795.64L76.92 820.33L79.14 804.8L81.36 796.45L83.59 823.17L85.81 791.7L88.04 816.79L90.26 792.73L92.48 821.26L94.71 809.75L96.93 798.03L99.16 808.73L101.38 796.55L103.6 812.33L105.83 810.94L108.05 813.09L110.28 792.48L112.5 794.1L114.72 795.62L116.95 795.24L119.17 809.13L121.4 805.3L123.62 796.93L125.84 789.29L128.07 781.54L130.29 773.88L132.52 765.87L134.74 758.76L136.96 750.92L139.19 744.2L141.41 737.07L143.64 728.73L145.86 721.97L148.08 714.45L150.31 707.18L152.53 702.11L156.98 691.66L161.43 686.04L165.88 681.3L170.32 676.89L174.77 673.31L179.22 670.27L183.67 667.18L188.12 664.02L192.56 660.77L197.01 658.5L201.46 656.03L205.91 652.92L210.36 650.62L214.8 648.56L219.25 646.39L223.7 644.26L228.15 642.25L232.6 641L237.04 639.39L241.49 637.51L245.94 636.55L250.39 634.99L254.84 633.72L259.28 632.43L263.73 631.61L268.18 630.74L272.63 629.19L277.08 628.44M56.9 813.06L59.12 809.51L61.35 820.91L63.57 814.1L65.8 798.8L68.02 829.89L70.24 827.89L72.47 818.5L74.69 801.44L76.92 810.74L79.14 824.01L81.36 823.96L83.59 809.61L85.81 822.87L88.04 804.96L90.26 822.31L92.48 812.74L94.71 797.58L96.93 828.58L99.16 801.51L101.38 825.13L103.6 799.58L105.83 815.55L108.05 818.6L110.28 815.6L112.5 798.87L114.72 815.77L116.95 809.55L119.17 810.85L121.4 806.52L123.62 825.22L125.84 816.41L128.07 821.84L130.29 813.33L132.52 819.98L134.74 809.9L136.96 805.57L139.19 801.96L141.41 795.27L143.64 787.33L145.86 783.04L148.08 776.39L150.31 771.04L152.53 765.53L154.76 759.89L156.98 754.52L159.2 749.05L161.43 742.91L163.65 737.05L165.88 730.96L168.1 724.25L170.32 718.02L172.55 712.14L174.77 705.97L177 700.78L181.44 692.4L185.89 687.4L190.34 682.93L194.79 679.22L199.24 675.93L203.68 672.85L208.13 669.76L212.58 666.61L217.03 663.89L221.48 661.64L225.92 658.74L230.37 656.76L234.82 654.04L239.27 651.98L243.72 650.12L248.16 648.29L252.61 646.37L257.06 644.76L261.51 643.27L265.96 641.88L270.4 639.9L274.85 638.73L279.3 637.37M56.9 820.49L59.12 821.83L61.35 813.04L63.57 827.22L65.8 796.76L68.02 815.36L70.24 819.91L72.47 829L74.69 820.81L76.92 817.7L79.14 811.19L81.36 818.65L83.59 796.66L85.81 805.95L88.04 829.44L90.26 800.42L92.48 805.9L94.71 810.09L96.93 824.74L99.16 799.69L101.38 823.51L103.6 807.98L105.83 823.2L108.05 796.19L110.28 806.28L112.5 815.26L114.72 808.43L116.95 816.89L119.17 813.11L121.4 809.29L123.62 795.63L125.84 795.98L128.07 787.11L130.29 779.05L132.52 771.17L134.74 763.8L136.96 756.68L139.19 749.49L141.41 742.98L143.64 735.26L145.86 727.61L148.08 720.75L150.31 713.78L152.53 706.66L154.76 700.97L159.2 691.63L163.65 685.37L168.1 681.12L172.55 677.23L177 673.51L181.44 669.81L185.89 667.04L190.34 664.01L194.79 660.93L199.24 658.12L203.68 655.5L208.13 653.11L212.58 650.68L217.03 648.2L221.48 646.44L225.92 644.57L230.37 642.65L234.82 641.19L239.27 639.75L243.72 637.65L248.16 636.76L252.61 635.01L257.06 634.14L261.51 632.65L265.96 631.24L270.4 630.46L274.85 629.56L279.3 628.54M56.9 799.21L59.12 806.67L61.35 815.24L63.57 827.4L65.8 814.91L68.02 821.26L70.24 812.87L72.47 810.16L74.69 802.22L76.92 809.5L79.14 825.8L81.36 808.94L83.59 818.13L85.81 804.61L88.04 802.1L90.26 825.4L92.48 826.31L94.71 817.78L96.93 823L99.16 830.7L101.38 807.35L103.6 825.96L105.83 822.97L108.05 804.8L110.28 798.65L112.5 811.94L114.72 820.32L116.95 813.36L119.17 812.11L121.4 805.09L123.62 801.8L125.84 794.31L128.07 787.13L130.29 779.43L132.52 771.06L134.74 763.64L136.96 756.08L139.19 748.44L141.41 741.02L143.64 734.56L145.86 726.46L148.08 719.02L150.31 711.87L152.53 705.32L154.76 699.99L159.2 690.73L163.65 685.3L168.1 680.36L172.55 676.44L177 672.94L181.44 669.24L185.89 666.38L190.34 663.63L194.79 660.55L199.24 658.01L203.68 655.37L208.13 652.32L212.58 650.37L217.03 648L221.48 646.34L225.92 644.32L230.37 641.95L234.82 640.65L239.27 639.32L243.72 637.57L248.16 636.33L252.61 634.91L257.06 633.41L261.51 632.64L265.96 630.98L270.4 630.55L274.85 629.32L279.3 628.21M56.9 813.01L59.12 812.77L61.35 811.03L63.57 800.09L65.8 805.92L68.02 813.74L70.24 811.5L72.47 816.49L74.69 816.17L76.92 818.18L79.14 818.12L81.36 814.72L83.59 796.36L85.81 829.63L88.04 821.13L90.26 801.45L92.48 809.8L94.71 815.46L96.93 829.78L99.16 827.83L101.38 816.88L103.6 809.25L105.83 801.1L108.05 796.79L110.28 809.35L112.5 798.13L114.72 801.9L116.95 827.48L119.17 799.01L121.4 796.09L123.62 806.45L125.84 816.45L128.07 807.83L130.29 804.35L132.52 795.21L134.74 791.98L136.96 784.98L139.19 778.02L141.41 770.88L143.64 763.82L145.86 756.91L148.08 750.46L150.31 743.61L152.53 736.91L154.76 729.2L156.98 722.72L159.2 715.92L161.43 709.46L163.65 703.48L165.88 697.81L170.32 689.87L174.77 685.12L179.22 680.03L183.67 676.54L188.12 673.29L192.56 669.89L197.01 667.09L201.46 663.48L205.91 661.57L210.36 658.52L214.8 655.89L219.25 653.45L223.7 651.08L228.15 649.21L232.6 647.33L237.04 645.39L241.49 643.52L245.94 641.93L250.39 639.92L254.84 638.49L259.28 637.26L263.73 636.27L268.18 634.79L272.63 633.26L277.08 632.23M56.9 805.14L59.12 836.92L61.35 827.1L63.57 816.28L65.8 838.13L68.02 828.15L70.24 824.51L72.47 837.44L74.69 836.36L76.92 806.1L79.14 809.73L81.36 818.8L83.59 836.42L85.81 820.93L88.04 816.43L90.26 831.41L92.48 821.45L94.71 822.47L96.93 813.14L99.16 832.21L101.38 824.64L103.6 836.78L105.83 839L108.05 816.56L110.28 819.09L112.5 828.97L114.72 814.38L116.95 806.92L119.17 809.24L121.4 815.51L123.62 806.93L125.84 833.49L128.07 828.5L130.29 825.33L132.52 806.92L134.74 810.46L136.96 803.15L139.19 794.6L141.41 789.18L143.64 783.44L145.86 776.82L148.08 770.86L150.31 765.45L152.53 760.09L154.76 754.31L156.98 748.73L159.2 742.93L161.43 736.78L163.65 730.88L165.88 724.4L168.1 717.53L170.32 711.68L172.55 705.66L174.77 700.31L179.22 691.99L183.67 686.98L188.12 682.34L192.56 678.9L197.01 675.6L201.46 673.02L205.91 669.43L210.36 667.01L214.8 663.31L219.25 661.12L223.7 658.63L228.15 656.36L232.6 654.18L237.04 651.89L241.49 649.64L245.94 647.82L250.39 646.36L254.84 644.58L259.28 643.35L263.73 640.93L268.18 639.48L272.63 638.39L277.08 637.18M56.9 809.08L59.12 813.13L61.35 803.53L63.57 801.18L65.8 826.7L68.02 802.5L70.24 829.28L72.47 798.64L74.69 814.87L76.92 820L79.14 828.21L81.36 821.01L83.59 817.17L85.81 798.61L88.04 811.37L90.26 811.32L92.48 805.47L94.71 804.51L96.93 801.18L99.16 826.32L101.38 811.97L103.6 808.05L105.83 828.72L108.05 832.42L110.28 821.69L112.5 814.96L114.72 816.87L116.95 817.26L119.17 807.02L121.4 804.06L123.62 807.73L125.84 804.66L128.07 821.23L130.29 801.69L132.52 809.18L134.74 798.23L136.96 808.52L139.19 804.27L141.41 808.92L143.64 800.28L145.86 795.43L148.08 788.78L150.31 782.76L152.53 777.4L154.76 772.2L156.98 767.38L159.2 762.06L161.43 756.77L163.65 751.45L165.88 746.3L168.1 741.04L170.32 735.04L172.55 728.6L174.77 722.5L177 716.16L179.22 710.57L181.44 705.22L183.67 700.24L188.12 692.11L192.56 686.61L197.01 682.77L201.46 679.49L205.91 676.65L210.36 673.58L214.8 669.91L219.25 667.66L223.7 664.9L228.15 661.64L232.6 659.62L237.04 657.22L241.49 654.69L245.94 652.88L250.39 650.81L254.84 649.08L259.28 647.07L263.73 645.43L268.18 644.31L272.63 642.52L277.08 641.41M56.9 809.38L59.12 803.89L61.35 796.29L63.57 814.4L65.8 795.74L68.02 815.7L70.24 812.36L72.47 798.23L74.69 799.25L76.92 797.84L79.14 822.56L81.36 819.74L83.59 805.9L85.81 799.68L88.04 794.66L90.26 825.48L92.48 804.77L94.71 803.2L96.93 806.58L99.16 801.17L101.38 809.51L103.6 803.86L105.83 805.82L108.05 824.91L110.28 821.36L112.5 818.98L114.72 828.42L116.95 826.65L119.17 807.49L121.4 815.09L123.62 795.64L125.84 797.76L128.07 798.08L130.29 791.72L132.52 784.58L134.74 777.72L136.96 770.03L139.19 764.11L141.41 758.09L143.64 751.63L145.86 745.34L148.08 738.39L150.31 731.7L152.53 725.21L154.76 718.43L156.98 711.12L159.2 705.62L161.43 699.16L165.88 691.2L170.32 685.84L174.77 681.7L179.22 677.61L183.67 674.3L188.12 670.82L192.56 667.97L197.01 664.62L201.46 662.03L205.91 659.12L210.36 656.7L214.8 653.92L219.25 651.84L223.7 649.71L228.15 647.8L232.6 645.63L237.04 644.45L241.49 642.34L245.94 640.31L250.39 639.05L254.84 638.18L259.28 636.2L263.73 635.08L268.18 633.7L272.63 632.61L277.08 631.35M56.9 819.31L59.12 802.4L61.35 823.83L63.57 808.75L65.8 828.85L68.02 813.34L70.24 823.01L72.47 824.3L74.69 802.96L76.92 808.22L79.14 825.44L81.36 824.35L83.59 802.59L85.81 804.53L88.04 805.18L90.26 804.44L92.48 806.07L94.71 805.6L96.93 828.73L99.16 813.25L101.38 829.27L103.6 806.82L105.83 820.74L108.05 823.39L110.28 825.62L112.5 825.27L114.72 815.34L116.95 815.99L119.17 816.26L121.4 823.37L123.62 816.82L125.84 800.58L128.07 801.47L130.29 797.44L132.52 791.61L134.74 785.2L136.96 777.74L139.19 771.05L141.41 763.99L143.64 757.53L145.86 751.16L148.08 744.63L150.31 737.89L152.53 730.98L154.76 724.01L156.98 717.35L159.2 710.05L161.43 703.9L163.65 698.95L168.1 690.79L172.55 685.14L177 680.98L181.44 677.16L185.89 673.84L190.34 670.62L194.79 667.38L199.24 664.44L203.68 661.96L208.13 658.96L212.58 656.34L217.03 653.51L221.48 651.31L225.92 649.59L230.37 647.28L234.82 645.93L239.27 643.75L243.72 641.98L248.16 640.21L252.61 638.82L257.06 638.08L261.51 636.32L265.96 634.69L270.4 633.6L274.85 632.58L279.3 631.21M56.9 819.78L59.12 817.37L61.35 825.55L63.57 828.39L65.8 826.43L68.02 823.92L70.24 813.85L72.47 800.95L74.69 801.14L76.92 828.33L79.14 804.89L81.36 826.03L83.59 815.09L85.81 823.83L88.04 809.41L90.26 826.26L92.48 807.82L94.71 815.39L96.93 803.67L99.16 830.94L101.38 807.95L103.6 799.46L105.83 828.58L108.05 824.71L110.28 812.3L112.5 817.89L114.72 817L116.95 817.03L119.17 803.22L121.4 813.46L123.62 797.31L125.84 791.26L128.07 789.09L130.29 780.87L132.52 774.52L134.74 766.73L136.96 759.99L139.19 753.15L141.41 746.34L143.64 738.94L145.86 731.55L148.08 724.3L150.31 717.2L152.53 710.37L154.76 704.08L156.98 698.22L161.43 690.17L165.88 684.34L170.32 680.01L174.77 676.83L179.22 673.18L183.67 669.05L188.12 666.86L192.56 663.48L197.01 660.39L201.46 657.91L205.91 655.29L210.36 652.57L214.8 650.42L219.25 648.26L223.7 645.96L228.15 644.14L232.6 642.71L237.04 641.23L241.49 639.27L245.94 637.92L250.39 636.83L254.84 634.96L259.28 634.22L263.73 632.97L268.18 631.96L272.63 630.63L277.08 629.05M56.9 811.89L59.12 808.87L61.35 802.09L63.57 828.8L65.8 812L68.02 806.85L70.24 824.22L72.47 802.37L74.69 814.46L76.92 802.43L79.14 808.61L81.36 822.29L83.59 815.82L85.81 825.01L88.04 807.02L90.26 832.73L92.48 826.22L94.71 827.62L96.93 802.96L99.16 819.9L101.38 832.06L103.6 805.32L105.83 820.2L108.05 800.54L110.28 814.89L112.5 806.33L114.72 800.28L116.95 809.66L119.17 800.64L121.4 798.66L123.62 789.08L125.84 782.41L128.07 773.42L130.29 764.56L132.52 755.71L134.74 747.26L136.96 739.57L139.19 731.79L141.41 723.41L143.64 716.04L145.86 708.95L148.08 701.97L152.53 691.6L156.98 685.55L161.43 680.62L165.88 676.42L170.32 672.98L174.77 669.21L179.22 665.94L183.67 663.16L188.12 660.1L192.56 657.14L197.01 654.38L201.46 651.62L205.91 649.32L210.36 647.35L214.8 644.92L219.25 643.2L223.7 640.99L228.15 639.45L232.6 637.98L237.04 636.72L241.49 635.41L245.94 634.25L250.39 632.78L254.84 631.08L259.28 630.21L263.73 629.78L268.18 628.15L272.63 627.41L277.08 626.05M56.9 829.5L59.12 816.92L61.35 830.91L63.57 818.89L65.8 806.16L68.02 814.41L70.24 801.84L72.47 822.97L74.69 798.85L76.92 803L79.14 815.93L81.36 803.96L83.59 809.2L85.81 800.99L88.04 817.63L90.26 811.95L92.48 798.87L94.71 825.65L96.93 825.64L99.16 830.84L101.38 833.65L103.6 800.85L105.83 828.84L108.05 828.61L110.28 830.59L112.5 812.14L114.72 825.63L116.95 812.85L119.17 802.99L121.4 810.95L123.62 817.15L125.84 798.55L128.07 802.51L130.29 806.51L132.52 802.74L134.74 791.44L136.96 788.79L139.19 782.88L141.41 776.12L143.64 769.26L145.86 763.28L148.08 757.24L150.31 750.42L152.53 744.21L154.76 738.12L156.98 730.89L159.2 724.31L161.43 717.68L163.65 711.11L165.88 705.09L168.1 699.77L172.55 691.17L177 685.89L181.44 681.55L185.89 677.83L190.34 674.43L194.79 671.1L199.24 668.39L203.68 665.21L208.13 663.12L212.58 660L217.03 657.67L221.48 654.54L225.92 652.19L230.37 650.7L234.82 648.45L239.27 646.81L243.72 644.58L248.16 643.33L252.61 641.58L257.06 639.88L261.51 638.73L265.96 636.68L270.4 635.63L274.85 634.81L279.3 633.19M56.9 813.34L59.12 813.38L61.35 819.47L63.57 799.81L65.8 818.12L68.02 830.83L70.24 806.87L72.47 809.12L74.69 804.85L76.92 802.62L79.14 799.15L81.36 820.37L83.59 802.29L85.81 813.52L88.04 818.32L90.26 828.07L92.48 824.26L94.71 815.96L96.93 823.71L99.16 800.62L101.38 801.28L103.6 808.43L105.83 811.09L108.05 802.67L110.28 805.09L112.5 816.18L114.72 800L116.95 799.58L119.17 827.63L121.4 830.95L123.62 816.07L125.84 826.22L128.07 804.07L130.29 802.79L132.52 821.64L134.74 805.12L136.96 799.94L139.19 802.05L141.41 807.74L143.64 795.2L145.86 794.36L148.08 790.03L150.31 783.95L152.53 778.11L154.76 773.23L156.98 768.43L159.2 763.23L161.43 758.06L163.65 753.13L165.88 747.92L168.1 742.64L170.32 736.56L172.55 731.03L174.77 724.51L177 719.26L179.22 712.58L181.44 707.5L183.67 701.65L188.12 693.42L192.56 687.8L197.01 683.66L201.46 680.68L205.91 677.4L210.36 674.06L214.8 671.19L219.25 668.06L223.7 665.2L228.15 662.83L232.6 660.45L237.04 657.79L241.49 656.06L245.94 653.33L250.39 651.46L254.84 649.78L259.28 647.69L263.73 645.89L268.18 644.48L272.63 643.01L277.08 641.55M56.9 794.88L59.12 807.54L61.35 801.44L63.57 810.31L65.8 820.65L68.02 816.17L70.24 797.32L72.47 793.28L74.69 797.34L76.92 815.54L79.14 804.49L81.36 813.2L83.59 808.46L85.81 796.84L88.04 825.06L90.26 825.94L92.48 797.87L94.71 815.73L96.93 821.28L99.16 810.63L101.38 824.55L103.6 811L105.83 802.61L108.05 791.9L110.28 820.24L112.5 822.21L114.72 822.96L116.95 806.5L119.17 819.6L121.4 798.93L123.62 819.12L125.84 824.82L128.07 809.67L130.29 808.87L132.52 806.21L134.74 807.21L136.96 803.07L139.19 797.94L141.41 791.24L143.64 783.19L145.86 777.33L148.08 773.24L150.31 767.42L152.53 761.42L154.76 756.53L156.98 750.68L159.2 744.58L161.43 738.82L163.65 732.55L165.88 726.12L168.1 719.74L170.32 713.35L172.55 707.63L174.77 702.09L179.22 692.69L183.67 686.82L188.12 682.98L192.56 679.37L197.01 676.18L201.46 672.85L205.91 669.54L210.36 666.61L214.8 664.27L219.25 661.39L223.7 659L228.15 656.36L232.6 653.9L237.04 652.11L241.49 649.9L245.94 648.24L250.39 645.91L254.84 644.84L259.28 642.98L263.73 641.28L268.18 640.26L272.63 638.51L277.08 636.51M56.9 819.8L59.12 820.38L61.35 798.67L63.57 806.48L65.8 800L68.02 803.62L70.24 814.13L72.47 823.65L74.69 831.81L76.92 820.4L79.14 808.35L81.36 830.44L83.59 831.92L85.81 801.03L88.04 810.24L90.26 802.9L92.48 798.35L94.71 828.07L96.93 801.14L99.16 826.32L101.38 828.31L103.6 801.41L105.83 819.54L108.05 798.68L110.28 805.73L112.5 805.87L114.72 800.7L116.95 825.51L119.17 820.22L121.4 802.04L123.62 812.39L125.84 821.08L128.07 813.82L130.29 806.82L132.52 798.97L134.74 792.32L136.96 787.19L139.19 780.26L141.41 773L143.64 766.91L145.86 760.47L148.08 754.28L150.31 747.96L152.53 741.37L154.76 734.42L156.98 728.06L159.2 721.04L161.43 714.64L163.65 708.22L165.88 702.42L168.1 697.31L172.55 689.58L177 685.1L181.44 680.53L185.89 676.92L190.34 673.8L194.79 670.71L199.24 667.27L203.68 664.34L208.13 661.46L212.58 659.32L217.03 656.12L221.48 654.16L225.92 651.71L230.37 649.56L234.82 647.96L239.27 645.77L243.72 643.99L248.16 642.5L252.61 640.57L257.06 639L261.51 637.92L265.96 636.27L270.4 635.07L274.85 633.86L279.3 633.22M56.9 823.18L59.12 816.27L61.35 831.28L63.57 818.58L65.8 802.04L68.02 815.67L70.24 820.96L72.47 819.22L74.69 816.99L76.92 823.05L79.14 826.93L81.36 835.73L83.59 822L85.81 801.71L88.04 834.24L90.26 824.44L92.48 806.36L94.71 826.68L96.93 818.81L99.16 833.2L101.38 816.94L103.6 814.25L105.83 821.51L108.05 805.96L110.28 805.4L112.5 813.99L114.72 807.64L116.95 827.68L119.17 802.9L121.4 823.43L123.62 824.18L125.84 807.59L128.07 805.81L130.29 802.29L132.52 795.66L134.74 788.42L136.96 781.24L139.19 774.54L141.41 767.08L143.64 760.66L145.86 754.1L148.08 748.2L150.31 741.14L152.53 734.57L154.76 727.49L156.98 720.93L159.2 713.38L161.43 707.53L163.65 701.78L168.1 692.49L172.55 686.59L177 681.66L181.44 678.63L185.89 674.82L190.34 671.47L194.79 668.41L199.24 665.41L203.68 662.44L208.13 659.59L212.58 657.22L217.03 654.29L221.48 652.44L225.92 650.3L230.37 648.31L234.82 646L239.27 644.22L243.72 643L248.16 640.93L252.61 639.79L257.06 637.98L261.51 636.47L265.96 635.49L270.4 633.99L274.85 632.65L279.3 632.24M56.9 825.12L59.12 824.07L61.35 798.33L63.57 815.43L65.8 830.79L68.02 814.78L70.24 821.78L72.47 812.09L74.69 818.6L76.92 805.52L79.14 818.83L81.36 813.36L83.59 817.95L85.81 798.97L88.04 821.61L90.26 817.4L92.48 800.02L94.71 820.03L96.93 830.35L99.16 821.81L101.38 799.45L103.6 810.95L105.83 821.06L108.05 832.8L110.28 808.66L112.5 829.62L114.72 813.44L116.95 800.97L119.17 798.44L121.4 798.68L123.62 798.74L125.84 810.11L128.07 822L130.29 821.03L132.52 817.36L134.74 804.28L136.96 807.27L139.19 797.56L141.41 789.76L143.64 785.83L145.86 781.94L148.08 775.68L150.31 769.77L152.53 763.41L154.76 757.99L156.98 752.35L159.2 746.59L161.43 741.46L163.65 734.32L165.88 727.61L168.1 721.59L170.32 715.22L172.55 708.82L174.77 703.28L177 698.37L181.44 691L185.89 685.45L190.34 681.4L194.79 678.32L199.24 675.01L203.68 671.57L208.13 668.43L212.58 666.04L217.03 662.93L221.48 660.95L225.92 657.89L230.37 655.91L234.82 653.59L239.27 651.12L243.72 649.48L248.16 647.39L252.61 645.67L257.06 644.45L261.51 641.87L265.96 640.73L270.4 639.63L274.85 638.18L279.3 637M56.9 802.09L59.12 813.37L61.35 827.19L63.57 830.49L65.8 830.15L68.02 815.28L70.24 818.85L72.47 798.55L74.69 803.2L76.92 818.93L79.14 806.67L81.36 829.27L83.59 822.96L85.81 801.31L88.04 820.32L90.26 830.73L92.48 823.3L94.71 819.76L96.93 805.74L99.16 815.72L101.38 818.01L103.6 798.99L105.83 823.11L108.05 796.06L110.28 798L112.5 828.85L114.72 819.28L116.95 826.51L119.17 821.6L121.4 805.94L123.62 815.88L125.84 796.88L128.07 802.43L130.29 794.99L132.52 788.61L134.74 783.33L136.96 775.94L139.19 769.63L141.41 762.49L143.64 756.3L145.86 749.14L148.08 742.78L150.31 735.78L152.53 729.22L154.76 721.97L156.98 715.28L159.2 708.46L161.43 702.76L163.65 697.74L168.1 689.75L172.55 684.5L177 680.33L181.44 676.85L185.89 672.73L190.34 669.61L194.79 667.18L199.24 663.84L203.68 661.11L208.13 658.55L212.58 655.99L217.03 653.78L221.48 651.36L225.92 649.3L230.37 646.96L234.82 645.3L239.27 643.49L243.72 641.83L248.16 640.3L252.61 638.7L257.06 637.48L261.51 636.25L265.96 634.32L270.4 633.42L274.85 632.63L279.3 631.26M56.9 807.9L59.12 819.93L61.35 803.98L63.57 816.04L65.8 821.57L68.02 830.8L70.24 800.92L72.47 813.98L74.69 829.62L76.92 816.58L79.14 829.93L81.36 834.46L83.59 804.23L85.81 814.65L88.04 822.47L90.26 801.71L92.48 821.29L94.71 804.38L96.93 824.04L99.16 805.41L101.38 830.22L103.6 825.07L105.83 812.14L108.05 804.53L110.28 816.53L112.5 830.36L114.72 803.26L116.95 824.28L119.17 803.68L121.4 801.49L123.62 805L125.84 798.36L128.07 791.95L130.29 782.6L132.52 776.56L134.74 768.95L136.96 761.8L139.19 754.68L141.41 747.7L143.64 740.44L145.86 733.25L148.08 726.67L150.31 718.99L152.53 712.16L154.76 705.71L156.98 699.97L161.43 690.97L165.88 685.01L170.32 680.74L174.77 676.68L179.22 673.8L183.67 669.81L188.12 666.77L192.56 663.62L197.01 661.08L201.46 658.24L205.91 655.45L210.36 653.33L214.8 651.07L219.25 648.78L223.7 647.07L228.15 644.52L232.6 642.51L237.04 641.38L241.49 639.5L245.94 637.94L250.39 636.53L254.84 635.16L259.28 633.93L263.73 632.75L268.18 631.54L272.63 631.01L277.08 629.56M56.9 798.72L59.12 826.59L61.35 827.12L63.57 812.81L65.8 800.28L68.02 811.5L70.24 808.21L72.47 797.43L74.69 800.07L76.92 803.18L79.14 803.35L81.36 801.11L83.59 812.14L85.81 808.3L88.04 822.73L90.26 803.09L92.48 803.91L94.71 820.08L96.93 812.69L99.16 806.97L101.38 799.86L103.6 809.86L105.83 820.13L108.05 808.7L110.28 822.68L112.5 797.54L114.72 807.1L116.95 804.96L119.17 802.61L121.4 812.53L123.62 821.71L125.84 824.52L128.07 830.31L130.29 810.05L132.52 805.3L134.74 819.56L136.96 804.58L139.19 797.69L141.41 809.4L143.64 801.23L145.86 797.96L148.08 793.85L150.31 787.33L152.53 781.3L154.76 777.41L156.98 772.3L159.2 767.41L161.43 761.86L163.65 756.19L165.88 750.95L168.1 746.23L170.32 741.14L172.55 734.84L174.77 728.74L177 723.06L179.22 716.52L181.44 710.27L183.67 704.79L185.89 700.31L190.34 692.3L194.79 686.72L199.24 682.8L203.68 679.44L208.13 676.6L212.58 673.51L217.03 670.13L221.48 667.49L225.92 664.68L230.37 662.08L234.82 659.66L239.27 657.06L243.72 655.28L248.16 653.17L252.61 650.69L257.06 649.13L261.51 647.41L265.96 646.21L270.4 644.05L274.85 642.56L279.3 640.64M56.9 802.41L59.12 801.83L61.35 799.48L63.57 810.83L65.8 817.94L68.02 829.46L70.24 823.64L72.47 815.73L74.69 799.12L76.92 827.84L79.14 807.33L81.36 829.42L83.59 821.47L85.81 806.88L88.04 809.52L90.26 807.46L92.48 801.88L94.71 825.03L96.93 821.42L99.16 809.36L101.38 810.95L103.6 803.91L105.83 806.37L108.05 831.32L110.28 825.05L112.5 826.8L114.72 830.92L116.95 829.81L119.17 815.32L121.4 805.46L123.62 796.82L125.84 808.67L128.07 795.8L130.29 796.21L132.52 789.74L134.74 781.61L136.96 775.37L139.19 767.85L141.41 760.41L143.64 753.99L145.86 747.45L148.08 740.78L150.31 733.83L152.53 726.37L154.76 719.25L156.98 713.11L159.2 706.33L161.43 700.76L165.88 691.37L170.32 685.89L174.77 681.9L179.22 677.8L183.67 673.45L188.12 670.86L192.56 667.49L197.01 664.74L201.46 661.59L205.91 658.58L210.36 656.1L214.8 653.96L219.25 651.89L223.7 649.15L228.15 647.18L232.6 645.16L237.04 643.88L241.49 642.16L245.94 640.33L250.39 638.88L254.84 637.22L259.28 636.13L263.73 634.4L268.18 633.02L272.63 631.82L277.08 631.78M56.9 825.07L59.12 799.91L61.35 820.03L63.57 809.68L65.8 797.42L68.02 820.39L70.24 794.34L72.47 799.57L74.69 812.13L76.92 802.08L79.14 810.4L81.36 823.76L83.59 791.06L85.81 809.77L88.04 801.82L90.26 809.08L92.48 792.09L94.71 821.27L96.93 816.67L99.16 818.14L101.38 825.14L103.6 805.53L105.83 817.16L108.05 810.87L110.28 806.84L112.5 792.69L114.72 806.36L116.95 820.7L119.17 807.1L121.4 808.74L123.62 793.09L125.84 798.38L128.07 793.24L130.29 785.77L132.52 778.16L134.74 770.45L136.96 763.18L139.19 755.59L141.41 748.88L143.64 742.33L145.86 734.55L148.08 726.92L150.31 720.2L152.53 713.18L154.76 706.49L156.98 700.48L161.43 691.51L165.88 686.09L170.32 680.92L174.77 677.26L179.22 673.47L183.67 670.27L188.12 666.9L192.56 664.09L197.01 661.17L201.46 658.48L205.91 655.75L210.36 652.93L214.8 651.53L219.25 648.57L223.7 646.34L228.15 644.71L232.6 642.91L237.04 641.25L241.49 639.68L245.94 638.3L250.39 636.97L254.84 635.02L259.28 634.19L263.73 632.96L268.18 631.84L272.63 631.06L277.08 629.97M56.9 828.13L59.12 802.79L61.35 829.78L63.57 811.92L65.8 798.52L68.02 817.25L70.24 811.61L72.47 831.89L74.69 830.79L76.92 809.45L79.14 810.7L81.36 805.84L83.59 803.16L85.81 810.72L88.04 822.26L90.26 807.23L92.48 810.43L94.71 805.13L96.93 827.32L99.16 805.2L101.38 801.03L103.6 828.58L105.83 819.73L108.05 822.7L110.28 818.18L112.5 817.79L114.72 827.27L116.95 798.51L119.17 822.93L121.4 821.04L123.62 808.93L125.84 800.69L128.07 812.36L130.29 795.59L132.52 802.14L134.74 794.18L136.96 787.38L139.19 781.4L141.41 775.01L143.64 768.46L145.86 761.96L148.08 755.54L150.31 749.16L152.53 742.56L154.76 736.14L156.98 729.19L159.2 722.5L161.43 715.39L163.65 708.88L165.88 703.51L168.1 698.19L172.55 690.15L177 685.12L181.44 681.11L185.89 677.35L190.34 673.76L194.79 670.97L199.24 667.57L203.68 664.67L208.13 661.67L212.58 659.1L217.03 656.32L221.48 654.13L225.92 651.67L230.37 649.81L234.82 647.41L239.27 646.14L243.72 644.25L248.16 642.35L252.61 641.05L257.06 639.78L261.51 637.92L265.96 636.67L270.4 635.06L274.85 634.3L279.3 633.38M56.9 812.83L59.12 839.04L61.35 838.22L63.57 821.19L65.8 836.18L68.02 834.85L70.24 826.35L72.47 832.32L74.69 817.49L76.92 810.08L79.14 810.11L81.36 826.93L83.59 827.34L85.81 818.25L88.04 831.32L90.26 808.87L92.48 817.42L94.71 830.28L96.93 814.77L99.16 818.88L101.38 831.72L103.6 821.73L105.83 817.34L108.05 826.78L110.28 811.6L112.5 833.75L114.72 830.28L116.95 805.66L119.17 823.8L121.4 808.98L123.62 803.48L125.84 796.86L128.07 790.26L130.29 782.95L132.52 774.9L134.74 767.59L136.96 760.36L139.19 753.03L141.41 746.38L143.64 739.37L145.86 732.08L148.08 724.38L150.31 717.2L152.53 710.61L154.76 704.42L156.98 698.87L161.43 689.91L165.88 684.77L170.32 680.01L174.77 676.74L179.22 673.21L183.67 669.63L188.12 666.5L192.56 664.03L197.01 660.71L201.46 657.89L205.91 655.87L210.36 652.52L214.8 650.61L219.25 648.55L223.7 646.39L228.15 645.15L232.6 642.81L237.04 641.11L241.49 639.51L245.94 637.99L250.39 636.99L254.84 635.45L259.28 634.18L263.73 632.56L268.18 631.95L272.63 630.29L277.08 629.45M56.9 805.62L59.12 803.99L61.35 811.8L63.57 808.78L65.8 804.89L68.02 811.42L70.24 817.12L72.47 821.05L74.69 810.53L76.92 823.98L79.14 826.6L81.36 827.51L83.59 797.46L85.81 796.89L88.04 809.54L90.26 798.86L92.48 827.18L94.71 814.02L96.93 809.56L99.16 806.52L101.38 806.3L103.6 818.91L105.83 807.2L108.05 799.93L110.28 805.72L112.5 815.49L114.72 806.21L116.95 814.11L119.17 815.01L121.4 797.53L123.62 802.94L125.84 797.27L128.07 790.42L130.29 782.43L132.52 775.08L134.74 767.06L136.96 759.92L139.19 752.12L141.41 745.35L143.64 737.9L145.86 730.74L148.08 723.45L150.31 715.73L152.53 709.22L154.76 702.81L156.98 697.39L161.43 689.66L165.88 683.62L170.32 679.07L174.77 675.94L179.22 672L183.67 668.95L188.12 665.97L192.56 662.61L197.01 660.17L201.46 657.18L205.91 654.78L210.36 652.81L214.8 649.6L219.25 647.87L223.7 645.86L228.15 644.02L232.6 642.37L237.04 640.65L241.49 638.98L245.94 637.46L250.39 636.17L254.84 634.86L259.28 633.41L263.73 632.44L268.18 631.24L272.63 630.45L277.08 629.32M56.9 835.87L59.12 835.99L61.35 813.67L63.57 822.65L65.8 825.57L68.02 807.85L70.24 810.04L72.47 834.46L74.69 834.02L76.92 820.96L79.14 834.56L81.36 828.64L83.59 838.25L85.81 807.92L88.04 807.81L90.26 837.11L92.48 807.15L94.71 807.39L96.93 833.75L99.16 820.67L101.38 811.12L103.6 828.29L105.83 836.42L108.05 831.63L110.28 814.47L112.5 828.46L114.72 825.41L116.95 836.28L119.17 820.67L121.4 819.32L123.62 827.05L125.84 803.33L128.07 823.99L130.29 821.09L132.52 827.46L134.74 818.11L136.96 809.53L139.19 802.73L141.41 803.36L143.64 796.45L145.86 795.5L148.08 789.66L150.31 783.38L152.53 778.43L154.76 772.06L156.98 767.53L159.2 762.89L161.43 758.18L163.65 753.25L165.88 747.33L168.1 741.96L170.32 736.51L172.55 730.21L174.77 724.38L177 718.08L179.22 712.06L181.44 706.96L183.67 701.49L188.12 693.14L192.56 687.77L197.01 683.54L201.46 680.08L205.91 677.45L210.36 673.83L214.8 670.79L219.25 667.87L223.7 665.28L228.15 662.97L232.6 660.58L237.04 657.84L241.49 655.27L245.94 653.27L250.39 651.75L254.84 649.2L259.28 647.79L263.73 645.86L268.18 644.78L272.63 642.65L277.08 641.57M56.9 822.98L59.12 821.23L61.35 819.92L63.57 802.51L65.8 816.97L68.02 806.21L70.24 810.84L72.47 806.47L74.69 812.02L76.92 799.96L79.14 816.77L81.36 805.65L83.59 826.42L85.81 820.72L88.04 817.66L90.26 808.27L92.48 802.12L94.71 804.84L96.93 803.57L99.16 816.21L101.38 823.91L103.6 823.79L105.83 828.11L108.05 799.06L110.28 832.1L112.5 801.92L114.72 829.64L116.95 826.23L119.17 821.47L121.4 806.62L123.62 809.11L125.84 796.88L128.07 798.26L130.29 791.97L132.52 785.15L134.74 778.84L136.96 771.91L139.19 764.41L141.41 757.92L143.64 750.94L145.86 743.96L148.08 737.28L150.31 730.19L152.53 723.12L154.76 716.39L156.98 709.45L159.2 703.52L161.43 698.29L165.88 689.83L170.32 684.63L174.77 680.21L179.22 676.72L183.67 672.94L188.12 669.52L192.56 667.08L197.01 663.75L201.46 661.15L205.91 657.75L210.36 655.91L214.8 652.95L219.25 650.75L223.7 649.26L228.15 646.58L232.6 644.97L237.04 642.92L241.49 642.11L245.94 639.89L250.39 638.58L254.84 637.1L259.28 635.73L263.73 634.54L268.18 633.86L272.63 632.01L277.08 631.15M56.9 825.77L59.12 831.49L61.35 829.13L63.57 828.65L65.8 830.06L68.02 817.49L70.24 827.21L72.47 817.98L74.69 821.33L76.92 819.9L79.14 812.11L81.36 828.25L83.59 805.67L85.81 831L88.04 821.46L90.26 825.13L92.48 828.7L94.71 828.49L96.93 824.7L99.16 805.96L101.38 814.61L103.6 807.65L105.83 824.57L108.05 824.02L110.28 813.07L112.5 822.66L114.72 824.15L116.95 812.86L119.17 820.39L121.4 806.79L123.62 806.73L125.84 798.99L128.07 791.78L130.29 783.95L132.52 775.77L134.74 767.92L136.96 760.46L139.19 752.85L141.41 745.98L143.64 738.86L145.86 732.04L148.08 724.37L150.31 717.44L152.53 710.48L154.76 703.59L156.98 698.31L161.43 689.89L165.88 684.23L170.32 679.67L174.77 676.31L179.22 672.16L183.67 669.03L188.12 665.98L192.56 663.09L197.01 660.49L201.46 657.5L205.91 655.07L210.36 652.68L214.8 650.06L219.25 647.93L223.7 645.55L228.15 644.05L232.6 642.55L237.04 640.63L241.49 639.19L245.94 637.44L250.39 636.12L254.84 635L259.28 633.81L263.73 632.76L268.18 631.62L272.63 630.43L277.08 628.98M56.9 817.81L59.12 834.45L61.35 808.93L63.57 834.64L65.8 820.69L68.02 811.89L70.24 829.35L72.47 833.06L74.69 812.32L76.92 819.23L79.14 809.43L81.36 803.66L83.59 823.95L85.81 802.43L88.04 816.33L90.26 800.05L92.48 818.57L94.71 828.22L96.93 828.11L99.16 812.06L101.38 824.51L103.6 820.64L105.83 830.78L108.05 807.84L110.28 824.9L112.5 818.69L114.72 812.76L116.95 800.79L119.17 827.32L121.4 802.6L123.62 801.14L125.84 800.11L128.07 809.77L130.29 800.81L132.52 795.73L134.74 787.01L136.96 780.69L139.19 774.64L141.41 766.8L143.64 759.79L145.86 752.71L148.08 746.12L150.31 739.54L152.53 732.67L154.76 725.3L156.98 718.18L159.2 711.39L161.43 705.2L163.65 699.54L168.1 690.78L172.55 685.35L177 681.02L181.44 677.27L185.89 674.01L190.34 669.96L194.79 667.72L199.24 664.42L203.68 661.1L208.13 658.86L212.58 656.39L217.03 653.26L221.48 651.22L225.92 649.46L230.37 646.54L234.82 645.22L239.27 643.66L243.72 641.55L248.16 640.28L252.61 638.43L257.06 637.22L261.51 636.03L265.96 634.74L270.4 633.6L274.85 632.11L279.3 630.99M56.9 801.94L59.12 805.95L61.35 808.67L63.57 836.31L65.8 824.34L68.02 806.56L70.24 819.6L72.47 813.7L74.69 816.36L76.92 814.38L79.14 834.15L81.36 818.55L83.59 821.88L85.81 831.1L88.04 835.3L90.26 813.18L92.48 804.42L94.71 813.43L96.93 818.54L99.16 807.41L101.38 826.18L103.6 823.02L105.83 824.75L108.05 812.13L110.28 806.4L112.5 816.69L114.72 831.74L116.95 805.33L119.17 823.68L121.4 825.28L123.62 805.86L125.84 812.99L128.07 806.99L130.29 801.83L132.52 798.21L134.74 790.94L136.96 784.12L139.19 777.26L141.41 770.14L143.64 763.26L145.86 756.53L148.08 749.12L150.31 742.69L152.53 736.2L154.76 729.45L156.98 721.6L159.2 715.33L161.43 708.39L163.65 702.94L165.88 697.55L170.32 689.71L174.77 684.42L179.22 680.04L183.67 676.94L188.12 673.22L192.56 670.09L197.01 666.64L201.46 663.74L205.91 661.54L210.36 658.25L214.8 655.82L219.25 653.38L223.7 651.34L228.15 649.09L232.6 647.75L237.04 645.16L241.49 643.17L245.94 641.57L250.39 640.39L254.84 638.75L259.28 637.11L263.73 635.85L268.18 634.85L272.63 633.16L277.08 632.38M56.9 826.07L59.12 828L61.35 812.27L63.57 825.24L65.8 832.49L68.02 829.08L70.24 801.43L72.47 811.17L74.69 834.34L76.92 814.86L79.14 833.95L81.36 820.97L83.59 815.31L85.81 809.94L88.04 816.96L90.26 805.12L92.48 812.85L94.71 828.84L96.93 832.86L99.16 809.64L101.38 812.58L103.6 831.96L105.83 807.6L108.05 816.79L110.28 811.69L112.5 823.67L114.72 815.98L116.95 811.96L119.17 807.62L121.4 813.96L123.62 833.91L125.84 820.53L128.07 828.41L130.29 825.99L132.52 805.29L134.74 823.63L136.96 809.39L139.19 808.41L141.41 802.65L143.64 793.99L145.86 790.08L148.08 783.74L150.31 777.88L152.53 773.08L154.76 767.39L156.98 762.09L159.2 757.43L161.43 752.51L163.65 747.36L165.88 741.73L168.1 736.02L170.32 729.47L172.55 723.66L174.77 717.45L177 711.78L179.22 705.67L181.44 700.49L185.89 692.16L190.34 686.89L194.79 682.56L199.24 679.48L203.68 676.82L208.13 673.8L212.58 670.3L217.03 667.62L221.48 664.85L225.92 662.17L230.37 659.71L234.82 656.94L239.27 654.68L243.72 652.2L248.16 651.25L252.61 649.04L257.06 646.74L261.51 645.66L265.96 643.89L270.4 642.39L274.85 641.04L279.3 640.05M56.9 836.48L59.12 830.42L61.35 819.82L63.57 824.46L65.8 812L68.02 828.18L70.24 828.28L72.47 809.93L74.69 828.68L76.92 814.22L79.14 828.13L81.36 803.05L83.59 808.51L85.81 833.74L88.04 835.61L90.26 830.81L92.48 824.09L94.71 816.06L96.93 802.51L99.16 816.37L101.38 802.88L103.6 802.78L105.83 836.86L108.05 802.76L110.28 819.03L112.5 816.03L114.72 809.34L116.95 824.61L119.17 827.81L121.4 822.01L123.62 809.1L125.84 799.65L128.07 800.63L130.29 794.98L132.52 786.28L134.74 779.59L136.96 772.9L139.19 766.17L141.41 759.09L143.64 751.93L145.86 746.05L148.08 738.64L150.31 731.89L152.53 724.41L154.76 718L156.98 711.34L159.2 705.1L161.43 699.18L165.88 690.77L170.32 685.3L174.77 680.93L179.22 677.02L183.67 673.68L188.12 670.25L192.56 666.99L197.01 664.08L201.46 661.21L205.91 658.94L210.36 656.24L214.8 653.52L219.25 651.02L223.7 649.32L228.15 647.37L232.6 645.68L237.04 643.46L241.49 641.97L245.94 640.33L250.39 639.14L254.84 637.25L259.28 636.4L263.73 634.41L268.18 633.63L272.63 632.45L277.08 631.18M56.9 798.27L59.12 813.97L61.35 826.07L63.57 822.5L65.8 805.7L68.02 797.16L70.24 821.64L72.47 801.03L74.69 821.93L76.92 819.92L79.14 806.61L81.36 828.57L83.59 825.59L85.81 802.39L88.04 815.29L90.26 800.69L92.48 806.19L94.71 825.02L96.93 829.72L99.16 802.1L101.38 804.55L103.6 799.87L105.83 808.64L108.05 800.49L110.28 812.55L112.5 807.02L114.72 821.27L116.95 804.56L119.17 808.68L121.4 812.33L123.62 809.95L125.84 799.42L128.07 797.02L130.29 788.05L132.52 781.61L134.74 774.54L136.96 766.57L139.19 758.93L141.41 751.06L143.64 743.17L145.86 736.46L148.08 729.25L150.31 721.83L152.53 714.48L154.76 708.06L156.98 701.68L161.43 691.92L165.88 685.92L170.32 681.17L174.77 677.14L179.22 673.94L183.67 670.52L188.12 667.02L192.56 664.38L197.01 661.11L201.46 658.68L205.91 655.97L210.36 653.02L214.8 650.68L219.25 648.82L223.7 646.58L228.15 644.63L232.6 642.65L237.04 641.3L241.49 639.39L245.94 638.11L250.39 636.65L254.84 635.5L259.28 633.53L263.73 632.24L268.18 631.49L272.63 630.96L277.08 629.87M56.9 808.78L59.12 806.53L61.35 814.86L63.57 797.28L65.8 820.66L68.02 798.1L70.24 816.25L72.47 806.98L74.69 820.07L76.92 827.1L79.14 828.15L81.36 827.26L83.59 798.45L85.81 795.74L88.04 795.44L90.26 796.2L92.48 797.13L94.71 798.94L96.93 803.47L99.16 814.76L101.38 809.87L103.6 807.63L105.83 811.25L108.05 804.13L110.28 799.2L112.5 819.59L114.72 810.84L116.95 815.25L119.17 795.8L121.4 819.51L123.62 793.91L125.84 801.87L128.07 800.18L130.29 793.46L132.52 792.93L134.74 783.96L136.96 779.29L139.19 772.18L141.41 764.67L143.64 758.13L145.86 750.97L148.08 744.23L150.31 737.56L152.53 730.78L154.76 723.67L156.98 716.76L159.2 710.25L161.43 704.33L163.65 698.78L168.1 690.32L172.55 684.67L177 680.43L181.44 677.09L185.89 673.37L190.34 670.34L194.79 666.82L199.24 664.59L203.68 661.55L208.13 658.76L212.58 655.47L217.03 653.71L221.48 650.87L225.92 649.02L230.37 646.7L234.82 645.27L239.27 643.62L243.72 642.26L248.16 639.89L252.61 638.87L257.06 637.21L261.51 635.78L265.96 634.9L270.4 633.49L274.85 632.44L279.3 631.29M56.9 815.89L59.12 812.42L61.35 819.88L63.57 810.2L65.8 815.02L68.02 821.39L70.24 804.6L72.47 829.78L74.69 831.27L76.92 829.32L79.14 834.43L81.36 829.88L83.59 819.85L85.81 835.05L88.04 815.49L90.26 803.09L92.48 805.1L94.71 826.67L96.93 808.81L99.16 826.83L101.38 830.69L103.6 804.86L105.83 810.33L108.05 819.3L110.28 820.95L112.5 830.6L114.72 828.13L116.95 821.56L119.17 818.38L121.4 817.33L123.62 804.71L125.84 804.21L128.07 793.62L130.29 789.26L132.52 781.76L134.74 773.59L136.96 766.04L139.19 758.22L141.41 750.94L143.64 744.12L145.86 736.88L148.08 729.31L150.31 722.01L152.53 715.05L154.76 707.76L156.98 701.88L161.43 692.52L165.88 686L170.32 681.38L174.77 677.38L179.22 673.8L183.67 670.71L188.12 667.39L192.56 664.11L197.01 661.57L201.46 658.53L205.91 655.68L210.36 653.58L214.8 651.47L219.25 649.18L223.7 647.55L228.15 645.05L232.6 643.45L237.04 641.21L241.49 639.38L245.94 637.75L250.39 636.81L254.84 635.58L259.28 634.18L263.73 633.32L268.18 631.45L272.63 630.85L277.08 629.72M56.9 805.15L59.12 831.05L61.35 806.16L63.57 827.98L65.8 806.4L68.02 834.08L70.24 828.32L72.47 834.18L74.69 821.85L76.92 828.27L79.14 822.78L81.36 806.97L83.59 811.04L85.81 833.94L88.04 823.75L90.26 818.59L92.48 810.26L94.71 827.69L96.93 817.23L99.16 826.27L101.38 823.85L103.6 807.79L105.83 807.64L108.05 810.96L110.28 824.55L112.5 808.34L114.72 812.63L116.95 803.6L119.17 804.06L121.4 798.55L123.62 791.02L125.84 781.87L128.07 774.13L130.29 766.74L132.52 759.2L134.74 751.5L136.96 744.61L139.19 737.3L141.41 729.89L143.64 722.4L145.86 715.18L148.08 708.52L150.31 701.79L154.76 692.42L159.2 685.66L163.65 681.8L168.1 677.57L172.55 674.02L177 670.2L181.44 667.13L185.89 663.99L190.34 661L194.79 658.08L199.24 655.64L203.68 652.68L208.13 649.97L212.58 648.14L217.03 646.61L221.48 644.54L225.92 642.28L230.37 640.55L234.82 639.62L239.27 637.91L243.72 636.33L248.16 635.22L252.61 633.84L257.06 632.3L261.51 631.54L265.96 630.23L270.4 628.88L274.85 628.26L279.3 626.98M56.9 815.32L59.12 792.66L61.35 815.73L63.57 801.26L65.8 801.18L68.02 821.55L70.24 800.13L72.47 795.61L74.69 804.64L76.92 821.66L79.14 792.98L81.36 806.45L83.59 825.27L85.81 822.08L88.04 810.95L90.26 808.07L92.48 825.83L94.71 823.58L96.93 801.52L99.16 825.05L101.38 793.97L103.6 826.87L105.83 806.13L108.05 819.43L110.28 817.41L112.5 807.36L114.72 807.72L116.95 810.9L119.17 811.66L121.4 817.76L123.62 814.49L125.84 805.97L128.07 791.96L130.29 795.27L132.52 788.28L134.74 781.22L136.96 775.58L139.19 767.77L141.41 761.25L143.64 754.63L145.86 747.49L148.08 741.06L150.31 734.03L152.53 727.14L154.76 720.08L156.98 712.86L159.2 706.41L161.43 700.65L165.88 691.88L170.32 686.29L174.77 681.93L179.22 677.81L183.67 674.67L188.12 670.99L192.56 667.76L197.01 664.8L201.46 661.91L205.91 659.17L210.36 656.57L214.8 653.66L219.25 651.28L223.7 649.35L228.15 646.74L232.6 645.28L237.04 643.9L241.49 642.42L245.94 640.62L250.39 639.28L254.84 637.7L259.28 636.55L263.73 634.82L268.18 633.54L272.63 632.86L277.08 631.27M56.9 811.37L59.12 801.31L61.35 824.77L63.57 804.89L65.8 828.51L68.02 805.1L70.24 818.09L72.47 806.68L74.69 805.21L76.92 828.58L79.14 807.31L81.36 824.25L83.59 807.51L85.81 807.89L88.04 818.66L90.26 802.07L92.48 830.16L94.71 804.29L96.93 829.63L99.16 800.32L101.38 800.98L103.6 827.42L105.83 820.43L108.05 806.6L110.28 811.97L112.5 826.27L114.72 801.45L116.95 822.11L119.17 825.56L121.4 809.87L123.62 799.3L125.84 817.08L128.07 817.33L130.29 812.52L132.52 800.47L134.74 801.51L136.96 792.79L139.19 788.5L141.41 782.19L143.64 775.22L145.86 768.58L148.08 762.42L150.31 755.98L152.53 749.84L154.76 743.36L156.98 737.68L159.2 730.51L161.43 723.9L163.65 717.05L165.88 710.97L168.1 704.43L170.32 699.4L174.77 691.11L179.22 685.98L183.67 681.18L188.12 677.98L192.56 674.89L197.01 671.38L201.46 667.84L205.91 665.45L210.36 662.73L214.8 660.37L219.25 657.31L223.7 654.7L228.15 652.91L232.6 650.02L237.04 648.67L241.49 646.6L245.94 644.87L250.39 643.41L254.84 641.66L259.28 639.94L263.73 638.47L268.18 637.02L272.63 636.1L277.08 634.66M56.9 808.1L59.12 819.75L61.35 807.35L63.57 831.19L65.8 801.83L68.02 815.89L70.24 812.24L72.47 816.33L74.69 808.41L76.92 813.58L79.14 805.87L81.36 825.66L83.59 810.34L85.81 826.79L88.04 809.52L90.26 828.77L92.48 800.12L94.71 801.83L96.93 797.33L99.16 824.6L101.38 803.65L103.6 831.01L105.83 823.23L108.05 799.71L110.28 801.98L112.5 807.79L114.72 800.82L116.95 826.47L119.17 818.53L121.4 811.37L123.62 799.56L125.84 810.37L128.07 810.5L130.29 807.52L132.52 801.88L134.74 795.22L136.96 787.84L139.19 781.36L141.41 774.86L143.64 768.8L145.86 761.93L148.08 755.62L150.31 749.06L152.53 742.8L154.76 736.01L156.98 729.7L159.2 722.52L161.43 716.3L163.65 709.85L165.88 703.76L168.1 698.36L172.55 690.41L177 685.16L181.44 681.5L185.89 677.28L190.34 674.05L194.79 670.79L199.24 667.82L203.68 664.61L208.13 662.42L212.58 659.55L217.03 656.8L221.48 653.9L225.92 652.26L230.37 650.02L234.82 648.13L239.27 646.3L243.72 644.17L248.16 642.41L252.61 640.81L257.06 639.61L261.51 638.04L265.96 636.7L270.4 635.41L274.85 634.51L279.3 633.06M56.9 809.42L59.12 809.67L61.35 812.94L63.57 812.99L65.8 816.43L68.02 819.89L70.24 818.04L72.47 798.18L74.69 815.12L76.92 804.3L79.14 818.21L81.36 802.88L83.59 810.04L85.81 810.54L88.04 801.44L90.26 815.1L92.48 818.1L94.71 796.02L96.93 798.1L99.16 807.59L101.38 822.44L103.6 809.65L105.83 799.71L108.05 813.97L110.28 802.67L112.5 794.4L114.72 822.33L116.95 801.41L119.17 806.73L121.4 793.91L123.62 794.1L125.84 790.01L128.07 783.62L130.29 774.4L132.52 767.77L134.74 760.22L136.96 752.34L139.19 745.5L141.41 738.31L143.64 730.73L145.86 723.61L148.08 716.21L150.31 709.31L152.53 703.09L154.76 697.64L159.2 689.43L163.65 683.72L168.1 679.71L172.55 675.68L177 672.36L181.44 668.57L185.89 666.19L190.34 663.18L194.79 660.03L199.24 657.25L203.68 654.38L208.13 651.84L212.58 649.91L217.03 647.4L221.48 645.72L225.92 643.86L230.37 641.93L234.82 640.23L239.27 638.94L243.72 637.16L248.16 635.98L252.61 634.34L257.06 633.38L261.51 632.12L265.96 631.16L270.4 630.23L274.85 629.18L279.3 628.15M56.9 814.81L59.12 807.26L61.35 815.71L63.57 800.9L65.8 805.29L68.02 808.56L70.24 800.49L72.47 818.99L74.69 821.48L76.92 821.15L79.14 820.36L81.36 808.92L83.59 828.25L85.81 826.37L88.04 824.86L90.26 823.87L92.48 814.29L94.71 798.59L96.93 806.37L99.16 828.24L101.38 796.74L103.6 818.01L105.83 804.81L108.05 806.59L110.28 807.85L112.5 828.21L114.72 807.32L116.95 796.81L119.17 816.39L121.4 804.43L123.62 807.2L125.84 801.21L128.07 794.19L130.29 786.22L132.52 780.64L134.74 772.18L136.96 764.73L139.19 756.8L141.41 749.93L143.64 742.37L145.86 735.45L148.08 727.69L150.31 720.81L152.53 713.47L154.76 706.51L156.98 700.91L161.43 691.63L165.88 685.32L170.32 680.75L174.77 677.51L179.22 673.48L183.67 670.31L188.12 667.05L192.56 664.34L197.01 661.01L201.46 658.58L205.91 655.26L210.36 653.3L214.8 650.82L219.25 648.78L223.7 647.06L228.15 644.68L232.6 642.67L237.04 641.29L241.49 639.87L245.94 638.29L250.39 636.12L254.84 635.13L259.28 634.01L263.73 632.73L268.18 631.5L272.63 630.31L277.08 629.31M56.9 819.38L59.12 822.19L61.35 804.69L63.57 803.09L65.8 830.14L68.02 812.06L70.24 834.96L72.47 816.65L74.69 824.12L76.92 821.1L79.14 827.88L81.36 830.52L83.59 819.87L85.81 819.11L88.04 814.85L90.26 817.6L92.48 827.39L94.71 830.36L96.93 829.56L99.16 813.36L101.38 827.77L103.6 816.44L105.83 818.78L108.05 833.52L110.28 810.84L112.5 828.8L114.72 817.97L116.95 832.78L119.17 829.46L121.4 812.91L123.62 831.16L125.84 816.81L128.07 808.72L130.29 808.98L132.52 811.43L134.74 797.14L136.96 798.07L139.19 790.46L141.41 784.7L143.64 777.2L145.86 771.49L148.08 765.46L150.31 759.09L152.53 753.65L154.76 747.03L156.98 740.5L159.2 734.21L161.43 727.39L163.65 721.35L165.88 714.62L168.1 708.11L170.32 701.95L174.77 692.95L179.22 687.75L183.67 682.6L188.12 679.33L192.56 675.92L197.01 672.83L201.46 669.37L205.91 666.28L210.36 663.49L214.8 661.23L219.25 658.31L223.7 655.9L228.15 653.06L232.6 650.95L237.04 649.14L241.49 647.54L245.94 645.57L250.39 643.9L254.84 642.45L259.28 640.84L263.73 639.12L268.18 637.72L272.63 636.51L277.08 635.11M56.9 811.12L59.12 827.94L61.35 804.72L63.57 810.03L65.8 824.23L68.02 818.58L70.24 815.05L72.47 811.33L74.69 813.76L76.92 810.59L79.14 832.85L81.36 815.29L83.59 813.91L85.81 827.48L88.04 825.25L90.26 828.41L92.48 817.21L94.71 814.29L96.93 822.19L99.16 807.85L101.38 808.95L103.6 828.21L105.83 807.52L108.05 824.35L110.28 832.07L112.5 829.09L114.72 823.18L116.95 816L119.17 801.22L121.4 797.66L123.62 789.7L125.84 781.55L128.07 773.01L130.29 764.93L132.52 756.66L134.74 749.4L136.96 741.66L139.19 733.82L141.41 726.87L143.64 718.75L145.86 711.67L148.08 705.13L150.31 699.1L154.76 690.33L159.2 684.31L163.65 679.89L168.1 675.78L172.55 672.08L177 669.03L181.44 665.94L185.89 663.18L190.34 659.91L194.79 656.75L199.24 654.22L203.68 652.25L208.13 649.09L212.58 647.41L217.03 645.17L221.48 643.53L225.92 641.29L230.37 640.15L234.82 638.58L239.27 637.12L243.72 635.24L248.16 633.96L252.61 633.03L257.06 632.09L261.51 630.9L265.96 630.02L270.4 628.28L274.85 627.43L279.3 627.1M56.9 810.14L59.12 817.03L61.35 817.96L63.57 814.34L65.8 822.5L68.02 829.82L70.24 830.3L72.47 811.07L74.69 815.05L76.92 818.35L79.14 823.87L81.36 830.63L83.59 826.64L85.81 803.24L88.04 826.5L90.26 813.03L92.48 804.09L94.71 801.81L96.93 819.42L99.16 809.3L101.38 802.81L103.6 814.58L105.83 803.94L108.05 816.14L110.28 819.55L112.5 821.99L114.72 812.58L116.95 816.76L119.17 809.07L121.4 800.58L123.62 796.71L125.84 789.17L128.07 780.74L130.29 772.52L132.52 763.94L134.74 756.05L136.96 748.28L139.19 740.99L141.41 733.22L143.64 725.57L145.86 718.08L148.08 710.64L150.31 704.14L152.53 698.28L156.98 690.07L161.43 683.78L165.88 679.63L170.32 675.77L174.77 672.33L179.22 668.72L183.67 665.93L188.12 662.81L192.56 659.73L197.01 656.98L201.46 654.13L205.91 651.95L210.36 649.39L214.8 647.03L219.25 645.42L223.7 643.29L228.15 641.65L232.6 639.47L237.04 638.55L241.49 636.5L245.94 635.42L250.39 634.13L254.84 633.29L259.28 631.83L263.73 630.86L268.18 629.53L272.63 628.68L277.08 627.41M56.9 808.32L59.12 828.39L61.35 807.07L63.57 805.61L65.8 818.07L68.02 818.07L70.24 818.04L72.47 823.22L74.69 799.58L76.92 815.74L79.14 817.21L81.36 821.71L83.59 805.02L85.81 823.37L88.04 828.61L90.26 825.69L92.48 813.04L94.71 801.68L96.93 819.93L99.16 819.61L101.38 823.94L103.6 822.19L105.83 831.2L108.05 833.16L110.28 824.97L112.5 832.53L114.72 827.54L116.95 818.27L119.17 799.22L121.4 809.84L123.62 807.52L125.84 829.73L128.07 798.2L130.29 807.37L132.52 807.05L134.74 804.97L136.96 798.35L139.19 797.94L141.41 789.19L143.64 784.86L145.86 779.18L148.08 772.51L150.31 767.3L152.53 761.16L154.76 755.83L156.98 749.9L159.2 744.69L161.43 738.46L163.65 731.95L165.88 725.22L168.1 718.76L170.32 712.7L172.55 707.05L174.77 701.24L179.22 692.84L183.67 687.1L188.12 682.7L192.56 679.11L197.01 676.35L201.46 672.82L205.91 669.26L210.36 666.79L214.8 663.95L219.25 661.86L223.7 658.66L228.15 656.18L232.6 653.78L237.04 651.76L241.49 649.93L245.94 648.17L250.39 645.93L254.84 644.69L259.28 642.79L263.73 641.31L268.18 639.99L272.63 638.31L277.08 636.87M56.9 804.43L59.12 821.11L61.35 802.5L63.57 824.04L65.8 819.39L68.02 821.43L70.24 804.93L72.47 806.04L74.69 824.98L76.92 797.77L79.14 823.12L81.36 801.53L83.59 820.43L85.81 815.46L88.04 804.06L90.26 811.07L92.48 798.77L94.71 816.17L96.93 819.51L99.16 811.97L101.38 805.95L103.6 797.03L105.83 825.16L108.05 796L110.28 803.84L112.5 798.86L114.72 819.15L116.95 816.46L119.17 829.25L121.4 826.9L123.62 804.5L125.84 813.86L128.07 812.58L130.29 796.43L132.52 799.68L134.74 795.85L136.96 796.36L139.19 797.7L141.41 801.78L143.64 796.67L145.86 787.78L148.08 782.45L150.31 779.2L152.53 773.65L154.76 767.76L156.98 762.12L159.2 756.79L161.43 751.27L163.65 745.77L165.88 739.62L168.1 733.58L170.32 727.18L172.55 721.02L174.77 714.65L177 708.99L179.22 703.26L181.44 698.25L185.89 690.98L190.34 686.45L194.79 681.61L199.24 678.47L203.68 675.45L208.13 672.25L212.58 668.73L217.03 666.27L221.48 663.6L225.92 661.04L230.37 658.38L234.82 655.98L239.27 654.19L243.72 651.74L248.16 650.14L252.61 647.93L257.06 646.52L261.51 644.19L265.96 643.2L270.4 641.82L274.85 640.06L279.3 638.43M56.9 825.81L59.12 816.49L61.35 817.56L63.57 832.82L65.8 819.3L68.02 809.77L70.24 830.1L72.47 806.66L74.69 829.35L76.92 801.62L79.14 810.69L81.36 826.07L83.59 825.31L85.81 834.53L88.04 819.55L90.26 832.15L92.48 818.23L94.71 834.86L96.93 801.76L99.16 815.56L101.38 808.68L103.6 830.71L105.83 830.2L108.05 827.99L110.28 834.16L112.5 818.39L114.72 830.55L116.95 811.95L119.17 811.47L121.4 818.92L123.62 828.56L125.84 817.48L128.07 813.18L130.29 827.05L132.52 812.58L134.74 816.78L136.96 802.14L139.19 795.92L141.41 795.27L143.64 790.33L145.86 783.93L148.08 778.98L150.31 773.2L152.53 766.94L154.76 761.39L156.98 755.19L159.2 749.61L161.43 744.02L163.65 737.89L165.88 731.02L168.1 725.2L170.32 718.28L172.55 712.23L174.77 706.03L177 700.71L181.44 692.06L185.89 686.62L190.34 682.49L194.79 679.24L199.24 675.74L203.68 672.66L208.13 669.35L212.58 666.21L217.03 663.99L221.48 661.2L225.92 658.54L230.37 656.51L234.82 654.05L239.27 651.86L243.72 649.27L248.16 647.78L252.61 646.25L257.06 644.31L261.51 643.1L265.96 640.83L270.4 639.96L274.85 638.31L279.3 637.19M56.9 810.21L59.12 799.55L61.35 800.71L63.57 830.18L65.8 807.67L68.02 800.39L70.24 810.83L72.47 827.77L74.69 829.37L76.92 816.68L79.14 801.55L81.36 811.24L83.59 830.84L85.81 799.55L88.04 807.84L90.26 834.36L92.48 809.58L94.71 829.51L96.93 821.7L99.16 804.63L101.38 815.36L103.6 821.71L105.83 833.61L108.05 818.09L110.28 806.05L112.5 825.59L114.72 801.65L116.95 810.11L119.17 815.56L121.4 826.25L123.62 821.35L125.84 811.79L128.07 798.27L130.29 792.2L132.52 786.42L134.74 780.63L136.96 773.68L139.19 767.28L141.41 760.83L143.64 754.76L145.86 748.18L148.08 741.86L150.31 734.99L152.53 728.35L154.76 720.91L156.98 715.02L159.2 708.34L161.43 702.02L165.88 692.85L170.32 687.04L174.77 682.03L179.22 678.32L183.67 674.94L188.12 671.58L192.56 668.91L197.01 665.49L201.46 662.77L205.91 660.01L210.36 657.26L214.8 655.03L219.25 652.73L223.7 650.43L228.15 648.53L232.6 646.46L237.04 644.18L241.49 642.63L245.94 641.18L250.39 639.64L254.84 638.29L259.28 636.38L263.73 635.42L268.18 633.94L272.63 633.05L277.08 631.6M56.9 822L59.12 806.31L61.35 801.21L63.57 825.8L65.8 827.13L68.02 824.17L70.24 826.05L72.47 828.83L74.69 830.97L76.92 810.8L79.14 815.92L81.36 823.36L83.59 828L85.81 798.28L88.04 820.6L90.26 806.13L92.48 804.3L94.71 817.07L96.93 831.26L99.16 821.77L101.38 818.18L103.6 832.08L105.83 823.71L108.05 828.12L110.28 828.4L112.5 808L114.72 827.11L116.95 804.92L119.17 814.6L121.4 807.83L123.62 811.09L125.84 807.44L128.07 798.33L130.29 787.38L132.52 783.43L134.74 775.71L136.96 770.21L139.19 763.65L141.41 757.03L143.64 751.29L145.86 745.75L148.08 738.68L150.31 732.09L152.53 725.16L154.76 718.01L156.98 711.31L159.2 705.32L161.43 699.1L165.88 691.3L170.32 686.09L174.77 681.19L179.22 677.67L183.67 674.35L188.12 671.37L192.56 667.75L197.01 664.99L201.46 662.19L205.91 659.13L210.36 656.43L214.8 653.88L219.25 651.77L223.7 650.25L228.15 647.87L232.6 645.48L237.04 643.97L241.49 642.41L245.94 640.78L250.39 639.4L254.84 637.84L259.28 636.49L263.73 635.14L268.18 633.8L272.63 632.74L277.08 631.83M56.9 799.15L59.12 793.16L61.35 808.33L63.57 821.76L65.8 821.94L68.02 813.98L70.24 818.66L72.47 809.99L74.69 806.3L76.92 797.28L79.14 823.42L81.36 823.17L83.59 809.84L85.81 818.19L88.04 817L90.26 813.54L92.48 806.17L94.71 806.63L96.93 798.3L99.16 821.41L101.38 810.18L103.6 817.35L105.83 796.26L108.05 827.27L110.28 802.9L112.5 826.63L114.72 822.4L116.95 805.53L119.17 805.67L121.4 807.84L123.62 810.88L125.84 806.9L128.07 801.7L130.29 791.89L132.52 785.22L134.74 778.91L136.96 770.7L139.19 764.17L141.41 756.3L143.64 749.09L145.86 742.57L148.08 734.89L150.31 727.56L152.53 720.47L154.76 713.42L156.98 706.85L159.2 701.61L163.65 691.68L168.1 686.06L172.55 681L177 677.18L181.44 673.48L185.89 670.24L190.34 667.29L194.79 664.62L199.24 661.27L203.68 658.7L208.13 655.88L212.58 653.6L217.03 651.1L221.48 649.31L225.92 646.82L230.37 644.89L234.82 642.85L239.27 641.96L243.72 640.17L248.16 638.27L252.61 637.14L257.06 635L261.51 634.42L265.96 633.17L270.4 632.01L274.85 630.83L279.3 629.9M56.9 798.66L59.12 798.57L61.35 800.55L63.57 818.46L65.8 795.76L68.02 793.17L70.24 794.82L72.47 801.9L74.69 827.42L76.92 816.71L79.14 825.27L81.36 822.28L83.59 809.62L85.81 825.18L88.04 815.7L90.26 814.68L92.48 801.9L94.71 808.08L96.93 822.61L99.16 825.96L101.38 794.16L103.6 808.75L105.83 820.91L108.05 806.42L110.28 810.81L112.5 812.24L114.72 814.94L116.95 819.28L119.17 823.24L121.4 811.27L123.62 808.35L125.84 816.3L128.07 792.58L130.29 820.43L132.52 818.6L134.74 808.83L136.96 796.93L139.19 796.7L141.41 789.97L143.64 781.56L145.86 775.64L148.08 772.07L150.31 766.01L152.53 760.66L154.76 755.4L156.98 749.72L159.2 744.29L161.43 738.13L163.65 732.46L165.88 726.1L168.1 719.72L170.32 713.37L172.55 707.84L174.77 701.88L179.22 693.05L183.67 687.27L188.12 683.12L192.56 679.8L197.01 676.06L201.46 672.89L205.91 670.13L210.36 667.1L214.8 664.36L219.25 662.01L223.7 659.97L228.15 656.7L232.6 654.46L237.04 652.46L241.49 650.61L245.94 648.19L250.39 646.92L254.84 644.68L259.28 643.23L263.73 641.93L268.18 640.16L272.63 639.23L277.08 637.84M56.9 812.69L59.12 800.95L61.35 810.75L63.57 807.68L65.8 811.12L68.02 815.38L70.24 817.23L72.47 825.12L74.69 825.33L76.92 822.61L79.14 829.92L81.36 833.55L83.59 829.71L85.81 817.35L88.04 805.96L90.26 827.87L92.48 816.94L94.71 805.88L96.93 816.83L99.16 824.2L101.38 818.6L103.6 801.13L105.83 817.96L108.05 811.01L110.28 829.44L112.5 823.85L114.72 805.39L116.95 810.8L119.17 808.57L121.4 807.57L123.62 808.92L125.84 830.92L128.07 818.96L130.29 809.49L132.52 814.6L134.74 809.21L136.96 802.86L139.19 803.48L141.41 794.18L143.64 788.6L145.86 782.21L148.08 778.11L150.31 772.82L152.53 766.68L154.76 761.67L156.98 756.2L159.2 750.73L161.43 745.13L163.65 739.67L165.88 733.35L168.1 726.98L170.32 720.81L172.55 714.71L174.77 708.58L177 703.28L179.22 698.25L183.67 690.93L188.12 685.83L192.56 681.87L197.01 678.63L201.46 675.67L205.91 671.89L210.36 669.78L214.8 666.27L219.25 663.57L223.7 661.1L228.15 658.39L232.6 655.72L237.04 653.64L241.49 652.03L245.94 650.1L250.39 648.24L254.84 645.99L259.28 644.46L263.73 643.08L268.18 641.07L272.63 640.04L277.08 638.83M56.9 795.28L59.12 820.68L61.35 813.54L63.57 814.54L65.8 812.15L68.02 819.37L70.24 800.89L72.47 810.81L74.69 827.26L76.92 826.11L79.14 800.35L81.36 814.16L83.59 803.41L85.81 814.01L88.04 811.14L90.26 812.37L92.48 822.57L94.71 824.12L96.93 796.97L99.16 803.58L101.38 818.3L103.6 806.1L105.83 823.63L108.05 809.97L110.28 810.82L112.5 818.58L114.72 816.25L116.95 823.09L119.17 795.6L121.4 805.45L123.62 815.27L125.84 807.34L128.07 809.64L130.29 809.67L132.52 802.01L134.74 798.68L136.96 795.2L139.19 794.49L141.41 789.34L143.64 788.67L145.86 783.58L148.08 775.83L150.31 771.29L152.53 765.43L154.76 760.03L156.98 753.6L159.2 748.41L161.43 742.33L163.65 735.59L165.88 729.8L168.1 723.39L170.32 717.01L172.55 711.05L174.77 705.13L177 699.65L181.44 691.14L185.89 686.23L190.34 681.78L194.79 678.4L199.24 675.71L203.68 672.32L208.13 668.89L212.58 666.46L217.03 663.7L221.48 660.89L225.92 658.67L230.37 655.9L234.82 653.84L239.27 651.87L243.72 649.88L248.16 647.77L252.61 646.15L257.06 644.17L261.51 642.58L265.96 641.63L270.4 639.73L274.85 638.47L279.3 637.13M56.9 813.57L59.12 802.33L61.35 824.08L63.57 832.85L65.8 818.83L68.02 805.24L70.24 825.99L72.47 801.65L74.69 806.81L76.92 827.01L79.14 824.58L81.36 825.25L83.59 829.21L85.81 814.83L88.04 821.83L90.26 810.53L92.48 826.85L94.71 833.22L96.93 833.05L99.16 803.29L101.38 801.27L103.6 809.72L105.83 831.16L108.05 814.61L110.28 827.05L112.5 817.96L114.72 810.67L116.95 822.14L119.17 823.99L121.4 833.28L123.62 808.75L125.84 823.81L128.07 820.43L130.29 804.96L132.52 808.28L134.74 811.79L136.96 802.91L139.19 799.58L141.41 793.16L143.64 787.6L145.86 781.51L148.08 775.55L150.31 769.4L152.53 763.42L154.76 757.97L156.98 751.98L159.2 745.53L161.43 739.88L163.65 733.57L165.88 727L168.1 720.58L170.32 714.25L172.55 708.63L174.77 702.57L177 698.1L181.44 690.72L185.89 684.78L190.34 681.17L194.79 678.09L199.24 674.75L203.68 671.87L208.13 668.48L212.58 665.84L217.03 662.79L221.48 660.21L225.92 657.98L230.37 654.83L234.82 653.25L239.27 651.14L243.72 649.06L248.16 647.29L252.61 645.58L257.06 643.4L261.51 642.55L265.96 640.12L270.4 639.55L274.85 637.88L279.3 636.87M56.9 807.22L59.12 824.05L61.35 831.59L63.57 813.22L65.8 815.34L68.02 804.04L70.24 819.61L72.47 805.62L74.69 802.38L76.92 806.26L79.14 801.45L81.36 803.87L83.59 809.89L85.81 829.62L88.04 834.42L90.26 823.28L92.48 810.86L94.71 834.61L96.93 801.47L99.16 830.98L101.38 822.85L103.6 811.17L105.83 815.64L108.05 800.2L110.28 831.02L112.5 808.52L114.72 820.63L116.95 811.83L119.17 828.12L121.4 817.86L123.62 812.36L125.84 811.56L128.07 803.76L130.29 798.38L132.52 791.92L134.74 783.46L136.96 777.3L139.19 769.79L141.41 763.4L143.64 755.82L145.86 748.99L148.08 742.47L150.31 735.28L152.53 728.12L154.76 721.05L156.98 714.43L159.2 707.59L161.43 702.03L165.88 692.04L170.32 686.31L174.77 681.52L179.22 677.79L183.67 674.71L188.12 671.57L192.56 668.38L197.01 664.69L201.46 661.76L205.91 659.39L210.36 656.57L214.8 654.22L219.25 651.6L223.7 649.63L228.15 647.55L232.6 645.69L237.04 643.7L241.49 641.92L245.94 640.41L250.39 639.1L254.84 637.53L259.28 635.87L263.73 634.84L268.18 633.38L272.63 632.27L277.08 631.61M56.9 829.85L59.12 829.84L61.35 814.09L63.57 822.62L65.8 808.05L68.02 830.43L70.24 816.31L72.47 813.47L74.69 829.13L76.92 826.16L79.14 811.8L81.36 805.82L83.59 824.96L85.81 817.95L88.04 812.23L90.26 808.65L92.48 811.37L94.71 809.61L96.93 800.85L99.16 824.71L101.38 823.95L103.6 816.84L105.83 819.99L108.05 822.54L110.28 827.9L112.5 816.46L114.72 807.8L116.95 812.45L119.17 803.18L121.4 801.08L123.62 792.25L125.84 783.58L128.07 775.61L130.29 766.96L132.52 758.43L134.74 750.23L136.96 742.4L139.19 735.07L141.41 727.03L143.64 719.06L145.86 711.98L148.08 705.67L150.31 698.97L154.76 690.27L159.2 684L163.65 680.02L168.1 676.04L172.55 672.25L177 668.95L181.44 665.65L185.89 662.7L190.34 659.58L194.79 656.7L199.24 654.81L203.68 651.52L208.13 649.22L212.58 647.3L217.03 645.01L221.48 643.37L225.92 641.12L230.37 639.56L234.82 638.35L239.27 637.08L243.72 634.92L248.16 634.06L252.61 632.53L257.06 631.86L261.51 630.2L265.96 629.61L270.4 627.93L274.85 627.57L279.3 626.35M56.9 803.97L59.12 810.77L61.35 819.93L63.57 807.35L65.8 827.07L68.02 813.93L70.24 830.38L72.47 811.61L74.69 807.3L76.92 810L79.14 825.29L81.36 814.52L83.59 822.92L85.81 805.93L88.04 832.21L90.26 825.96L92.48 828.54L94.71 806.15L96.93 803.76L99.16 819.15L101.38 808.89L103.6 818.28L105.83 829.63L108.05 818.08L110.28 818.91L112.5 814.64L114.72 810.38L116.95 819.3L119.17 807.89L121.4 798.13L123.62 794.56L125.84 789.91L128.07 781.38L130.29 773.11L132.52 764.34L134.74 756.93L136.96 748.59L139.19 741.89L141.41 733.83L143.64 726.9L145.86 719L148.08 711.89L150.31 705.1L152.53 699.07L156.98 690.37L161.43 684.35L165.88 679.91L170.32 676.46L174.77 672.86L179.22 669.18L183.67 666.36L188.12 663.3L192.56 660.32L197.01 657.4L201.46 654.68L205.91 652.14L210.36 649.85L214.8 647.58L219.25 645.54L223.7 644.22L228.15 642.16L232.6 640.07L237.04 638.24L241.49 637.18L245.94 635.54L250.39 634.47L254.84 633.44L259.28 632.33L263.73 630.93L268.18 629.47L272.63 628.84L277.08 627.59M56.9 803.41L59.12 816.17L61.35 817.58L63.57 805.29L65.8 828.99L68.02 832.53L70.24 823.62L72.47 830.55L74.69 816.08L76.92 812.06L79.14 806.73L81.36 815.49L83.59 825.91L85.81 812.91L88.04 814.52L90.26 829.27L92.48 802.16L94.71 830.91L96.93 817.67L99.16 830.62L101.38 810.77L103.6 833.65L105.83 826.59L108.05 820.27L110.28 829.91L112.5 810.85L114.72 823.09L116.95 829.14L119.17 825.11L121.4 833.74L123.62 816.08L125.84 804.83L128.07 804.44L130.29 822.27L132.52 816.21L134.74 796.5L136.96 799.17L139.19 789.86L141.41 786.56L143.64 779.86L145.86 774.41L148.08 768.6L150.31 762.8L152.53 757.6L154.76 751.56L156.98 745.89L159.2 740.58L161.43 734.32L163.65 727.63L165.88 721.08L168.1 714.7L170.32 708.25L172.55 703.15L174.77 697.9L179.22 690.53L183.67 685.51L188.12 681.66L192.56 678.2L197.01 674.59L201.46 671.59L205.91 668.23L210.36 666.19L214.8 663.3L219.25 660.49L223.7 657.77L228.15 655.24L232.6 653.52L237.04 651.49L241.49 649.21L245.94 647.15L250.39 645.46L254.84 644.21L259.28 642.05L263.73 640.57L268.18 639.18L272.63 638.49L277.08 636.64M56.9 800.26L59.12 826.76L61.35 812.41L63.57 829.1L65.8 805.45L68.02 803.16L70.24 831.1L72.47 831.89L74.69 818.39L76.92 817.59L79.14 804.52L81.36 830.3L83.59 828.95L85.81 832.77L88.04 814.04L90.26 820.23L92.48 821.16L94.71 808.26L96.93 832.09L99.16 814.71L101.38 805.22L103.6 807.53L105.83 813.26L108.05 813.54L110.28 810.88L112.5 801.32L114.72 819.6L116.95 814.29L119.17 822.87L121.4 815.43L123.62 807.64L125.84 805.02L128.07 795.1L130.29 793.26L132.52 785.55L134.74 777.6L136.96 770.91L139.19 764.08L141.41 757.17L143.64 750.44L145.86 743.41L148.08 736.67L150.31 729.92L152.53 722.91L154.76 715.99L156.98 708.73L159.2 702.93L161.43 697.84L165.88 690.13L170.32 684.76L174.77 680.76L179.22 676.65L183.67 673.63L188.12 670.14L192.56 666.65L197.01 663.66L201.46 661.12L205.91 658.1L210.36 655.34L214.8 653.23L219.25 651.19L223.7 648.65L228.15 646.82L232.6 645.45L237.04 643.06L241.49 641.61L245.94 640.29L250.39 638.3L254.84 637.05L259.28 635.97L263.73 634.55L268.18 632.51L272.63 631.87L277.08 631.39M56.9 831.24L59.12 827.97L61.35 828.31L63.57 831.99L65.8 810.4L68.02 802.11L70.24 801.89L72.47 803.85L74.69 815.97L76.92 808.27L79.14 820.47L81.36 827L83.59 834.08L85.81 814.93L88.04 817.9L90.26 827.56L92.48 833.38L94.71 816.56L96.93 802.58L99.16 828.6L101.38 819.46L103.6 816.48L105.83 812.65L108.05 804.86L110.28 800.73L112.5 819.47L114.72 832.54L116.95 830.18L119.17 801.16L121.4 810.62L123.62 811.12L125.84 813.2L128.07 809.69L130.29 804.27L132.52 798.79L134.74 801.37L136.96 795.85L139.19 790.98L141.41 784.59L143.64 777.18L145.86 771.48L148.08 765.55L150.31 759.12L152.53 753.47L154.76 747.72L156.98 741.2L159.2 735.51L161.43 729.08L163.65 721.71L165.88 715.27L168.1 708.65L170.32 703.48L172.55 698.13L177 690.54L181.44 685.29L185.89 681.2L190.34 678.09L194.79 674.57L199.24 671.46L203.68 668.55L208.13 665.21L212.58 662.38L217.03 660.27L221.48 657.22L225.92 655L230.37 652.46L234.82 650.59L239.27 648.66L243.72 646.74L248.16 645.51L252.61 643.34L257.06 641.52L261.51 640.8L265.96 638.72L270.4 637.53L274.85 635.95L279.3 634.75M56.9 801.56L59.12 805.27L61.35 800.69L63.57 813.8L65.8 821.6L68.02 826.69L70.24 828.98L72.47 808.64L74.69 830.22L76.92 801.56L79.14 814.65L81.36 810.07L83.59 799.88L85.81 802.13L88.04 830.83L90.26 820.55L92.48 806.39L94.71 807.69L96.93 804.45L99.16 813.53L101.38 827.17L103.6 831.92L105.83 821.7L108.05 802.51L110.28 800.38L112.5 806.08L114.72 806.31L116.95 827.79L119.17 826.87L121.4 823.91L123.62 814.54L125.84 821.22L128.07 825.32L130.29 812.55L132.52 803.39L134.74 810.13L136.96 803.13L139.19 794.54L141.41 790.47L143.64 788.21L145.86 782.02L148.08 776.21L150.31 769.97L152.53 764.73L154.76 759.38L156.98 753.95L159.2 748.49L161.43 742.91L163.65 737.08L165.88 730.46L168.1 724.3L170.32 717.93L172.55 711.82L174.77 705.72L177 700.7L181.44 692.45L185.89 686.67L190.34 682.58L194.79 679.04L199.24 676.29L203.68 672.63L208.13 669.59L212.58 667.08L217.03 664.42L221.48 661.38L225.92 658.77L230.37 656.36L234.82 654.03L239.27 652.14L243.72 649.97L248.16 648.15L252.61 646.98L257.06 644.86L261.51 643.3L265.96 641.96L270.4 639.74L274.85 638.56L279.3 637.24" fill="none" stroke="#7B3F00" stroke-width="1.1" stroke-linejoin="round" clip-path="url(#cliph)"/>
<path d="M56.9 823.77h5M279.3 823.77h-5M56.9 819.66h5M279.3 819.66h-5M56.9 816.74h5M279.3 816.74h-5M56.9 814.48h5M279.3 814.48h-5M56.9 812.63h5M279.3 812.63h-5M56.9 811.06h5M279.3 811.06h-5M56.9 809.71h5M279.3 809.71h-5M56.9 808.51h5M279.3 808.51h-5M56.9 800.41h5M279.3 800.41h-5M56.9 796.3h5M279.3 796.3h-5M56.9 793.38h5M279.3 793.38h-5M56.9 791.12h5M279.3 791.12h-5M56.9 789.27h5M279.3 789.27h-5M56.9 787.71h5M279.3 787.71h-5M56.9 786.35h5M279.3 786.35h-5M56.9 785.16h5M279.3 785.16h-5M56.9 777.06h5M279.3 777.06h-5M56.9 772.95h5M279.3 772.95h-5M56.9 770.03h5M279.3 770.03h-5M56.9 767.76h5M279.3 767.76h-5M56.9 765.91h5M279.3 765.91h-5M56.9 764.35h5M279.3 764.35h-5M56.9 763h5M279.3 763h-5M56.9 761.8h5M279.3 761.8h-5M56.9 753.7h5M279.3 753.7h-5M56.9 749.59h5M279.3 749.59h-5M56.9 746.67h5M279.3 746.67h-5M56.9 744.41h5M279.3 744.41h-5M56.9 742.56h5M279.3 742.56h-5M56.9 741h5M279.3 741h-5M56.9 739.64h5M279.3 739.64h-5M56.9 738.45h5M279.3 738.45h-5M56.9 730.35h5M279.3 730.35h-5M56.9 726.23h5M279.3 726.23h-5M56.9 723.32h5M279.3 723.32h-5M56.9 721.05h5M279.3 721.05h-5M56.9 719.2h5M279.3 719.2h-5M56.9 717.64h5M279.3 717.64h-5M56.9 716.29h5M279.3 716.29h-5M56.9 715.09h5M279.3 715.09h-5M56.9 706.99h5M279.3 706.99h-5M56.9 702.88h5M279.3 702.88h-5M56.9 699.96h5M279.3 699.96h-5M56.9 697.7h5M279.3 697.7h-5M56.9 695.85h5M279.3 695.85h-5M56.9 694.28h5M279.3 694.28h-5M56.9 692.93h5M279.3 692.93h-5M56.9 691.74h5M279.3 691.74h-5M56.9 683.64h5M279.3 683.64h-5M56.9 679.52h5M279.3 679.52h-5M56.9 676.61h5M279.3 676.61h-5M56.9 674.34h5M279.3 674.34h-5M56.9 672.49h5M279.3 672.49h-5M56.9 670.93h5M279.3 670.93h-5M56.9 669.57h5M279.3 669.57h-5M56.9 668.38h5M279.3 668.38h-5M56.9 660.28h5M279.3 660.28h-5M56.9 656.17h5M279.3 656.17h-5M56.9 653.25h5M279.3 653.25h-5M56.9 650.99h5M279.3 650.99h-5M56.9 649.14h5M279.3 649.14h-5M56.9 647.57h5M279.3 647.57h-5M56.9 646.22h5M279.3 646.22h-5M56.9 645.02h5M279.3 645.02h-5M56.9 636.92h5M279.3 636.92h-5M56.9 632.81h5M279.3 632.81h-5M56.9 629.89h5M279.3 629.89h-5M56.9 627.63h5M279.3 627.63h-5M56.9 625.78h5M279.3 625.78h-5M56.9 624.22h5M279.3 624.22h-5M56.9 622.86h5M279.3 622.86h-5M56.9 621.67h5M279.3 621.67h-5" stroke="#3c3c3c" stroke-width="0.7"/>
<line x1="56.9" y1="830.8" x2="63.9" y2="830.8" stroke="#3c3c3c" stroke-width="1" />
<line x1="279.3" y1="830.8" x2="272.3" y2="830.8" stroke="#3c3c3c" stroke-width="1" />
<line x1="56.9" y1="784.09" x2="63.9" y2="784.09" stroke="#3c3c3c" stroke-width="1" />
<line x1="279.3" y1="784.09" x2="272.3" y2="784.09" stroke="#3c3c3c" stroke-width="1" />
<line x1="56.9" y1="737.38" x2="63.9" y2="737.38" stroke="#3c3c3c" stroke-width="1" />
<line x1="279.3" y1="737.38" x2="272.3" y2="737.38" stroke="#3c3c3c" stroke-width="1" />
<line x1="56.9" y1="690.67" x2="63.9" y2="690.67" stroke="#3c3c3c" stroke-width="1" />
<line x1="279.3" y1="690.67" x2="272.3" y2="690.67" stroke="#3c3c3c" stroke-width="1" />
<line x1="56.9" y1="643.96" x2="63.9" y2="643.96" stroke="#3c3c3c" stroke-width="1" />
<line x1="279.3" y1="643.96" x2="272.3" y2="643.96" stroke="#3c3c3c" stroke-width="1" />
<line x1="56.9" y1="620.6" x2="56.9" y2="626.6" stroke="#3c3c3c" stroke-width="1" />
<line x1="56.9" y1="830.8" x2="56.9" y2="824.8" stroke="#3c3c3c" stroke-width="1" />
<line x1="101.38" y1="620.6" x2="101.38" y2="626.6" stroke="#3c3c3c" stroke-width="1" />
<line x1="101.38" y1="830.8" x2="101.38" y2="824.8" stroke="#3c3c3c" stroke-width="1" />
<line x1="145.86" y1="620.6" x2="145.86" y2="626.6" stroke="#3c3c3c" stroke-width="1" />
<line x1="145.86" y1="830.8" x2="145.86" y2="824.8" stroke="#3c3c3c" stroke-width="1" />
<line x1="190.34" y1="620.6" x2="190.34" y2="626.6" stroke="#3c3c3c" stroke-width="1" />
<line x1="190.34" y1="830.8" x2="190.34" y2="824.8" stroke="#3c3c3c" stroke-width="1" />
<line x1="234.82" y1="620.6" x2="234.82" y2="626.6" stroke="#3c3c3c" stroke-width="1" />
<line x1="234.82" y1="830.8" x2="234.82" y2="824.8" stroke="#3c3c3c" stroke-width="1" />
<line x1="279.3" y1="620.6" x2="279.3" y2="626.6" stroke="#3c3c3c" stroke-width="1" />
<line x1="279.3" y1="830.8" x2="279.3" y2="824.8" stroke="#3c3c3c" stroke-width="1" />
<rect x="56.9" y="620.6" width="222.4" height="210.2" fill="none" stroke="#3c3c3c" stroke-width="1.1"/>
<text x="52.4" y="837.3" font-size="12.3" fill="#2a2a2a" text-anchor="end">10<tspan font-size="9.5" dy="-6.0" dx="0.6">-14</tspan></text>
<text x="52.4" y="790.59" font-size="12.3" fill="#2a2a2a" text-anchor="end">10<tspan font-size="9.5" dy="-6.0" dx="0.6">-12</tspan></text>
<text x="52.4" y="743.88" font-size="12.3" fill="#2a2a2a" text-anchor="end">10<tspan font-size="9.5" dy="-6.0" dx="0.6">-10</tspan></text>
<text x="52.4" y="697.17" font-size="12.3" fill="#2a2a2a" text-anchor="end">10<tspan font-size="9.5" dy="-6.0" dx="0.6">-8</tspan></text>
<text x="52.4" y="650.46" font-size="12.3" fill="#2a2a2a" text-anchor="end">10<tspan font-size="9.5" dy="-6.0" dx="0.6">-6</tspan></text>
<text x="56.9" y="848.3" font-size="11.5" fill="#2a2a2a" text-anchor="middle" font-family='"Liberation Sans", sans-serif' >-2</text>
<text x="101.38" y="848.3" font-size="11.5" fill="#2a2a2a" text-anchor="middle" font-family='"Liberation Sans", sans-serif' >-1</text>
<text x="145.86" y="848.3" font-size="11.5" fill="#2a2a2a" text-anchor="middle" font-family='"Liberation Sans", sans-serif' >0</text>
<text x="190.34" y="848.3" font-size="11.5" fill="#2a2a2a" text-anchor="middle" font-family='"Liberation Sans", sans-serif' >1</text>
<text x="234.82" y="848.3" font-size="11.5" fill="#2a2a2a" text-anchor="middle" font-family='"Liberation Sans", sans-serif' >2</text>
<text x="279.3" y="848.3" font-size="11.5" fill="#2a2a2a" text-anchor="middle" font-family='"Liberation Sans", sans-serif' >3</text>
<text x="143.4" y="866.3" font-size="13.5" fill="#2a2a2a"><tspan>V</tspan><tspan font-size="11.2" dy="7.3">BG</tspan><tspan dy="-7.3"> (V)</tspan></text>
<text font-size="13.5" fill="#2a2a2a" transform="translate(9.8 759.3) rotate(-90)">I<tspan font-size="11.3" dy="7.6">DS</tspan><tspan dy="-7.6"> (A/</tspan><tspan font-family="Liberation Serif" font-style="italic">μ</tspan>m)</text>
<text x="120.2" y="643.4" font-size="13.2" fill="#000" text-anchor="middle" font-family='"Liberation Sans", sans-serif' >100 MoS<tspan font-size="8.5" dy="3">2</tspan></text>
<text x="120.2" y="658.9" font-size="13.2" fill="#000" text-anchor="middle" font-family='"Liberation Sans", sans-serif' >memtransistors</text>
<text x="196.5" y="763.6" font-size="13.2" fill="#000"><tspan font-family='"Liberation Serif", serif' font-style="italic">T</tspan> = 300 K</text>
<text x="196.5" y="777.8" font-size="13.2" fill="#000"><tspan font-family='"Liberation Serif", serif' font-style="italic">V</tspan><tspan font-size="7.5" dy="2.5">DS</tspan><tspan dy="-2.5"> = 1 V</tspan></text>
<rect x="317" y="587.2" width="21.3" height="21.2" fill="#dcdcdc" />
<text x="327.65" y="602.48" font-size="13" fill="#000" text-anchor="middle" font-family='"Liberation Sans", sans-serif' >i</text>
<rect x="355.1" y="767.95" width="21.18" height="63.15" fill="#A6ECD3" stroke="#4a5a55" stroke-width="0.8"/>
<rect x="376.28" y="648.67" width="21.18" height="182.43" fill="#A6ECD3" stroke="#4a5a55" stroke-width="0.8"/>
<rect x="397.46" y="704.8" width="21.18" height="126.3" fill="#A6ECD3" stroke="#4a5a55" stroke-width="0.8"/>
<rect x="418.64" y="683.75" width="21.18" height="147.35" fill="#A6ECD3" stroke="#4a5a55" stroke-width="0.8"/>
<rect x="439.82" y="732.87" width="21.18" height="98.23" fill="#A6ECD3" stroke="#4a5a55" stroke-width="0.8"/>
<rect x="461" y="796.02" width="21.18" height="35.08" fill="#A6ECD3" stroke="#4a5a55" stroke-width="0.8"/>
<rect x="482.18" y="796.02" width="21.18" height="35.08" fill="#A6ECD3" stroke="#4a5a55" stroke-width="0.8"/>
<rect x="503.36" y="817.07" width="21.18" height="14.03" fill="#A6ECD3" stroke="#4a5a55" stroke-width="0.8"/>
<rect x="545.72" y="824.08" width="21.18" height="7.02" fill="#A6ECD3" stroke="#4a5a55" stroke-width="0.8"/>
<rect x="345" y="620.6" width="232.5" height="210.5" fill="none" stroke="#3c3c3c" stroke-width="1.1"/>
<line x1="345" y1="831.1" x2="351" y2="831.1" stroke="#3c3c3c" stroke-width="1" />
<line x1="577.5" y1="831.1" x2="571.5" y2="831.1" stroke="#3c3c3c" stroke-width="1" />
<text x="340" y="835.3" font-size="11.5" fill="#2a2a2a" text-anchor="end" font-family='"Liberation Sans", sans-serif' >0</text>
<line x1="345" y1="796.02" x2="351" y2="796.02" stroke="#3c3c3c" stroke-width="1" />
<line x1="577.5" y1="796.02" x2="571.5" y2="796.02" stroke="#3c3c3c" stroke-width="1" />
<text x="340" y="800.22" font-size="11.5" fill="#2a2a2a" text-anchor="end" font-family='"Liberation Sans", sans-serif' >5</text>
<line x1="345" y1="760.93" x2="351" y2="760.93" stroke="#3c3c3c" stroke-width="1" />
<line x1="577.5" y1="760.93" x2="571.5" y2="760.93" stroke="#3c3c3c" stroke-width="1" />
<text x="340" y="765.13" font-size="11.5" fill="#2a2a2a" text-anchor="end" font-family='"Liberation Sans", sans-serif' >10</text>
<line x1="345" y1="725.85" x2="351" y2="725.85" stroke="#3c3c3c" stroke-width="1" />
<line x1="577.5" y1="725.85" x2="571.5" y2="725.85" stroke="#3c3c3c" stroke-width="1" />
<text x="340" y="730.05" font-size="11.5" fill="#2a2a2a" text-anchor="end" font-family='"Liberation Sans", sans-serif' >15</text>
<line x1="345" y1="690.77" x2="351" y2="690.77" stroke="#3c3c3c" stroke-width="1" />
<line x1="577.5" y1="690.77" x2="571.5" y2="690.77" stroke="#3c3c3c" stroke-width="1" />
<text x="340" y="694.97" font-size="11.5" fill="#2a2a2a" text-anchor="end" font-family='"Liberation Sans", sans-serif' >20</text>
<line x1="345" y1="655.68" x2="351" y2="655.68" stroke="#3c3c3c" stroke-width="1" />
<line x1="577.5" y1="655.68" x2="571.5" y2="655.68" stroke="#3c3c3c" stroke-width="1" />
<text x="340" y="659.88" font-size="11.5" fill="#2a2a2a" text-anchor="end" font-family='"Liberation Sans", sans-serif' >25</text>
<line x1="345" y1="620.6" x2="351" y2="620.6" stroke="#3c3c3c" stroke-width="1" />
<line x1="577.5" y1="620.6" x2="571.5" y2="620.6" stroke="#3c3c3c" stroke-width="1" />
<text x="340" y="624.8" font-size="11.5" fill="#2a2a2a" text-anchor="end" font-family='"Liberation Sans", sans-serif' >30</text>
<line x1="355.1" y1="620.6" x2="355.1" y2="626.6" stroke="#3c3c3c" stroke-width="1" />
<line x1="355.1" y1="831.1" x2="355.1" y2="825.1" stroke="#3c3c3c" stroke-width="1" />
<text x="355.1" y="849.3" font-size="11.5" fill="#2a2a2a" text-anchor="middle" font-family='"Liberation Sans", sans-serif' >2</text>
<line x1="395.1" y1="620.6" x2="395.1" y2="626.6" stroke="#3c3c3c" stroke-width="1" />
<line x1="395.1" y1="831.1" x2="395.1" y2="825.1" stroke="#3c3c3c" stroke-width="1" />
<text x="395.1" y="849.3" font-size="11.5" fill="#2a2a2a" text-anchor="middle" font-family='"Liberation Sans", sans-serif' >3</text>
<line x1="435.1" y1="620.6" x2="435.1" y2="626.6" stroke="#3c3c3c" stroke-width="1" />
<line x1="435.1" y1="831.1" x2="435.1" y2="825.1" stroke="#3c3c3c" stroke-width="1" />
<text x="435.1" y="849.3" font-size="11.5" fill="#2a2a2a" text-anchor="middle" font-family='"Liberation Sans", sans-serif' >4</text>
<line x1="475.1" y1="620.6" x2="475.1" y2="626.6" stroke="#3c3c3c" stroke-width="1" />
<line x1="475.1" y1="831.1" x2="475.1" y2="825.1" stroke="#3c3c3c" stroke-width="1" />
<text x="475.1" y="849.3" font-size="11.5" fill="#2a2a2a" text-anchor="middle" font-family='"Liberation Sans", sans-serif' >5</text>
<line x1="515.1" y1="620.6" x2="515.1" y2="626.6" stroke="#3c3c3c" stroke-width="1" />
<line x1="515.1" y1="831.1" x2="515.1" y2="825.1" stroke="#3c3c3c" stroke-width="1" />
<text x="515.1" y="849.3" font-size="11.5" fill="#2a2a2a" text-anchor="middle" font-family='"Liberation Sans", sans-serif' >6</text>
<line x1="555.1" y1="620.6" x2="555.1" y2="626.6" stroke="#3c3c3c" stroke-width="1" />
<line x1="555.1" y1="831.1" x2="555.1" y2="825.1" stroke="#3c3c3c" stroke-width="1" />
<text x="555.1" y="849.3" font-size="11.5" fill="#2a2a2a" text-anchor="middle" font-family='"Liberation Sans", sans-serif' >7</text>
<text font-size="14" fill="#2a2a2a" text-anchor="middle" transform="translate(320.5 725.85) rotate(-90)">Count</text>
<text x="419.5" y="871" font-size="13.5" fill="#2a2a2a"><tspan font-family="Liberation Serif" font-style="italic">μ</tspan><tspan font-size="11.2" dy="8">FE</tspan><tspan dy="-8"> (cm</tspan><tspan font-size="9.5" dy="-5.8">2</tspan><tspan dy="5.8">/V-s)</tspan></text>
<rect x="615.5" y="587" width="21.2" height="20.7" fill="#dcdcdc" />
<text x="626.1" y="602.03" font-size="13" fill="#000" text-anchor="middle" font-family='"Liberation Sans", sans-serif' >j</text>
<rect x="659" y="820.91" width="21.12" height="8.39" fill="#C4C4FA" stroke="#50506a" stroke-width="0.8"/>
<rect x="680.12" y="787.36" width="21.12" height="41.94" fill="#C4C4FA" stroke="#50506a" stroke-width="0.8"/>
<rect x="701.24" y="745.42" width="21.12" height="83.88" fill="#C4C4FA" stroke="#50506a" stroke-width="0.8"/>
<rect x="722.36" y="636.38" width="21.12" height="192.92" fill="#C4C4FA" stroke="#50506a" stroke-width="0.8"/>
<rect x="743.48" y="745.42" width="21.12" height="83.88" fill="#C4C4FA" stroke="#50506a" stroke-width="0.8"/>
<rect x="764.6" y="686.7" width="21.12" height="142.6" fill="#C4C4FA" stroke="#50506a" stroke-width="0.8"/>
<rect x="785.72" y="661.54" width="21.12" height="167.76" fill="#C4C4FA" stroke="#50506a" stroke-width="0.8"/>
<rect x="806.84" y="778.97" width="21.12" height="50.33" fill="#C4C4FA" stroke="#50506a" stroke-width="0.8"/>
<rect x="827.96" y="778.97" width="21.12" height="50.33" fill="#C4C4FA" stroke="#50506a" stroke-width="0.8"/>
<rect x="849.08" y="804.14" width="21.12" height="25.16" fill="#C4C4FA" stroke="#50506a" stroke-width="0.8"/>
<rect x="648.6" y="619.6" width="232" height="209.7" fill="none" stroke="#3c3c3c" stroke-width="1.1"/>
<line x1="648.6" y1="829.3" x2="654.6" y2="829.3" stroke="#3c3c3c" stroke-width="1" />
<line x1="880.6" y1="829.3" x2="874.6" y2="829.3" stroke="#3c3c3c" stroke-width="1" />
<text x="643.6" y="833.5" font-size="11.5" fill="#2a2a2a" text-anchor="end" font-family='"Liberation Sans", sans-serif' >0</text>
<line x1="648.6" y1="787.36" x2="654.6" y2="787.36" stroke="#3c3c3c" stroke-width="1" />
<line x1="880.6" y1="787.36" x2="874.6" y2="787.36" stroke="#3c3c3c" stroke-width="1" />
<text x="643.6" y="791.56" font-size="11.5" fill="#2a2a2a" text-anchor="end" font-family='"Liberation Sans", sans-serif' >5</text>
<line x1="648.6" y1="745.42" x2="654.6" y2="745.42" stroke="#3c3c3c" stroke-width="1" />
<line x1="880.6" y1="745.42" x2="874.6" y2="745.42" stroke="#3c3c3c" stroke-width="1" />
<text x="643.6" y="749.62" font-size="11.5" fill="#2a2a2a" text-anchor="end" font-family='"Liberation Sans", sans-serif' >10</text>
<line x1="648.6" y1="703.48" x2="654.6" y2="703.48" stroke="#3c3c3c" stroke-width="1" />
<line x1="880.6" y1="703.48" x2="874.6" y2="703.48" stroke="#3c3c3c" stroke-width="1" />
<text x="643.6" y="707.68" font-size="11.5" fill="#2a2a2a" text-anchor="end" font-family='"Liberation Sans", sans-serif' >15</text>
<line x1="648.6" y1="661.54" x2="654.6" y2="661.54" stroke="#3c3c3c" stroke-width="1" />
<line x1="880.6" y1="661.54" x2="874.6" y2="661.54" stroke="#3c3c3c" stroke-width="1" />
<text x="643.6" y="665.74" font-size="11.5" fill="#2a2a2a" text-anchor="end" font-family='"Liberation Sans", sans-serif' >20</text>
<line x1="648.6" y1="619.6" x2="654.6" y2="619.6" stroke="#3c3c3c" stroke-width="1" />
<line x1="880.6" y1="619.6" x2="874.6" y2="619.6" stroke="#3c3c3c" stroke-width="1" />
<text x="643.6" y="623.8" font-size="11.5" fill="#2a2a2a" text-anchor="end" font-family='"Liberation Sans", sans-serif' >25</text>
<line x1="674.5" y1="619.6" x2="674.5" y2="625.6" stroke="#3c3c3c" stroke-width="1" />
<line x1="674.5" y1="829.3" x2="674.5" y2="823.3" stroke="#3c3c3c" stroke-width="1" />
<text x="674.5" y="846.4" font-size="11.5" fill="#2a2a2a" text-anchor="middle" font-family='"Liberation Sans", sans-serif' >150</text>
<line x1="749.7" y1="619.6" x2="749.7" y2="625.6" stroke="#3c3c3c" stroke-width="1" />
<line x1="749.7" y1="829.3" x2="749.7" y2="823.3" stroke="#3c3c3c" stroke-width="1" />
<text x="749.7" y="846.4" font-size="11.5" fill="#2a2a2a" text-anchor="middle" font-family='"Liberation Sans", sans-serif' >200</text>
<line x1="825" y1="619.6" x2="825" y2="625.6" stroke="#3c3c3c" stroke-width="1" />
<line x1="825" y1="829.3" x2="825" y2="823.3" stroke="#3c3c3c" stroke-width="1" />
<text x="825" y="846.4" font-size="11.5" fill="#2a2a2a" text-anchor="middle" font-family='"Liberation Sans", sans-serif' >250</text>
<text x="764.5" y="864.4" font-size="13.5" fill="#2a2a2a" text-anchor="middle" font-family='"Liberation Sans", sans-serif' >SS (mV/dec)</text>
<text font-size="14" fill="#2a2a2a" text-anchor="middle" transform="translate(624.5 724.45) rotate(-90)">Count</text>
<rect x="907.2" y="587" width="21.2" height="20.7" fill="#dcdcdc" />
<text x="917.8" y="602.03" font-size="13" fill="#000" text-anchor="middle" font-family='"Liberation Sans", sans-serif' >k</text>
<rect x="960.8" y="822.39" width="21.43" height="8.41" fill="#FFB4B4" stroke="#6a5050" stroke-width="0.8"/>
<rect x="1003.66" y="822.39" width="21.43" height="8.41" fill="#FFB4B4" stroke="#6a5050" stroke-width="0.8"/>
<rect x="1025.09" y="771.94" width="21.43" height="58.86" fill="#FFB4B4" stroke="#6a5050" stroke-width="0.8"/>
<rect x="1046.52" y="654.23" width="21.43" height="176.57" fill="#FFB4B4" stroke="#6a5050" stroke-width="0.8"/>
<rect x="1067.95" y="763.54" width="21.43" height="67.26" fill="#FFB4B4" stroke="#6a5050" stroke-width="0.8"/>
<rect x="1089.38" y="704.68" width="21.43" height="126.12" fill="#FFB4B4" stroke="#6a5050" stroke-width="0.8"/>
<rect x="1110.81" y="637.42" width="21.43" height="193.38" fill="#FFB4B4" stroke="#6a5050" stroke-width="0.8"/>
<rect x="1132.24" y="662.64" width="21.43" height="168.16" fill="#FFB4B4" stroke="#6a5050" stroke-width="0.8"/>
<rect x="1153.67" y="788.76" width="21.43" height="42.04" fill="#FFB4B4" stroke="#6a5050" stroke-width="0.8"/>
<rect x="950.4" y="620.6" width="235.9" height="210.2" fill="none" stroke="#3c3c3c" stroke-width="1.1"/>
<line x1="950.4" y1="830.8" x2="956.4" y2="830.8" stroke="#3c3c3c" stroke-width="1" />
<line x1="1186.3" y1="830.8" x2="1180.3" y2="830.8" stroke="#3c3c3c" stroke-width="1" />
<text x="945.4" y="835" font-size="11.5" fill="#2a2a2a" text-anchor="end" font-family='"Liberation Sans", sans-serif' >0</text>
<line x1="950.4" y1="788.76" x2="956.4" y2="788.76" stroke="#3c3c3c" stroke-width="1" />
<line x1="1186.3" y1="788.76" x2="1180.3" y2="788.76" stroke="#3c3c3c" stroke-width="1" />
<text x="945.4" y="792.96" font-size="11.5" fill="#2a2a2a" text-anchor="end" font-family='"Liberation Sans", sans-serif' >5</text>
<line x1="950.4" y1="746.72" x2="956.4" y2="746.72" stroke="#3c3c3c" stroke-width="1" />
<line x1="1186.3" y1="746.72" x2="1180.3" y2="746.72" stroke="#3c3c3c" stroke-width="1" />
<text x="945.4" y="750.92" font-size="11.5" fill="#2a2a2a" text-anchor="end" font-family='"Liberation Sans", sans-serif' >10</text>
<line x1="950.4" y1="704.68" x2="956.4" y2="704.68" stroke="#3c3c3c" stroke-width="1" />
<line x1="1186.3" y1="704.68" x2="1180.3" y2="704.68" stroke="#3c3c3c" stroke-width="1" />
<text x="945.4" y="708.88" font-size="11.5" fill="#2a2a2a" text-anchor="end" font-family='"Liberation Sans", sans-serif' >15</text>
<line x1="950.4" y1="662.64" x2="956.4" y2="662.64" stroke="#3c3c3c" stroke-width="1" />
<line x1="1186.3" y1="662.64" x2="1180.3" y2="662.64" stroke="#3c3c3c" stroke-width="1" />
<text x="945.4" y="666.84" font-size="11.5" fill="#2a2a2a" text-anchor="end" font-family='"Liberation Sans", sans-serif' >20</text>
<line x1="950.4" y1="620.6" x2="956.4" y2="620.6" stroke="#3c3c3c" stroke-width="1" />
<line x1="1186.3" y1="620.6" x2="1180.3" y2="620.6" stroke="#3c3c3c" stroke-width="1" />
<text x="945.4" y="624.8" font-size="11.5" fill="#2a2a2a" text-anchor="end" font-family='"Liberation Sans", sans-serif' >25</text>
<line x1="1006.8" y1="620.6" x2="1006.8" y2="626.6" stroke="#3c3c3c" stroke-width="1" />
<line x1="1006.8" y1="830.8" x2="1006.8" y2="824.8" stroke="#3c3c3c" stroke-width="1" />
<text x="1006.8" y="847.9" font-size="11.5" fill="#2a2a2a" text-anchor="middle" font-family='"Liberation Sans", sans-serif' >0.5</text>
<line x1="1083.4" y1="620.6" x2="1083.4" y2="626.6" stroke="#3c3c3c" stroke-width="1" />
<line x1="1083.4" y1="830.8" x2="1083.4" y2="824.8" stroke="#3c3c3c" stroke-width="1" />
<text x="1083.4" y="847.9" font-size="11.5" fill="#2a2a2a" text-anchor="middle" font-family='"Liberation Sans", sans-serif' >1</text>
<line x1="1160" y1="620.6" x2="1160" y2="626.6" stroke="#3c3c3c" stroke-width="1" />
<line x1="1160" y1="830.8" x2="1160" y2="824.8" stroke="#3c3c3c" stroke-width="1" />
<text x="1160" y="847.9" font-size="11.5" fill="#2a2a2a" text-anchor="middle" font-family='"Liberation Sans", sans-serif' >1.5</text>
<text font-size="14" fill="#2a2a2a" text-anchor="middle" transform="translate(925 725.7) rotate(-90)">Count</text>
<text x="1044.6" y="866" font-size="13.5" fill="#2a2a2a"><tspan>V</tspan><tspan font-size="11.2" dy="7.3">TH</tspan><tspan dy="-7.3"> (V)</tspan></text>
<rect x="31.75" y="880" width="21.25" height="21.25" fill="#dcdcdc" />
<text x="42.38" y="895.3" font-size="13" fill="#000" text-anchor="middle" font-family='"Liberation Sans", sans-serif' >l</text>
<clipPath id="clipl"><rect x="59.2" y="912" width="177.0" height="205.29999999999995"/></clipPath>
<path d="M113.84 1090.86L114.6 1111.76L115.36 1099.64" fill="none" stroke="#0000ff" stroke-width="1.4" stroke-linejoin="round" clip-path="url(#clipl)"/>
<path d="M99.23 1092.71L99.99 1104.58L100.74 1101.44" fill="none" stroke="#0000ff" stroke-width="1.4" stroke-linejoin="round" clip-path="url(#clipl)"/>
<path d="M79.84 1094.66L80.59 1103.72L81.35 1093.17" fill="none" stroke="#0000ff" stroke-width="1.4" stroke-linejoin="round" clip-path="url(#clipl)"/>
<path d="M75.99 1099.67L76.75 1105.5L77.51 1102.16" fill="none" stroke="#0000ff" stroke-width="1.4" stroke-linejoin="round" clip-path="url(#clipl)"/>
<path d="M132.02 1091.93L133.03 1085.31L134.05 1078.99L135.06 1072.4L136.07 1066.49L137.08 1060.46L138.09 1052.94L139.1 1046.98L140.11 1040.05L141.13 1035.04L142.14 1031.54L143.15 1028.91L144.16 1024.77L145.17 1020.73L146.18 1017.86L147.19 1013.84L148.21 1010.66L149.22 1007.66L150.23 1005.3L151.24 1003.44L152.25 1001.04L153.26 998.42L154.27 995.53L155.29 993.57L156.3 992.58L157.31 991.16L158.32 989.48L159.33 987.88L160.34 986.23L161.35 984.88L162.37 984.17L163.38 981.99L164.39 980.79L165.4 979.7L166.41 978.08L167.42 976.87L168.43 975.72L169.45 975.01L170.46 973.27L171.47 971.97L172.48 971.03L173.49 970.41L174.5 968.71L175.51 967.6L176.53 966.76L177.54 965.7L178.55 965L179.56 964.17L180.57 962.92L181.58 962.32L182.59 961.32L183.61 959.57L184.62 959.57L185.63 959L186.64 958.81L187.65 957.58L188.66 956.71L189.67 956.51L190.69 955.75L191.7 955.77L192.71 954.33L193.72 954.14L194.73 953.22L195.74 952.52L196.75 952.5L197.77 951.65L198.78 951.39L199.79 951.05L200.8 950.59L201.81 950.29L202.82 949.16L203.83 948.82L204.85 948.94L205.86 947.91L206.87 947.95L207.88 947.74L208.89 946.48L209.9 946.81L210.91 945.64L211.93 945.54L212.94 944.92L213.95 944.66L214.96 944.08L215.97 943.97L216.98 943.54L217.99 943.31L219.01 942.72L220.02 942.87L221.03 942.14L222.04 941.71L223.05 941.92L224.06 941.52L225.07 941.58L226.09 941.3L227.1 940.93L228.11 940.93L229.12 940.94L230.13 940.54L231.14 940.35L232.15 940.21L233.17 940.01L234.18 940.72L235.19 939.7L236.2 940.18" fill="none" stroke="#0000ff" stroke-width="1.4" stroke-linejoin="round" clip-path="url(#clipl)"/>
<path d="M114.83 1091.73L115.84 1086.2L116.85 1079.63L117.86 1073.01L118.87 1065.09L119.89 1057.4L120.9 1050.91L121.91 1043.34L122.92 1036.61L123.93 1032.8L124.94 1029.59L125.95 1025.49L126.97 1022.12L127.98 1018.02L128.99 1015.48L130 1012.35L131.01 1008.47L132.02 1008.11L133.03 1005.45L134.05 1003.61L135.06 1001.36L136.07 997.81L137.08 996.23L138.09 993.56L139.1 993.4L140.11 991.32L141.13 988.88L142.14 987.31L143.15 985.69L144.16 984.05L145.17 982.7L146.18 981.13L147.19 979.56L148.21 977.79L149.22 976.61L150.23 975L151.24 973.23L152.25 972.64L153.26 971.17L154.27 969.45L155.29 968.42L156.3 967.15L157.31 965.26L158.32 964.61L159.33 963.75L160.34 962.2L161.35 960.73L162.37 960.85L163.38 959.77L164.39 958.63L165.4 958L166.41 956.33L167.42 956.07L168.43 955.65L169.45 954.71L170.46 954.49L171.47 953.87L172.48 953.15L173.49 951.97L174.5 952.94L175.51 951.66L176.53 950.92L177.54 950.66L178.55 949.85L179.56 949.86L180.57 949.52L181.58 949.17L182.59 948.97L183.61 947.78L184.62 948.24L185.63 947.5L186.64 947.22L187.65 946.9L188.66 946.95L189.67 946L190.69 945.46L191.7 945.09L192.71 944.5L193.72 944.45L194.73 944.24L195.74 943.6L196.75 943.15L197.77 943.29L198.78 943.16L199.79 942.68L200.8 941.72L201.81 941.43L202.82 941.71L203.83 941.11L204.85 940.6L205.86 940.17L206.87 940.51L207.88 940.12L208.89 939.36L209.9 938.8L210.91 938.83L211.93 939.42L212.94 938.71L213.95 938.73L214.96 938.45L215.97 938.43L216.98 938.19L217.99 937.86L219.01 937.13L220.02 937.31L221.03 937.24L222.04 937.22L223.05 937.32L224.06 937.04L225.07 936.47L226.09 936.49L227.1 936.04L228.11 936.48L229.12 936.49L230.13 936.91L231.14 936.23L232.15 936.84L233.17 935.8L234.18 936.44L235.19 936.23L236.2 936.64" fill="none" stroke="#0024ed" stroke-width="1.4" stroke-linejoin="round" clip-path="url(#clipl)"/>
<path d="M94.5 1098.06L95.26 1117.3L96.02 1101.68" fill="none" stroke="#0049db" stroke-width="1.4" stroke-linejoin="round" clip-path="url(#clipl)"/>
<path d="M97.63 1091.82L98.65 1085.65L99.66 1078.33L100.67 1072.95L101.68 1065.38L102.69 1057.13L103.7 1050.55L104.71 1042.86L105.73 1038.07L106.74 1033.17L107.75 1029.25L108.76 1024.51L109.77 1021.6L110.78 1018.31L111.79 1014.32L112.81 1010.61L113.82 1009.39L114.83 1004.68L115.84 1004.37L116.85 1001.48L117.86 999.48L118.87 995.88L119.89 994.72L120.9 993.16L121.91 991.17L122.92 989.62L123.93 988.29L124.94 986.82L125.95 985.53L126.97 983.17L127.98 982.1L128.99 980.58L130 979.04L131.01 977.47L132.02 976.04L133.03 974.69L134.05 972.98L135.06 972.01L136.07 971.4L137.08 969.69L138.09 968.99L139.1 967.95L140.11 966.29L141.13 965.63L142.14 964.47L143.15 963.04L144.16 962.04L145.17 961.39L146.18 960.79L147.19 960.5L148.21 958.74L149.22 958.5L150.23 957.37L151.24 956.65L152.25 956.08L153.26 955.07L154.27 954.8L155.29 954.28L156.3 953.91L157.31 952.92L158.32 952.59L159.33 952.84L160.34 951.98L161.35 951.53L162.37 950.91L163.38 951.21L164.39 950.4L165.4 949.79L166.41 949.46L167.42 948.88L168.43 948.67L169.45 948.94L170.46 948.15L171.47 947.31L172.48 946.77L173.49 946.66L174.5 945.7L175.51 945.87L176.53 945.31L177.54 944.86L178.55 944.6L179.56 943.85L180.57 943.99L181.58 943.81L182.59 942.94L183.61 942.99L184.62 942.68L185.63 942.16L186.64 941.7L187.65 941.57L188.66 940.91L189.67 941.14L190.69 940.98L191.7 940.46L192.71 940.08L193.72 939.06L194.73 938.88L195.74 939.2L196.75 939.02L197.77 938.72L198.78 938.25L199.79 938.34L200.8 937.68L201.81 937.76L202.82 937.91L203.83 937.41L204.85 936.78L205.86 936.36L206.87 936.43L207.88 936.26L208.89 935.71L209.9 935.08L210.91 935.3L211.93 935.7L212.94 935.53L213.95 934.77L214.96 935.06L215.97 935.19L216.98 935.2L217.99 934.9L219.01 934.26L220.02 934.32L221.03 934.39L222.04 934.08L223.05 934.31L224.06 933.65L225.07 933.65L226.09 933.41L227.1 933.7L228.11 933.21L229.12 933.76L230.13 933.11L231.14 933L232.15 933.31L233.17 932.91L234.18 932.75L235.19 933.64L236.2 933.56" fill="none" stroke="#0049db" stroke-width="1.4" stroke-linejoin="round" clip-path="url(#clipl)"/>
<path d="M67.8 1094.66L68.56 1108.3L69.32 1104.57" fill="none" stroke="#006dc8" stroke-width="1.4" stroke-linejoin="round" clip-path="url(#clipl)"/>
<path d="M84.49 1094.28L85.5 1088.42L86.51 1081.81L87.52 1075.87L88.53 1069.17L89.54 1059.76L90.55 1051.9L91.57 1044.89L92.58 1037.87L93.59 1032.17L94.6 1029.17L95.61 1025.11L96.62 1021.85L97.63 1019.36L98.65 1015.54L99.66 1012.11L100.67 1009.5L101.68 1007.2L102.69 1006.04L103.7 1001.75L104.71 999.97L105.73 997.8L106.74 995.76L107.75 995.05L108.76 993.23L109.77 991.26L110.78 989.17L111.79 988.56L112.81 986.5L113.82 985.06L114.83 983.1L115.84 981.29L116.85 980.33L117.86 979.15L118.87 977.31L119.89 976.01L120.9 975.01L121.91 972.92L122.92 972.04L123.93 970.39L124.94 969.76L125.95 967.81L126.97 967.42L127.98 965.51L128.99 965.29L130 963.25L131.01 962.76L132.02 962.14L133.03 960.78L134.05 959.7L135.06 959.24L136.07 958.26L137.08 957.24L138.09 956.64L139.1 956.83L140.11 955.36L141.13 954.49L142.14 953.96L143.15 953.22L144.16 953.27L145.17 951.82L146.18 951.92L147.19 951.63L148.21 950.95L149.22 950.56L150.23 950.39L151.24 950.18L152.25 949.25L153.26 949.02L154.27 949.31L155.29 948.66L156.3 947.76L157.31 947.47L158.32 947.02L159.33 946.51L160.34 946.27L161.35 945.43L162.37 945.72L163.38 945.28L164.39 944.68L165.4 944.18L166.41 943.79L167.42 943.21L168.43 943.46L169.45 942.6L170.46 942.46L171.47 942.58L172.48 941.95L173.49 940.93L174.5 941L175.51 941.05L176.53 941.32L177.54 940.49L178.55 940.16L179.56 939.61L180.57 938.61L181.58 938.79L182.59 938.63L183.61 938.72L184.62 938.51L185.63 937.92L186.64 937.72L187.65 936.38L188.66 937.16L189.67 936.96L190.69 936.16L191.7 936.23L192.71 936.39L193.72 935.37L194.73 935.62L195.74 935.7L196.75 934.96L197.77 934.69L198.78 934.72L199.79 934.19L200.8 933.94L201.81 934.26L202.82 934.43L203.83 934.34L204.85 933.45L205.86 932.85L206.87 932.75L207.88 932.46L208.89 932.15L209.9 932.56L210.91 932.08L211.93 932.73L212.94 931.91L213.95 931.86L214.96 931.88L215.97 931.86L216.98 931.95L217.99 931.45L219.01 930.99L220.02 931.39L221.03 931.02L222.04 931.3L223.05 930.93L224.06 931.24L225.07 930.74L226.09 930.86L227.1 930.64L228.11 930.87L229.12 931L230.13 930.69L231.14 930.24L232.15 930.04L233.17 930.61L234.18 930.24L235.19 930.25L236.2 930.36" fill="none" stroke="#006dc8" stroke-width="1.4" stroke-linejoin="round" clip-path="url(#clipl)"/>
<path d="M75.38 1090.17L76.39 1083.43L77.41 1078.03L78.42 1070.09L79.43 1063.18L80.44 1054.95L81.45 1047.48L82.46 1041.27L83.47 1035.78L84.49 1029.71L85.5 1026.82L86.51 1023.22L87.52 1019.61L88.53 1016.67L89.54 1013.41L90.55 1011.41L91.57 1008.77L92.58 1005.57L93.59 1004.08L94.6 1002.51L95.61 999.79L96.62 998.05L97.63 995.49L98.65 994.34L99.66 992.75L100.67 990.84L101.68 988.61L102.69 987.48L103.7 985.82L104.71 984.29L105.73 982.66L106.74 980.95L107.75 979.32L108.76 978.8L109.77 976.45L110.78 975.47L111.79 974.21L112.81 972.04L113.82 971.53L114.83 969.61L115.84 968.68L116.85 968.1L117.86 966.48L118.87 965.28L119.89 964.45L120.9 964.08L121.91 962.46L122.92 961.44L123.93 960.79L124.94 958.99L125.95 958.78L126.97 958.01L127.98 957.21L128.99 956.63L130 955.94L131.01 955.03L132.02 954.37L133.03 954.07L134.05 953.44L135.06 953.38L136.07 952.34L137.08 952.29L138.09 951.55L139.1 951.46L140.11 950.91L141.13 950.26L142.14 950.27L143.15 948.72L144.16 949.07L145.17 948.67L146.18 948.46L147.19 947.33L148.21 946.99L149.22 946.93L150.23 947.04L151.24 946.39L152.25 945.65L153.26 945.61L154.27 945.44L155.29 945.06L156.3 944.56L157.31 943.94L158.32 943.78L159.33 943.21L160.34 942L161.35 941.96L162.37 942.47L163.38 941.7L164.39 941.43L165.4 941.16L166.41 940.46L167.42 940.55L168.43 940.23L169.45 939.92L170.46 939.51L171.47 938.77L172.48 938.62L173.49 938.96L174.5 938.38L175.51 938.19L176.53 937.4L177.54 937.29L178.55 936.8L179.56 936.81L180.57 937.11L181.58 936.11L182.59 935.91L183.61 935.56L184.62 935.85L185.63 935.17L186.64 935.16L187.65 934.91L188.66 934.35L189.67 934.11L190.69 934.26L191.7 934.29L192.71 934.3L193.72 933.5L194.73 932.76L195.74 932.91L196.75 933.38L197.77 932.76L198.78 932.17L199.79 931.59L200.8 931.56L201.81 931.63L202.82 931.5L203.83 931.72L204.85 931.36L205.86 931.17L206.87 931.15L207.88 930.74L208.89 930.73L209.9 930.36L210.91 929.89L211.93 929.97L212.94 929.95L213.95 930.03L214.96 930.31L215.97 929.76L216.98 929.45L217.99 929.83L219.01 929.04L220.02 929.44L221.03 929.14L222.04 929.27L223.05 929.48L224.06 928.39L225.07 929.32L226.09 928.62L227.1 929.03L228.11 928.72L229.12 929.01L230.13 928.86L231.14 928.42L232.15 928.08L233.17 928.92L234.18 928.64L235.19 928.34L236.2 928.82" fill="none" stroke="#0092b6" stroke-width="1.4" stroke-linejoin="round" clip-path="url(#clipl)"/>
<path d="M69.31 1088.97L70.33 1082.01L71.34 1076.38L72.35 1069.75L73.36 1059.92L74.37 1052.78L75.38 1044.53L76.39 1037.8L77.41 1033.18L78.42 1029.36L79.43 1024.94L80.44 1019.72L81.45 1017.97L82.46 1014.43L83.47 1010.62L84.49 1008.02L85.5 1005.36L86.51 1002.83L87.52 1002.27L88.53 999.44L89.54 996.82L90.55 994.71L91.57 992.84L92.58 991.36L93.59 989.88L94.6 988.12L95.61 986.56L96.62 984.81L97.63 983.1L98.65 981.87L99.66 980.5L100.67 979.03L101.68 976.99L102.69 975.52L103.7 974.23L104.71 972.93L105.73 971.62L106.74 970.61L107.75 969.17L108.76 968.49L109.77 967.07L110.78 966.1L111.79 964.56L112.81 963.91L113.82 962.75L114.83 961.62L115.84 960.39L116.85 960.15L117.86 959.34L118.87 957.98L119.89 957.8L120.9 956.58L121.91 956.2L122.92 955.4L123.93 955.32L124.94 953.97L125.95 953.81L126.97 953.45L127.98 952.08L128.99 952.06L130 950.75L131.01 951.26L132.02 951.06L133.03 950.48L134.05 949.59L135.06 949.67L136.07 949.1L137.08 948.65L138.09 948.68L139.1 947.94L140.11 947.72L141.13 947.55L142.14 946.49L143.15 946.15L144.16 945.94L145.17 945.85L146.18 945.79L147.19 944.64L148.21 944.44L149.22 944.54L150.23 943.67L151.24 943.75L152.25 942.92L153.26 942.5L154.27 942.07L155.29 941.76L156.3 941.42L157.31 941.47L158.32 940.89L159.33 940.59L160.34 940.16L161.35 939.67L162.37 939.23L163.38 938.59L164.39 939.56L165.4 938.33L166.41 938.2L167.42 937.12L168.43 937.23L169.45 937.72L170.46 936.79L171.47 936.77L172.48 936.02L173.49 936.36L174.5 935.78L175.51 935.51L176.53 935.22L177.54 935.1L178.55 935.22L179.56 934.25L180.57 933.82L181.58 933.89L182.59 933.93L183.61 933.31L184.62 932.96L185.63 932.95L186.64 932.66L187.65 931.99L188.66 932.55L189.67 932.15L190.69 932.35L191.7 931.77L192.71 931.57L193.72 931.43L194.73 931.15L195.74 930.19L196.75 930.61L197.77 930.4L198.78 929.51L199.79 930.03L200.8 930.37L201.81 929.54L202.82 929.79L203.83 928.84L204.85 929.57L205.86 929.22L206.87 929.39L207.88 928.72L208.89 928.93L209.9 928.51L210.91 928.47L211.93 928.43L212.94 927.83L213.95 927.72L214.96 927.88L215.97 928.07L216.98 928.03L217.99 927.52L219.01 926.78L220.02 927.58L221.03 927.6L222.04 927.5L223.05 927.55L224.06 927.45L225.07 927.16L226.09 926.6L227.1 926.99L228.11 927.1L229.12 927.41L230.13 926.81L231.14 926.85L232.15 927.2L233.17 927.14L234.18 926.8L235.19 926.47L236.2 926.59" fill="none" stroke="#00b6a4" stroke-width="1.4" stroke-linejoin="round" clip-path="url(#clipl)"/>
<path d="M59.2 1092.9L60.21 1085.52L61.22 1079.12L62.23 1073.13L63.25 1064.4L64.26 1055.2L65.27 1046.6L66.28 1038.65L67.29 1031.71L68.3 1026.85L69.31 1021.07L70.33 1017.73L71.34 1013.41L72.35 1009.9L73.36 1005.68L74.37 1003.08L75.38 1000.41L76.39 996.32L77.41 993.71L78.42 992.5L79.43 990.58L80.44 989.18L81.45 987.81L82.46 985.93L83.47 984.49L84.49 983.18L85.5 981.87L86.51 980.35L87.52 978.49L88.53 977.08L89.54 975.96L90.55 974.09L91.57 973.24L92.58 971.92L93.59 970.56L94.6 970.07L95.61 969.34L96.62 967.46L97.63 966.89L98.65 965.3L99.66 964.66L100.67 963.55L101.68 962.75L102.69 962.79L103.7 961.12L104.71 960.77L105.73 960.05L106.74 959.23L107.75 958.17L108.76 957.48L109.77 956.8L110.78 957.02L111.79 956.11L112.81 956.11L113.82 954.88L114.83 954.15L115.84 954.09L116.85 953.32L117.86 952.88L118.87 952.21L119.89 952.34L120.9 951.92L121.91 951.47L122.92 950.27L123.93 950.06L124.94 950.01L125.95 949.49L126.97 949.12L127.98 948.68L128.99 948.4L130 948.04L131.01 947.92L132.02 947.33L133.03 946.23L134.05 946.18L135.06 945.94L136.07 945.64L137.08 945.17L138.09 944.7L139.1 944.63L140.11 944L141.13 943.61L142.14 943.55L143.15 943.19L144.16 942.9L145.17 942.56L146.18 941.6L147.19 942.25L148.21 941.25L149.22 941.01L150.23 940.67L151.24 940.11L152.25 939.45L153.26 939.44L154.27 939.18L155.29 939L156.3 938.52L157.31 937.88L158.32 937.97L159.33 937.88L160.34 937.61L161.35 937.25L162.37 937.04L163.38 935.97L164.39 935.9L165.4 935.79L166.41 934.98L167.42 935.34L168.43 934.62L169.45 934.33L170.46 934.78L171.47 934.51L172.48 934.04L173.49 933.21L174.5 932.83L175.51 933.35L176.53 932.4L177.54 932.59L178.55 932.34L179.56 932.15L180.57 931.84L181.58 932.06L182.59 931.58L183.61 931.42L184.62 930.67L185.63 929.96L186.64 929.54L187.65 930.27L188.66 930.49L189.67 929.88L190.69 929.85L191.7 928.75L192.71 928.99L193.72 929.2L194.73 928.5L195.74 928.45L196.75 928.94L197.77 928.43L198.78 928.17L199.79 927.92L200.8 927.73L201.81 927.72L202.82 927.4L203.83 927.5L204.85 927.45L205.86 926.57L206.87 926.79L207.88 926.63L208.89 927.13L209.9 926.57L210.91 926.15L211.93 926.69L212.94 925.84L213.95 926.2L214.96 925.85L215.97 925.92L216.98 925.72L217.99 925.33L219.01 925.74L220.02 925.06L221.03 925.71L222.04 925.69L223.05 925.12L224.06 925.61L225.07 925.34L226.09 924.89L227.1 924.76L228.11 925.63L229.12 924.9L230.13 924.44L231.14 924.63L232.15 925.05L233.17 925.14L234.18 925.03L235.19 925.29L236.2 925.02" fill="none" stroke="#00db92" stroke-width="1.4" stroke-linejoin="round" clip-path="url(#clipl)"/>
<path d="M59.2 1061.13L60.21 1051.56L61.22 1043.05L62.23 1036.99L63.25 1031.74L64.26 1025.41L65.27 1019.73L66.28 1014.27L67.29 1010.95L68.3 1006.65L69.31 1001.53L70.33 998.3L71.34 994.85L72.35 993.32L73.36 991.72L74.37 989.89L75.38 987.2L76.39 986.31L77.41 984.75L78.42 983.21L79.43 981.22L80.44 979.66L81.45 978.31L82.46 976.77L83.47 975.27L84.49 973.79L85.5 972.37L86.51 971.38L87.52 970.79L88.53 968.85L89.54 968.38L90.55 966.92L91.57 966.28L92.58 964.83L93.59 964.11L94.6 962.89L95.61 961.06L96.62 961.25L97.63 960.16L98.65 960.06L99.66 959L100.67 958L101.68 957.56L102.69 956.77L103.7 956.24L104.71 956L105.73 954.96L106.74 954.85L107.75 953.52L108.76 953.78L109.77 952.96L110.78 952.73L111.79 952.01L112.81 952.06L113.82 951.14L114.83 951.06L115.84 950.21L116.85 949.99L117.86 949.72L118.87 949.59L119.89 948.71L120.9 948.39L121.91 947.63L122.92 947.85L123.93 947.16L124.94 946.78L125.95 946.46L126.97 946.09L127.98 945.71L128.99 945.57L130 945.31L131.01 944.75L132.02 944.07L133.03 943.41L134.05 943.21L135.06 942.82L136.07 942.54L137.08 942.2L138.09 942.01L139.1 941.47L140.11 940.81L141.13 941.11L142.14 940.88L143.15 939.72L144.16 939.91L145.17 939.35L146.18 939.05L147.19 939.34L148.21 937.92L149.22 937.8L150.23 937.97L151.24 937.48L152.25 937.36L153.26 937.36L154.27 936.81L155.29 936.36L156.3 935.83L157.31 935.66L158.32 935.57L159.33 934.88L160.34 935.25L161.35 934.48L162.37 934.11L163.38 934.26L164.39 934.45L165.4 933.91L166.41 933.29L167.42 932.94L168.43 932.37L169.45 932.9L170.46 932.33L171.47 931.89L172.48 931.89L173.49 932.33L174.5 931.11L175.51 930.41L176.53 930.58L177.54 930.95L178.55 930.57L179.56 930.15L180.57 929.24L181.58 929.6L182.59 929.54L183.61 928.89L184.62 929.19L185.63 928.4L186.64 928.98L187.65 928.73L188.66 928.17L189.67 927.77L190.69 927.83L191.7 927.76L192.71 928.24L193.72 927.73L194.73 927.53L195.74 927.34L196.75 926.84L197.77 926.97L198.78 926.47L199.79 926.54L200.8 926.53L201.81 926.25L202.82 926.02L203.83 925.75L204.85 926.04L205.86 925.84L206.87 926.07L207.88 925.04L208.89 924.97L209.9 925.36L210.91 925.35L211.93 925.48L212.94 924.96L213.95 924.85L214.96 924.15L215.97 924.67L216.98 924.9L217.99 925.34L219.01 924.08L220.02 924.39L221.03 924.87L222.04 924.26L223.05 924.76L224.06 923.14L225.07 923.82L226.09 923.94L227.1 924.13L228.11 924.7L229.12 924.05L230.13 924.46L231.14 923.78L232.15 924.6L233.17 924.21L234.18 923.54L235.19 923.4L236.2 924.27" fill="none" stroke="#00ff80" stroke-width="1.4" stroke-linejoin="round" clip-path="url(#clipl)"/>
<path d="M59.2 1111.12h5M236.2 1111.12h-5M59.2 1107.5h5M236.2 1107.5h-5M59.2 1104.94h5M236.2 1104.94h-5M59.2 1102.95h5M236.2 1102.95h-5M59.2 1101.32h5M236.2 1101.32h-5M59.2 1099.95h5M236.2 1099.95h-5M59.2 1098.76h5M236.2 1098.76h-5M59.2 1097.71h5M236.2 1097.71h-5M59.2 1090.59h5M236.2 1090.59h-5M59.2 1086.97h5M236.2 1086.97h-5M59.2 1084.41h5M236.2 1084.41h-5M59.2 1082.42h5M236.2 1082.42h-5M59.2 1080.79h5M236.2 1080.79h-5M59.2 1079.42h5M236.2 1079.42h-5M59.2 1078.23h5M236.2 1078.23h-5M59.2 1077.18h5M236.2 1077.18h-5M59.2 1070.06h5M236.2 1070.06h-5M59.2 1066.44h5M236.2 1066.44h-5M59.2 1063.88h5M236.2 1063.88h-5M59.2 1061.89h5M236.2 1061.89h-5M59.2 1060.26h5M236.2 1060.26h-5M59.2 1058.89h5M236.2 1058.89h-5M59.2 1057.7h5M236.2 1057.7h-5M59.2 1056.65h5M236.2 1056.65h-5M59.2 1049.53h5M236.2 1049.53h-5M59.2 1045.91h5M236.2 1045.91h-5M59.2 1043.35h5M236.2 1043.35h-5M59.2 1041.36h5M236.2 1041.36h-5M59.2 1039.73h5M236.2 1039.73h-5M59.2 1038.36h5M236.2 1038.36h-5M59.2 1037.17h5M236.2 1037.17h-5M59.2 1036.12h5M236.2 1036.12h-5M59.2 1029h5M236.2 1029h-5M59.2 1025.38h5M236.2 1025.38h-5M59.2 1022.82h5M236.2 1022.82h-5M59.2 1020.83h5M236.2 1020.83h-5M59.2 1019.2h5M236.2 1019.2h-5M59.2 1017.83h5M236.2 1017.83h-5M59.2 1016.64h5M236.2 1016.64h-5M59.2 1015.59h5M236.2 1015.59h-5M59.2 1008.47h5M236.2 1008.47h-5M59.2 1004.85h5M236.2 1004.85h-5M59.2 1002.29h5M236.2 1002.29h-5M59.2 1000.3h5M236.2 1000.3h-5M59.2 998.67h5M236.2 998.67h-5M59.2 997.3h5M236.2 997.3h-5M59.2 996.11h5M236.2 996.11h-5M59.2 995.06h5M236.2 995.06h-5M59.2 987.94h5M236.2 987.94h-5M59.2 984.32h5M236.2 984.32h-5M59.2 981.76h5M236.2 981.76h-5M59.2 979.77h5M236.2 979.77h-5M59.2 978.14h5M236.2 978.14h-5M59.2 976.77h5M236.2 976.77h-5M59.2 975.58h5M236.2 975.58h-5M59.2 974.53h5M236.2 974.53h-5M59.2 967.41h5M236.2 967.41h-5M59.2 963.79h5M236.2 963.79h-5M59.2 961.23h5M236.2 961.23h-5M59.2 959.24h5M236.2 959.24h-5M59.2 957.61h5M236.2 957.61h-5M59.2 956.24h5M236.2 956.24h-5M59.2 955.05h5M236.2 955.05h-5M59.2 954h5M236.2 954h-5M59.2 946.88h5M236.2 946.88h-5M59.2 943.26h5M236.2 943.26h-5M59.2 940.7h5M236.2 940.7h-5M59.2 938.71h5M236.2 938.71h-5M59.2 937.08h5M236.2 937.08h-5M59.2 935.71h5M236.2 935.71h-5M59.2 934.52h5M236.2 934.52h-5M59.2 933.47h5M236.2 933.47h-5M59.2 926.35h5M236.2 926.35h-5M59.2 922.73h5M236.2 922.73h-5M59.2 920.17h5M236.2 920.17h-5M59.2 918.18h5M236.2 918.18h-5M59.2 916.55h5M236.2 916.55h-5M59.2 915.18h5M236.2 915.18h-5M59.2 913.99h5M236.2 913.99h-5M59.2 912.94h5M236.2 912.94h-5" stroke="#3c3c3c" stroke-width="0.7"/>
<line x1="59.2" y1="1117.3" x2="66.2" y2="1117.3" stroke="#3c3c3c" stroke-width="1" />
<line x1="236.2" y1="1117.3" x2="229.2" y2="1117.3" stroke="#3c3c3c" stroke-width="1" />
<line x1="59.2" y1="1096.77" x2="66.2" y2="1096.77" stroke="#3c3c3c" stroke-width="1" />
<line x1="236.2" y1="1096.77" x2="229.2" y2="1096.77" stroke="#3c3c3c" stroke-width="1" />
<line x1="59.2" y1="1076.24" x2="66.2" y2="1076.24" stroke="#3c3c3c" stroke-width="1" />
<line x1="236.2" y1="1076.24" x2="229.2" y2="1076.24" stroke="#3c3c3c" stroke-width="1" />
<line x1="59.2" y1="1055.71" x2="66.2" y2="1055.71" stroke="#3c3c3c" stroke-width="1" />
<line x1="236.2" y1="1055.71" x2="229.2" y2="1055.71" stroke="#3c3c3c" stroke-width="1" />
<line x1="59.2" y1="1035.18" x2="66.2" y2="1035.18" stroke="#3c3c3c" stroke-width="1" />
<line x1="236.2" y1="1035.18" x2="229.2" y2="1035.18" stroke="#3c3c3c" stroke-width="1" />
<line x1="59.2" y1="1014.65" x2="66.2" y2="1014.65" stroke="#3c3c3c" stroke-width="1" />
<line x1="236.2" y1="1014.65" x2="229.2" y2="1014.65" stroke="#3c3c3c" stroke-width="1" />
<line x1="59.2" y1="994.12" x2="66.2" y2="994.12" stroke="#3c3c3c" stroke-width="1" />
<line x1="236.2" y1="994.12" x2="229.2" y2="994.12" stroke="#3c3c3c" stroke-width="1" />
<line x1="59.2" y1="973.59" x2="66.2" y2="973.59" stroke="#3c3c3c" stroke-width="1" />
<line x1="236.2" y1="973.59" x2="229.2" y2="973.59" stroke="#3c3c3c" stroke-width="1" />
<line x1="59.2" y1="953.06" x2="66.2" y2="953.06" stroke="#3c3c3c" stroke-width="1" />
<line x1="236.2" y1="953.06" x2="229.2" y2="953.06" stroke="#3c3c3c" stroke-width="1" />
<line x1="59.2" y1="932.53" x2="66.2" y2="932.53" stroke="#3c3c3c" stroke-width="1" />
<line x1="236.2" y1="932.53" x2="229.2" y2="932.53" stroke="#3c3c3c" stroke-width="1" />
<line x1="59.2" y1="912" x2="66.2" y2="912" stroke="#3c3c3c" stroke-width="1" />
<line x1="236.2" y1="912" x2="229.2" y2="912" stroke="#3c3c3c" stroke-width="1" />
<line x1="84.49" y1="912" x2="84.49" y2="918" stroke="#3c3c3c" stroke-width="1" />
<line x1="84.49" y1="1117.3" x2="84.49" y2="1111.3" stroke="#3c3c3c" stroke-width="1" />
<line x1="109.77" y1="912" x2="109.77" y2="918" stroke="#3c3c3c" stroke-width="1" />
<line x1="109.77" y1="1117.3" x2="109.77" y2="1111.3" stroke="#3c3c3c" stroke-width="1" />
<line x1="135.06" y1="912" x2="135.06" y2="918" stroke="#3c3c3c" stroke-width="1" />
<line x1="135.06" y1="1117.3" x2="135.06" y2="1111.3" stroke="#3c3c3c" stroke-width="1" />
<line x1="160.34" y1="912" x2="160.34" y2="918" stroke="#3c3c3c" stroke-width="1" />
<line x1="160.34" y1="1117.3" x2="160.34" y2="1111.3" stroke="#3c3c3c" stroke-width="1" />
<line x1="185.63" y1="912" x2="185.63" y2="918" stroke="#3c3c3c" stroke-width="1" />
<line x1="185.63" y1="1117.3" x2="185.63" y2="1111.3" stroke="#3c3c3c" stroke-width="1" />
<line x1="210.91" y1="912" x2="210.91" y2="918" stroke="#3c3c3c" stroke-width="1" />
<line x1="210.91" y1="1117.3" x2="210.91" y2="1111.3" stroke="#3c3c3c" stroke-width="1" />
<rect x="59.2" y="912" width="177" height="205.3" fill="none" stroke="#3c3c3c" stroke-width="1.1"/>
<text x="54.7" y="1123.8" font-size="12.3" fill="#2a2a2a" text-anchor="end">10<tspan font-size="9.5" dy="-6.0" dx="0.6">-14</tspan></text>
<text x="54.7" y="1082.74" font-size="12.3" fill="#2a2a2a" text-anchor="end">10<tspan font-size="9.5" dy="-6.0" dx="0.6">-12</tspan></text>
<text x="54.7" y="1041.68" font-size="12.3" fill="#2a2a2a" text-anchor="end">10<tspan font-size="9.5" dy="-6.0" dx="0.6">-10</tspan></text>
<text x="54.7" y="1000.62" font-size="12.3" fill="#2a2a2a" text-anchor="end">10<tspan font-size="9.5" dy="-6.0" dx="0.6">-8</tspan></text>
<text x="54.7" y="959.56" font-size="12.3" fill="#2a2a2a" text-anchor="end">10<tspan font-size="9.5" dy="-6.0" dx="0.6">-6</tspan></text>
<text x="54.7" y="918.5" font-size="12.3" fill="#2a2a2a" text-anchor="end">10<tspan font-size="9.5" dy="-6.0" dx="0.6">-4</tspan></text>
<text x="59.2" y="1134.4" font-size="11.5" fill="#2a2a2a" text-anchor="middle" font-family='"Liberation Sans", sans-serif' >-2</text>
<text x="84.49" y="1134.4" font-size="11.5" fill="#2a2a2a" text-anchor="middle" font-family='"Liberation Sans", sans-serif' >-1</text>
<text x="109.77" y="1134.4" font-size="11.5" fill="#2a2a2a" text-anchor="middle" font-family='"Liberation Sans", sans-serif' >0</text>
<text x="135.06" y="1134.4" font-size="11.5" fill="#2a2a2a" text-anchor="middle" font-family='"Liberation Sans", sans-serif' >1</text>
<text x="160.34" y="1134.4" font-size="11.5" fill="#2a2a2a" text-anchor="middle" font-family='"Liberation Sans", sans-serif' >2</text>
<text x="185.63" y="1134.4" font-size="11.5" fill="#2a2a2a" text-anchor="middle" font-family='"Liberation Sans", sans-serif' >3</text>
<text x="210.91" y="1134.4" font-size="11.5" fill="#2a2a2a" text-anchor="middle" font-family='"Liberation Sans", sans-serif' >4</text>
<text x="236.2" y="1134.4" font-size="11.5" fill="#2a2a2a" text-anchor="middle" font-family='"Liberation Sans", sans-serif' >5</text>
<text x="123.8" y="1152.2" font-size="13.5" fill="#2a2a2a"><tspan>V</tspan><tspan font-size="11.2" dy="7.3">BG</tspan><tspan dy="-7.3"> (V)</tspan></text>
<text font-size="13.5" fill="#2a2a2a" transform="translate(13 1048) rotate(-90)">I<tspan font-size="11.3" dy="7.6">DS</tspan><tspan dy="-7.6"> (A/</tspan><tspan font-family="Liberation Serif" font-style="italic">μ</tspan>m)</text>
<text x="75" y="940" font-size="13.2" fill="#000" text-anchor="start" font-family='"Liberation Sans", sans-serif' >Program</text>
<path d="M165.2 1002.7C164 975 148 955 125 955.5C110 956 96 959.5 88 963.8" fill="none" stroke="#000" stroke-width="1.6"/>
<polygon points="84,966 93.5,958.2 93.8,967.3" fill="#000" />
<linearGradient id="gw" x1="0" y1="0" x2="0" y2="1"><stop offset="0" stop-color="#0000ff"/><stop offset="1" stop-color="#00ff80"/></linearGradient>
<rect x="247" y="912" width="14.25" height="205.29999999999995" fill="url(#gw)" stroke="#555" stroke-width="0.8"/>
<line x1="258.75" y1="912" x2="261.25" y2="912" stroke="#444" stroke-width="0.8" />
<text x="264.25" y="916.2" font-size="11.5" fill="#2a2a2a" text-anchor="start" font-family='"Liberation Sans", sans-serif' >-5</text>
<line x1="258.75" y1="941.33" x2="261.25" y2="941.33" stroke="#444" stroke-width="0.8" />
<text x="264.25" y="945.53" font-size="11.5" fill="#2a2a2a" text-anchor="start" font-family='"Liberation Sans", sans-serif' >-6</text>
<line x1="258.75" y1="970.66" x2="261.25" y2="970.66" stroke="#444" stroke-width="0.8" />
<text x="264.25" y="974.86" font-size="11.5" fill="#2a2a2a" text-anchor="start" font-family='"Liberation Sans", sans-serif' >-7</text>
<line x1="258.75" y1="999.99" x2="261.25" y2="999.99" stroke="#444" stroke-width="0.8" />
<text x="264.25" y="1004.19" font-size="11.5" fill="#2a2a2a" text-anchor="start" font-family='"Liberation Sans", sans-serif' >-8</text>
<line x1="258.75" y1="1029.31" x2="261.25" y2="1029.31" stroke="#444" stroke-width="0.8" />
<text x="264.25" y="1033.51" font-size="11.5" fill="#2a2a2a" text-anchor="start" font-family='"Liberation Sans", sans-serif' >-9</text>
<line x1="258.75" y1="1058.64" x2="261.25" y2="1058.64" stroke="#444" stroke-width="0.8" />
<text x="264.25" y="1062.84" font-size="11.5" fill="#2a2a2a" text-anchor="start" font-family='"Liberation Sans", sans-serif' >-10</text>
<line x1="258.75" y1="1087.97" x2="261.25" y2="1087.97" stroke="#444" stroke-width="0.8" />
<text x="264.25" y="1092.17" font-size="11.5" fill="#2a2a2a" text-anchor="start" font-family='"Liberation Sans", sans-serif' >-11</text>
<line x1="258.75" y1="1117.3" x2="261.25" y2="1117.3" stroke="#444" stroke-width="0.8" />
<text x="264.25" y="1121.5" font-size="11.5" fill="#2a2a2a" text-anchor="start" font-family='"Liberation Sans", sans-serif' >-12</text>
<rect x="317.1" y="877.3" width="21.1" height="21.4" fill="#dcdcdc" />
<text x="327.65" y="892.68" font-size="13" fill="#000" text-anchor="middle" font-family='"Liberation Sans", sans-serif' >m</text>
<clipPath id="clipm"><rect x="364.5" y="912.6" width="176.70000000000005" height="203.4999999999999"/></clipPath>
<path d="M398.83 1090.28L399.84 1083.25L400.85 1077.21L401.86 1070.28L402.87 1061.24L403.88 1053.28L404.89 1045.44L405.9 1037.38L406.91 1033.98L407.92 1030.58L408.93 1027.07L409.94 1023.26L410.95 1019.48L411.96 1016.54L412.97 1013.73L413.98 1010.84L414.99 1008.61L416 1007.07L417.01 1004.56L418.01 1002.95L419.02 1001.72L420.03 998.92L421.04 997.44L422.05 995.62L423.06 992.86L424.07 991.16L425.08 989.46L426.09 987.24L427.1 984.39L428.11 983.09L429.12 980.69L430.13 978.66L431.14 976.64L432.15 974.6L433.16 972.96L434.17 971.02L435.18 969.05L436.19 967.29L437.2 965.19L438.21 963.29L439.22 962.45L440.23 960.5L441.24 959.57L442.25 958.18L443.26 956.85L444.27 955.68L445.28 954.9L446.29 954.76L447.3 952.85L448.31 952.77L449.32 952.29L450.33 951.3L451.34 951.12L452.35 950.8L453.35 949.65L454.36 949.11L455.37 948.94L456.38 947.88L457.39 947.48L458.4 947.41L459.41 945.99L460.42 945.92L461.43 945.84L462.44 944.84L463.45 944.43L464.46 943.67L465.47 943.9L466.48 942.67L467.49 942.22L468.5 941.83L469.51 941.38L470.52 940.7L471.53 940.43L472.54 940.17L473.55 940.02L474.56 938.98L475.57 938.59L476.58 938.38L477.59 938.01L478.6 937.42L479.61 938.02L480.62 936.74L481.63 937.22L482.64 935.99L483.65 935.35L484.66 934.72L485.67 935.09L486.68 934.45L487.69 934.25L488.69 934.56L489.7 933.31L490.71 933.2L491.72 932.85L492.73 932.84L493.74 932.24L494.75 931.9L495.76 931.22L496.77 931.23L497.78 929.95L498.79 930.87L499.8 930.55L500.81 930.22L501.82 930.19L502.83 929.21L503.84 929.23L504.85 929.57L505.86 928.91L506.87 928.35L507.88 928.92L508.89 928.22L509.9 928.13L510.91 927.13L511.92 927.52L512.93 927.58L513.94 927.45L514.95 926.51L515.96 927.07L516.97 926.05L517.98 927.08L518.99 926.5L520 926.37L521.01 926.38L522.02 926.09L523.03 925.69L524.03 925.99L525.04 926.11L526.05 925.15L527.06 925.01L528.07 925.59L529.08 925.19L530.09 926.01L531.1 924.82L532.11 925.48L533.12 925.19L534.13 924.29L535.14 925.31L536.15 924.88L537.16 925.18L538.17 925.4L539.18 925.17L540.19 924.72L541.2 925.2" fill="none" stroke="#3e26a8" stroke-width="1.4" stroke-linejoin="round" clip-path="url(#clipm)"/>
<path d="M371.9 1096.87L372.66 1116.18L373.42 1101.42" fill="none" stroke="#3e26a8" stroke-width="1.4" stroke-linejoin="round" clip-path="url(#clipm)"/>
<path d="M384.05 1093.24L384.8 1104.14L385.56 1103.08" fill="none" stroke="#3e26a8" stroke-width="1.4" stroke-linejoin="round" clip-path="url(#clipm)"/>
<path d="M392.41 1095.08L393.16 1112.04L393.92 1096.49" fill="none" stroke="#3e26a8" stroke-width="1.4" stroke-linejoin="round" clip-path="url(#clipm)"/>
<path d="M402.87 1092.54L403.88 1087.08L404.89 1080.06L405.9 1073.26L406.91 1065.05L407.92 1055.68L408.93 1045.85L409.94 1038.57L410.95 1032.67L411.96 1028.49L412.97 1025.62L413.98 1021.6L414.99 1018.22L416 1015L417.01 1013.5L418.01 1010.5L419.02 1009.35L420.03 1005.28L421.04 1004.01L422.05 1002.63L423.06 1000.85L424.07 998.49L425.08 997.37L426.09 994.84L427.1 992.66L428.11 991.07L429.12 988.86L430.13 986.88L431.14 985.01L432.15 982.41L433.16 980.29L434.17 978.54L435.18 976.89L436.19 974.15L437.2 972.23L438.21 970.61L439.22 969.06L440.23 966.88L441.24 965.39L442.25 963.1L443.26 962.23L444.27 961.03L445.28 959.39L446.29 957.83L447.3 956.81L448.31 955.08L449.32 954.73L450.33 953.47L451.34 953.32L452.35 952.36L453.35 951.82L454.36 951.22L455.37 951.03L456.38 950.3L457.39 949.15L458.4 948.96L459.41 948.73L460.42 947.32L461.43 947.73L462.44 947.13L463.45 945.97L464.46 946.37L465.47 945.46L466.48 944.74L467.49 944.76L468.5 944.35L469.51 943.82L470.52 943.26L471.53 942.81L472.54 941.76L473.55 941.54L474.56 940.75L475.57 940.83L476.58 939.96L477.59 940.18L478.6 938.98L479.61 938.78L480.62 938.28L481.63 938.07L482.64 936.84L483.65 937.35L484.66 936.87L485.67 936.16L486.68 936.63L487.69 935.6L488.69 935.62L489.7 935.03L490.71 934.91L491.72 933.91L492.73 933.51L493.74 933.53L494.75 933.5L495.76 932.95L496.77 932.73L497.78 932.4L498.79 932.04L499.8 931.71L500.81 931.35L501.82 931.29L502.83 931.21L503.84 930.63L504.85 930.26L505.86 930.42L506.87 929.38L507.88 929.82L508.89 929.57L509.9 929.41L510.91 929.39L511.92 929.19L512.93 928.51L513.94 928.75L514.95 928.69L515.96 928.5L516.97 927.91L517.98 928.15L518.99 927.48L520 927.65L521.01 927.06L522.02 927.61L523.03 927.04L524.03 926.99L525.04 926.07L526.05 927.24L527.06 926.5L528.07 926.72L529.08 927.06L530.09 926.4L531.1 926.48L532.11 926.47L533.12 925.83L534.13 925.99L535.14 926.54L536.15 925.84L537.16 925.81L538.17 925.76L539.18 925.76L540.19 925.79L541.2 925.81" fill="none" stroke="#4467fd" stroke-width="1.4" stroke-linejoin="round" clip-path="url(#clipm)"/>
<path d="M381.26 1091.96L382.02 1116.63L382.77 1097.49" fill="none" stroke="#4467fd" stroke-width="1.4" stroke-linejoin="round" clip-path="url(#clipm)"/>
<path d="M410.95 1089.73L411.96 1084.6L412.97 1077.72L413.98 1066.7L414.99 1056.03L416 1043.4L417.01 1034.26L418.01 1030.18L419.02 1027.15L420.03 1022.42L421.04 1018.8L422.05 1017.24L423.06 1013.99L424.07 1010.76L425.08 1007.87L426.09 1008.43L427.1 1005.52L428.11 1003.25L429.12 1002.04L430.13 1000.26L431.14 998.19L432.15 995.68L433.16 994.32L434.17 991.62L435.18 989.5L436.19 987.35L437.2 984.98L438.21 983.44L439.22 981.14L440.23 978.68L441.24 976.48L442.25 974.49L443.26 972.87L444.27 970.89L445.28 969.2L446.29 967.05L447.3 965.39L448.31 963.55L449.32 961.88L450.33 959.98L451.34 958.55L452.35 957.52L453.35 956.67L454.36 955.29L455.37 954.23L456.38 953.35L457.39 952.93L458.4 952.15L459.41 952.01L460.42 951.03L461.43 950.43L462.44 950.2L463.45 949.76L464.46 948.6L465.47 948.74L466.48 947.68L467.49 947.44L468.5 946.94L469.51 946.39L470.52 945.94L471.53 945.31L472.54 944.25L473.55 943.86L474.56 943.86L475.57 943.2L476.58 942.6L477.59 942.54L478.6 941.39L479.61 941.49L480.62 940.87L481.63 940.91L482.64 940.54L483.65 940.08L484.66 939.55L485.67 938.63L486.68 938.64L487.69 937.88L488.69 937.89L489.7 937.68L490.71 936.96L491.72 936.77L492.73 936.79L493.74 935.92L494.75 935.23L495.76 935.32L496.77 935.29L497.78 934.83L498.79 934.65L499.8 934.05L500.81 933.96L501.82 933.41L502.83 933.04L503.84 932.41L504.85 932.89L505.86 932.9L506.87 931.52L507.88 931.63L508.89 931.63L509.9 931.13L510.91 931.34L511.92 930.94L512.93 930.41L513.94 930.51L514.95 930.17L515.96 929.89L516.97 929.8L517.98 929.73L518.99 929.33L520 928.92L521.01 928.78L522.02 929.29L523.03 928.65L524.03 929.33L525.04 929.06L526.05 928.38L527.06 928.23L528.07 927.88L529.08 928.72L530.09 927.78L531.1 928.2L532.11 928.1L533.12 927.76L534.13 927.41L535.14 928.07L536.15 928.27L537.16 927.89L538.17 927.72L539.18 927.3L540.19 927.54L541.2 927.74" fill="none" stroke="#259fe3" stroke-width="1.4" stroke-linejoin="round" clip-path="url(#clipm)"/>
<path d="M375.76 1094.67L376.52 1105.09L377.27 1096.57" fill="none" stroke="#259fe3" stroke-width="1.4" stroke-linejoin="round" clip-path="url(#clipm)"/>
<path d="M400.34 1097.75L401.1 1108.52L401.86 1099.28" fill="none" stroke="#259fe3" stroke-width="1.4" stroke-linejoin="round" clip-path="url(#clipm)"/>
<path d="M425.08 1092.55L426.09 1086.12L427.1 1079.71L428.11 1071.92L429.12 1059.09L430.13 1046.44L431.14 1036.28L432.15 1030.74L433.16 1026.34L434.17 1022.3L435.18 1018.47L436.19 1015.59L437.2 1012.86L438.21 1010.13L439.22 1006.74L440.23 1005.35L441.24 1002.52L442.25 999.9L443.26 997.77L444.27 998.04L445.28 994.46L446.29 991.99L447.3 990.13L448.31 987.91L449.32 985.83L450.33 983.31L451.34 980.83L452.35 979.16L453.35 976.38L454.36 974.46L455.37 972.08L456.38 970.36L457.39 968.02L458.4 966.08L459.41 964.52L460.42 962.78L461.43 960.66L462.44 959.24L463.45 958.27L464.46 956.63L465.47 955.99L466.48 954.81L467.49 954.71L468.5 953.31L469.51 952.31L470.52 952.05L471.53 951.11L472.54 950.88L473.55 950L474.56 949.56L475.57 949.23L476.58 947.72L477.59 948.06L478.6 947.66L479.61 946.67L480.62 946.02L481.63 945.53L482.64 945.15L483.65 944.46L484.66 943.82L485.67 943.41L486.68 943.54L487.69 942.11L488.69 942.17L489.7 942.32L490.71 940.99L491.72 940.84L492.73 940.27L493.74 939.32L494.75 939.67L495.76 939.29L496.77 938.99L497.78 938.24L498.79 937.7L499.8 937.41L500.81 937.11L501.82 937.44L502.83 936.36L503.84 935.77L504.85 935.92L505.86 935.6L506.87 935.42L507.88 934.73L508.89 934.98L509.9 933.63L510.91 933.99L511.92 933.84L512.93 933.76L513.94 932.97L514.95 932.59L515.96 932.82L516.97 932.37L517.98 932.11L518.99 931.69L520 931.6L521.01 931.22L522.02 931.84L523.03 930.44L524.03 931.22L525.04 931.25L526.05 931.05L527.06 930.51L528.07 930.26L529.08 929.64L530.09 929.9L531.1 930.4L532.11 930.18L533.12 930.14L534.13 930.11L535.14 929.92L536.15 930L537.16 929.41L538.17 929.63L539.18 929.52L540.19 929.74L541.2 930.04" fill="none" stroke="#11bcbd" stroke-width="1.4" stroke-linejoin="round" clip-path="url(#clipm)"/>
<path d="M367.43 1099.19L368.18 1110.17L368.94 1100.15" fill="none" stroke="#11bcbd" stroke-width="1.4" stroke-linejoin="round" clip-path="url(#clipm)"/>
<path d="M371.35 1099.59L372.11 1107.87L372.87 1102.78" fill="none" stroke="#11bcbd" stroke-width="1.4" stroke-linejoin="round" clip-path="url(#clipm)"/>
<path d="M397.13 1098.11L397.89 1100.35L398.64 1094.12" fill="none" stroke="#11bcbd" stroke-width="1.4" stroke-linejoin="round" clip-path="url(#clipm)"/>
<path d="M403.74 1098.88L404.5 1097.95L405.25 1100.65" fill="none" stroke="#11bcbd" stroke-width="1.4" stroke-linejoin="round" clip-path="url(#clipm)"/>
<path d="M418.39 1091.43L419.15 1103.8L419.91 1101.37" fill="none" stroke="#11bcbd" stroke-width="1.4" stroke-linejoin="round" clip-path="url(#clipm)"/>
<path d="M423.23 1093.05L423.99 1117.32L424.74 1093.52" fill="none" stroke="#11bcbd" stroke-width="1.4" stroke-linejoin="round" clip-path="url(#clipm)"/>
<path d="M438.21 1086.75L439.22 1082.01L440.23 1074.43L441.24 1067.12L442.25 1058.45L443.26 1049.8L444.27 1041.43L445.28 1035.94L446.29 1032.79L447.3 1029.26L448.31 1023.36L449.32 1022.01L450.33 1016.91L451.34 1013.04L452.35 1013.47L453.35 1009.51L454.36 1007.28L455.37 1005.78L456.38 1004.4L457.39 1001.13L458.4 997.91L459.41 996.85L460.42 994.56L461.43 992.23L462.44 989.88L463.45 987.4L464.46 984.37L465.47 982.89L466.48 980.75L467.49 977.52L468.5 975.54L469.51 973.19L470.52 971.18L471.53 968.59L472.54 966.54L473.55 964.24L474.56 962.57L475.57 961.1L476.58 958.85L477.59 957.52L478.6 956.74L479.61 955.11L480.62 953.82L481.63 953.31L482.64 952.75L483.65 951.84L484.66 951.6L485.67 951.01L486.68 950.03L487.69 949.65L488.69 949.21L489.7 948.38L490.71 947.81L491.72 947.05L492.73 946.49L493.74 946.24L494.75 945.76L495.76 945.52L496.77 944.68L497.78 944.36L498.79 943.51L499.8 943.06L500.81 942.65L501.82 942.41L502.83 941.86L503.84 941.07L504.85 940.59L505.86 940.89L506.87 941.17L507.88 939.74L508.89 940.02L509.9 939.18L510.91 938.7L511.92 938.05L512.93 938.22L513.94 937.89L514.95 937.72L515.96 937.16L516.97 937.33L517.98 936.52L518.99 936.32L520 935.76L521.01 936.02L522.02 935.6L523.03 935.42L524.03 935.28L525.04 935.37L526.05 935.07L527.06 934.71L528.07 934.42L529.08 934.1L530.09 934.46L531.1 934.08L532.11 933.85L533.12 933.68L534.13 933.77L535.14 933.71L536.15 933.81L537.16 933.64L538.17 933.67L539.18 934.1L540.19 933.77L541.2 934.28" fill="none" stroke="#60ca70" stroke-width="1.4" stroke-linejoin="round" clip-path="url(#clipm)"/>
<path d="M421.47 1091.14L422.22 1101.5L422.98 1099.25" fill="none" stroke="#60ca70" stroke-width="1.4" stroke-linejoin="round" clip-path="url(#clipm)"/>
<path d="M448.31 1090.99L449.32 1085.26L450.33 1077.85L451.34 1072.14L452.35 1065.38L453.35 1058.43L454.36 1049.51L455.37 1042.76L456.38 1036.74L457.39 1032.8L458.4 1027.81L459.41 1025.59L460.42 1021.95L461.43 1017.82L462.44 1016.49L463.45 1013.39L464.46 1011.02L465.47 1008.58L466.48 1006.28L467.49 1004.31L468.5 1000.48L469.51 999.2L470.52 997.48L471.53 996.22L472.54 993.32L473.55 990.92L474.56 988.6L475.57 986.46L476.58 984.43L477.59 982.49L478.6 980.23L479.61 978.41L480.62 976.63L481.63 974.06L482.64 972.09L483.65 970.48L484.66 968.63L485.67 967.24L486.68 965.22L487.69 963.55L488.69 961.97L489.7 960.69L490.71 959.49L491.72 958.39L492.73 956.91L493.74 955.39L494.75 954.91L495.76 954.19L496.77 953.28L497.78 951.97L498.79 951.95L499.8 951.08L500.81 951.33L501.82 950.07L502.83 949.31L503.84 949.46L504.85 948.75L505.86 948.2L506.87 947.04L507.88 946.63L508.89 946.79L509.9 945.59L510.91 945.41L511.92 944.7L512.93 944.76L513.94 943.49L514.95 943.88L515.96 942.97L516.97 942.36L517.98 942.08L518.99 941.79L520 941.02L521.01 940.47L522.02 940.15L523.03 940.33L524.03 939.99L525.04 939.67L526.05 939.05L527.06 939.55L528.07 939.25L529.08 937.95L530.09 938L531.1 937.99L532.11 938.32L533.12 938.02L534.13 937.93L535.14 937.56L536.15 937.44L537.16 936.76L538.17 937.47L539.18 937.66L540.19 937.1L541.2 937.68" fill="none" stroke="#b5bf2f" stroke-width="1.4" stroke-linejoin="round" clip-path="url(#clipm)"/>
<path d="M364.5 1097.32L365.26 1101.35L366.01 1098.9" fill="none" stroke="#b5bf2f" stroke-width="1.4" stroke-linejoin="round" clip-path="url(#clipm)"/>
<path d="M386.19 1094.27L386.95 1104.18L387.71 1102.02" fill="none" stroke="#b5bf2f" stroke-width="1.4" stroke-linejoin="round" clip-path="url(#clipm)"/>
<path d="M426.63 1098.31L427.39 1100.04L428.14 1098.76" fill="none" stroke="#b5bf2f" stroke-width="1.4" stroke-linejoin="round" clip-path="url(#clipm)"/>
<path d="M459.41 1088.77L460.42 1082.23L461.43 1075.97L462.44 1070.81L463.45 1066.58L464.46 1060.25L465.47 1055.8L466.48 1050.88L467.49 1044.72L468.5 1041.54L469.51 1037.16L470.52 1033.06L471.53 1029.33L472.54 1026.79L473.55 1024.07L474.56 1020.57L475.57 1017.92L476.58 1014.65L477.59 1011.83L478.6 1009.97L479.61 1006.96L480.62 1004.88L481.63 1001.71L482.64 998.96L483.65 996.91L484.66 995.27L485.67 993.84L486.68 991.77L487.69 990.4L488.69 988.07L489.7 987.01L490.71 985.05L491.72 982.67L492.73 981.45L493.74 980.28L494.75 978.49L495.76 977.21L496.77 975.65L497.78 974.07L498.79 972.78L499.8 971.07L500.81 969.45L501.82 968.72L502.83 967.47L503.84 966.19L504.85 964.93L505.86 963.55L506.87 962.67L507.88 961.66L508.89 960.57L509.9 959.08L510.91 958.14L511.92 957.22L512.93 956.63L513.94 956.17L514.95 954.7L515.96 953.74L516.97 953.96L517.98 953.33L518.99 952.22L520 951.75L521.01 951.26L522.02 950.17L523.03 950.3L524.03 949.93L525.04 949.26L526.05 948.55L527.06 948.06L528.07 947.25L529.08 946.93L530.09 946.94L531.1 946.08L532.11 945.97L533.12 945.09L534.13 944.87L535.14 945.1L536.15 944.49L537.16 944.83L538.17 944.11L539.18 944.08L540.19 943.86L541.2 944.31" fill="none" stroke="#f9bb3d" stroke-width="1.4" stroke-linejoin="round" clip-path="url(#clipm)"/>
<path d="M375.8 1094.69L376.55 1106.41L377.31 1099.48" fill="none" stroke="#f9bb3d" stroke-width="1.4" stroke-linejoin="round" clip-path="url(#clipm)"/>
<path d="M402.45 1097.39L403.21 1116.18L403.97 1096.63" fill="none" stroke="#f9bb3d" stroke-width="1.4" stroke-linejoin="round" clip-path="url(#clipm)"/>
<path d="M405.84 1098.76L406.59 1101.99L407.35 1091.78" fill="none" stroke="#f9bb3d" stroke-width="1.4" stroke-linejoin="round" clip-path="url(#clipm)"/>
<path d="M417.04 1099.11L417.79 1115.52L418.55 1101.54" fill="none" stroke="#f9bb3d" stroke-width="1.4" stroke-linejoin="round" clip-path="url(#clipm)"/>
<path d="M468.5 1091.07L469.51 1085.59L470.52 1077.15L471.53 1073.63L472.54 1066.9L473.55 1061.71L474.56 1056.02L475.57 1050.84L476.58 1043.71L477.59 1038.56L478.6 1035.75L479.61 1031.45L480.62 1028.68L481.63 1025.61L482.64 1020.53L483.65 1018.08L484.66 1016.14L485.67 1012.6L486.68 1009.77L487.69 1007.29L488.69 1004.66L489.7 1002.64L490.71 1000.03L491.72 998.12L492.73 996.08L493.74 994.24L494.75 991.76L495.76 990.62L496.77 988.85L497.78 987.02L498.79 985.45L499.8 984.24L500.81 981.99L501.82 981.08L502.83 979.39L503.84 977.58L504.85 976.32L505.86 975.06L506.87 973.46L507.88 972.38L508.89 970.99L509.9 969.89L510.91 968.67L511.92 967.38L512.93 965.89L513.94 964.92L514.95 963.71L515.96 962.33L516.97 961.71L517.98 961.15L518.99 959.6L520 958.16L521.01 958.72L522.02 957.06L523.03 956.52L524.03 955.86L525.04 954.42L526.05 953.99L527.06 953.33L528.07 953.09L529.08 952.24L530.09 951.83L531.1 950.46L532.11 950.39L533.12 950.47L534.13 949.46L535.14 948.44L536.15 948.7L537.16 948.15L538.17 947.71L539.18 947.21L540.19 946.92L541.2 947" fill="none" stroke="#f9fb15" stroke-width="1.4" stroke-linejoin="round" clip-path="url(#clipm)"/>
<path d="M393.2 1098.77L393.96 1100.34L394.72 1103.79" fill="none" stroke="#f9fb15" stroke-width="1.4" stroke-linejoin="round" clip-path="url(#clipm)"/>
<path d="M411.64 1090.39L412.4 1105.56L413.15 1092.33" fill="none" stroke="#f9fb15" stroke-width="1.4" stroke-linejoin="round" clip-path="url(#clipm)"/>
<path d="M442.18 1091.62L442.94 1116.29L443.7 1094.36" fill="none" stroke="#f9fb15" stroke-width="1.4" stroke-linejoin="round" clip-path="url(#clipm)"/>
<path d="M445.32 1096.9L446.08 1113.82L446.83 1092.14" fill="none" stroke="#f9fb15" stroke-width="1.4" stroke-linejoin="round" clip-path="url(#clipm)"/>
<path d="M450.02 1094.69L450.78 1108.25L451.53 1094.77" fill="none" stroke="#f9fb15" stroke-width="1.4" stroke-linejoin="round" clip-path="url(#clipm)"/>
<path d="M464.17 1099.12L464.92 1116.62L465.68 1094.3" fill="none" stroke="#f9fb15" stroke-width="1.4" stroke-linejoin="round" clip-path="url(#clipm)"/>
<path d="M364.5 1109.97h5M541.2 1109.97h-5M364.5 1106.39h5M541.2 1106.39h-5M364.5 1103.85h5M541.2 1103.85h-5M364.5 1101.88h5M541.2 1101.88h-5M364.5 1100.26h5M541.2 1100.26h-5M364.5 1098.9h5M541.2 1098.9h-5M364.5 1097.72h5M541.2 1097.72h-5M364.5 1096.68h5M541.2 1096.68h-5M364.5 1089.62h5M541.2 1089.62h-5M364.5 1086.04h5M541.2 1086.04h-5M364.5 1083.5h5M541.2 1083.5h-5M364.5 1081.53h5M541.2 1081.53h-5M364.5 1079.91h5M541.2 1079.91h-5M364.5 1078.55h5M541.2 1078.55h-5M364.5 1077.37h5M541.2 1077.37h-5M364.5 1076.33h5M541.2 1076.33h-5M364.5 1069.27h5M541.2 1069.27h-5M364.5 1065.69h5M541.2 1065.69h-5M364.5 1063.15h5M541.2 1063.15h-5M364.5 1061.18h5M541.2 1061.18h-5M364.5 1059.56h5M541.2 1059.56h-5M364.5 1058.2h5M541.2 1058.2h-5M364.5 1057.02h5M541.2 1057.02h-5M364.5 1055.98h5M541.2 1055.98h-5M364.5 1048.92h5M541.2 1048.92h-5M364.5 1045.34h5M541.2 1045.34h-5M364.5 1042.8h5M541.2 1042.8h-5M364.5 1040.83h5M541.2 1040.83h-5M364.5 1039.21h5M541.2 1039.21h-5M364.5 1037.85h5M541.2 1037.85h-5M364.5 1036.67h5M541.2 1036.67h-5M364.5 1035.63h5M541.2 1035.63h-5M364.5 1028.57h5M541.2 1028.57h-5M364.5 1024.99h5M541.2 1024.99h-5M364.5 1022.45h5M541.2 1022.45h-5M364.5 1020.48h5M541.2 1020.48h-5M364.5 1018.86h5M541.2 1018.86h-5M364.5 1017.5h5M541.2 1017.5h-5M364.5 1016.32h5M541.2 1016.32h-5M364.5 1015.28h5M541.2 1015.28h-5M364.5 1008.22h5M541.2 1008.22h-5M364.5 1004.64h5M541.2 1004.64h-5M364.5 1002.1h5M541.2 1002.1h-5M364.5 1000.13h5M541.2 1000.13h-5M364.5 998.51h5M541.2 998.51h-5M364.5 997.15h5M541.2 997.15h-5M364.5 995.97h5M541.2 995.97h-5M364.5 994.93h5M541.2 994.93h-5M364.5 987.87h5M541.2 987.87h-5M364.5 984.29h5M541.2 984.29h-5M364.5 981.75h5M541.2 981.75h-5M364.5 979.78h5M541.2 979.78h-5M364.5 978.16h5M541.2 978.16h-5M364.5 976.8h5M541.2 976.8h-5M364.5 975.62h5M541.2 975.62h-5M364.5 974.58h5M541.2 974.58h-5M364.5 967.52h5M541.2 967.52h-5M364.5 963.94h5M541.2 963.94h-5M364.5 961.4h5M541.2 961.4h-5M364.5 959.43h5M541.2 959.43h-5M364.5 957.81h5M541.2 957.81h-5M364.5 956.45h5M541.2 956.45h-5M364.5 955.27h5M541.2 955.27h-5M364.5 954.23h5M541.2 954.23h-5M364.5 947.17h5M541.2 947.17h-5M364.5 943.59h5M541.2 943.59h-5M364.5 941.05h5M541.2 941.05h-5M364.5 939.08h5M541.2 939.08h-5M364.5 937.46h5M541.2 937.46h-5M364.5 936.1h5M541.2 936.1h-5M364.5 934.92h5M541.2 934.92h-5M364.5 933.88h5M541.2 933.88h-5M364.5 926.82h5M541.2 926.82h-5M364.5 923.24h5M541.2 923.24h-5M364.5 920.7h5M541.2 920.7h-5M364.5 918.73h5M541.2 918.73h-5M364.5 917.11h5M541.2 917.11h-5M364.5 915.75h5M541.2 915.75h-5M364.5 914.57h5M541.2 914.57h-5M364.5 913.53h5M541.2 913.53h-5" stroke="#3c3c3c" stroke-width="0.7"/>
<line x1="364.5" y1="1116.1" x2="371.5" y2="1116.1" stroke="#3c3c3c" stroke-width="1" />
<line x1="541.2" y1="1116.1" x2="534.2" y2="1116.1" stroke="#3c3c3c" stroke-width="1" />
<line x1="364.5" y1="1095.75" x2="371.5" y2="1095.75" stroke="#3c3c3c" stroke-width="1" />
<line x1="541.2" y1="1095.75" x2="534.2" y2="1095.75" stroke="#3c3c3c" stroke-width="1" />
<line x1="364.5" y1="1075.4" x2="371.5" y2="1075.4" stroke="#3c3c3c" stroke-width="1" />
<line x1="541.2" y1="1075.4" x2="534.2" y2="1075.4" stroke="#3c3c3c" stroke-width="1" />
<line x1="364.5" y1="1055.05" x2="371.5" y2="1055.05" stroke="#3c3c3c" stroke-width="1" />
<line x1="541.2" y1="1055.05" x2="534.2" y2="1055.05" stroke="#3c3c3c" stroke-width="1" />
<line x1="364.5" y1="1034.7" x2="371.5" y2="1034.7" stroke="#3c3c3c" stroke-width="1" />
<line x1="541.2" y1="1034.7" x2="534.2" y2="1034.7" stroke="#3c3c3c" stroke-width="1" />
<line x1="364.5" y1="1014.35" x2="371.5" y2="1014.35" stroke="#3c3c3c" stroke-width="1" />
<line x1="541.2" y1="1014.35" x2="534.2" y2="1014.35" stroke="#3c3c3c" stroke-width="1" />
<line x1="364.5" y1="994" x2="371.5" y2="994" stroke="#3c3c3c" stroke-width="1" />
<line x1="541.2" y1="994" x2="534.2" y2="994" stroke="#3c3c3c" stroke-width="1" />
<line x1="364.5" y1="973.65" x2="371.5" y2="973.65" stroke="#3c3c3c" stroke-width="1" />
<line x1="541.2" y1="973.65" x2="534.2" y2="973.65" stroke="#3c3c3c" stroke-width="1" />
<line x1="364.5" y1="953.3" x2="371.5" y2="953.3" stroke="#3c3c3c" stroke-width="1" />
<line x1="541.2" y1="953.3" x2="534.2" y2="953.3" stroke="#3c3c3c" stroke-width="1" />
<line x1="364.5" y1="932.95" x2="371.5" y2="932.95" stroke="#3c3c3c" stroke-width="1" />
<line x1="541.2" y1="932.95" x2="534.2" y2="932.95" stroke="#3c3c3c" stroke-width="1" />
<line x1="364.5" y1="912.6" x2="371.5" y2="912.6" stroke="#3c3c3c" stroke-width="1" />
<line x1="541.2" y1="912.6" x2="534.2" y2="912.6" stroke="#3c3c3c" stroke-width="1" />
<line x1="389.74" y1="912.6" x2="389.74" y2="918.6" stroke="#3c3c3c" stroke-width="1" />
<line x1="389.74" y1="1116.1" x2="389.74" y2="1110.1" stroke="#3c3c3c" stroke-width="1" />
<line x1="414.99" y1="912.6" x2="414.99" y2="918.6" stroke="#3c3c3c" stroke-width="1" />
<line x1="414.99" y1="1116.1" x2="414.99" y2="1110.1" stroke="#3c3c3c" stroke-width="1" />
<line x1="440.23" y1="912.6" x2="440.23" y2="918.6" stroke="#3c3c3c" stroke-width="1" />
<line x1="440.23" y1="1116.1" x2="440.23" y2="1110.1" stroke="#3c3c3c" stroke-width="1" />
<line x1="465.47" y1="912.6" x2="465.47" y2="918.6" stroke="#3c3c3c" stroke-width="1" />
<line x1="465.47" y1="1116.1" x2="465.47" y2="1110.1" stroke="#3c3c3c" stroke-width="1" />
<line x1="490.71" y1="912.6" x2="490.71" y2="918.6" stroke="#3c3c3c" stroke-width="1" />
<line x1="490.71" y1="1116.1" x2="490.71" y2="1110.1" stroke="#3c3c3c" stroke-width="1" />
<line x1="515.96" y1="912.6" x2="515.96" y2="918.6" stroke="#3c3c3c" stroke-width="1" />
<line x1="515.96" y1="1116.1" x2="515.96" y2="1110.1" stroke="#3c3c3c" stroke-width="1" />
<rect x="364.5" y="912.6" width="176.7" height="203.5" fill="none" stroke="#3c3c3c" stroke-width="1.1"/>
<text x="360" y="1122.6" font-size="12.3" fill="#2a2a2a" text-anchor="end">10<tspan font-size="9.5" dy="-6.0" dx="0.6">-14</tspan></text>
<text x="360" y="1081.9" font-size="12.3" fill="#2a2a2a" text-anchor="end">10<tspan font-size="9.5" dy="-6.0" dx="0.6">-12</tspan></text>
<text x="360" y="1041.2" font-size="12.3" fill="#2a2a2a" text-anchor="end">10<tspan font-size="9.5" dy="-6.0" dx="0.6">-10</tspan></text>
<text x="360" y="1000.5" font-size="12.3" fill="#2a2a2a" text-anchor="end">10<tspan font-size="9.5" dy="-6.0" dx="0.6">-8</tspan></text>
<text x="360" y="959.8" font-size="12.3" fill="#2a2a2a" text-anchor="end">10<tspan font-size="9.5" dy="-6.0" dx="0.6">-6</tspan></text>
<text x="360" y="919.1" font-size="12.3" fill="#2a2a2a" text-anchor="end">10<tspan font-size="9.5" dy="-6.0" dx="0.6">-4</tspan></text>
<text x="364.5" y="1133.2" font-size="11.5" fill="#2a2a2a" text-anchor="middle" font-family='"Liberation Sans", sans-serif' >-2</text>
<text x="389.74" y="1133.2" font-size="11.5" fill="#2a2a2a" text-anchor="middle" font-family='"Liberation Sans", sans-serif' >-1</text>
<text x="414.99" y="1133.2" font-size="11.5" fill="#2a2a2a" text-anchor="middle" font-family='"Liberation Sans", sans-serif' >0</text>
<text x="440.23" y="1133.2" font-size="11.5" fill="#2a2a2a" text-anchor="middle" font-family='"Liberation Sans", sans-serif' >1</text>
<text x="465.47" y="1133.2" font-size="11.5" fill="#2a2a2a" text-anchor="middle" font-family='"Liberation Sans", sans-serif' >2</text>
<text x="490.71" y="1133.2" font-size="11.5" fill="#2a2a2a" text-anchor="middle" font-family='"Liberation Sans", sans-serif' >3</text>
<text x="515.96" y="1133.2" font-size="11.5" fill="#2a2a2a" text-anchor="middle" font-family='"Liberation Sans", sans-serif' >4</text>
<text x="541.2" y="1133.2" font-size="11.5" fill="#2a2a2a" text-anchor="middle" font-family='"Liberation Sans", sans-serif' >5</text>
<text x="428.8" y="1151.2" font-size="13.5" fill="#2a2a2a"><tspan>V</tspan><tspan font-size="11.2" dy="7.3">BG</tspan><tspan dy="-7.3"> (V)</tspan></text>
<text font-size="13.5" fill="#2a2a2a" transform="translate(318 1047.3) rotate(-90)">I<tspan font-size="11.3" dy="7.6">DS</tspan><tspan dy="-7.6"> (A/</tspan><tspan font-family="Liberation Serif" font-style="italic">μ</tspan>m)</text>
<text x="382.5" y="940" font-size="13.2" fill="#000" text-anchor="start" font-family='"Liberation Sans", sans-serif' >Erase</text>
<path d="M425.5 961.5C438 955 455 953 470 958.5C488 966 499 983 500 1003" fill="none" stroke="#000" stroke-width="1.6"/>
<polygon points="500.6,1009.6 495.5,1000 504.8,1000.2" fill="#000" />
<linearGradient id="gp" x1="0" y1="0" x2="0" y2="1"><stop offset="0" stop-color="#f9fb15"/><stop offset="0.05" stop-color="#f5e523"/><stop offset="0.1" stop-color="#fdcb34"/><stop offset="0.15" stop-color="#f9b83f"/><stop offset="0.2" stop-color="#e2b439"/><stop offset="0.25" stop-color="#c7ba29"/><stop offset="0.3" stop-color="#aec131"/><stop offset="0.35" stop-color="#92c646"/><stop offset="0.4" stop-color="#71ca5f"/><stop offset="0.45" stop-color="#54ca7c"/><stop offset="0.5" stop-color="#37c897"/><stop offset="0.55" stop-color="#19bfb6"/><stop offset="0.6" stop-color="#06b9c7"/><stop offset="0.65" stop-color="#14b1d4"/><stop offset="0.7" stop-color="#24a2e0"/><stop offset="0.75" stop-color="#2797eb"/><stop offset="0.8" stop-color="#3184f8"/><stop offset="0.85" stop-color="#436bfe"/><stop offset="0.9" stop-color="#4852f4"/><stop offset="0.95" stop-color="#453ad9"/><stop offset="1" stop-color="#3e26a8"/></linearGradient>
<rect x="552.5" y="912.6" width="13.75" height="203.4999999999999" fill="url(#gp)" stroke="#555" stroke-width="0.8"/>
<line x1="563.75" y1="1116.1" x2="566.25" y2="1116.1" stroke="#444" stroke-width="0.8" />
<text x="569.75" y="1120.3" font-size="11.5" fill="#2a2a2a" text-anchor="start" font-family='"Liberation Sans", sans-serif' >5</text>
<line x1="563.75" y1="1087.03" x2="566.25" y2="1087.03" stroke="#444" stroke-width="0.8" />
<text x="569.75" y="1091.23" font-size="11.5" fill="#2a2a2a" text-anchor="start" font-family='"Liberation Sans", sans-serif' >6</text>
<line x1="563.75" y1="1057.96" x2="566.25" y2="1057.96" stroke="#444" stroke-width="0.8" />
<text x="569.75" y="1062.16" font-size="11.5" fill="#2a2a2a" text-anchor="start" font-family='"Liberation Sans", sans-serif' >7</text>
<line x1="563.75" y1="1028.89" x2="566.25" y2="1028.89" stroke="#444" stroke-width="0.8" />
<text x="569.75" y="1033.09" font-size="11.5" fill="#2a2a2a" text-anchor="start" font-family='"Liberation Sans", sans-serif' >8</text>
<line x1="563.75" y1="999.81" x2="566.25" y2="999.81" stroke="#444" stroke-width="0.8" />
<text x="569.75" y="1004.01" font-size="11.5" fill="#2a2a2a" text-anchor="start" font-family='"Liberation Sans", sans-serif' >9</text>
<line x1="563.75" y1="970.74" x2="566.25" y2="970.74" stroke="#444" stroke-width="0.8" />
<text x="569.75" y="974.94" font-size="11.5" fill="#2a2a2a" text-anchor="start" font-family='"Liberation Sans", sans-serif' >10</text>
<line x1="563.75" y1="941.67" x2="566.25" y2="941.67" stroke="#444" stroke-width="0.8" />
<text x="569.75" y="945.87" font-size="11.5" fill="#2a2a2a" text-anchor="start" font-family='"Liberation Sans", sans-serif' >11</text>
<line x1="563.75" y1="912.6" x2="566.25" y2="912.6" stroke="#444" stroke-width="0.8" />
<text x="569.75" y="916.8" font-size="11.5" fill="#2a2a2a" text-anchor="start" font-family='"Liberation Sans", sans-serif' >12</text>
<rect x="615.5" y="881.25" width="21.5" height="21.25" fill="#dcdcdc" />
<text x="626.25" y="896.55" font-size="13" fill="#000" text-anchor="middle" font-family='"Liberation Sans", sans-serif' >n</text>
<path d="M679.6 1106.17h8M1187.2 1106.17h-8M679.6 1101h8M1187.2 1101h-8M679.6 1097.33h8M1187.2 1097.33h-8M679.6 1094.49h8M1187.2 1094.49h-8M679.6 1092.17h8M1187.2 1092.17h-8M679.6 1090.2h8M1187.2 1090.2h-8M679.6 1088.5h8M1187.2 1088.5h-8M679.6 1087h8M1187.2 1087h-8M679.6 1076.82h8M1187.2 1076.82h-8M679.6 1071.66h8M1187.2 1071.66h-8M679.6 1067.99h8M1187.2 1067.99h-8M679.6 1065.15h8M1187.2 1065.15h-8M679.6 1062.82h8M1187.2 1062.82h-8M679.6 1060.86h8M1187.2 1060.86h-8M679.6 1059.16h8M1187.2 1059.16h-8M679.6 1057.66h8M1187.2 1057.66h-8M679.6 1047.48h8M1187.2 1047.48h-8M679.6 1042.31h8M1187.2 1042.31h-8M679.6 1038.65h8M1187.2 1038.65h-8M679.6 1035.8h8M1187.2 1035.8h-8M679.6 1033.48h8M1187.2 1033.48h-8M679.6 1031.52h8M1187.2 1031.52h-8M679.6 1029.82h8M1187.2 1029.82h-8M679.6 1028.31h8M1187.2 1028.31h-8M679.6 1018.14h8M1187.2 1018.14h-8M679.6 1012.97h8M1187.2 1012.97h-8M679.6 1009.31h8M1187.2 1009.31h-8M679.6 1006.46h8M1187.2 1006.46h-8M679.6 1004.14h8M1187.2 1004.14h-8M679.6 1002.17h8M1187.2 1002.17h-8M679.6 1000.47h8M1187.2 1000.47h-8M679.6 998.97h8M1187.2 998.97h-8M679.6 988.8h8M1187.2 988.8h-8M679.6 983.63h8M1187.2 983.63h-8M679.6 979.96h8M1187.2 979.96h-8M679.6 977.12h8M1187.2 977.12h-8M679.6 974.8h8M1187.2 974.8h-8M679.6 972.83h8M1187.2 972.83h-8M679.6 971.13h8M1187.2 971.13h-8M679.6 969.63h8M1187.2 969.63h-8M679.6 959.45h8M1187.2 959.45h-8M679.6 954.29h8M1187.2 954.29h-8M679.6 950.62h8M1187.2 950.62h-8M679.6 947.78h8M1187.2 947.78h-8M679.6 945.45h8M1187.2 945.45h-8M679.6 943.49h8M1187.2 943.49h-8M679.6 941.79h8M1187.2 941.79h-8M679.6 940.29h8M1187.2 940.29h-8M679.6 930.11h8M1187.2 930.11h-8M679.6 924.94h8M1187.2 924.94h-8M679.6 921.28h8M1187.2 921.28h-8M679.6 918.43h8M1187.2 918.43h-8M679.6 916.11h8M1187.2 916.11h-8M679.6 914.15h8M1187.2 914.15h-8M679.6 912.44h8M1187.2 912.44h-8M679.6 910.94h8M1187.2 910.94h-8" stroke="#555" stroke-width="0.8"/>
<line x1="679.6" y1="1115" x2="695.6" y2="1115" stroke="#3c3c3c" stroke-width="1" />
<line x1="1187.2" y1="1115" x2="1171.2" y2="1115" stroke="#3c3c3c" stroke-width="1" />
<line x1="679.6" y1="1085.66" x2="695.6" y2="1085.66" stroke="#3c3c3c" stroke-width="1" />
<line x1="1187.2" y1="1085.66" x2="1171.2" y2="1085.66" stroke="#3c3c3c" stroke-width="1" />
<line x1="679.6" y1="1056.31" x2="695.6" y2="1056.31" stroke="#3c3c3c" stroke-width="1" />
<line x1="1187.2" y1="1056.31" x2="1171.2" y2="1056.31" stroke="#3c3c3c" stroke-width="1" />
<line x1="679.6" y1="1026.97" x2="695.6" y2="1026.97" stroke="#3c3c3c" stroke-width="1" />
<line x1="1187.2" y1="1026.97" x2="1171.2" y2="1026.97" stroke="#3c3c3c" stroke-width="1" />
<line x1="679.6" y1="997.63" x2="695.6" y2="997.63" stroke="#3c3c3c" stroke-width="1" />
<line x1="1187.2" y1="997.63" x2="1171.2" y2="997.63" stroke="#3c3c3c" stroke-width="1" />
<line x1="679.6" y1="968.29" x2="695.6" y2="968.29" stroke="#3c3c3c" stroke-width="1" />
<line x1="1187.2" y1="968.29" x2="1171.2" y2="968.29" stroke="#3c3c3c" stroke-width="1" />
<line x1="679.6" y1="938.94" x2="695.6" y2="938.94" stroke="#3c3c3c" stroke-width="1" />
<line x1="1187.2" y1="938.94" x2="1171.2" y2="938.94" stroke="#3c3c3c" stroke-width="1" />
<line x1="679.6" y1="909.6" x2="695.6" y2="909.6" stroke="#3c3c3c" stroke-width="1" />
<line x1="1187.2" y1="909.6" x2="1171.2" y2="909.6" stroke="#3c3c3c" stroke-width="1" />
<polygon points="679.6,1115 679.6,1065.43 681.29,1064.97 682.98,1066.42 684.68,1066.44 686.37,1065.47 688.06,1064.41 689.75,1065.3 691.44,1066.37 693.14,1066.03 694.83,1065.44 696.52,1064.66 698.21,1065.28 699.9,1065.47 701.6,1065.31 703.29,1064.96 704.98,1065.56 706.67,1064.96 708.36,1064.7 710.06,1063.65 711.75,1064.81 713.44,1064.01 715.13,1065.38 716.82,1063.96 718.52,1064.4 720.21,1064.84 721.9,1064.4 723.59,1063.67 725.28,1064.49 726.98,1063.46 728.67,1063.04 730.36,1062.9 732.05,1062.84 733.74,1064.85 735.44,1063.63 737.13,1064.3 738.82,1063.07 740.51,1063.63 742.2,1063.46 743.9,1063.22 745.59,1063.92 747.28,1063.36 748.97,1063.88 750.66,1061.8 752.36,1063.57 754.05,1063.16 755.74,1064.38 757.43,1064.11 759.12,1063.59 760.82,1062.35 762.51,1062.3 764.2,1062.59 765.89,1063.19 767.58,1061.33 769.28,1063.34 770.97,1063.15 772.66,1062.12 774.35,1063.13 776.04,1062.16 777.74,1061.59 779.43,1062.27 781.12,1061.86 781.12,1115" fill="#000000" />
<circle cx="679.6" cy="1066.58" r="2.6" fill="#000" stroke="#444" stroke-width="0.6"/>
<circle cx="682.98" cy="1068.4" r="2.6" fill="#000" stroke="#444" stroke-width="0.6"/>
<circle cx="686.37" cy="1065.96" r="2.6" fill="#000" stroke="#444" stroke-width="0.6"/>
<circle cx="689.75" cy="1065.78" r="2.6" fill="#000" stroke="#444" stroke-width="0.6"/>
<circle cx="693.14" cy="1066.68" r="2.6" fill="#000" stroke="#444" stroke-width="0.6"/>
<circle cx="696.52" cy="1065.9" r="2.6" fill="#000" stroke="#444" stroke-width="0.6"/>
<circle cx="699.9" cy="1065.14" r="2.6" fill="#000" stroke="#444" stroke-width="0.6"/>
<circle cx="703.29" cy="1065.79" r="2.6" fill="#000" stroke="#444" stroke-width="0.6"/>
<circle cx="706.67" cy="1065.63" r="2.6" fill="#000" stroke="#444" stroke-width="0.6"/>
<circle cx="710.06" cy="1064.52" r="2.6" fill="#000" stroke="#444" stroke-width="0.6"/>
<circle cx="713.44" cy="1063.55" r="2.6" fill="#000" stroke="#444" stroke-width="0.6"/>
<circle cx="716.82" cy="1063.47" r="2.6" fill="#000" stroke="#444" stroke-width="0.6"/>
<circle cx="720.21" cy="1064.88" r="2.6" fill="#000" stroke="#444" stroke-width="0.6"/>
<circle cx="723.59" cy="1065.45" r="2.6" fill="#000" stroke="#444" stroke-width="0.6"/>
<circle cx="726.98" cy="1063.5" r="2.6" fill="#000" stroke="#444" stroke-width="0.6"/>
<circle cx="730.36" cy="1063.69" r="2.6" fill="#000" stroke="#444" stroke-width="0.6"/>
<circle cx="733.74" cy="1064.77" r="2.6" fill="#000" stroke="#444" stroke-width="0.6"/>
<circle cx="737.13" cy="1063.61" r="2.6" fill="#000" stroke="#444" stroke-width="0.6"/>
<circle cx="740.51" cy="1062.83" r="2.6" fill="#000" stroke="#444" stroke-width="0.6"/>
<circle cx="743.9" cy="1064.67" r="2.6" fill="#000" stroke="#444" stroke-width="0.6"/>
<circle cx="747.28" cy="1064.69" r="2.6" fill="#000" stroke="#444" stroke-width="0.6"/>
<circle cx="750.66" cy="1061.93" r="2.6" fill="#000" stroke="#444" stroke-width="0.6"/>
<circle cx="754.05" cy="1064.21" r="2.6" fill="#000" stroke="#444" stroke-width="0.6"/>
<circle cx="757.43" cy="1065.14" r="2.6" fill="#000" stroke="#444" stroke-width="0.6"/>
<circle cx="760.82" cy="1064.04" r="2.6" fill="#000" stroke="#444" stroke-width="0.6"/>
<circle cx="764.2" cy="1064.46" r="2.6" fill="#000" stroke="#444" stroke-width="0.6"/>
<circle cx="767.58" cy="1061.55" r="2.6" fill="#000" stroke="#444" stroke-width="0.6"/>
<circle cx="770.97" cy="1065.12" r="2.6" fill="#000" stroke="#444" stroke-width="0.6"/>
<circle cx="774.35" cy="1065.01" r="2.6" fill="#000" stroke="#444" stroke-width="0.6"/>
<circle cx="777.74" cy="1062.36" r="2.6" fill="#000" stroke="#444" stroke-width="0.6"/>
<circle cx="781.12" cy="1063.51" r="2.6" fill="#000" stroke="#444" stroke-width="0.6"/>
<polygon points="781.12,1115 781.12,1022.52 782.81,1023.16 784.5,1022.28 786.2,1022.18 787.89,1020.58 789.58,1021.81 791.27,1021.6 792.96,1021.28 794.66,1022.78 796.35,1022.86 798.04,1021.2 799.73,1020.69 801.42,1020.92 803.12,1021.17 804.81,1020.12 806.5,1020.6 808.19,1020.37 809.88,1021.32 811.58,1019.03 813.27,1019.04 814.96,1020.25 816.65,1020.56 818.34,1019.81 820.04,1018.89 821.73,1019.86 823.42,1019.54 825.11,1019.57 826.8,1018.94 828.5,1017.79 830.19,1018.6 831.88,1020.36 833.57,1019.4 835.26,1019.12 836.96,1019.78 838.65,1019.11 840.34,1018.61 842.03,1017.32 843.72,1018.25 845.42,1016.69 847.11,1016.69 848.8,1017.61 850.49,1017.4 852.18,1017.48 853.88,1018.19 855.57,1017.78 857.26,1016.49 858.95,1017.73 860.64,1016.86 862.34,1015.95 864.03,1015.04 865.72,1016.87 867.41,1016.12 869.1,1015.97 870.8,1015.95 872.49,1015.88 874.18,1016.23 875.87,1015.59 877.56,1014.88 879.26,1016.27 880.95,1014.72 882.64,1014.58 882.64,1115" fill="#4F3020" />
<circle cx="781.12" cy="1023" r="2.6" fill="#4F3020"/>
<circle cx="784.5" cy="1023.03" r="2.6" fill="#4F3020"/>
<circle cx="787.89" cy="1020.91" r="2.6" fill="#4F3020"/>
<circle cx="791.27" cy="1021.85" r="2.6" fill="#4F3020"/>
<circle cx="794.66" cy="1023.06" r="2.6" fill="#4F3020"/>
<circle cx="798.04" cy="1021.77" r="2.6" fill="#4F3020"/>
<circle cx="801.42" cy="1021.99" r="2.6" fill="#4F3020"/>
<circle cx="804.81" cy="1020.94" r="2.6" fill="#4F3020"/>
<circle cx="808.19" cy="1020.44" r="2.6" fill="#4F3020"/>
<circle cx="811.58" cy="1020.1" r="2.6" fill="#4F3020"/>
<circle cx="814.96" cy="1021.56" r="2.6" fill="#4F3020"/>
<circle cx="818.34" cy="1020.97" r="2.6" fill="#4F3020"/>
<circle cx="821.73" cy="1021.05" r="2.6" fill="#4F3020"/>
<circle cx="825.11" cy="1019.58" r="2.6" fill="#4F3020"/>
<circle cx="828.5" cy="1018.48" r="2.6" fill="#4F3020"/>
<circle cx="831.88" cy="1020.45" r="2.6" fill="#4F3020"/>
<circle cx="835.26" cy="1020.26" r="2.6" fill="#4F3020"/>
<circle cx="838.65" cy="1019.37" r="2.6" fill="#4F3020"/>
<circle cx="842.03" cy="1018.39" r="2.6" fill="#4F3020"/>
<circle cx="845.42" cy="1017.07" r="2.6" fill="#4F3020"/>
<circle cx="848.8" cy="1018.65" r="2.6" fill="#4F3020"/>
<circle cx="852.18" cy="1017.95" r="2.6" fill="#4F3020"/>
<circle cx="855.57" cy="1017.84" r="2.6" fill="#4F3020"/>
<circle cx="858.95" cy="1018.31" r="2.6" fill="#4F3020"/>
<circle cx="862.34" cy="1016.42" r="2.6" fill="#4F3020"/>
<circle cx="865.72" cy="1018.22" r="2.6" fill="#4F3020"/>
<circle cx="869.1" cy="1016.41" r="2.6" fill="#4F3020"/>
<circle cx="872.49" cy="1016.63" r="2.6" fill="#4F3020"/>
<circle cx="875.87" cy="1016.41" r="2.6" fill="#4F3020"/>
<circle cx="879.26" cy="1017.69" r="2.6" fill="#4F3020"/>
<circle cx="882.64" cy="1014.73" r="2.6" fill="#4F3020"/>
<polygon points="882.64,1115 882.64,1000.68 884.33,1000.35 886.02,999.88 887.72,1001.46 889.41,999.83 891.1,998.21 892.79,1000.05 894.48,999.14 896.18,997.6 897.87,998.17 899.56,997.88 901.25,998.52 902.94,999.24 904.64,996.02 906.33,997.76 908.02,997.67 909.71,996.5 911.4,996.97 913.1,997.37 914.79,998.08 916.48,997.25 918.17,997.1 919.86,997.34 921.56,997.34 923.25,997.3 924.94,996.51 926.63,996.72 928.32,995.84 930.02,995.26 931.71,995.63 933.4,995.7 935.09,994.43 936.78,994.95 938.48,996.37 940.17,995.67 941.86,994.87 943.55,995.51 945.24,994.17 946.94,995.86 948.63,995.83 950.32,993.58 952.01,993.73 953.7,995.18 955.4,993.82 957.09,992.75 958.78,994.4 960.47,994.32 962.16,994.19 963.86,993.88 965.55,994.29 967.24,993.23 968.93,993.8 970.62,992.55 972.32,990.82 974.01,993.08 975.7,991.51 977.39,991.18 979.08,993.58 980.78,991.67 982.47,991.61 984.16,991.71 984.16,1115" fill="#9C613C" />
<circle cx="882.64" cy="1001.27" r="2.6" fill="#9C613C"/>
<circle cx="886.02" cy="1000.1" r="2.6" fill="#9C613C"/>
<circle cx="889.41" cy="1000.66" r="2.6" fill="#9C613C"/>
<circle cx="892.79" cy="1000.17" r="2.6" fill="#9C613C"/>
<circle cx="896.18" cy="998.05" r="2.6" fill="#9C613C"/>
<circle cx="899.56" cy="999.29" r="2.6" fill="#9C613C"/>
<circle cx="902.94" cy="1000.35" r="2.6" fill="#9C613C"/>
<circle cx="906.33" cy="998.46" r="2.6" fill="#9C613C"/>
<circle cx="909.71" cy="996.66" r="2.6" fill="#9C613C"/>
<circle cx="913.1" cy="998.81" r="2.6" fill="#9C613C"/>
<circle cx="916.48" cy="998.3" r="2.6" fill="#9C613C"/>
<circle cx="919.86" cy="997.65" r="2.6" fill="#9C613C"/>
<circle cx="923.25" cy="997.8" r="2.6" fill="#9C613C"/>
<circle cx="926.63" cy="997.68" r="2.6" fill="#9C613C"/>
<circle cx="930.02" cy="996.28" r="2.6" fill="#9C613C"/>
<circle cx="933.4" cy="996.09" r="2.6" fill="#9C613C"/>
<circle cx="936.78" cy="996.38" r="2.6" fill="#9C613C"/>
<circle cx="940.17" cy="996.16" r="2.6" fill="#9C613C"/>
<circle cx="943.55" cy="995.89" r="2.6" fill="#9C613C"/>
<circle cx="946.94" cy="997.13" r="2.6" fill="#9C613C"/>
<circle cx="950.32" cy="993.81" r="2.6" fill="#9C613C"/>
<circle cx="953.7" cy="996.21" r="2.6" fill="#9C613C"/>
<circle cx="957.09" cy="993.05" r="2.6" fill="#9C613C"/>
<circle cx="960.47" cy="995.21" r="2.6" fill="#9C613C"/>
<circle cx="963.86" cy="994.3" r="2.6" fill="#9C613C"/>
<circle cx="967.24" cy="993.8" r="2.6" fill="#9C613C"/>
<circle cx="970.62" cy="993.96" r="2.6" fill="#9C613C"/>
<circle cx="974.01" cy="993.78" r="2.6" fill="#9C613C"/>
<circle cx="977.39" cy="991.83" r="2.6" fill="#9C613C"/>
<circle cx="980.78" cy="992.59" r="2.6" fill="#9C613C"/>
<circle cx="984.16" cy="992.13" r="2.6" fill="#9C613C"/>
<polygon points="984.16,1115 984.16,970.93 985.85,971.17 987.54,970.84 989.24,971.54 990.93,970.99 992.62,971.25 994.31,971.47 996,970.78 997.7,972.99 999.39,971.42 1001.08,971.5 1002.77,971.56 1004.46,971.34 1006.16,972.21 1007.85,972.02 1009.54,971.29 1011.23,971.19 1012.92,971.58 1014.62,971.34 1016.31,971.53 1018,970.47 1019.69,970.65 1021.38,971.62 1023.08,970.32 1024.77,970.19 1026.46,970.75 1028.15,971.94 1029.84,970.67 1031.54,970.96 1033.23,971.85 1034.92,970.54 1036.61,970.85 1038.3,969.74 1040,970.1 1041.69,972.4 1043.38,970.9 1045.07,971.08 1046.76,971.23 1048.46,971.1 1050.15,969.96 1051.84,971.64 1053.53,970.88 1055.22,971.37 1056.92,969.63 1058.61,970.37 1060.3,971.65 1061.99,971.47 1063.68,972.12 1065.38,970.57 1067.07,971.1 1068.76,970.28 1070.45,971.14 1072.14,970.26 1073.84,971.81 1075.53,971.83 1077.22,970.46 1078.91,970.57 1080.6,971.78 1082.3,970.74 1083.99,970.43 1085.68,970.09 1085.68,1115" fill="#EE9461" />
<circle cx="984.16" cy="971.02" r="2.6" fill="#EE9461"/>
<circle cx="987.54" cy="970.9" r="2.6" fill="#EE9461"/>
<circle cx="990.93" cy="971.73" r="2.6" fill="#EE9461"/>
<circle cx="994.31" cy="972.49" r="2.6" fill="#EE9461"/>
<circle cx="997.7" cy="973.97" r="2.6" fill="#EE9461"/>
<circle cx="1001.08" cy="971.74" r="2.6" fill="#EE9461"/>
<circle cx="1004.46" cy="971.5" r="2.6" fill="#EE9461"/>
<circle cx="1007.85" cy="973.42" r="2.6" fill="#EE9461"/>
<circle cx="1011.23" cy="972" r="2.6" fill="#EE9461"/>
<circle cx="1014.62" cy="971.95" r="2.6" fill="#EE9461"/>
<circle cx="1018" cy="971.5" r="2.6" fill="#EE9461"/>
<circle cx="1021.38" cy="972.72" r="2.6" fill="#EE9461"/>
<circle cx="1024.77" cy="970.97" r="2.6" fill="#EE9461"/>
<circle cx="1028.15" cy="972.06" r="2.6" fill="#EE9461"/>
<circle cx="1031.54" cy="972.2" r="2.6" fill="#EE9461"/>
<circle cx="1034.92" cy="970.86" r="2.6" fill="#EE9461"/>
<circle cx="1038.3" cy="969.8" r="2.6" fill="#EE9461"/>
<circle cx="1041.69" cy="972.93" r="2.6" fill="#EE9461"/>
<circle cx="1045.07" cy="971.88" r="2.6" fill="#EE9461"/>
<circle cx="1048.46" cy="972.05" r="2.6" fill="#EE9461"/>
<circle cx="1051.84" cy="971.9" r="2.6" fill="#EE9461"/>
<circle cx="1055.22" cy="972.43" r="2.6" fill="#EE9461"/>
<circle cx="1058.61" cy="971.12" r="2.6" fill="#EE9461"/>
<circle cx="1061.99" cy="971.71" r="2.6" fill="#EE9461"/>
<circle cx="1065.38" cy="971.85" r="2.6" fill="#EE9461"/>
<circle cx="1068.76" cy="971.49" r="2.6" fill="#EE9461"/>
<circle cx="1072.14" cy="971.62" r="2.6" fill="#EE9461"/>
<circle cx="1075.53" cy="972.84" r="2.6" fill="#EE9461"/>
<circle cx="1078.91" cy="970.9" r="2.6" fill="#EE9461"/>
<circle cx="1082.3" cy="971.91" r="2.6" fill="#EE9461"/>
<circle cx="1085.68" cy="971.45" r="2.6" fill="#EE9461"/>
<polygon points="1085.68,1115 1085.68,937.58 1087.37,936.47 1089.06,935.56 1090.76,936.54 1092.45,934.93 1094.14,937.28 1095.83,936.77 1097.52,937.04 1099.22,937.67 1100.91,936.39 1102.6,938.29 1104.29,938.23 1105.98,937.86 1107.68,938.07 1109.37,937.03 1111.06,938.37 1112.75,937.75 1114.44,938.59 1116.14,937.45 1117.83,938.53 1119.52,938.46 1121.21,939.97 1122.9,938.4 1124.6,939.51 1126.29,938.53 1127.98,938.94 1129.67,939.04 1131.36,938.75 1133.06,939.43 1134.75,940.48 1136.44,939.85 1138.13,939.98 1139.82,941.09 1141.52,939.92 1143.21,939.43 1144.9,940.45 1146.59,940.68 1148.28,940.56 1149.98,940.22 1151.67,941.55 1153.36,940.59 1155.05,941.96 1156.74,941.16 1158.44,941.31 1160.13,942.75 1161.82,941.47 1163.51,941.92 1165.2,943.43 1166.9,942.67 1168.59,942.93 1170.28,943.26 1171.97,942.44 1173.66,943.45 1175.36,942.97 1177.05,943.93 1178.74,943.46 1180.43,942.07 1182.12,943.23 1183.82,944.8 1185.51,944.48 1187.2,944.03 1187.2,1115" fill="#FEC681" />
<circle cx="1085.68" cy="939.07" r="2.6" fill="#FEC681"/>
<circle cx="1089.06" cy="936.12" r="2.6" fill="#FEC681"/>
<circle cx="1092.45" cy="935.52" r="2.6" fill="#FEC681"/>
<circle cx="1095.83" cy="936.78" r="2.6" fill="#FEC681"/>
<circle cx="1099.22" cy="938.67" r="2.6" fill="#FEC681"/>
<circle cx="1102.6" cy="939.16" r="2.6" fill="#FEC681"/>
<circle cx="1105.98" cy="938.72" r="2.6" fill="#FEC681"/>
<circle cx="1109.37" cy="938.53" r="2.6" fill="#FEC681"/>
<circle cx="1112.75" cy="938.05" r="2.6" fill="#FEC681"/>
<circle cx="1116.14" cy="937.79" r="2.6" fill="#FEC681"/>
<circle cx="1119.52" cy="939.56" r="2.6" fill="#FEC681"/>
<circle cx="1122.9" cy="939.62" r="2.6" fill="#FEC681"/>
<circle cx="1126.29" cy="939.25" r="2.6" fill="#FEC681"/>
<circle cx="1129.67" cy="939.13" r="2.6" fill="#FEC681"/>
<circle cx="1133.06" cy="939.99" r="2.6" fill="#FEC681"/>
<circle cx="1136.44" cy="941.09" r="2.6" fill="#FEC681"/>
<circle cx="1139.82" cy="941.84" r="2.6" fill="#FEC681"/>
<circle cx="1143.21" cy="940.12" r="2.6" fill="#FEC681"/>
<circle cx="1146.59" cy="941.26" r="2.6" fill="#FEC681"/>
<circle cx="1149.98" cy="941.17" r="2.6" fill="#FEC681"/>
<circle cx="1153.36" cy="941.49" r="2.6" fill="#FEC681"/>
<circle cx="1156.74" cy="942.2" r="2.6" fill="#FEC681"/>
<circle cx="1160.13" cy="944.05" r="2.6" fill="#FEC681"/>
<circle cx="1163.51" cy="943.05" r="2.6" fill="#FEC681"/>
<circle cx="1166.9" cy="943.24" r="2.6" fill="#FEC681"/>
<circle cx="1170.28" cy="943.63" r="2.6" fill="#FEC681"/>
<circle cx="1173.66" cy="944.62" r="2.6" fill="#FEC681"/>
<circle cx="1177.05" cy="945.12" r="2.6" fill="#FEC681"/>
<circle cx="1180.43" cy="943.46" r="2.6" fill="#FEC681"/>
<circle cx="1183.82" cy="945.1" r="2.6" fill="#FEC681"/>
<circle cx="1187.2" cy="945.3" r="2.6" fill="#FEC681"/>
<ellipse cx="782.81" cy="1017" rx="3.5" ry="7" fill="#4F3020"/>
<ellipse cx="985.18" cy="970" rx="3" ry="3" fill="#EE9461"/>
<ellipse cx="884.33" cy="997" rx="3" ry="3" fill="#9C613C"/>
<ellipse cx="1086.7" cy="933" rx="3" ry="3" fill="#FEC681"/>
<ellipse cx="1186.18" cy="941.5" rx="3" ry="3" fill="#FEC681"/>
<ellipse cx="680.62" cy="1064" rx="3" ry="6" fill="#000"/>
<line x1="781.12" y1="909.6" x2="781.12" y2="924.6" stroke="#3c3c3c" stroke-width="1" />
<line x1="781.12" y1="1115" x2="781.12" y2="1100" stroke="#3c3c3c" stroke-width="1" />
<line x1="882.64" y1="909.6" x2="882.64" y2="924.6" stroke="#3c3c3c" stroke-width="1" />
<line x1="882.64" y1="1115" x2="882.64" y2="1100" stroke="#3c3c3c" stroke-width="1" />
<line x1="984.16" y1="909.6" x2="984.16" y2="924.6" stroke="#3c3c3c" stroke-width="1" />
<line x1="984.16" y1="1115" x2="984.16" y2="1100" stroke="#3c3c3c" stroke-width="1" />
<line x1="1085.68" y1="909.6" x2="1085.68" y2="924.6" stroke="#3c3c3c" stroke-width="1" />
<line x1="1085.68" y1="1115" x2="1085.68" y2="1100" stroke="#3c3c3c" stroke-width="1" />
<rect x="679.6" y="909.6" width="507.6" height="205.4" fill="none" stroke="#3c3c3c" stroke-width="1.1"/>
<text x="675.1" y="1121.5" font-size="12.3" fill="#2a2a2a" text-anchor="end">10<tspan font-size="9.5" dy="-6.0" dx="0.6">-12</tspan></text>
<text x="675.1" y="1062.81" font-size="12.3" fill="#2a2a2a" text-anchor="end">10<tspan font-size="9.5" dy="-6.0" dx="0.6">-10</tspan></text>
<text x="675.1" y="1004.13" font-size="12.3" fill="#2a2a2a" text-anchor="end">10<tspan font-size="9.5" dy="-6.0" dx="0.6">-8</tspan></text>
<text x="675.1" y="945.44" font-size="12.3" fill="#2a2a2a" text-anchor="end">10<tspan font-size="9.5" dy="-6.0" dx="0.6">-6</tspan></text>
<text x="679.6" y="1132" font-size="11.5" fill="#2a2a2a" text-anchor="middle" font-family='"Liberation Sans", sans-serif' >0</text>
<text x="781.12" y="1132" font-size="11.5" fill="#2a2a2a" text-anchor="middle" font-family='"Liberation Sans", sans-serif' >300</text>
<text x="882.64" y="1132" font-size="11.5" fill="#2a2a2a" text-anchor="middle" font-family='"Liberation Sans", sans-serif' >600</text>
<text x="984.16" y="1132" font-size="11.5" fill="#2a2a2a" text-anchor="middle" font-family='"Liberation Sans", sans-serif' >900</text>
<text x="1085.68" y="1132" font-size="11.5" fill="#2a2a2a" text-anchor="middle" font-family='"Liberation Sans", sans-serif' >1200</text>
<text x="1187.2" y="1132" font-size="11.5" fill="#2a2a2a" text-anchor="middle" font-family='"Liberation Sans", sans-serif' >1500</text>
<text x="933.3" y="1148" font-size="13.5" fill="#2a2a2a" text-anchor="middle" font-family='"Liberation Sans", sans-serif' >Time (s)</text>
<text font-size="13.5" fill="#2a2a2a" transform="translate(635 1044) rotate(-90)">I<tspan font-size="11.3" dy="7.6">DS</tspan><tspan dy="-7.6"> (A/</tspan><tspan font-family="Liberation Serif" font-style="italic">μ</tspan>m)</text>
</svg>
</body></html>
